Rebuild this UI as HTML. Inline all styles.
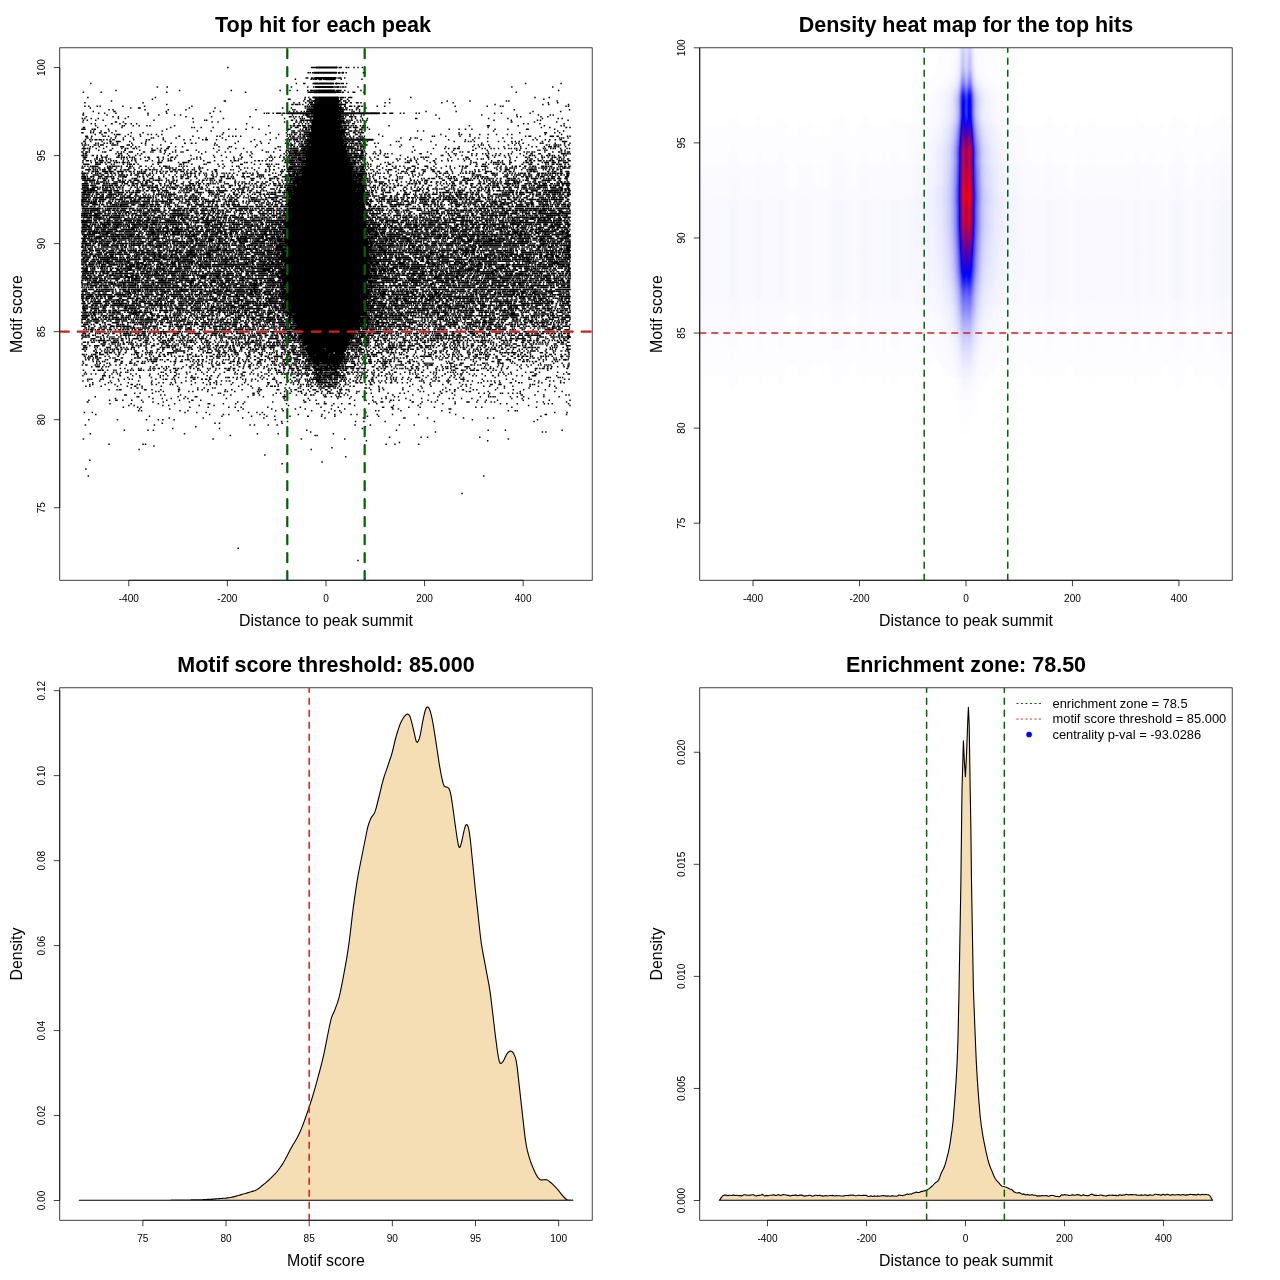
<!DOCTYPE html>
<html lang="en"><head><meta charset="utf-8"><title>Motif enrichment plots</title>
<style>html,body{margin:0;padding:0;background:#fff}body{width:1280px;height:1280px;overflow:hidden}svg{display:block;font-family:"Liberation Sans", Arial, Helvetica, sans-serif}.tk text{font-size:10.1px;text-anchor:middle}.tt{font-size:21.5px;font-weight:bold;text-anchor:middle}.lb{font-size:15.9px;text-anchor:middle}.lg{font-size:12.9px}</style></head><body>
<svg width="1280" height="1280" viewBox="0 0 1280 1280">
<defs><clipPath id="c00"><rect x="59.76" y="47.81" width="532.43" height="532.43"/></clipPath><clipPath id="c10"><rect x="699.76" y="47.81" width="532.43" height="532.43"/></clipPath><clipPath id="c01"><rect x="59.76" y="687.81" width="532.43" height="532.43"/></clipPath><clipPath id="c11"><rect x="699.76" y="687.81" width="532.43" height="532.43"/></clipPath></defs>
<rect width="1280" height="1280" fill="#fff"/>
<g id="p1">
<g clip-path="url(#c00)"><g transform="translate(325.98 0) scale(0.49299 1)" fill="none" stroke="#000" stroke-linecap="round"><path d="M-199 67.53h0m170 0h0m3 0h0m3 0h0m2 0h1m47 0h1m3 0h0m10 0h1m4 0h0m11 0h0m8 0h0m9 0h0M-36 72.81h0m4 0h0m5 0h0m53 0h0m2 0h0m13 0h0m35 0h0m3 0h0M-40 78.09h0m2 0h1m8 0h1m4 0h0m44 0h0m5 0h0m3 0h0m2 0h0m8 0h0M-62 79.33h0m32 0h0m4 0h0m4 0h0m3 0h0m17 0h0m19 0h1m13 0h0m42 0h0M-477 83.38h0m417 0h0m15 0h0m2 0h0m17 0h0m46 0h0m2 0h0m2 0h0m3 0h1m4 0h1m2 0h0m7 0h0m363 0h0m72 0h0M-342 86.9h0m20 0h0m252 0h0m33 0h0m12 0h0m42 0h2m3 0h0m3 0h1m4 0h0m4 0h0m2 0h0m4 0h0m25 0h0m312 0h0m83 0h0M-426 90.42h0m129 0h0m105 0h0m99 0h0m20 0h0m15 0h0m21 0h0m6 0h0m3 0h0m2 0h0m3 0h0m6 0h0m34 0h0m4 0h0m2 0h0m2 0h1m3 0h1m8 0h0m33 0h0m401 0h0M-492 92.18h0m36 0h0m133 0h0m160 0h0m127 0h0m2 0h0m3 0h0m3 0h2m47 0h0m2 0h0m2 0h0m3 0h2m4 0h1m10 0h0m10 0h0m3 0h0m19 0h0m309 0h0M-483 97.46h0m137 0h0m304 0h0m7 0h0m59 0h0m2 0h0m4 0h0m3 0h0m2 0h0m4 0h0m7 0h0m2 0h0m3 0h1m120 0h0m252 0h0m29 0h0M-352 99.22h0m276 0h0m3 0h0m30 0h0m10 0h2m56 0h0m5 0h0m2 0h0m12 0h0m85 0h0m313 0h0M-435 100.98h0m229 0h0m2 0h0m159 0h0m8 0h1m2 0h0m4 0h0m2 0h0m13 0h0m45 0h0m6 0h0m2 0h0m2 0h0m6 0h1m199 0h0m46 0h0m74 0h0m5 0h0m98 0h0M-489 102.74h0m118 0h0m306 0h0m11 0h0m13 0h0m11 0h0m2 0h0m5 0h0m49 0h0m5 0h0m9 0h0m3 0h0m7 0h1m11 0h0m3 0h0m6 0h0m49 0h0m9 0h0m106 0h0m23 0h0m193 0h0m19 0h0M-323 104.5h0m254 0h0m2 0h0m5 0h0m2 0h0m3 0h0m4 0h0m6 0h0m11 0h0m5 0h1m2 0h0m2 0h1m53 0h0m4 0h0m3 0h0m2 0h0m2 0h0m304 0h0m97 0h0m12 0h0m40 0h0M-489 106.26h0m8 0h0m17 0h0m6 0h0m46 0h0m44 0h0m96 0h0m230 0h0m4 0h0m4 0h1m4 0h0m2 0h0m53 0h0m4 0h0m8 0h1m9 0h0m2 0h0m2 0h0m6 0h0m7 0h0m2 0h1m5 0h0m31 0h0m15 0h0m143 0h0m65 0h0m27 0h0m5 0h0m128 0h0m5 0h0M-478 108.03h0m82 0h0m16 0h0m3 0h0m100 0h0m52 0h0m137 0h0m18 0h0m28 0h0m4 0h1m3 0h0m2 0h0m2 0h1m2 0h1m58 0h0m3 0h0m5 0h0m3 0h0m19 0h0m3 0h0m16 0h0M-440 109.79h0m8 0h0m65 0h0m47 0h0m36 0h0m142 0h0m75 0h0m4 0h0m25 0h0m3 0h0m2 0h1m59 0h1m4 0h1m3 0h0m2 0h0m4 0h0m6 0h0m5 0h0m9 0h0m6 0h0m314 0h0m112 0h0M-472 111.55h0m42 0h0m2 0h0m104 0h0m96 0h0m14 0h0m140 0h0m9 0h0m6 0h0m9 0h0m6 0h0m5 0h0m2 0h0m2 0h1m3 0h0m5 0h1m56 0h0m2 0h0m2 0h0m18 0h0m4 0h0m11 0h0m135 0h0m61 0h0m156 0h0m56 0h0M-492 113.31h0m31 0h0m12 0h0m23 0h0m65 0h0m38 0h0m88 0h0m110 0h0m5 0h0m4 0h0m9 0h0m7 0h0m3 0h1m3 0h1m5 0h0m3 0h0m200 0h1m3 0h1m9 0h1m3 0h1m16 0h0m7 0h0m25 0h0m6 0h0m153 0h0m14 0h0m58 0h0M-493 115.07h1m48 0h0m83 0h0m22 0h0m32 0h0m12 0h0m206 0h0m21 0h0m22 0h0m4 0h0m5 0h0m3 0h0m4 0h0m2 0h2m57 0h0m2 0h1m3 0h0m2 0h0m2 0h1m2 0h1m6 0h0m5 0h0m16 0h0m5 0h0m146 0h0m93 0h0m71 0h0m44 0h0m24 0h0m6 0h0M-486 116.83h0m54 0h0m11 0h0m20 0h0m117 0h0m52 0h0m78 0h0m80 0h0m3 0h0m5 0h0m5 0h0m7 0h0m6 0h0m10 0h0m5 0h0m8 0h0m52 0h0m7 0h1m5 0h0m8 0h1m3 0h2m5 0h1m11 0h0m317 0h0m7 0h0m41 0h0m14 0h0M-494 118.59h0m5 0h0m13 0h0m14 0h0m41 0h0m14 0h0m137 0h0m62 0h0m124 0h0m20 0h0m12 0h0m4 0h0m4 0h0m70 0h0m5 0h2m2 0h0m3 0h0m14 0h0m8 0h0m14 0h0m10 0h0m98 0h0m2 0h0m46 0h0m100 0h0m39 0h0m70 0h0m32 0h0m8 0h0M-492 120.35h0m8 0h0m17 0h0m15 0h0m103 0h0m103 0h0m4 0h0m172 0h0m2 0h0m8 0h0m9 0h1m2 0h0m3 0h0m4 0h1m3 0h0m3 0h1m2 0h0m5 0h1m57 0h1m2 0h1m6 0h1m4 0h0m4 0h0m2 0h0m10 0h0m7 0h0m5 0h0m8 0h0m258 0h0m35 0h0m53 0h0m6 0h0m56 0h0M-493 122.11h0m66 0h0m2 0h0m14 0h0m142 0h0m38 0h0m12 0h0m135 0h0m23 0h0m2 0h0m6 0h3m5 0h0m7 0h0m6 0h2m2 0h0m65 0h1m2 0h0m3 0h0m3 0h1m2 0h0m9 0h0m7 0h0m6 0h0m10 0h0m295 0h1m46 0h0m45 0h0M-476 123.87h0m8 0h0m33 0h1m16 0h0m11 0h1m11 0h0m11 0h0m223 0h0m96 0h1m9 0h0m7 0h0m7 0h0m5 0h1m67 0h0m4 0h0m3 0h1m5 0h1m8 0h0m3 0h0m344 0h0m9 0h0m24 0h0m49 0h0M-467 125.63h0m20 0h0m34 0h0m4 0h0m18 0h0m12 0h0m16 0h0m6 0h0m50 0h0m191 0h0m44 0h1m13 0h1m3 0h0m2 0h0m5 0h0m2 0h0m3 0h0m6 0h0m2 0h0m66 0h0m4 0h0m3 0h0m2 0h0m3 0h2m5 0h0m4 0h0m5 0h1m9 0h0m5 0h0m3 0h1m49 0h0m163 0h0m37 0h0m3 0h0m59 0h0m53 0h0m34 0h0m6 0h0M-492 127.39h0m2 0h0m27 0h0m49 0h0m99 0h0m43 0h0m5 0h0m14 0h0m24 0h0m80 0h0m78 0h1m8 0h2m3 0h0m12 0h0m2 0h0m3 0h0m4 0h0m4 0h1m62 0h0m3 0h0m4 0h3m6 0h1m2 0h0m6 0h0m2 0h0m2 0h0m3 0h1m9 0h1m3 0h1m6 0h0m245 0h0m108 0h0m17 0h0m33 0h1m7 0h0M-495 129.15h0m3 0h0m3 0h0m15 0h0m4 0h0m2 0h0m27 0h0m118 0h0m126 0h0m14 0h0m21 0h0m26 0h0m59 0h0m3 0h1m21 0h0m5 0h0m6 0h0m2 0h0m4 0h1m4 0h0m72 0h0m18 0h0m9 0h1m3 0h0m6 0h0m9 0h0m162 0h0m20 0h0m13 0h0m13 0h0m47 0h0m26 0h0m38 0h0m3 0h0m54 0h0M-477 130.91h0m6 0h0m15 0h0m16 0h0m14 0h0m94 0h0m71 0h0m28 0h0m155 0h0m9 0h0m2 0h0m3 0h0m8 0h0m3 0h0m4 0h1m3 0h1m3 0h0m3 0h1m2 0h1m81 0h0m2 0h0m3 0h0m5 0h0m2 0h0m3 0h1m4 0h0m5 0h1m6 0h0m107 0h0m12 0h0m142 0h0m130 0h0m12 0h0M-495 132.67h0m2 0h0m16 0h0m5 0h0m13 0h0m2 0h0m8 0h0m3 0h0m12 0h0m39 0h0m24 0h0m163 0h0m95 0h0m33 0h0m11 0h0m4 0h0m2 0h0m4 0h0m7 0h0m8 0h2m3 0h0m2 0h0m2 0h1m67 0h0m5 0h0m3 0h0m4 0h1m10 0h0m2 0h1m7 0h1m4 0h1m2 0h0m2 0h0m194 0h0m123 0h0m51 0h0m3 0h0m17 0h0m10 0h0M-468 134.44h0m14 0h0m25 0h0m5 0h1m2 0h0m3 0h0m17 0h0m24 0h0m16 0h0m7 0h0m10 0h0m11 0h0m123 0h0m88 0h0m26 0h0m18 0h0m4 0h0m11 0h0m2 0h0m8 0h1m4 0h1m4 0h0m3 0h0m2 0h0m2 0h1m77 0h0m5 0h0m13 0h0m3 0h0m7 0h0m37 0h0m126 0h0m37 0h0m5 0h0m17 0h0m20 0h0m17 0h0m17 0h0m22 0h0m9 0h0m68 0h0m33 0h0M-487 136.2h0m3 0h0m9 0h0m23 0h0m4 0h0m7 0h0m15 0h0m19 0h0m11 0h0m20 0h0m36 0h0m42 0h1m27 0h0m49 0h0m6 0h0m18 0h0m8 0h0m6 0h0m10 0h0m94 0h0m6 0h1m5 0h0m2 0h0m9 0h0m4 0h0m6 0h0m2 0h0m4 0h0m2 0h1m72 0h0m3 0h0m2 0h0m8 0h1m7 0h0m11 0h0m2 0h0m4 0h0m5 0h0m37 0h0m101 0h0m4 0h0m23 0h0m29 0h0m20 0h0m113 0h0m7 0h0m3 0h0m19 0h0m21 0h0m2 0h0m3 0h1m8 0h0m2 0h0m19 0h0m5 0h0M-486 137.96h0m3 0h0m7 0h0m40 0h0m9 0h0m16 0h0m20 0h0m37 0h0m4 0h0m20 0h0m26 0h0m46 0h0m15 0h0m33 0h0m109 0h0m25 0h0m5 0h0m2 0h0m2 0h0m3 0h1m4 0h0m2 0h0m4 0h0m3 0h2m3 0h0m3 0h0m5 0h4m68 0h1m3 0h0m4 0h0m2 0h1m4 0h0m2 0h0m4 0h0m6 0h0m3 0h0m4 0h0m3 0h2m3 0h0m75 0h0m20 0h0m9 0h0m4 0h0m117 0h0m8 0h0m18 0h0m31 0h0m18 0h0m48 0h0m49 0h0m4 0h0m4 0h0m9 0h0M-488 139.72h0m9 0h0m5 0h0m6 0h0m2 0h1m5 0h0m3 0h1m5 0h0m7 0h0m6 0h0m6 0h0m2 0h0m19 0h0m21 0h0m26 0h0m5 0h1m28 0h0m42 0h0m13 0h0m25 0h0m6 0h0m3 0h0m19 0h0m19 0h0m58 0h0m32 0h0m32 0h0m6 0h0m3 0h1m5 0h0m3 0h0m2 0h0m3 0h0m6 0h0m6 0h1m4 0h1m210 0h0m23 0h0m56 0h0m34 0h0m15 0h0m99 0h0m23 0h0m8 0h0m17 0h0m9 0h0m11 0h0m10 0h0m2 0h0M-491 141.48h2m12 0h0m23 0h0m16 0h0m2 0h0m11 0h0m2 0h0m3 0h0m2 0h0m20 0h0m33 0h0m39 0h0m148 0h0m26 0h0m19 0h0m59 0h0m10 0h0m5 0h1m3 0h0m5 0h0m2 0h0m5 0h0m80 0h4m4 0h1m2 0h0m5 0h0m2 0h1m10 0h0m3 0h0m6 0h0m9 0h0m59 0h0m5 0h0m65 0h0m47 0h0m22 0h0m7 0h0m5 0h0m7 0h0m27 0h0m22 0h0m12 0h0m15 0h0m7 0h0m8 0h0m47 0h0m13 0h0m28 0h0m2 0h0m3 0h0m3 0h0M-495 143.24h0m7 0h0m21 0h0m5 0h0m12 0h0m6 0h0m7 0h0m5 0h0m9 0h0m29 0h0m20 0h0m8 0h0m52 0h0m41 0h1m8 0h0m39 0h0m41 0h0m53 0h0m15 0h0m34 0h0m6 0h0m5 0h0m8 0h0m9 0h1m4 0h0m5 0h0m2 0h0m3 0h0m3 0h0m72 0h0m8 0h0m5 0h0m3 0h1m3 0h0m4 0h4m4 0h0m3 0h0m5 0h0m4 0h0m19 0h0m7 0h0m210 0h0m62 0h0m8 0h0m5 0h0m9 0h0m35 0h1m4 0h0m25 0h0m19 0h0m11 0h0M-494 145h0m4 0h0m3 0h0m5 0h0m12 0h0m3 0h0m5 0h0m5 0h0m3 0h0m2 0h0m18 0h1m2 0h0m2 0h2m4 0h0m20 0h0m3 0h1m7 0h0m26 0h0m14 0h0m17 0h0m109 0h0m5 0h0m81 0h0m62 0h1m2 0h0m4 0h0m3 0h0m4 0h0m9 0h0m4 0h1m3 0h1m4 0h0m2 0h0m6 0h0m75 0h0m6 0h0m5 0h0m5 0h1m3 0h0m2 0h0m2 0h0m4 0h0m2 0h4m5 0h0m2 0h1m48 0h0m22 0h0m70 0h0m78 0h0m8 0h0m6 0h0m4 0h0m11 0h0m40 0h0m13 0h0m10 0h0m18 0h0m36 0h1m5 0h0m10 0h0m3 0h0m2 0h0m4 0h0m4 0h0m8 0h0m8 0h1M-491 146.76h0m13 0h0m5 0h0m13 0h0m15 0h0m29 0h0m3 0h0m2 0h0m16 0h0m9 0h0m7 0h0m59 0h0m2 0h0m13 0h0m14 0h0m74 0h0m21 0h0m4 0h0m49 0h0m46 0h0m4 0h0m14 0h0m2 0h0m6 0h0m6 0h1m6 0h0m5 0h0m3 0h0m2 0h1m3 0h0m96 0h1m11 0h1m5 0h0m3 0h0m2 0h0m3 0h0m23 0h0m49 0h0m27 0h0m66 0h0m27 0h0m28 0h0m13 0h0m21 0h0m29 0h0m34 0h0m23 0h0m9 0h0m16 0h0m9 0h2m3 0h0m6 0h0m3 0h0m5 0h1m14 0h0M-494 148.52h0m2 0h1m3 0h0m4 0h0m4 0h1m13 0h0m15 0h0m18 0h0m19 0h0m7 0h1m4 0h0m11 0h0m2 0h0m5 0h0m31 0h0m11 0h0m8 0h0m11 0h0m3 0h0m92 0h0m29 0h0m16 0h0m16 0h0m64 0h1m27 0h1m2 0h0m2 0h0m2 0h0m2 0h1m8 0h0m8 0h0m6 0h0m3 0h0m80 0h0m4 0h1m2 0h1m2 0h2m3 0h0m2 0h0m7 0h1m5 0h1m5 0h1m141 0h0m23 0h0m8 0h0m11 0h0m2 0h0m5 0h0m3 0h0m34 0h0m13 0h0m6 0h0m12 0h0m6 0h0m9 0h0m13 0h0m8 0h0m5 0h0m7 0h0m4 0h0m8 0h0m11 0h0m35 0h0m4 0h0m11 0h0m5 0h0m4 0h0m11 0h0m13 0h0m5 0h0M-491 150.28h0m11 0h0m19 0h0m23 0h0m2 0h0m28 0h1m29 0h0m25 0h0m3 0h0m3 0h0m11 0h0m9 0h0m2 0h0m20 0h0m23 0h0m2 0h0m17 0h0m46 0h0m88 0h0m36 0h0m13 0h0m8 0h1m4 0h2m3 0h0m3 0h2m5 0h1m3 0h0m2 0h0m99 0h0m6 0h2m2 0h0m3 0h2m3 0h1m2 0h0m4 0h0m32 0h0m70 0h0m79 0h0m39 0h1m28 0h0m60 0h0m6 0h0m37 0h0m4 0h0m10 0h0m4 0h0m29 0h1m7 0h0M-495 152.04h0m2 0h0m6 0h0m2 0h1m4 0h0m27 0h0m4 0h0m2 0h0m24 0h1m7 0h0m5 0h0m11 0h0m3 0h0m3 0h0m23 0h0m2 0h0m13 0h0m4 0h0m15 0h1m9 0h0m15 0h0m6 0h0m11 0h0m4 0h0m32 0h0m14 0h0m23 0h0m17 0h0m10 0h0m34 0h0m8 0h0m31 0h0m4 0h0m11 0h0m25 0h1m8 0h1m2 0h0m2 0h0m9 0h0m2 0h0m2 0h0m3 0h0m3 0h0m5 0h0m3 0h0m6 0h0m78 0h2m6 0h1m10 0h0m16 0h0m19 0h1m12 0h0m64 0h0m31 0h0m38 0h0m12 0h0m16 0h0m5 0h0m11 0h0m2 0h0m39 0h0m49 0h0m24 0h0m6 0h0m4 0h0m6 0h1m4 0h0m21 0h0m16 0h0m12 0h0m2 0h0m4 0h0m7 0h0m5 0h1m2 0h1M-492 153.8h0m4 0h0m2 0h0m60 0h0m6 0h0m4 0h1m12 0h0m21 0h0m8 0h0m46 0h0m11 0h0m65 0h0m80 0h0m22 0h0m65 0h0m6 0h0m5 0h0m2 0h1m2 0h0m6 0h0m3 0h0m3 0h0m4 0h0m2 0h0m2 0h0m2 0h0m98 0h1m2 0h1m3 0h2m2 0h1m3 0h0m5 0h0m2 0h0m2 0h0m6 0h1m14 0h0m5 0h0m9 0h0m10 0h0m5 0h0m9 0h0m57 0h0m2 0h0m20 0h0m35 0h0m12 0h0m4 0h0m32 0h0m10 0h0m12 0h0m6 0h0m6 0h0m15 0h0m9 0h0m16 0h0m6 0h0m18 0h0m13 0h0m9 0h0m2 0h0m14 0h0m3 0h0m17 0h0m2 0h0m24 0h0m3 0h0m2 0h0m2 0h0m4 0h0m2 0h0m4 0h0M-495 155.56h0m2 0h0m2 0h0m4 0h2m11 0h0m2 0h0m8 0h0m8 0h0m12 0h0m23 0h0m2 0h0m5 0h0m14 0h0m14 0h0m9 0h0m57 0h0m18 0h0m28 0h0m46 0h0m16 0h0m38 0h0m20 0h0m42 0h0m20 0h0m11 0h1m5 0h0m3 0h3m4 0h0m3 0h2m2 0h0m2 0h0m9 0h2m3 0h0m4 0h0m81 0h0m3 0h0m2 0h1m2 0h1m7 0h0m3 0h0m5 0h0m3 0h0m3 0h0m3 0h0m4 0h0m26 0h0m12 0h0m33 0h0m83 0h0m3 0h0m13 0h0m13 0h0m13 0h0m20 0h0m9 0h0m21 0h0m2 0h0m10 0h0m6 0h0m7 0h1m10 0h0m9 0h0m30 0h0m12 0h0m2 0h0m4 0h0m4 0h0m15 0h0m10 0h1m4 0h1m5 0h0m4 0h0m9 0h0m10 0h0m5 0h0M-492 157.32h0m2 0h0m3 0h1m21 0h1m9 0h2m5 0h0m3 0h0m21 0h0m3 0h1m5 0h1m4 0h1m5 0h0m6 0h0m5 0h0m4 0h0m22 0h0m6 0h0m2 0h0m17 0h0m2 0h0m10 0h0m16 0h0m3 0h0m6 0h0m43 0h0m7 0h0m29 0h0m24 0h0m15 0h0m16 0h1m19 0h0m36 0h1m4 0h0m6 0h0m10 0h0m8 0h1m7 0h0m2 0h1m11 0h0m2 0h0m2 0h0m4 0h0m2 0h1m2 0h0m100 0h1m3 0h0m4 0h0m5 0h0m2 0h0m2 0h1m2 0h0m2 0h0m2 0h2m14 0h0m10 0h0m22 0h0m2 0h0m3 0h0m40 0h0m13 0h0m14 0h0m4 0h0m5 0h0m2 0h0m4 0h0m45 0h0m31 0h0m2 0h0m2 0h0m40 0h0m2 0h0m12 0h0m22 0h0m9 0h0m14 0h0m18 0h2m5 0h0m13 0h0m13 0h1m4 0h0m8 0h0m8 0h1m4 0h0m2 0h0m7 0h0m3 0h0m7 0h0M-491 159.09h0m3 0h0m19 0h0m4 0h1m5 0h0m5 0h0m8 0h0m5 0h0m4 0h0m22 0h0m5 0h0m7 0h0m10 0h0m5 0h0m2 0h0m10 0h0m17 0h1m19 0h0m9 0h0m10 0h0m5 0h0m8 0h0m34 0h0m5 0h0m6 0h0m8 0h0m68 0h0m9 0h0m5 0h0m53 0h0m11 0h0m23 0h0m2 0h0m8 0h0m3 0h1m2 0h0m2 0h0m2 0h1m3 0h0m2 0h1m8 0h1m3 0h0m2 0h0m93 0h0m3 0h1m3 0h0m5 0h0m2 0h0m5 0h1m2 0h0m4 0h0m5 0h0m11 0h0m13 0h0m2 0h0m37 0h1m6 0h0m11 0h0m11 0h0m8 0h0m6 0h0m13 0h0m24 0h0m24 0h0m21 0h0m11 0h0m6 0h0m5 0h1m16 0h0m8 0h0m4 0h0m11 0h0m44 0h0m35 0h0m5 0h0m2 0h0m2 0h0m12 0h0m9 0h0m17 0h0m3 0h0m10 0h0m4 0h0m5 0h0m4 0h0m8 0h0m2 0h0M-493 160.85h0m7 0h1m3 0h0m5 0h0m9 0h0m8 0h0m3 0h0m2 0h0m2 0h1m7 0h0m9 0h0m5 0h0m5 0h1m14 0h0m10 0h0m7 0h0m7 0h1m20 0h0m4 0h0m10 0h0m13 0h0m7 0h0m12 0h0m4 0h0m3 0h0m34 0h1m2 0h0m28 0h0m22 0h0m16 0h0m17 0h0m7 0h0m3 0h0m5 0h0m34 0h0m7 0h0m2 0h0m6 0h0m7 0h0m8 0h0m4 0h0m22 0h0m6 0h0m7 0h0m3 0h0m6 0h0m2 0h0m4 0h1m4 0h1m3 0h0m2 0h0m9 0h0m88 0h1m4 0h0m3 0h0m9 0h2m2 0h0m6 0h0m19 0h0m52 0h0m20 0h0m5 0h0m2 0h0m10 0h0m22 0h0m13 0h0m2 0h0m15 0h0m13 0h0m7 0h0m26 0h0m13 0h0m42 0h0m13 0h2m7 0h0m15 0h0m11 0h0m21 0h0m2 0h0m6 0h0m3 0h0m6 0h1m8 0h0m2 0h3m6 0h0m6 0h0m5 0h0m3 0h0m4 0h2m10 0h0m2 0h0m3 0h0m4 0h0m4 0h0m7 0h3M-493 162.61h0m17 0h0m9 0h1m3 0h0m5 0h0m2 0h2m6 0h0m6 0h0m2 0h0m2 0h0m9 0h0m4 0h0m2 0h0m4 0h0m6 0h0m3 0h0m2 0h0m5 0h0m4 0h0m14 0h0m44 0h0m3 0h0m3 0h1m35 0h0m9 0h0m3 0h0m3 0h1m4 0h0m39 0h0m3 0h0m2 0h0m45 0h0m25 0h0m4 0h1m9 0h0m68 0h1m2 0h0m4 0h1m6 0h0m3 0h0m2 0h3m2 0h0m9 0h0m2 0h1m97 0h0m21 0h1m12 0h0m36 0h0m6 0h0m10 0h0m25 0h1m4 0h0m3 0h0m15 0h0m27 0h0m10 0h0m73 0h0m6 0h0m4 0h1m20 0h0m10 0h0m5 0h0m2 0h0m3 0h0m4 0h0m5 0h0m4 0h0m15 0h0m3 0h0m25 0h0m5 0h0m3 0h1m6 0h0m2 0h0m21 0h0m5 0h0m2 0h0m3 0h0m2 0h0m8 0h1m2 0h0m2 0h1m7 0h0m10 0h0m3 0h0m2 0h0m2 0h1M-491 164.37h0m3 0h1m3 0h0m3 0h0m14 0h4m2 0h0m2 0h1m12 0h0m11 0h0m5 0h0m19 0h0m9 0h0m4 0h0m3 0h0m5 0h1m8 0h0m30 0h0m11 0h0m44 0h0m2 0h0m5 0h0m17 0h0m25 0h0m4 0h0m24 0h0m10 0h0m36 0h0m3 0h0m25 0h0m12 0h0m12 0h0m2 0h0m4 0h0m5 0h0m9 0h1m4 0h0m24 0h0m2 0h1m2 0h0m10 0h3m4 0h0m5 0h2m97 0h0m2 0h1m3 0h0m6 0h0m6 0h1m3 0h0m3 0h0m2 0h0m5 0h0m5 0h0m20 0h0m16 0h0m2 0h0m2 0h0m56 0h0m36 0h0m70 0h0m13 0h0m12 0h1m4 0h0m7 0h0m10 0h0m5 0h0m4 0h0m2 0h0m8 0h0m3 0h0m11 0h0m25 0h1m13 0h0m2 0h0m3 0h0m13 0h1m15 0h0m5 0h0m8 0h0m3 0h0m6 0h0m2 0h0m4 0h0m2 0h1m8 0h0m7 0h0M-494 166.13h0m5 0h0m6 0h0m10 0h1m2 0h0m3 0h0m2 0h0m2 0h0m20 0h0m4 0h0m2 0h0m4 0h0m2 0h1m2 0h0m4 0h0m4 0h0m5 0h0m11 0h1m5 0h1m4 0h0m16 0h0m2 0h0m10 0h0m11 0h0m17 0h0m8 0h0m3 0h0m3 0h0m5 0h0m20 0h0m5 0h0m5 0h0m6 0h0m25 0h0m40 0h0m11 0h0m16 0h0m9 0h0m4 0h0m59 0h1m4 0h0m8 0h0m20 0h0m6 0h0m5 0h0m2 0h1m3 0h0m127 0h2m4 0h0m7 0h0m5 0h0m2 0h1m5 0h0m6 0h0m13 0h0m4 0h0m15 0h0m12 0h0m7 0h0m8 0h0m8 0h0m17 0h0m2 0h0m2 0h1m21 0h0m2 0h0m3 0h0m13 0h0m25 0h0m8 0h0m19 0h0m6 0h1m6 0h0m3 0h0m17 0h0m2 0h0m10 0h0m3 0h0m3 0h1m3 0h0m22 0h0m7 0h0m10 0h0m13 0h0m6 0h0m2 0h0m7 0h1m9 0h0m2 0h0m9 0h0m5 0h0m2 0h0m4 0h0m13 0h3m4 0h0m2 0h0m4 0h0m4 0h0m3 0h0m14 0h0m4 0h0m3 0h0m5 0h2m7 0h0m2 0h0M-495 167.89h0m3 0h0m12 0h0m6 0h0m2 0h0m4 0h1m5 0h0m3 0h0m10 0h0m6 0h0m4 0h2m3 0h0m9 0h0m10 0h0m15 0h0m3 0h1m6 0h0m11 0h0m19 0h0m11 0h0m16 0h0m8 0h0m3 0h0m3 0h0m3 0h0m4 0h1m7 0h0m14 0h0m23 0h0m9 0h0m3 0h0m4 0h1m41 0h0m33 0h0m11 0h0m6 0h0m9 0h0m14 0h0m21 0h0m19 0h0m17 0h0m3 0h1m9 0h0m2 0h1m3 0h0m4 0h1m2 0h2m2 0h0m106 0h0m4 0h0m2 0h0m2 0h1m3 0h1m3 0h0m3 0h0m4 0h0m7 0h0m16 0h0m12 0h0m23 0h1m3 0h0m18 0h0m6 0h0m3 0h0m2 0h0m10 0h0m5 0h1m19 0h0m7 0h0m10 0h0m11 0h0m18 0h0m9 0h0m16 0h0m5 0h0m2 0h0m39 0h0m5 0h0m14 0h0m4 0h0m7 0h0m2 0h0m9 0h0m2 0h1m6 0h2m3 0h0m4 0h0m4 0h0m14 0h0m4 0h0m8 0h0m4 0h1m2 0h0m4 0h0m3 0h0m6 0h0m5 0h0m2 0h0m2 0h0m2 0h0m3 0h0m2 0h0m6 0h0m4 0h0m4 0h1m6 0h1m5 0h0m5 0h1m2 0h0m2 0h0m4 0h0m3 0h0m2 0h0M-487 169.65h0m2 0h0m3 0h0m3 0h1m6 0h0m4 0h0m4 0h0m6 0h0m5 0h0m2 0h0m3 0h0m8 0h1m2 0h0m8 0h0m2 0h0m11 0h0m7 0h0m2 0h0m4 0h0m3 0h0m12 0h0m14 0h0m8 0h0m2 0h0m6 0h0m2 0h0m5 0h0m4 0h0m4 0h0m9 0h0m17 0h0m7 0h0m2 0h0m3 0h0m6 0h0m2 0h0m3 0h0m6 0h0m8 0h0m9 0h0m4 0h0m11 0h0m16 0h0m14 0h1m3 0h0m29 0h0m5 0h0m15 0h0m28 0h0m31 0h0m8 0h1m16 0h0m5 0h0m6 0h0m3 0h1m2 0h1m2 0h0m2 0h1m3 0h0m2 0h0m6 0h1m95 0h0m12 0h0m2 0h0m2 0h0m4 0h0m4 0h0m13 0h0m5 0h0m8 0h0m4 0h0m13 0h1m13 0h0m5 0h0m3 0h0m3 0h0m14 0h0m17 0h0m2 0h0m13 0h0m16 0h0m2 0h0m4 0h0m13 0h0m3 0h0m2 0h0m35 0h0m22 0h0m26 0h0m8 0h0m8 0h0m5 0h0m24 0h0m8 0h0m9 0h0m3 0h0m3 0h1m11 0h0m15 0h0m11 0h0m4 0h2m3 0h0m3 0h0m2 0h0m4 0h0m15 0h0m5 0h0m7 0h1m6 0h1m8 0h0m2 0h0m5 0h0m2 0h0M-494 171.41h0m13 0h0m7 0h1m2 0h0m4 0h0m3 0h0m2 0h0m9 0h0m2 0h0m2 0h1m2 0h0m2 0h1m4 0h0m2 0h0m3 0h0m2 0h0m9 0h1m2 0h0m2 0h0m3 0h0m2 0h0m2 0h0m6 0h0m6 0h0m2 0h1m6 0h0m8 0h0m4 0h0m4 0h0m5 0h0m3 0h0m14 0h0m9 0h0m6 0h1m6 0h0m6 0h2m7 0h0m3 0h0m6 0h0m4 0h0m8 0h1m2 0h0m2 0h0m7 0h0m8 0h0m9 0h0m2 0h0m9 0h1m22 0h0m7 0h0m2 0h0m45 0h0m15 0h0m22 0h0m17 0h1m7 0h0m23 0h0m3 0h0m2 0h0m8 0h0m2 0h0m11 0h1m3 0h0m4 0h1m115 0h0m2 0h0m3 0h0m4 0h1m4 0h3m3 0h1m18 0h0m7 0h0m21 0h1m16 0h0m12 0h0m2 0h0m2 0h0m5 0h0m10 0h1m2 0h0m2 0h0m2 0h0m18 0h0m3 0h0m16 0h0m3 0h0m7 0h0m3 0h0m14 0h0m2 0h0m10 0h0m19 0h0m9 0h0m8 0h0m5 0h0m6 0h0m7 0h0m2 0h0m12 0h0m2 0h0m3 0h0m4 0h0m2 0h0m18 0h0m9 0h0m3 0h0m7 0h0m3 0h0m6 0h0m28 0h0m5 0h0m3 0h0m4 0h0m3 0h0m4 0h0m22 0h0m2 0h0m7 0h0m4 0h1m2 0h0m10 0h0m2 0h0m9 0h0m2 0h1m2 0h0M-495 173.17h0m2 0h0m3 0h0m3 0h0m4 0h0m8 0h0m8 0h0m4 0h0m4 0h0m2 0h0m9 0h1m2 0h2m6 0h0m2 0h0m5 0h0m2 0h0m7 0h0m7 0h1m18 0h0m6 0h0m7 0h0m3 0h0m4 0h0m2 0h0m2 0h0m2 0h2m10 0h0m5 0h0m8 0h0m9 0h2m8 0h0m22 0h0m16 0h0m5 0h0m2 0h0m5 0h0m3 0h0m5 0h1m9 0h1m8 0h0m5 0h0m13 0h0m9 0h0m10 0h0m4 0h0m5 0h0m6 0h1m8 0h0m18 0h0m3 0h1m6 0h0m5 0h0m6 0h0m9 0h1m30 0h0m6 0h0m12 0h0m15 0h1m6 0h0m9 0h0m6 0h0m3 0h0m104 0h0m11 0h4m3 0h1m2 0h1m2 0h1m3 0h0m5 0h0m5 0h0m9 0h0m5 0h0m4 0h0m8 0h0m8 0h0m21 0h0m5 0h0m9 0h0m4 0h0m10 0h0m14 0h0m8 0h0m26 0h0m8 0h2m7 0h0m3 0h0m4 0h0m10 0h0m16 0h0m5 0h0m6 0h1m6 0h0m6 0h1m3 0h0m22 0h2m11 0h2m2 0h0m2 0h0m5 0h0m12 0h0m9 0h0m5 0h0m5 0h0m6 0h0m7 0h0m4 0h0m3 0h0m4 0h2m7 0h0m2 0h0m17 0h1m2 0h0m5 0h0m2 0h0m2 0h0m4 0h0m5 0h0m4 0h0m4 0h0m3 0h0m3 0h0m4 0h1m2 0h0m4 0h0m3 0h0m14 0h0M-494 174.93h1m3 0h0m5 0h0m13 0h0m2 0h0m3 0h0m2 0h0m2 0h0m2 0h0m5 0h0m3 0h0m2 0h0m9 0h0m8 0h0m7 0h0m7 0h0m3 0h0m3 0h1m3 0h1m5 0h1m7 0h1m8 0h0m2 0h0m2 0h0m2 0h0m10 0h0m7 0h0m4 0h0m3 0h0m7 0h0m21 0h0m11 0h0m12 0h0m12 0h0m5 0h0m4 0h0m4 0h0m7 0h0m9 0h0m8 0h0m11 0h0m4 0h0m10 0h0m3 0h0m8 0h0m15 0h0m7 0h0m9 0h0m10 0h0m12 0h0m17 0h0m2 0h1m10 0h0m3 0h1m3 0h0m3 0h1m11 0h0m2 0h0m18 0h0m4 0h0m10 0h2m2 0h1m2 0h0m5 0h0m6 0h0m4 0h0m4 0h0m2 0h1m2 0h0m2 0h0m113 0h0m12 0h0m3 0h0m3 0h0m6 0h0m8 0h0m4 0h0m30 0h0m2 0h0m11 0h0m25 0h0m8 0h0m5 0h0m9 0h0m5 0h0m30 0h0m13 0h0m12 0h0m19 0h0m28 0h1m2 0h0m5 0h0m2 0h0m2 0h0m3 0h0m2 0h0m24 0h0m3 0h1m2 0h0m3 0h0m16 0h0m2 0h0m2 0h0m2 0h0m8 0h0m6 0h0m4 0h0m3 0h1m3 0h0m7 0h0m2 0h0m2 0h0m6 0h1m2 0h0m3 0h0m11 0h0m2 0h0m2 0h0m6 0h1m4 0h0m2 0h0m2 0h0m2 0h1m4 0h1m4 0h0m7 0h0m4 0h0m6 0h0m2 0h0m5 0h0m6 0h0M-495 176.69h1m2 0h1m3 0h0m4 0h0m7 0h0m6 0h0m10 0h0m2 0h0m2 0h0m2 0h0m7 0h1m2 0h3m4 0h0m3 0h0m4 0h0m11 0h0m4 0h0m4 0h2m4 0h1m23 0h0m11 0h1m8 0h0m10 0h0m13 0h0m10 0h0m18 0h1m7 0h0m9 0h0m3 0h1m10 0h1m4 0h0m9 0h0m2 0h0m21 0h0m14 0h1m5 0h0m9 0h1m3 0h1m3 0h0m7 0h0m7 0h0m4 0h0m18 0h0m3 0h1m6 0h1m3 0h0m16 0h1m4 0h0m4 0h0m4 0h0m22 0h1m2 0h0m2 0h0m12 0h1m3 0h0m3 0h0m6 0h2m3 0h0m2 0h0m7 0h0m8 0h0m108 0h0m12 0h0m3 0h0m11 0h0m8 0h0m6 0h0m14 0h0m8 0h0m12 0h0m16 0h0m5 0h0m5 0h0m22 0h0m10 0h0m37 0h0m5 0h0m2 0h0m13 0h0m4 0h0m6 0h0m5 0h0m3 0h0m13 0h0m5 0h0m17 0h0m6 0h0m4 0h0m2 0h0m5 0h0m4 0h0m2 0h0m5 0h1m2 0h0m15 0h0m18 0h0m4 0h0m2 0h1m13 0h0m5 0h0m11 0h0m2 0h1m6 0h0m2 0h0m4 0h1m4 0h0m9 0h0m5 0h0m5 0h0m3 0h1m2 0h0m9 0h0m9 0h0m3 0h1m8 0h1m13 0h0m2 0h0m3 0h0M-495 178.45h0m2 0h0m2 0h0m3 0h0m4 0h0m3 0h0m2 0h0m7 0h0m10 0h0m4 0h0m8 0h1m4 0h1m10 0h1m3 0h0m8 0h0m10 0h0m19 0h1m4 0h2m2 0h0m14 0h1m12 0h0m3 0h0m3 0h0m12 0h0m2 0h0m13 0h0m14 0h0m16 0h0m2 0h0m8 0h0m3 0h0m2 0h0m17 0h0m17 0h0m5 0h0m5 0h1m3 0h0m2 0h1m16 0h0m10 0h1m3 0h1m2 0h1m5 0h0m2 0h0m22 0h0m13 0h1m3 0h0m2 0h0m13 0h0m9 0h0m10 0h0m3 0h0m2 0h0m4 0h0m6 0h0m3 0h0m14 0h0m4 0h2m8 0h1m3 0h0m2 0h0m119 0h0m3 0h0m5 0h0m7 0h0m10 0h0m3 0h0m4 0h0m8 0h0m12 0h0m10 0h0m3 0h0m23 0h0m5 0h0m4 0h0m17 0h0m23 0h0m5 0h0m9 0h0m2 0h0m5 0h0m2 0h1m2 0h0m11 0h0m4 0h0m13 0h1m2 0h0m2 0h0m2 0h0m5 0h0m5 0h0m15 0h0m3 0h0m3 0h0m3 0h0m5 0h0m6 0h0m2 0h0m6 0h0m8 0h1m5 0h1m4 0h1m2 0h1m4 0h0m4 0h0m8 0h0m7 0h1m13 0h0m2 0h0m3 0h0m4 0h0m4 0h0m3 0h0m6 0h1m16 0h0m2 0h1m7 0h1m2 0h1m3 0h2m2 0h1m6 0h0m7 0h0m5 0h0m4 0h0m3 0h0m4 0h0m2 0h0m3 0h0m7 0h0m3 0h0m3 0h0m9 0h1m3 0h0M-493 180.21h1m3 0h0m2 0h0m2 0h0m2 0h1m3 0h0m3 0h0m3 0h0m4 0h0m6 0h0m12 0h0m2 0h0m2 0h0m6 0h0m8 0h1m11 0h0m3 0h1m5 0h0m5 0h0m8 0h0m3 0h0m7 0h0m2 0h0m3 0h0m3 0h1m10 0h2m5 0h1m2 0h0m2 0h0m8 0h0m4 0h0m3 0h1m3 0h0m2 0h0m4 0h0m10 0h0m4 0h0m9 0h0m2 0h0m5 0h1m28 0h0m17 0h0m7 0h0m2 0h0m6 0h0m7 0h0m4 0h0m5 0h0m10 0h1m3 0h0m28 0h0m33 0h0m3 0h0m34 0h0m2 0h0m14 0h0m9 0h0m6 0h3m2 0h0m3 0h0m8 0h0m138 0h1m3 0h0m3 0h0m2 0h0m4 0h1m4 0h0m10 0h1m2 0h0m25 0h1m7 0h0m7 0h0m3 0h0m27 0h1m6 0h0m7 0h0m9 0h0m6 0h0m3 0h0m2 0h0m31 0h1m2 0h0m12 0h0m9 0h0m3 0h2m11 0h0m3 0h0m2 0h0m5 0h1m3 0h0m2 0h0m4 0h0m14 0h0m9 0h0m6 0h0m5 0h0m2 0h0m6 0h0m6 0h0m9 0h0m11 0h0m4 0h0m3 0h0m4 0h0m3 0h0m3 0h0m4 0h1m6 0h0m7 0h0m5 0h0m2 0h0m2 0h1m12 0h0m2 0h1m14 0h0m2 0h0m2 0h1m3 0h1m2 0h1m2 0h1m2 0h0m7 0h2m8 0h0m2 0h0m14 0h0M-489 181.97h2m2 0h0m6 0h0m3 0h0m2 0h0m4 0h0m5 0h0m3 0h1m4 0h1m3 0h0m2 0h2m4 0h0m4 0h0m11 0h0m2 0h1m3 0h1m4 0h0m2 0h0m2 0h0m2 0h1m3 0h0m7 0h1m5 0h0m2 0h0m3 0h1m9 0h0m3 0h1m5 0h0m7 0h0m2 0h0m5 0h1m2 0h0m2 0h0m14 0h0m15 0h0m6 0h1m4 0h0m2 0h1m7 0h0m14 0h0m11 0h0m2 0h0m13 0h0m2 0h0m2 0h0m8 0h0m17 0h0m5 0h0m7 0h0m6 0h0m3 0h0m7 0h0m21 0h0m2 0h0m7 0h0m6 0h0m4 0h1m10 0h0m15 0h0m3 0h0m8 0h0m7 0h0m3 0h0m12 0h0m11 0h0m8 0h0m9 0h1m7 0h0m17 0h0m3 0h0m116 0h0m3 0h0m3 0h2m2 0h1m3 0h0m5 0h1m2 0h0m2 0h0m4 0h0m7 0h0m3 0h0m5 0h0m2 0h0m2 0h0m2 0h1m2 0h0m11 0h0m16 0h0m9 0h0m10 0h0m7 0h0m9 0h0m4 0h0m5 0h0m3 0h0m9 0h0m4 0h1m8 0h0m11 0h0m3 0h0m6 0h0m11 0h0m11 0h1m3 0h0m13 0h0m3 0h0m8 0h1m2 0h0m25 0h0m3 0h0m7 0h0m5 0h0m9 0h1m3 0h0m3 0h1m5 0h0m5 0h0m2 0h1m9 0h0m2 0h0m3 0h0m11 0h0m2 0h0m3 0h1m4 0h1m4 0h0m14 0h0m4 0h0m6 0h0m3 0h0m2 0h0m9 0h0m2 0h0m4 0h0m5 0h0m5 0h0m2 0h1m16 0h0m2 0h0m4 0h0m9 0h0m2 0h0m4 0h0m2 0h0M-494 183.73h2m2 0h0m2 0h0m3 0h0m2 0h0m8 0h0m5 0h0m4 0h0m2 0h0m3 0h1m9 0h1m4 0h2m4 0h1m5 0h0m3 0h1m2 0h0m2 0h0m2 0h0m11 0h0m5 0h0m2 0h0m2 0h1m10 0h0m2 0h1m4 0h4m7 0h0m2 0h1m6 0h0m3 0h0m11 0h0m2 0h0m13 0h0m2 0h0m8 0h0m10 0h1m2 0h0m5 0h0m2 0h1m13 0h0m3 0h0m14 0h2m2 0h0m3 0h0m6 0h0m5 0h0m3 0h0m7 0h0m7 0h0m3 0h0m4 0h0m5 0h0m4 0h0m6 0h0m14 0h0m4 0h0m3 0h0m14 0h0m6 0h0m8 0h0m6 0h0m2 0h1m5 0h0m6 0h0m6 0h0m2 0h0m11 0h0m4 0h0m3 0h0m11 0h0m7 0h1m3 0h0m7 0h0m2 0h0m7 0h0m5 0h0m4 0h1m2 0h4m2 0h0m2 0h0m143 0h1m3 0h0m9 0h0m19 0h0m2 0h1m2 0h0m5 0h1m2 0h0m8 0h0m7 0h0m10 0h0m20 0h2m4 0h1m2 0h0m5 0h0m3 0h0m6 0h1m10 0h0m3 0h0m20 0h0m8 0h0m7 0h0m6 0h0m6 0h0m6 0h1m2 0h0m12 0h0m2 0h0m10 0h0m3 0h0m7 0h1m3 0h0m11 0h0m2 0h0m2 0h0m6 0h0m3 0h0m8 0h0m2 0h1m6 0h0m8 0h0m3 0h0m5 0h0m7 0h0m3 0h0m3 0h0m3 0h1m2 0h0m4 0h0m4 0h0m2 0h0m4 0h0m2 0h1m13 0h0m2 0h0m2 0h0m4 0h0m2 0h0m2 0h0m7 0h1m3 0h1m5 0h0m7 0h0m2 0h0m2 0h0m3 0h0m9 0h0m3 0h0m5 0h0m5 0h0m4 0h0m6 0h0m3 0h1m3 0h0m2 0h0M-494 185.5h0m3 0h3m3 0h0m3 0h0m5 0h1m3 0h0m2 0h0m18 0h0m2 0h0m2 0h1m4 0h0m4 0h0m2 0h2m2 0h1m5 0h1m3 0h1m7 0h1m5 0h0m9 0h0m2 0h0m6 0h1m3 0h0m6 0h0m9 0h0m3 0h0m3 0h1m2 0h0m4 0h0m4 0h1m4 0h0m7 0h0m3 0h0m7 0h0m8 0h0m5 0h0m2 0h0m5 0h0m10 0h0m2 0h0m2 0h0m2 0h0m10 0h0m5 0h0m4 0h0m2 0h0m3 0h0m5 0h0m2 0h2m7 0h0m2 0h0m14 0h0m5 0h0m26 0h0m4 0h0m12 0h0m2 0h0m2 0h0m2 0h0m6 0h0m7 0h0m3 0h0m9 0h0m12 0h0m6 0h0m7 0h0m7 0h0m3 0h0m9 0h0m5 0h0m11 0h0m3 0h0m5 0h0m3 0h1m4 0h0m6 0h0m3 0h0m6 0h0m2 0h0m3 0h1m5 0h0m4 0h1m135 0h0m3 0h0m2 0h1m4 0h1m9 0h0m3 0h0m8 0h0m8 0h0m3 0h0m6 0h0m14 0h0m6 0h0m2 0h0m5 0h0m2 0h0m11 0h0m16 0h0m16 0h0m12 0h1m4 0h0m12 0h0m9 0h0m13 0h0m7 0h0m2 0h0m4 0h0m2 0h0m15 0h0m16 0h0m2 0h0m10 0h0m8 0h0m13 0h0m2 0h0m5 0h0m5 0h0m2 0h0m4 0h0m3 0h1m9 0h0m10 0h0m3 0h0m7 0h2m5 0h0m5 0h0m8 0h0m2 0h1m2 0h0m2 0h0m7 0h0m5 0h0m4 0h1m8 0h0m2 0h0m3 0h1m2 0h0m3 0h0m3 0h0m2 0h0m2 0h0m6 0h0m2 0h0m10 0h2m2 0h0m3 0h0m7 0h1m7 0h0m2 0h1m2 0h0M-488 187.26h0m3 0h0m2 0h0m9 0h2m3 0h0m3 0h0m3 0h0m5 0h0m5 0h1m5 0h1m7 0h0m2 0h0m5 0h1m6 0h0m4 0h1m2 0h0m5 0h1m17 0h0m8 0h0m4 0h0m6 0h0m5 0h0m10 0h1m3 0h0m4 0h0m3 0h0m2 0h0m3 0h1m3 0h0m11 0h0m2 0h0m6 0h0m5 0h1m4 0h0m3 0h0m3 0h0m5 0h0m6 0h0m4 0h0m8 0h0m2 0h1m5 0h0m2 0h1m6 0h0m9 0h1m4 0h0m2 0h0m10 0h0m13 0h0m7 0h0m3 0h0m6 0h1m4 0h0m11 0h2m19 0h0m7 0h0m2 0h1m4 0h0m4 0h0m11 0h0m6 0h0m5 0h0m3 0h0m6 0h0m2 0h0m25 0h0m7 0h0m2 0h1m5 0h0m2 0h0m4 0h1m3 0h0m4 0h0m7 0h0m142 0h0m2 0h0m9 0h0m4 0h0m2 0h0m4 0h0m5 0h0m9 0h0m9 0h0m6 0h0m2 0h0m7 0h0m3 0h0m18 0h0m3 0h0m11 0h0m7 0h0m7 0h0m8 0h0m12 0h0m16 0h0m17 0h1m4 0h0m10 0h0m4 0h0m13 0h0m11 0h1m16 0h3m8 0h1m4 0h0m7 0h0m3 0h0m5 0h0m7 0h0m3 0h2m5 0h0m2 0h0m2 0h0m8 0h1m2 0h0m3 0h0m2 0h0m4 0h0m2 0h1m8 0h0m3 0h0m3 0h1m8 0h0m3 0h0m3 0h2m7 0h1m4 0h0m4 0h0m5 0h2m2 0h3m3 0h1m4 0h0m3 0h0m3 0h0m8 0h0m3 0h0m3 0h2m2 0h0m7 0h0m2 0h0m3 0h1m11 0h0m2 0h0M-495 189.02h1m3 0h0m3 0h0m3 0h0m22 0h1m2 0h1m6 0h1m2 0h0m3 0h0m2 0h0m2 0h0m6 0h0m2 0h0m4 0h1m7 0h0m5 0h0m5 0h1m15 0h0m14 0h0m3 0h0m9 0h0m2 0h1m9 0h1m5 0h2m8 0h1m2 0h0m5 0h2m9 0h0m8 0h0m5 0h0m3 0h0m14 0h0m5 0h0m2 0h0m2 0h0m3 0h0m3 0h0m4 0h0m3 0h0m4 0h2m5 0h0m6 0h0m3 0h0m2 0h0m6 0h0m7 0h0m18 0h2m13 0h0m15 0h1m2 0h0m5 0h0m2 0h0m2 0h0m3 0h0m2 0h0m3 0h0m3 0h0m8 0h1m7 0h2m18 0h0m2 0h0m16 0h1m3 0h0m2 0h1m5 0h0m6 0h0m13 0h0m10 0h1m2 0h0m135 0h0m10 0h1m2 0h0m2 0h0m10 0h0m7 0h0m6 0h0m8 0h0m4 0h0m2 0h0m11 0h0m5 0h0m22 0h0m7 0h0m9 0h1m11 0h0m5 0h0m2 0h0m6 0h0m9 0h0m10 0h0m2 0h0m4 0h0m3 0h0m5 0h0m4 0h0m2 0h0m4 0h0m9 0h0m4 0h0m4 0h1m2 0h0m7 0h0m8 0h0m5 0h0m11 0h0m15 0h0m3 0h0m6 0h3m5 0h0m14 0h0m14 0h0m9 0h1m9 0h0m2 0h1m2 0h0m13 0h0m8 0h0m4 0h1m2 0h1m3 0h0m4 0h0m3 0h0m3 0h0m3 0h1m3 0h0m4 0h0m3 0h0m2 0h0m7 0h0m4 0h0m4 0h0m8 0h0m3 0h0m3 0h0m2 0h1m3 0h1m2 0h2m3 0h0m3 0h0m7 0h1m3 0h0m3 0h0M-492 190.78h1m5 0h0m3 0h0m2 0h4m5 0h1m2 0h0m2 0h0m2 0h0m13 0h0m3 0h1m3 0h0m3 0h0m2 0h1m2 0h0m2 0h0m5 0h0m2 0h0m3 0h0m2 0h0m2 0h0m9 0h0m6 0h0m5 0h0m2 0h0m8 0h0m6 0h1m3 0h3m2 0h0m5 0h0m7 0h0m3 0h0m7 0h0m2 0h0m2 0h0m3 0h1m5 0h0m2 0h1m7 0h1m3 0h0m3 0h0m3 0h0m24 0h0m5 0h0m4 0h0m6 0h0m5 0h1m3 0h0m7 0h0m4 0h1m18 0h0m4 0h0m3 0h1m2 0h0m4 0h0m7 0h0m4 0h0m3 0h1m3 0h0m2 0h1m3 0h1m3 0h0m9 0h0m8 0h0m6 0h0m8 0h0m2 0h0m9 0h0m5 0h1m2 0h0m11 0h0m8 0h0m5 0h1m5 0h0m18 0h0m8 0h0m3 0h0m8 0h0m4 0h1m3 0h0m5 0h0m12 0h0m120 0h0m14 0h0m3 0h0m6 0h0m4 0h0m5 0h1m2 0h0m5 0h0m12 0h0m2 0h0m4 0h0m10 0h0m8 0h0m15 0h0m6 0h0m2 0h0m17 0h0m2 0h0m3 0h0m3 0h0m11 0h0m12 0h1m16 0h0m19 0h0m2 0h0m3 0h0m11 0h0m8 0h1m8 0h0m3 0h0m13 0h1m8 0h0m6 0h1m2 0h0m4 0h0m7 0h0m7 0h0m11 0h0m7 0h1m2 0h0m3 0h0m2 0h0m4 0h1m5 0h0m4 0h0m4 0h0m3 0h3m2 0h0m6 0h0m8 0h0m11 0h0m2 0h0m9 0h0m2 0h1m2 0h1m3 0h0m2 0h0m11 0h0m4 0h0m3 0h0m3 0h0m2 0h2m3 0h0m2 0h0m2 0h1m3 0h0m2 0h1m2 0h0m2 0h0m4 0h1m3 0h0m6 0h0m2 0h0m5 0h0m2 0h1M-495 192.54h0m2 0h2m3 0h1m4 0h2m2 0h0m2 0h0m2 0h0m4 0h0m5 0h0m3 0h0m5 0h0m6 0h0m4 0h2m6 0h1m3 0h1m7 0h0m4 0h0m3 0h0m3 0h0m3 0h0m3 0h1m7 0h1m5 0h0m4 0h0m3 0h0m4 0h1m2 0h1m3 0h0m2 0h0m10 0h0m18 0h1m10 0h0m5 0h1m6 0h0m4 0h0m2 0h1m4 0h0m8 0h0m9 0h0m4 0h0m7 0h0m4 0h0m3 0h1m2 0h0m13 0h0m2 0h1m2 0h0m3 0h1m3 0h0m4 0h0m11 0h0m2 0h0m3 0h0m2 0h0m4 0h0m7 0h0m5 0h0m2 0h0m2 0h0m3 0h0m20 0h0m2 0h0m10 0h0m5 0h1m3 0h0m2 0h0m10 0h1m8 0h0m5 0h0m3 0h0m2 0h0m2 0h1m15 0h0m4 0h0m4 0h1m4 0h0m3 0h0m5 0h0m3 0h1m5 0h0m2 0h0m2 0h0m3 0h0m7 0h0m6 0h0m3 0h0m130 0h1m15 0h2m2 0h0m2 0h0m5 0h0m2 0h0m22 0h0m5 0h0m2 0h0m3 0h0m3 0h2m14 0h0m15 0h0m3 0h0m8 0h0m11 0h0m15 0h0m6 0h0m2 0h1m12 0h0m7 0h0m6 0h0m2 0h0m4 0h0m2 0h0m2 0h1m3 0h0m3 0h0m4 0h0m4 0h0m5 0h0m4 0h0m4 0h0m2 0h0m2 0h1m2 0h0m9 0h0m3 0h0m5 0h0m4 0h2m7 0h0m4 0h0m15 0h1m2 0h0m4 0h0m26 0h1m4 0h0m2 0h1m4 0h0m3 0h0m3 0h0m2 0h0m2 0h0m6 0h0m2 0h0m5 0h2m2 0h0m3 0h1m5 0h0m2 0h0m3 0h1m3 0h0m2 0h0m2 0h0m9 0h0m4 0h0m3 0h0m7 0h0m5 0h0m8 0h0m2 0h0m3 0h0m2 0h1m3 0h1m3 0h0m3 0h0m3 0h0m5 0h0m3 0h1m4 0h2m3 0h0M-494 194.3h1m3 0h1m2 0h0m3 0h0m3 0h0m2 0h0m6 0h0m7 0h0m2 0h4m6 0h0m2 0h0m10 0h0m3 0h0m2 0h0m2 0h0m2 0h0m3 0h0m3 0h1m5 0h0m3 0h0m21 0h1m2 0h0m8 0h0m2 0h0m13 0h0m6 0h0m6 0h0m10 0h0m6 0h2m2 0h0m3 0h2m4 0h0m6 0h0m5 0h2m3 0h0m2 0h0m2 0h0m3 0h0m2 0h0m20 0h0m14 0h1m2 0h0m10 0h0m4 0h0m18 0h0m5 0h0m2 0h1m5 0h0m3 0h1m2 0h0m12 0h0m9 0h0m9 0h1m4 0h0m3 0h0m8 0h0m12 0h0m10 0h0m15 0h0m2 0h0m5 0h0m2 0h0m5 0h0m2 0h1m4 0h0m3 0h0m2 0h1m3 0h2m17 0h1m5 0h0m158 0h0m3 0h0m2 0h0m2 0h0m2 0h0m6 0h1m17 0h1m3 0h0m28 0h0m2 0h0m2 0h0m10 0h0m3 0h1m3 0h0m2 0h0m2 0h0m9 0h0m4 0h0m8 0h0m4 0h0m6 0h0m3 0h0m5 0h0m2 0h0m6 0h1m3 0h0m2 0h0m3 0h0m7 0h0m6 0h1m12 0h2m10 0h0m3 0h0m4 0h0m3 0h0m3 0h0m4 0h2m2 0h0m2 0h0m9 0h3m5 0h0m3 0h0m3 0h0m7 0h0m13 0h0m3 0h0m8 0h0m3 0h0m3 0h2m4 0h0m2 0h0m4 0h1m2 0h1m2 0h1m3 0h0m2 0h2m7 0h1m6 0h1m6 0h0m6 0h0m3 0h0m12 0h0m5 0h0m2 0h0m6 0h1m7 0h0m6 0h0m3 0h0m4 0h0m2 0h1m2 0h0m6 0h1m3 0h3m4 0h0m4 0h1m4 0h0m3 0h0m8 0h2M-495 196.06h2m3 0h0m4 0h0m3 0h3m4 0h0m2 0h0m5 0h0m4 0h0m7 0h1m2 0h0m10 0h0m2 0h0m3 0h0m3 0h0m6 0h0m10 0h0m5 0h0m4 0h3m6 0h1m5 0h0m9 0h3m2 0h2m4 0h0m7 0h0m2 0h0m2 0h0m5 0h1m4 0h0m5 0h1m5 0h0m5 0h0m7 0h0m2 0h2m3 0h1m2 0h0m4 0h0m2 0h1m2 0h1m5 0h0m6 0h0m6 0h1m3 0h0m6 0h1m3 0h0m7 0h0m2 0h1m2 0h0m3 0h1m2 0h0m2 0h0m7 0h0m17 0h0m6 0h0m6 0h0m3 0h0m4 0h0m5 0h1m3 0h0m4 0h0m13 0h1m8 0h0m3 0h0m6 0h1m8 0h0m9 0h0m4 0h0m14 0h1m5 0h0m18 0h0m12 0h0m2 0h0m3 0h1m3 0h0m3 0h0m2 0h0m4 0h0m4 0h1m4 0h0m152 0h0m2 0h0m3 0h1m2 0h0m3 0h0m3 0h0m5 0h1m3 0h1m2 0h1m4 0h0m9 0h0m3 0h0m3 0h1m8 0h0m2 0h0m7 0h0m3 0h1m13 0h0m2 0h0m5 0h0m16 0h1m3 0h0m8 0h0m2 0h0m6 0h1m5 0h0m3 0h0m2 0h0m19 0h0m3 0h1m4 0h0m3 0h0m4 0h0m3 0h0m3 0h0m4 0h0m3 0h0m7 0h0m2 0h0m2 0h0m2 0h0m3 0h0m8 0h0m3 0h1m7 0h0m4 0h0m8 0h0m5 0h1m5 0h0m2 0h0m11 0h0m4 0h0m2 0h0m3 0h0m7 0h0m4 0h0m2 0h0m2 0h0m2 0h0m2 0h0m3 0h1m2 0h1m3 0h2m2 0h0m4 0h0m6 0h0m7 0h0m2 0h1m5 0h0m11 0h0m2 0h0m3 0h0m8 0h0m6 0h0m6 0h0m4 0h0m4 0h0m7 0h0m2 0h0m2 0h0m3 0h1m5 0h0m2 0h0m2 0h1m6 0h0m3 0h1m2 0h1m6 0h1m4 0h0M-494 197.82h0m2 0h0m2 0h1m2 0h0m3 0h0m6 0h0m7 0h0m2 0h0m2 0h0m3 0h1m2 0h1m2 0h0m3 0h0m3 0h0m5 0h0m3 0h0m3 0h0m2 0h1m2 0h0m4 0h0m3 0h2m10 0h1m3 0h0m4 0h3m6 0h0m2 0h1m2 0h0m3 0h1m5 0h0m7 0h0m5 0h3m3 0h1m3 0h2m3 0h0m2 0h0m2 0h1m4 0h0m5 0h0m12 0h1m6 0h0m4 0h0m4 0h0m2 0h0m9 0h0m3 0h0m4 0h0m4 0h0m4 0h0m5 0h0m12 0h0m2 0h0m4 0h1m4 0h0m2 0h0m4 0h0m6 0h1m2 0h1m23 0h0m2 0h0m5 0h0m11 0h0m7 0h0m5 0h0m4 0h1m3 0h0m7 0h0m3 0h0m10 0h0m5 0h0m4 0h0m6 0h0m3 0h0m3 0h0m2 0h0m4 0h0m9 0h0m9 0h1m4 0h0m3 0h1m2 0h0m2 0h0m3 0h0m2 0h2m2 0h0m2 0h0m10 0h0m11 0h0m3 0h1m144 0h0m9 0h0m2 0h3m13 0h0m10 0h0m2 0h1m3 0h1m2 0h0m2 0h0m11 0h0m3 0h0m6 0h0m5 0h1m7 0h0m2 0h0m4 0h0m11 0h0m5 0h0m3 0h0m4 0h0m5 0h0m5 0h0m3 0h0m2 0h1m3 0h1m2 0h0m6 0h0m3 0h0m6 0h0m7 0h0m3 0h0m4 0h0m7 0h0m4 0h0m2 0h0m4 0h0m3 0h1m4 0h1m3 0h0m7 0h0m4 0h0m2 0h0m3 0h0m2 0h0m4 0h0m2 0h0m6 0h1m4 0h1m3 0h1m8 0h3m7 0h0m2 0h0m2 0h0m5 0h0m3 0h0m6 0h0m8 0h1m4 0h0m6 0h0m12 0h0m3 0h1m8 0h0m3 0h0m4 0h2m5 0h0m8 0h0m2 0h1m3 0h0m25 0h1m2 0h0m2 0h0m3 0h0m4 0h0m6 0h0m2 0h0m5 0h0m10 0h0m6 0h0m2 0h0m3 0h0m2 0h0m5 0h2M-495 199.58h0m4 0h0m3 0h0m2 0h0m5 0h2m7 0h0m4 0h0m2 0h1m6 0h0m8 0h0m2 0h0m2 0h0m9 0h0m4 0h1m2 0h0m5 0h1m2 0h0m2 0h0m7 0h1m5 0h0m11 0h0m2 0h0m6 0h0m2 0h1m5 0h0m3 0h0m2 0h0m8 0h0m6 0h1m3 0h0m7 0h0m7 0h0m4 0h1m8 0h0m10 0h2m3 0h1m2 0h0m3 0h0m6 0h1m3 0h0m2 0h0m7 0h0m6 0h0m2 0h0m4 0h2m2 0h1m4 0h0m4 0h0m2 0h0m2 0h0m3 0h0m7 0h0m5 0h0m2 0h2m4 0h0m10 0h0m2 0h0m9 0h0m2 0h0m7 0h0m4 0h1m8 0h2m3 0h0m6 0h0m2 0h0m2 0h0m25 0h0m5 0h0m2 0h0m3 0h0m4 0h0m2 0h0m4 0h0m4 0h0m4 0h1m4 0h0m3 0h0m10 0h2m2 0h0m5 0h0m8 0h1m2 0h0m10 0h0m2 0h1m160 0h0m2 0h2m4 0h1m16 0h0m5 0h3m2 0h1m5 0h0m3 0h1m2 0h0m4 0h0m5 0h0m6 0h0m2 0h0m7 0h0m3 0h0m8 0h0m11 0h0m7 0h0m7 0h2m3 0h1m3 0h0m2 0h0m4 0h0m3 0h0m8 0h0m3 0h0m3 0h0m2 0h0m6 0h0m2 0h0m8 0h0m3 0h0m3 0h0m3 0h0m3 0h0m3 0h0m2 0h0m4 0h0m3 0h1m6 0h0m3 0h1m5 0h0m5 0h0m2 0h0m3 0h1m5 0h0m3 0h1m5 0h0m3 0h0m2 0h2m12 0h0m5 0h1m3 0h0m4 0h0m6 0h1m8 0h0m5 0h3m3 0h1m5 0h0m2 0h1m3 0h0m7 0h1m9 0h0m5 0h3m8 0h0m4 0h0m5 0h0m2 0h1m3 0h2m4 0h3m5 0h1m2 0h0m2 0h0m2 0h0m2 0h0m2 0h1m4 0h0m4 0h2m2 0h0m2 0h1m2 0h0m3 0h2m2 0h1m3 0h0m2 0h2M-495 201.34h0m2 0h0m3 0h0m2 0h1m2 0h0m3 0h2m4 0h1m4 0h2m3 0h0m5 0h0m3 0h0m4 0h0m3 0h0m10 0h0m3 0h0m5 0h0m6 0h0m7 0h1m5 0h0m3 0h0m6 0h0m3 0h1m5 0h2m8 0h0m2 0h1m3 0h0m2 0h0m5 0h1m2 0h0m2 0h2m2 0h1m2 0h0m2 0h1m5 0h1m2 0h1m4 0h0m2 0h0m2 0h0m4 0h0m2 0h0m3 0h1m2 0h0m2 0h0m2 0h0m3 0h0m5 0h0m4 0h0m16 0h1m4 0h0m8 0h3m3 0h0m8 0h0m2 0h0m2 0h0m3 0h0m6 0h0m7 0h1m5 0h0m2 0h1m3 0h0m2 0h0m2 0h0m2 0h1m5 0h0m4 0h0m3 0h0m4 0h0m11 0h0m2 0h0m4 0h0m3 0h0m2 0h0m2 0h0m4 0h1m4 0h1m2 0h0m18 0h0m5 0h3m4 0h0m4 0h0m2 0h0m3 0h0m2 0h1m3 0h0m9 0h0m7 0h1m11 0h0m2 0h0m2 0h0m2 0h0m2 0h1m2 0h0m7 0h1m4 0h2m148 0h0m9 0h1m5 0h1m6 0h0m3 0h0m3 0h0m9 0h0m4 0h0m3 0h0m2 0h0m5 0h0m7 0h2m2 0h0m4 0h0m2 0h1m2 0h0m3 0h0m3 0h0m10 0h0m5 0h1m2 0h0m3 0h2m7 0h0m2 0h1m5 0h0m10 0h0m4 0h0m4 0h0m3 0h1m4 0h0m6 0h1m2 0h0m3 0h0m16 0h0m2 0h0m10 0h0m2 0h0m5 0h0m4 0h0m3 0h0m3 0h1m11 0h0m6 0h0m2 0h0m7 0h2m8 0h0m3 0h0m2 0h0m3 0h0m2 0h0m2 0h1m2 0h1m9 0h0m4 0h1m5 0h0m2 0h0m3 0h0m3 0h1m5 0h1m3 0h0m8 0h1m12 0h0m2 0h0m3 0h1m8 0h0m3 0h0m3 0h0m4 0h0m4 0h0m12 0h0m2 0h0m10 0h2m3 0h1m3 0h0m4 0h2m2 0h0m3 0h1m4 0h0m2 0h0m9 0h1m2 0h1m5 0h0m2 0h0m2 0h1m8 0h0m3 0h0m2 0h0M-495 203.1h0m3 0h0m3 0h0m4 0h2m3 0h0m2 0h1m2 0h0m3 0h0m4 0h0m2 0h1m12 0h0m8 0h0m2 0h0m3 0h1m2 0h0m2 0h0m7 0h0m2 0h1m2 0h1m2 0h0m4 0h0m2 0h0m2 0h1m3 0h0m2 0h1m2 0h2m3 0h0m2 0h0m2 0h1m3 0h0m3 0h1m2 0h0m3 0h0m4 0h0m7 0h1m3 0h1m2 0h1m3 0h1m6 0h0m7 0h1m2 0h1m8 0h0m3 0h0m4 0h1m2 0h1m2 0h0m3 0h1m3 0h0m4 0h1m9 0h0m6 0h1m4 0h0m3 0h1m5 0h0m2 0h1m9 0h0m4 0h0m3 0h0m9 0h0m2 0h0m4 0h0m6 0h1m3 0h0m5 0h0m2 0h0m7 0h0m14 0h1m4 0h0m5 0h0m7 0h0m3 0h1m9 0h0m9 0h0m6 0h0m5 0h1m11 0h0m9 0h0m5 0h0m2 0h0m2 0h1m6 0h0m4 0h0m3 0h0m5 0h0m6 0h0m6 0h0m3 0h1m2 0h0m10 0h3m157 0h0m2 0h0m9 0h0m16 0h0m6 0h0m11 0h0m3 0h1m2 0h2m12 0h0m2 0h2m9 0h0m10 0h3m4 0h0m2 0h1m4 0h0m9 0h1m2 0h0m2 0h0m2 0h0m2 0h0m2 0h0m3 0h1m10 0h0m2 0h0m2 0h0m3 0h0m5 0h0m6 0h2m17 0h0m2 0h0m6 0h1m2 0h1m3 0h0m4 0h0m5 0h0m3 0h0m2 0h2m3 0h0m4 0h0m2 0h0m3 0h0m3 0h0m3 0h2m3 0h0m9 0h0m7 0h0m3 0h0m7 0h1m3 0h0m2 0h2m4 0h0m3 0h0m7 0h0m8 0h0m2 0h0m2 0h0m2 0h1m2 0h0m3 0h0m3 0h0m6 0h0m3 0h0m8 0h0m2 0h1m7 0h1m3 0h0m2 0h1m3 0h1m5 0h0m12 0h0m2 0h0m3 0h0m9 0h0m3 0h0m6 0h1m6 0h1m4 0h0m3 0h0m3 0h0m3 0h0m6 0h1m2 0h0m8 0h2M-493 204.86h0m6 0h0m4 0h1m9 0h0m2 0h1m2 0h0m2 0h0m2 0h0m4 0h0m5 0h1m3 0h0m7 0h0m7 0h0m4 0h0m3 0h2m7 0h0m8 0h3m2 0h0m3 0h1m2 0h0m8 0h0m2 0h1m3 0h0m9 0h0m3 0h3m6 0h0m4 0h1m5 0h1m3 0h1m2 0h0m5 0h1m2 0h0m2 0h0m2 0h0m12 0h0m4 0h1m3 0h0m12 0h1m4 0h0m20 0h0m4 0h0m4 0h0m9 0h0m2 0h0m3 0h2m2 0h0m3 0h1m2 0h0m11 0h0m7 0h0m7 0h0m3 0h0m9 0h0m4 0h1m5 0h0m2 0h1m3 0h0m6 0h0m2 0h1m2 0h1m4 0h0m2 0h0m2 0h0m34 0h0m2 0h0m6 0h0m4 0h0m10 0h1m2 0h1m5 0h0m2 0h0m6 0h0m2 0h0m2 0h0m9 0h0m2 0h0m6 0h2m2 0h0m156 0h0m4 0h0m2 0h0m3 0h0m3 0h0m10 0h0m2 0h0m10 0h0m2 0h0m16 0h2m3 0h0m4 0h0m2 0h0m3 0h3m3 0h0m2 0h1m2 0h1m2 0h0m5 0h0m3 0h1m2 0h0m3 0h0m15 0h0m11 0h1m3 0h2m2 0h0m2 0h0m5 0h1m6 0h0m2 0h0m4 0h1m6 0h2m5 0h0m9 0h0m5 0h0m15 0h0m3 0h0m3 0h0m6 0h0m7 0h1m4 0h0m6 0h2m2 0h0m6 0h0m7 0h0m2 0h0m2 0h0m8 0h0m10 0h0m5 0h3m2 0h0m5 0h0m6 0h1m3 0h0m4 0h0m3 0h0m8 0h0m9 0h0m2 0h1m2 0h1m3 0h1m2 0h0m8 0h0m2 0h0m2 0h1m8 0h1m12 0h0m3 0h0m4 0h1m5 0h1m2 0h0m2 0h0m5 0h0m4 0h0m5 0h0m4 0h0m3 0h1m5 0h0m3 0h0m2 0h1m2 0h0m5 0h0m4 0h0M-494 206.62h0m8 0h0m2 0h0m6 0h0m8 0h1m9 0h1m9 0h0m2 0h0m4 0h0m3 0h2m3 0h0m2 0h0m3 0h1m5 0h0m3 0h0m4 0h0m3 0h1m2 0h3m3 0h0m2 0h2m2 0h0m4 0h0m15 0h0m4 0h0m2 0h0m2 0h1m3 0h1m7 0h0m5 0h1m3 0h0m4 0h0m2 0h0m5 0h0m2 0h0m4 0h0m7 0h0m2 0h0m5 0h0m4 0h1m2 0h0m9 0h0m4 0h1m3 0h0m4 0h0m2 0h1m10 0h0m8 0h0m3 0h0m2 0h0m3 0h0m8 0h0m3 0h0m4 0h2m4 0h0m2 0h0m2 0h0m2 0h0m2 0h1m2 0h0m2 0h0m5 0h0m4 0h0m9 0h1m2 0h2m8 0h0m3 0h0m9 0h0m2 0h0m3 0h2m2 0h0m2 0h0m2 0h0m3 0h0m2 0h0m3 0h0m3 0h0m3 0h0m5 0h1m2 0h1m3 0h0m7 0h0m3 0h0m3 0h0m3 0h0m3 0h0m4 0h0m2 0h0m7 0h1m3 0h0m6 0h0m2 0h1m3 0h0m2 0h0m6 0h0m3 0h0m2 0h0m3 0h1m174 0h0m5 0h0m3 0h1m6 0h0m2 0h0m5 0h0m2 0h0m2 0h0m3 0h0m3 0h0m8 0h0m2 0h1m3 0h0m2 0h0m3 0h0m6 0h1m17 0h0m11 0h0m4 0h0m8 0h1m8 0h0m2 0h0m8 0h0m4 0h1m8 0h0m6 0h0m2 0h1m5 0h0m2 0h0m18 0h0m2 0h0m7 0h1m2 0h0m3 0h0m9 0h0m2 0h0m3 0h0m6 0h0m12 0h1m2 0h0m2 0h0m4 0h0m6 0h1m3 0h0m5 0h0m2 0h0m2 0h0m3 0h0m2 0h0m4 0h1m2 0h0m7 0h0m4 0h0m2 0h0m15 0h0m3 0h0m4 0h1m2 0h0m5 0h1m3 0h2m3 0h0m2 0h0m3 0h0m3 0h1m2 0h0m4 0h2m6 0h0m10 0h1m2 0h2m2 0h0m4 0h0m3 0h0m2 0h0m4 0h1m4 0h0m4 0h0m3 0h0m7 0h0m2 0h0m3 0h0m8 0h0m4 0h0m3 0h0m4 0h0m3 0h1M-494 208.38h0m3 0h0m3 0h0m2 0h1m3 0h0m3 0h0m2 0h1m3 0h1m4 0h0m3 0h1m5 0h1m4 0h1m6 0h0m4 0h0m2 0h0m3 0h1m2 0h0m4 0h4m4 0h1m2 0h0m5 0h0m2 0h1m3 0h0m2 0h0m3 0h0m5 0h0m3 0h0m2 0h0m2 0h0m2 0h0m7 0h1m5 0h0m4 0h0m4 0h0m3 0h1m2 0h0m6 0h0m2 0h0m2 0h0m6 0h0m3 0h1m3 0h0m2 0h0m10 0h0m9 0h0m3 0h0m16 0h0m3 0h0m2 0h2m6 0h0m2 0h0m2 0h1m3 0h0m5 0h0m2 0h1m2 0h0m2 0h0m3 0h0m4 0h0m9 0h0m2 0h0m4 0h1m2 0h0m10 0h1m3 0h0m2 0h1m4 0h1m15 0h0m2 0h0m8 0h0m3 0h0m2 0h0m2 0h0m2 0h0m3 0h0m7 0h1m2 0h1m3 0h0m3 0h0m2 0h0m2 0h1m3 0h0m5 0h0m4 0h0m5 0h0m2 0h0m4 0h2m6 0h1m2 0h1m6 0h0m2 0h0m2 0h0m2 0h0m2 0h0m3 0h2m8 0h0m4 0h0m2 0h1m7 0h1m2 0h0m2 0h1m159 0h0m7 0h0m2 0h0m4 0h0m2 0h0m7 0h0m2 0h1m3 0h0m2 0h1m4 0h0m10 0h0m9 0h3m6 0h0m10 0h0m12 0h1m5 0h1m2 0h3m2 0h2m4 0h0m4 0h1m2 0h0m8 0h0m5 0h1m7 0h0m3 0h0m10 0h0m5 0h0m4 0h0m2 0h1m3 0h0m9 0h0m4 0h0m8 0h0m3 0h0m16 0h0m4 0h0m8 0h1m3 0h0m5 0h0m2 0h0m6 0h0m2 0h2m2 0h1m2 0h0m2 0h1m3 0h0m2 0h1m7 0h0m5 0h0m3 0h0m3 0h1m2 0h0m4 0h1m2 0h1m5 0h0m4 0h1m5 0h0m2 0h1m9 0h1m2 0h1m2 0h1m3 0h0m2 0h0m3 0h1m5 0h1m3 0h0m3 0h0m3 0h2m2 0h0m3 0h0m3 0h0m2 0h0m2 0h2m4 0h0m4 0h1m3 0h0m3 0h0m3 0h1m2 0h0m4 0h1m5 0h0m5 0h2m2 0h1m6 0h0m2 0h0m3 0h0m10 0h0M-493 210.14h0m4 0h0m5 0h2m4 0h0m3 0h0m2 0h2m3 0h1m7 0h0m8 0h0m4 0h0m2 0h0m3 0h0m5 0h0m5 0h1m2 0h1m4 0h3m5 0h1m2 0h1m3 0h0m3 0h0m9 0h0m6 0h2m2 0h1m4 0h0m3 0h0m5 0h0m5 0h0m9 0h0m3 0h0m5 0h0m3 0h0m3 0h0m3 0h1m3 0h0m3 0h0m9 0h1m2 0h0m8 0h0m4 0h0m3 0h0m8 0h0m2 0h0m2 0h0m3 0h0m4 0h0m3 0h0m6 0h0m5 0h0m2 0h0m3 0h0m2 0h0m2 0h0m5 0h1m8 0h0m2 0h0m2 0h2m2 0h0m2 0h0m3 0h0m4 0h0m4 0h1m8 0h0m5 0h2m2 0h0m4 0h3m7 0h0m2 0h0m7 0h0m9 0h0m2 0h1m2 0h0m3 0h1m2 0h0m8 0h0m2 0h1m6 0h0m2 0h0m3 0h0m3 0h0m5 0h0m8 0h4m6 0h0m4 0h0m3 0h1m2 0h0m2 0h1m4 0h1m2 0h0m5 0h0m2 0h0m2 0h0m4 0h0m2 0h0m4 0h0m165 0h0m2 0h1m3 0h0m3 0h0m4 0h1m6 0h3m4 0h1m4 0h0m3 0h2m6 0h0m6 0h1m2 0h0m6 0h0m2 0h0m2 0h0m3 0h0m3 0h0m9 0h0m4 0h0m3 0h1m3 0h0m17 0h0m2 0h0m2 0h0m2 0h1m2 0h0m6 0h0m8 0h0m6 0h0m3 0h1m3 0h1m2 0h1m3 0h0m14 0h0m3 0h1m3 0h0m4 0h0m2 0h1m3 0h1m5 0h0m4 0h0m4 0h0m3 0h1m2 0h0m2 0h0m2 0h2m4 0h1m2 0h1m2 0h0m5 0h0m5 0h0m2 0h0m4 0h0m3 0h1m6 0h0m2 0h0m5 0h0m3 0h0m5 0h0m2 0h0m6 0h0m5 0h0m9 0h0m2 0h2m5 0h1m3 0h0m3 0h1m4 0h0m2 0h0m4 0h0m2 0h0m2 0h0m4 0h1m3 0h0m2 0h0m3 0h0m3 0h0m2 0h0m2 0h0m4 0h0m2 0h0m2 0h0m4 0h0m2 0h0m5 0h0m4 0h1m3 0h0m2 0h1m5 0h0m2 0h1m5 0h0m2 0h1m3 0h1m3 0h0m2 0h0m7 0h2m2 0h0m3 0h0m11 0h0m5 0h1M-494 211.91h1m2 0h0m3 0h2m3 0h1m6 0h0m3 0h1m2 0h1m6 0h0m2 0h0m2 0h1m4 0h2m2 0h0m2 0h0m7 0h0m4 0h0m8 0h0m2 0h0m4 0h0m2 0h3m3 0h0m4 0h0m3 0h1m2 0h0m4 0h0m4 0h0m2 0h0m7 0h0m5 0h0m4 0h2m3 0h0m4 0h0m2 0h0m3 0h1m3 0h0m3 0h1m4 0h0m2 0h0m3 0h2m4 0h1m2 0h0m3 0h0m2 0h0m4 0h1m2 0h0m8 0h0m9 0h0m2 0h0m3 0h0m4 0h0m2 0h0m4 0h0m5 0h2m5 0h0m2 0h1m5 0h0m2 0h0m6 0h1m2 0h1m3 0h0m8 0h0m3 0h0m2 0h0m8 0h0m10 0h0m9 0h0m2 0h0m4 0h0m4 0h0m2 0h0m5 0h0m3 0h1m2 0h0m3 0h0m8 0h0m4 0h0m8 0h1m6 0h0m7 0h0m5 0h0m3 0h1m16 0h1m6 0h0m2 0h0m7 0h0m2 0h0m7 0h0m4 0h0m6 0h0m6 0h0m3 0h0m4 0h3m5 0h0m157 0h2m3 0h0m2 0h0m4 0h1m5 0h1m8 0h0m5 0h1m4 0h0m14 0h1m5 0h0m7 0h1m2 0h4m5 0h0m5 0h1m5 0h0m5 0h0m2 0h0m3 0h0m21 0h0m4 0h0m4 0h0m4 0h0m3 0h0m3 0h2m4 0h0m5 0h0m3 0h0m8 0h1m2 0h0m2 0h0m6 0h1m2 0h1m5 0h0m5 0h0m2 0h1m5 0h0m4 0h1m3 0h1m2 0h0m5 0h0m2 0h0m4 0h0m2 0h2m2 0h0m7 0h2m2 0h0m2 0h0m7 0h1m2 0h0m3 0h0m2 0h1m2 0h1m3 0h0m6 0h0m2 0h3m2 0h0m2 0h0m3 0h0m3 0h0m2 0h1m3 0h1m4 0h0m3 0h1m2 0h0m9 0h0m3 0h1m2 0h0m10 0h0m6 0h0m2 0h0m2 0h0m3 0h0m4 0h0m2 0h0m6 0h0m7 0h2m4 0h0m4 0h4m2 0h1m2 0h0m4 0h0m6 0h2m2 0h0m2 0h0m2 0h1m3 0h0m6 0h0m4 0h1m4 0h1m3 0h4m2 0h0m2 0h1M-495 213.67h1m2 0h0m5 0h0m2 0h0m2 0h1m2 0h0m3 0h1m7 0h0m6 0h1m2 0h0m2 0h0m2 0h1m13 0h0m2 0h0m2 0h0m5 0h1m4 0h0m2 0h1m5 0h0m2 0h1m5 0h0m5 0h2m5 0h2m5 0h0m2 0h1m2 0h0m2 0h2m8 0h0m5 0h0m2 0h0m2 0h2m3 0h1m6 0h0m7 0h0m3 0h0m11 0h0m2 0h1m6 0h0m2 0h0m7 0h0m2 0h0m3 0h1m3 0h1m2 0h2m3 0h1m2 0h1m5 0h0m4 0h0m4 0h0m3 0h1m13 0h0m3 0h0m2 0h1m5 0h0m2 0h0m3 0h0m3 0h0m3 0h1m4 0h0m2 0h0m7 0h0m6 0h0m3 0h0m3 0h1m6 0h0m2 0h0m4 0h0m19 0h0m10 0h1m2 0h0m2 0h0m2 0h0m3 0h1m6 0h0m5 0h1m2 0h0m15 0h0m3 0h0m3 0h0m2 0h0m2 0h1m3 0h1m5 0h1m2 0h1m5 0h0m6 0h0m2 0h1m3 0h0m2 0h0m6 0h0m169 0h0m6 0h0m2 0h0m2 0h0m2 0h0m5 0h2m2 0h1m3 0h0m2 0h0m7 0h0m3 0h1m5 0h0m5 0h0m13 0h0m2 0h0m4 0h0m10 0h0m8 0h0m2 0h1m8 0h0m11 0h1m4 0h0m2 0h0m2 0h0m3 0h0m3 0h0m3 0h2m4 0h0m4 0h0m2 0h0m4 0h1m2 0h1m2 0h0m5 0h1m4 0h0m7 0h0m2 0h0m2 0h0m3 0h0m3 0h0m4 0h1m2 0h1m2 0h0m16 0h0m5 0h0m8 0h0m2 0h1m7 0h0m7 0h0m5 0h0m5 0h2m2 0h0m5 0h0m4 0h0m3 0h1m5 0h0m7 0h2m3 0h0m2 0h0m5 0h0m3 0h0m3 0h0m5 0h1m2 0h2m7 0h0m4 0h0m8 0h0m9 0h2m2 0h1m7 0h0m3 0h0m2 0h1m5 0h1m3 0h0m2 0h0m3 0h1m2 0h0m3 0h0m3 0h1m3 0h0m2 0h1m2 0h0m3 0h0m2 0h0m3 0h0m3 0h1m3 0h0m2 0h0m4 0h0m3 0h0m2 0h1m4 0h0m2 0h4M-493 215.43h0m6 0h3m4 0h0m3 0h1m2 0h1m2 0h0m9 0h0m2 0h1m6 0h0m2 0h0m3 0h0m2 0h0m3 0h3m5 0h0m4 0h0m3 0h0m3 0h0m3 0h0m3 0h1m4 0h0m3 0h1m5 0h0m11 0h0m2 0h0m6 0h0m2 0h2m3 0h1m3 0h0m4 0h0m2 0h1m3 0h1m5 0h1m4 0h2m3 0h0m9 0h0m3 0h0m5 0h1m2 0h1m2 0h0m6 0h0m4 0h0m4 0h1m2 0h1m2 0h0m3 0h1m3 0h0m7 0h0m3 0h0m3 0h0m4 0h0m2 0h2m5 0h1m2 0h0m8 0h0m5 0h0m9 0h1m2 0h0m6 0h0m4 0h0m2 0h0m2 0h0m7 0h0m5 0h0m8 0h0m5 0h3m3 0h1m6 0h0m2 0h0m2 0h1m3 0h0m9 0h0m6 0h0m12 0h0m8 0h0m8 0h0m2 0h0m8 0h0m4 0h1m2 0h0m7 0h1m13 0h1m3 0h0m7 0h0m4 0h0m2 0h1m2 0h0m3 0h2m156 0h0m3 0h0m2 0h1m2 0h0m8 0h0m3 0h1m5 0h1m11 0h2m4 0h0m7 0h0m2 0h0m9 0h0m3 0h0m2 0h1m2 0h0m2 0h3m6 0h1m5 0h0m4 0h1m2 0h0m4 0h0m9 0h1m6 0h3m8 0h0m8 0h1m4 0h1m2 0h0m5 0h0m9 0h0m3 0h0m15 0h0m5 0h1m3 0h0m2 0h0m7 0h0m2 0h0m2 0h0m2 0h0m5 0h0m2 0h0m4 0h0m2 0h0m2 0h1m7 0h1m2 0h0m4 0h1m16 0h1m2 0h0m4 0h0m2 0h2m2 0h0m5 0h0m2 0h0m4 0h1m2 0h1m4 0h0m2 0h0m2 0h0m3 0h1m3 0h1m6 0h0m4 0h0m2 0h0m12 0h1m5 0h1m4 0h1m2 0h0m5 0h0m5 0h1m2 0h0m4 0h0m5 0h1m3 0h1m6 0h0m4 0h1m7 0h0m3 0h0m4 0h0m2 0h0m2 0h2m3 0h0m2 0h0m2 0h1m6 0h0m4 0h1m4 0h0m6 0h0M-495 217.19h0m4 0h0m7 0h0m3 0h0m2 0h0m9 0h2m6 0h0m3 0h1m2 0h1m4 0h0m6 0h0m6 0h1m5 0h0m3 0h0m3 0h0m2 0h1m2 0h0m4 0h0m4 0h0m4 0h0m9 0h1m7 0h0m5 0h2m6 0h1m5 0h0m6 0h1m4 0h0m7 0h0m6 0h0m2 0h2m3 0h4m3 0h0m4 0h0m5 0h0m11 0h0m2 0h1m3 0h0m3 0h1m6 0h0m7 0h2m5 0h3m2 0h1m7 0h0m2 0h0m4 0h0m2 0h0m3 0h0m2 0h0m7 0h0m3 0h0m3 0h0m8 0h0m9 0h0m3 0h0m6 0h0m3 0h0m3 0h0m3 0h0m4 0h1m2 0h0m2 0h1m7 0h1m5 0h0m3 0h1m2 0h0m2 0h0m2 0h1m4 0h0m3 0h0m3 0h0m10 0h1m4 0h0m9 0h0m2 0h2m3 0h1m4 0h0m4 0h0m4 0h1m3 0h0m5 0h0m3 0h0m5 0h0m2 0h0m5 0h0m4 0h0m5 0h0m4 0h0m4 0h0m167 0h0m5 0h0m5 0h0m3 0h1m2 0h0m9 0h2m8 0h0m3 0h0m2 0h0m8 0h0m6 0h0m6 0h0m7 0h0m5 0h1m3 0h0m4 0h0m5 0h0m3 0h0m2 0h0m11 0h0m5 0h0m3 0h0m2 0h4m5 0h0m6 0h0m6 0h0m9 0h1m2 0h0m2 0h0m2 0h0m7 0h1m10 0h0m6 0h1m7 0h2m6 0h0m2 0h0m2 0h0m10 0h1m5 0h1m6 0h2m4 0h0m2 0h1m3 0h1m4 0h1m3 0h0m7 0h0m6 0h1m3 0h0m7 0h0m3 0h0m6 0h0m7 0h0m3 0h0m6 0h0m3 0h1m4 0h1m4 0h2m2 0h1m2 0h0m3 0h0m3 0h6m2 0h2m3 0h0m2 0h0m4 0h0m6 0h0m3 0h0m2 0h1m2 0h3m4 0h1m2 0h0m3 0h0m3 0h2m3 0h0m6 0h0m2 0h0m3 0h0m4 0h0m8 0h0m3 0h0m6 0h0m2 0h0m8 0h4M-492 218.95h0m8 0h0m2 0h0m2 0h0m4 0h0m5 0h1m2 0h0m2 0h0m2 0h1m2 0h0m3 0h1m3 0h0m3 0h0m2 0h2m4 0h0m12 0h2m3 0h0m2 0h0m2 0h1m2 0h3m11 0h0m3 0h1m3 0h2m2 0h0m3 0h0m2 0h1m4 0h1m3 0h0m2 0h1m5 0h1m8 0h0m2 0h0m3 0h0m2 0h0m4 0h1m5 0h0m3 0h1m4 0h0m2 0h1m2 0h0m3 0h0m2 0h0m2 0h0m2 0h0m3 0h0m3 0h1m4 0h0m2 0h0m11 0h0m5 0h0m2 0h1m8 0h1m2 0h0m3 0h0m3 0h0m2 0h0m5 0h0m8 0h1m2 0h0m2 0h2m2 0h0m2 0h0m10 0h0m6 0h0m4 0h0m3 0h4m4 0h0m5 0h0m6 0h0m3 0h2m5 0h0m2 0h0m2 0h0m8 0h1m2 0h0m3 0h0m2 0h1m3 0h1m3 0h0m3 0h0m2 0h0m2 0h0m9 0h0m4 0h0m2 0h1m2 0h0m4 0h0m4 0h0m2 0h0m9 0h1m4 0h1m2 0h0m2 0h0m4 0h0m12 0h0m2 0h2m3 0h1m2 0h1m4 0h0m2 0h0m2 0h1m2 0h0m156 0h2m6 0h0m7 0h0m7 0h0m3 0h0m4 0h0m3 0h0m2 0h0m3 0h2m2 0h0m3 0h0m2 0h0m4 0h0m5 0h1m2 0h0m8 0h3m2 0h0m7 0h0m4 0h0m2 0h0m2 0h2m11 0h3m3 0h0m2 0h0m5 0h0m6 0h1m3 0h1m2 0h0m3 0h0m3 0h0m2 0h0m2 0h0m6 0h0m5 0h1m2 0h1m3 0h1m6 0h0m3 0h0m4 0h1m4 0h1m2 0h0m7 0h0m3 0h0m11 0h0m3 0h0m3 0h0m5 0h0m5 0h0m6 0h0m5 0h0m3 0h0m6 0h0m5 0h1m3 0h0m3 0h0m3 0h0m3 0h1m3 0h0m3 0h1m3 0h0m5 0h0m13 0h0m2 0h0m5 0h0m4 0h1m4 0h0m4 0h0m2 0h1m2 0h0m4 0h0m2 0h1m2 0h0m8 0h0m2 0h0m3 0h1m3 0h0m2 0h0m11 0h1m2 0h0m5 0h0m5 0h0m2 0h1m7 0h0m4 0h0m3 0h0m3 0h0m7 0h1m4 0h0m3 0h1m2 0h0m11 0h0m2 0h0m5 0h2M-493 220.71h0m9 0h1m3 0h0m3 0h1m6 0h0m2 0h0m2 0h0m6 0h0m10 0h1m5 0h0m10 0h0m6 0h1m2 0h0m3 0h0m5 0h0m2 0h0m4 0h2m2 0h1m2 0h2m2 0h0m2 0h0m2 0h1m5 0h0m8 0h0m9 0h0m5 0h0m4 0h1m2 0h0m2 0h0m5 0h0m2 0h0m3 0h0m3 0h0m2 0h0m3 0h0m5 0h0m10 0h0m2 0h0m2 0h2m5 0h3m2 0h0m3 0h1m3 0h0m5 0h0m7 0h3m2 0h0m9 0h0m2 0h0m4 0h1m2 0h0m2 0h3m2 0h0m3 0h0m9 0h0m2 0h0m2 0h2m3 0h1m2 0h0m6 0h0m2 0h0m2 0h0m2 0h1m4 0h0m3 0h0m2 0h0m6 0h1m5 0h0m6 0h0m2 0h0m4 0h0m4 0h1m8 0h0m4 0h0m3 0h0m2 0h0m4 0h0m3 0h0m2 0h1m3 0h0m4 0h0m5 0h0m3 0h0m2 0h0m3 0h0m3 0h0m2 0h0m2 0h1m6 0h0m5 0h0m3 0h0m2 0h0m2 0h0m3 0h1m7 0h0m3 0h0m3 0h0m2 0h1m2 0h1m4 0h0m2 0h0m2 0h0m167 0h0m3 0h0m3 0h1m2 0h0m2 0h0m5 0h0m8 0h0m2 0h0m3 0h2m6 0h0m4 0h0m2 0h1m3 0h0m3 0h0m4 0h2m3 0h1m8 0h0m3 0h0m3 0h0m2 0h2m4 0h0m2 0h0m5 0h0m3 0h1m4 0h0m2 0h0m6 0h0m4 0h0m3 0h0m5 0h1m3 0h1m4 0h0m3 0h0m3 0h0m3 0h0m2 0h0m2 0h0m3 0h0m7 0h0m7 0h0m2 0h0m7 0h0m2 0h0m6 0h0m3 0h0m3 0h1m2 0h1m3 0h2m2 0h0m6 0h0m2 0h0m5 0h1m7 0h0m2 0h0m7 0h0m2 0h0m4 0h0m2 0h0m3 0h0m12 0h0m4 0h0m3 0h0m4 0h1m5 0h0m6 0h0m3 0h0m2 0h1m7 0h1m6 0h0m5 0h0m3 0h1m2 0h0m3 0h0m4 0h0m4 0h0m5 0h2m5 0h0m4 0h0m14 0h1m6 0h0m2 0h1m2 0h0m3 0h0m3 0h5m3 0h0m3 0h0m4 0h1m5 0h0m3 0h1m2 0h0m6 0h0m3 0h0m4 0h1m2 0h0m4 0h0m2 0h0m5 0h0M-495 222.47h0m6 0h0m3 0h0m3 0h1m2 0h0m2 0h0m2 0h1m4 0h0m4 0h0m2 0h1m6 0h0m8 0h1m2 0h0m3 0h0m3 0h0m3 0h0m4 0h0m3 0h1m2 0h0m2 0h0m2 0h0m3 0h0m3 0h0m3 0h0m3 0h0m7 0h0m4 0h0m5 0h0m3 0h1m2 0h1m5 0h0m2 0h1m3 0h1m5 0h0m7 0h1m2 0h0m3 0h0m2 0h0m4 0h0m3 0h1m2 0h2m3 0h0m7 0h0m2 0h1m3 0h3m9 0h1m2 0h0m3 0h0m7 0h2m3 0h1m2 0h0m3 0h0m4 0h0m2 0h1m2 0h0m4 0h0m7 0h0m5 0h0m4 0h0m3 0h0m3 0h0m5 0h0m7 0h1m2 0h0m4 0h0m2 0h1m2 0h2m7 0h0m5 0h1m2 0h0m2 0h0m2 0h0m3 0h0m3 0h0m3 0h0m4 0h1m2 0h1m2 0h0m2 0h1m3 0h0m3 0h0m4 0h0m4 0h0m7 0h1m4 0h2m3 0h0m2 0h2m2 0h1m7 0h0m4 0h0m6 0h0m4 0h0m2 0h1m7 0h3m2 0h2m2 0h3m2 0h1m4 0h3m2 0h0m2 0h0m4 0h0m3 0h0m4 0h0m168 0h1m2 0h0m4 0h0m2 0h1m3 0h1m3 0h2m4 0h1m6 0h2m5 0h0m2 0h1m2 0h0m5 0h0m4 0h1m8 0h4m5 0h0m3 0h0m2 0h0m6 0h0m4 0h1m4 0h0m5 0h1m4 0h0m3 0h0m6 0h0m8 0h0m3 0h0m6 0h0m2 0h0m2 0h1m2 0h0m2 0h0m4 0h0m3 0h1m2 0h0m4 0h0m5 0h3m5 0h1m3 0h0m2 0h1m3 0h0m2 0h0m3 0h0m2 0h1m12 0h0m2 0h3m5 0h0m2 0h0m5 0h0m2 0h0m3 0h1m5 0h0m2 0h0m2 0h0m3 0h0m8 0h0m2 0h2m6 0h0m4 0h0m2 0h0m5 0h1m4 0h0m9 0h0m4 0h0m2 0h1m3 0h1m3 0h2m4 0h0m3 0h0m7 0h0m6 0h0m2 0h1m2 0h0m2 0h2m2 0h1m2 0h0m2 0h1m3 0h1m2 0h0m2 0h0m2 0h0m2 0h0m2 0h0m2 0h0m2 0h0m5 0h2m2 0h0m2 0h0m2 0h0m3 0h1m2 0h0m4 0h1m3 0h0m3 0h1m2 0h1m3 0h0m3 0h0m4 0h0m2 0h0m5 0h0m3 0h0m7 0h1m2 0h0m5 0h0M-494 224.23h1m2 0h1m2 0h1m2 0h0m7 0h0m4 0h1m2 0h4m5 0h0m5 0h0m8 0h0m6 0h0m3 0h0m3 0h0m6 0h2m3 0h0m5 0h0m3 0h1m2 0h0m4 0h1m4 0h0m3 0h0m4 0h0m5 0h0m2 0h0m3 0h0m3 0h0m3 0h0m2 0h0m4 0h0m3 0h1m4 0h0m3 0h0m2 0h0m2 0h0m6 0h0m3 0h0m3 0h0m4 0h1m2 0h0m4 0h0m2 0h0m5 0h0m4 0h0m4 0h0m4 0h1m8 0h0m3 0h1m3 0h1m4 0h0m3 0h1m2 0h1m6 0h0m3 0h1m3 0h0m5 0h0m9 0h0m20 0h0m3 0h1m5 0h0m6 0h0m4 0h1m3 0h1m3 0h2m2 0h0m3 0h0m6 0h0m10 0h0m5 0h0m7 0h0m4 0h0m3 0h2m2 0h0m2 0h0m5 0h0m3 0h0m2 0h0m3 0h1m4 0h1m2 0h0m5 0h0m12 0h1m4 0h0m6 0h0m6 0h0m5 0h0m2 0h0m2 0h0m2 0h0m2 0h0m3 0h0m4 0h0m3 0h1m179 0h1m2 0h1m3 0h0m4 0h0m3 0h0m3 0h0m12 0h0m4 0h0m4 0h0m2 0h0m2 0h0m6 0h0m14 0h0m4 0h0m9 0h0m2 0h0m4 0h0m2 0h1m3 0h0m4 0h0m3 0h1m2 0h0m5 0h0m4 0h0m3 0h0m2 0h1m3 0h1m4 0h0m2 0h0m3 0h1m3 0h0m2 0h0m3 0h0m10 0h1m2 0h0m2 0h1m3 0h0m3 0h1m4 0h0m13 0h0m4 0h0m3 0h0m4 0h1m6 0h0m4 0h1m2 0h1m6 0h0m2 0h1m3 0h0m2 0h2m7 0h0m2 0h3m2 0h0m2 0h1m3 0h2m3 0h0m5 0h0m2 0h0m2 0h0m2 0h0m3 0h0m2 0h0m6 0h0m2 0h1m4 0h0m4 0h0m6 0h0m8 0h0m5 0h0m2 0h0m3 0h1m2 0h0m3 0h0m10 0h0m4 0h0m2 0h1m2 0h0m7 0h0m4 0h0m4 0h0m2 0h0m2 0h1m2 0h0m2 0h1m7 0h0m3 0h0m3 0h1m8 0h0m2 0h0m10 0h0m2 0h0m3 0h0m2 0h0m2 0h1m7 0h1m2 0h0m5 0h1M-494 225.99h0m2 0h0m2 0h0m2 0h2m10 0h2m5 0h2m4 0h0m2 0h0m3 0h0m5 0h0m2 0h0m5 0h1m4 0h1m2 0h0m5 0h1m3 0h1m6 0h0m3 0h1m3 0h0m3 0h1m2 0h1m2 0h0m14 0h0m2 0h0m4 0h0m2 0h0m3 0h0m2 0h2m3 0h1m3 0h1m4 0h0m7 0h0m4 0h0m2 0h0m6 0h2m4 0h1m4 0h1m9 0h0m4 0h0m5 0h0m5 0h0m2 0h0m5 0h5m7 0h0m10 0h1m3 0h1m4 0h0m4 0h2m2 0h0m4 0h0m2 0h1m2 0h0m2 0h0m2 0h0m5 0h0m3 0h0m2 0h0m8 0h1m2 0h0m3 0h0m2 0h0m3 0h0m3 0h0m6 0h0m6 0h0m3 0h1m2 0h0m2 0h0m4 0h0m2 0h0m2 0h0m5 0h1m4 0h0m3 0h0m3 0h0m8 0h0m3 0h0m3 0h0m2 0h0m2 0h0m3 0h0m2 0h0m6 0h1m3 0h1m7 0h2m4 0h0m7 0h0m6 0h0m3 0h1m2 0h0m2 0h0m5 0h0m2 0h0m5 0h0m2 0h0m5 0h1m2 0h1m2 0h0m169 0h0m9 0h0m2 0h0m3 0h0m4 0h0m17 0h0m4 0h0m5 0h0m4 0h0m5 0h2m2 0h0m6 0h1m2 0h0m7 0h0m3 0h0m2 0h0m2 0h1m2 0h0m3 0h0m6 0h1m2 0h0m4 0h1m3 0h0m5 0h0m3 0h0m5 0h1m4 0h1m3 0h0m2 0h0m2 0h0m2 0h0m2 0h0m2 0h0m5 0h0m3 0h1m2 0h1m9 0h1m2 0h0m2 0h1m2 0h0m3 0h0m8 0h0m2 0h0m4 0h1m7 0h0m3 0h1m3 0h5m2 0h1m10 0h0m6 0h0m3 0h0m2 0h1m8 0h1m2 0h0m4 0h0m2 0h0m3 0h0m2 0h1m8 0h1m7 0h1m5 0h0m5 0h1m3 0h1m3 0h0m4 0h0m5 0h1m8 0h0m3 0h0m6 0h1m2 0h1m2 0h4m5 0h0m5 0h0m2 0h0m4 0h0m2 0h2m7 0h2m6 0h0m3 0h1m2 0h0m5 0h0m2 0h0m6 0h0m2 0h0m3 0h2m2 0h0m4 0h1m7 0h1m2 0h0m6 0h0m3 0h0M-495 227.75h3m2 0h0m2 0h0m3 0h0m4 0h2m2 0h1m8 0h0m2 0h0m2 0h0m3 0h0m2 0h0m2 0h1m4 0h1m3 0h0m6 0h1m5 0h0m4 0h0m2 0h1m3 0h0m3 0h0m2 0h0m4 0h0m7 0h0m5 0h0m5 0h1m4 0h0m6 0h0m3 0h0m2 0h0m3 0h0m5 0h0m5 0h1m2 0h0m3 0h0m3 0h0m4 0h0m2 0h0m2 0h0m2 0h1m2 0h0m2 0h0m4 0h0m8 0h0m5 0h0m7 0h0m3 0h0m9 0h1m2 0h2m2 0h0m3 0h1m5 0h1m2 0h0m4 0h0m6 0h0m3 0h1m2 0h0m2 0h1m3 0h0m5 0h0m2 0h1m3 0h0m7 0h1m6 0h0m2 0h0m2 0h0m4 0h0m7 0h1m2 0h0m3 0h0m2 0h1m2 0h0m2 0h0m3 0h0m4 0h0m3 0h0m11 0h1m2 0h0m3 0h0m3 0h2m4 0h0m2 0h0m5 0h1m2 0h0m2 0h0m2 0h1m7 0h0m2 0h0m2 0h0m2 0h1m8 0h0m6 0h0m3 0h1m6 0h0m4 0h0m3 0h0m3 0h0m2 0h1m9 0h0m3 0h0m6 0h0m4 0h0m3 0h0m2 0h0m2 0h1m3 0h1m174 0h0m11 0h1m4 0h2m4 0h0m3 0h1m3 0h0m5 0h2m4 0h1m3 0h0m2 0h1m2 0h0m2 0h0m2 0h0m4 0h2m2 0h1m4 0h0m2 0h1m4 0h0m2 0h0m3 0h0m2 0h0m2 0h0m3 0h0m2 0h0m2 0h3m6 0h1m3 0h0m6 0h1m2 0h1m3 0h2m3 0h0m2 0h0m6 0h0m2 0h0m2 0h0m2 0h1m2 0h0m7 0h0m5 0h3m4 0h0m4 0h0m6 0h0m3 0h0m2 0h1m6 0h1m4 0h1m11 0h0m5 0h0m2 0h1m2 0h2m4 0h0m4 0h1m3 0h0m6 0h0m8 0h0m2 0h0m4 0h1m4 0h0m6 0h0m4 0h1m2 0h0m3 0h1m2 0h1m7 0h1m3 0h0m4 0h0m4 0h0m4 0h0m6 0h0m3 0h0m5 0h0m2 0h0m2 0h0m2 0h2m3 0h0m6 0h0m5 0h2m9 0h0m4 0h0m4 0h0m3 0h0m3 0h0m10 0h0m3 0h1m2 0h0m2 0h0m10 0h0m3 0h0m2 0h0m2 0h1m2 0h0m3 0h1m2 0h0m2 0h0m4 0h1M-494 229.51h0m3 0h1m3 0h0m3 0h0m2 0h2m2 0h0m2 0h0m7 0h0m4 0h1m3 0h0m5 0h2m3 0h1m2 0h0m6 0h0m3 0h1m2 0h0m2 0h1m2 0h0m3 0h3m10 0h1m2 0h0m2 0h0m3 0h1m2 0h1m2 0h1m3 0h0m3 0h1m3 0h1m5 0h0m5 0h0m7 0h1m2 0h3m2 0h0m6 0h1m2 0h0m3 0h2m5 0h0m2 0h1m6 0h0m5 0h1m8 0h0m7 0h0m9 0h0m3 0h1m6 0h1m2 0h0m2 0h0m5 0h0m2 0h1m2 0h0m2 0h0m8 0h0m3 0h1m4 0h0m2 0h0m7 0h1m3 0h0m8 0h0m2 0h0m2 0h1m3 0h1m2 0h0m2 0h0m5 0h0m4 0h1m2 0h0m2 0h0m7 0h1m3 0h0m2 0h1m4 0h2m10 0h0m2 0h0m2 0h1m3 0h0m2 0h0m2 0h2m7 0h0m2 0h1m4 0h0m4 0h0m3 0h0m11 0h0m3 0h1m2 0h1m8 0h0m3 0h1m3 0h0m3 0h0m4 0h1m2 0h0m2 0h0m2 0h2m2 0h0m5 0h0m2 0h1m2 0h0m170 0h0m6 0h1m8 0h0m3 0h0m4 0h0m7 0h0m3 0h0m6 0h0m2 0h0m9 0h1m3 0h0m5 0h0m2 0h1m3 0h0m3 0h0m2 0h0m3 0h1m2 0h0m14 0h0m3 0h0m3 0h0m6 0h0m3 0h1m2 0h0m3 0h2m11 0h0m2 0h1m5 0h0m6 0h1m3 0h1m5 0h0m2 0h0m4 0h0m2 0h0m2 0h0m3 0h0m6 0h0m6 0h0m7 0h0m3 0h0m2 0h1m3 0h1m7 0h2m2 0h0m2 0h0m4 0h0m3 0h0m2 0h1m3 0h0m7 0h0m4 0h0m3 0h0m10 0h0m4 0h0m2 0h1m5 0h0m5 0h1m2 0h0m11 0h0m3 0h0m2 0h0m5 0h1m4 0h0m2 0h0m9 0h2m3 0h1m5 0h0m2 0h1m7 0h0m2 0h0m4 0h0m4 0h1m16 0h1m2 0h0m3 0h1m2 0h1m4 0h0m5 0h2m3 0h0m3 0h1m6 0h0m4 0h0m2 0h0m2 0h1m3 0h0m8 0h0m5 0h0m3 0h1m2 0h0m5 0h0M-487 231.27h0m5 0h1m3 0h0m2 0h1m2 0h0m3 0h0m3 0h0m3 0h0m4 0h0m4 0h1m2 0h1m3 0h0m3 0h1m3 0h0m2 0h0m3 0h1m3 0h0m5 0h1m2 0h0m8 0h0m3 0h1m2 0h0m4 0h0m3 0h0m2 0h0m2 0h0m2 0h1m2 0h0m4 0h1m2 0h1m2 0h3m4 0h1m2 0h0m7 0h1m4 0h1m2 0h0m2 0h0m3 0h0m5 0h0m3 0h0m4 0h0m6 0h0m3 0h0m2 0h0m2 0h3m2 0h0m2 0h0m2 0h1m2 0h0m4 0h0m3 0h0m3 0h0m2 0h1m3 0h0m2 0h2m2 0h1m2 0h0m3 0h0m3 0h1m2 0h0m5 0h4m2 0h2m2 0h0m5 0h1m3 0h0m2 0h0m3 0h0m3 0h0m3 0h0m5 0h0m5 0h0m3 0h0m4 0h0m3 0h0m2 0h0m2 0h0m5 0h0m3 0h1m5 0h0m4 0h0m2 0h2m9 0h0m5 0h2m2 0h1m2 0h0m4 0h0m7 0h0m2 0h1m6 0h0m2 0h0m2 0h1m3 0h0m3 0h0m6 0h0m3 0h0m2 0h0m6 0h0m3 0h0m3 0h3m2 0h1m3 0h0m4 0h0m3 0h0m2 0h0m4 0h0m2 0h2m2 0h1m2 0h0m2 0h0m3 0h0m13 0h0m170 0h0m2 0h0m16 0h0m5 0h0m3 0h1m2 0h0m9 0h0m2 0h1m6 0h2m8 0h2m2 0h0m2 0h1m3 0h0m2 0h0m6 0h0m9 0h0m4 0h0m2 0h0m2 0h0m2 0h1m7 0h0m3 0h0m18 0h0m3 0h0m2 0h1m5 0h0m2 0h2m5 0h0m7 0h2m2 0h0m2 0h0m11 0h0m7 0h0m3 0h0m11 0h1m3 0h2m6 0h2m5 0h0m5 0h0m2 0h0m2 0h0m2 0h0m2 0h0m4 0h0m2 0h1m2 0h0m4 0h0m5 0h1m2 0h0m3 0h0m4 0h1m13 0h0m3 0h1m2 0h0m4 0h1m5 0h0m2 0h0m3 0h0m5 0h0m3 0h0m2 0h1m2 0h0m2 0h0m2 0h0m7 0h0m3 0h0m2 0h0m4 0h0m9 0h2m6 0h1m2 0h0m5 0h1m3 0h0m3 0h0m3 0h0m3 0h0m2 0h0m9 0h1m2 0h1m3 0h0m3 0h0m8 0h0m3 0h0m2 0h0m3 0h0m2 0h0m5 0h0M-495 233.03h0m3 0h1m7 0h0m2 0h1m3 0h0m4 0h0m5 0h0m7 0h0m3 0h1m3 0h0m2 0h2m3 0h0m9 0h0m3 0h3m3 0h0m2 0h1m8 0h1m4 0h0m5 0h1m2 0h1m3 0h1m3 0h1m3 0h1m3 0h2m8 0h1m3 0h0m3 0h0m2 0h0m7 0h0m4 0h0m2 0h0m2 0h0m3 0h0m5 0h0m3 0h0m2 0h4m3 0h0m3 0h0m3 0h1m8 0h0m4 0h0m6 0h0m5 0h1m2 0h2m8 0h0m4 0h0m5 0h0m2 0h0m5 0h0m2 0h1m5 0h0m2 0h0m4 0h1m2 0h0m3 0h0m2 0h0m7 0h0m2 0h0m3 0h0m2 0h0m5 0h0m4 0h0m2 0h0m2 0h1m2 0h0m10 0h0m13 0h1m4 0h0m3 0h0m6 0h0m5 0h0m11 0h1m2 0h0m2 0h1m2 0h0m12 0h0m3 0h0m2 0h0m4 0h1m4 0h0m6 0h0m3 0h0m3 0h1m4 0h0m7 0h1m2 0h1m5 0h0m7 0h0m3 0h2m2 0h0m3 0h0m7 0h0m163 0h0m2 0h0m6 0h2m3 0h1m3 0h0m2 0h0m3 0h0m2 0h1m9 0h1m2 0h0m5 0h0m4 0h1m2 0h0m2 0h0m2 0h0m2 0h1m8 0h0m3 0h0m4 0h0m2 0h0m3 0h1m2 0h0m2 0h1m2 0h0m3 0h0m2 0h1m7 0h0m2 0h2m2 0h0m3 0h1m2 0h2m2 0h1m2 0h0m2 0h0m2 0h1m2 0h0m3 0h0m4 0h0m5 0h1m2 0h0m2 0h0m5 0h0m4 0h0m6 0h0m2 0h0m2 0h0m2 0h0m4 0h0m5 0h0m3 0h3m4 0h0m6 0h0m3 0h1m5 0h0m2 0h0m3 0h0m3 0h0m2 0h0m2 0h0m9 0h0m2 0h1m2 0h1m4 0h2m3 0h0m4 0h1m8 0h0m2 0h0m4 0h0m4 0h0m2 0h0m8 0h0m2 0h0m5 0h0m2 0h0m3 0h0m4 0h1m2 0h0m3 0h0m10 0h1m2 0h0m12 0h1m8 0h0m5 0h2m2 0h0m6 0h1m2 0h0m5 0h0m6 0h0m3 0h1m5 0h0m2 0h0m2 0h0m5 0h0m2 0h0m2 0h0m2 0h2m2 0h1m6 0h0m2 0h1m3 0h2m2 0h0m2 0h0m4 0h0m3 0h0M-494 234.79h1m2 0h0m3 0h1m2 0h0m5 0h1m3 0h1m2 0h0m15 0h1m4 0h1m2 0h0m7 0h0m7 0h6m8 0h0m3 0h1m2 0h1m2 0h0m3 0h0m4 0h0m3 0h1m7 0h0m2 0h1m2 0h1m5 0h0m2 0h0m3 0h0m6 0h0m8 0h0m2 0h0m2 0h0m2 0h0m3 0h0m5 0h0m3 0h3m4 0h0m2 0h0m5 0h0m4 0h1m2 0h1m5 0h0m6 0h1m3 0h0m2 0h0m2 0h3m6 0h1m4 0h0m3 0h0m4 0h0m3 0h0m2 0h1m2 0h1m4 0h1m7 0h1m3 0h0m2 0h1m7 0h0m2 0h1m2 0h1m3 0h0m8 0h0m3 0h1m2 0h0m3 0h5m7 0h0m4 0h0m2 0h1m3 0h0m2 0h1m5 0h0m2 0h0m2 0h0m7 0h1m4 0h0m4 0h0m10 0h0m6 0h0m3 0h1m3 0h0m3 0h0m6 0h1m6 0h0m3 0h0m2 0h1m3 0h0m2 0h2m6 0h0m2 0h0m3 0h1m3 0h0m2 0h0m2 0h1m2 0h0m3 0h0m2 0h0m4 0h2m2 0h0m5 0h0m167 0h0m4 0h1m2 0h0m3 0h2m7 0h2m2 0h0m5 0h0m2 0h0m4 0h1m5 0h0m2 0h1m2 0h1m3 0h0m2 0h0m2 0h1m2 0h1m2 0h0m2 0h1m2 0h0m2 0h1m2 0h0m2 0h0m8 0h1m3 0h0m2 0h0m4 0h1m2 0h1m2 0h0m2 0h1m8 0h0m2 0h0m6 0h0m3 0h0m8 0h0m5 0h2m3 0h0m3 0h0m4 0h1m3 0h0m4 0h0m6 0h2m3 0h0m2 0h0m8 0h2m3 0h1m3 0h0m4 0h0m6 0h0m3 0h0m2 0h0m2 0h1m3 0h0m11 0h0m6 0h0m3 0h0m2 0h0m7 0h2m3 0h0m3 0h0m3 0h1m2 0h0m5 0h0m3 0h0m3 0h0m2 0h0m3 0h0m2 0h1m2 0h0m4 0h1m3 0h1m2 0h0m3 0h1m2 0h0m3 0h1m2 0h0m5 0h0m3 0h0m4 0h1m4 0h1m12 0h1m3 0h1m2 0h0m3 0h0m2 0h2m6 0h2m7 0h1m7 0h0m4 0h0m3 0h0m2 0h0m2 0h0m2 0h1m6 0h0m2 0h1m2 0h0m2 0h0m3 0h0m2 0h0m2 0h1m2 0h0m2 0h1m2 0h0m4 0h0m4 0h0m4 0h0M-488 236.56h0m2 0h0m10 0h0m2 0h0m4 0h1m4 0h0m2 0h2m5 0h0m2 0h1m2 0h1m4 0h0m2 0h1m2 0h0m2 0h2m3 0h0m2 0h1m3 0h1m3 0h0m3 0h0m2 0h0m4 0h1m2 0h2m2 0h1m16 0h0m4 0h0m7 0h0m3 0h0m3 0h1m4 0h0m8 0h0m3 0h2m5 0h1m4 0h1m3 0h0m2 0h0m11 0h2m2 0h1m4 0h1m2 0h0m7 0h0m2 0h0m14 0h0m2 0h1m6 0h2m2 0h0m3 0h0m3 0h1m2 0h1m8 0h0m11 0h0m2 0h0m4 0h1m2 0h1m2 0h0m4 0h2m3 0h0m3 0h0m4 0h0m3 0h0m4 0h2m2 0h0m19 0h0m9 0h0m5 0h0m2 0h0m5 0h0m3 0h1m2 0h1m2 0h0m3 0h0m5 0h1m2 0h0m2 0h1m4 0h1m6 0h0m3 0h0m2 0h2m5 0h0m5 0h0m2 0h0m9 0h0m2 0h1m3 0h0m5 0h0m2 0h1m3 0h2m4 0h0m4 0h1m3 0h0m159 0h0m4 0h2m2 0h0m2 0h0m9 0h0m5 0h0m3 0h0m9 0h1m3 0h2m4 0h0m3 0h0m2 0h0m3 0h0m2 0h0m2 0h1m2 0h1m3 0h0m3 0h1m2 0h0m5 0h0m7 0h0m10 0h2m4 0h0m3 0h0m2 0h0m2 0h0m2 0h2m4 0h0m7 0h0m2 0h3m6 0h2m3 0h1m4 0h0m13 0h1m4 0h0m2 0h0m3 0h0m4 0h1m6 0h0m3 0h1m6 0h1m8 0h2m2 0h0m2 0h0m5 0h0m2 0h0m5 0h1m2 0h0m3 0h1m2 0h0m11 0h0m5 0h1m3 0h0m8 0h0m2 0h0m4 0h1m2 0h0m4 0h1m3 0h1m4 0h0m4 0h0m2 0h0m7 0h0m2 0h0m2 0h1m8 0h2m5 0h0m3 0h0m5 0h0m3 0h0m2 0h0m7 0h0m4 0h0m2 0h0m2 0h1m4 0h2m8 0h1m3 0h0m2 0h0m2 0h0m7 0h0m2 0h0m2 0h0m8 0h1m2 0h0m10 0h0m2 0h0m2 0h1m7 0h0m4 0h1m2 0h1m8 0h0M-495 238.32h0m2 0h0m2 0h0m6 0h1m2 0h0m2 0h0m4 0h1m5 0h1m5 0h0m8 0h0m7 0h0m2 0h0m2 0h0m10 0h0m3 0h1m2 0h0m3 0h0m4 0h0m2 0h2m4 0h0m3 0h1m2 0h3m2 0h0m2 0h1m2 0h0m4 0h0m5 0h0m3 0h1m2 0h0m2 0h0m2 0h0m2 0h0m4 0h1m3 0h0m2 0h0m4 0h0m8 0h0m4 0h0m2 0h1m2 0h1m3 0h0m3 0h1m4 0h1m3 0h0m2 0h0m4 0h0m6 0h0m8 0h0m6 0h0m4 0h0m2 0h0m6 0h0m5 0h0m7 0h1m3 0h3m6 0h0m3 0h0m3 0h0m4 0h1m6 0h0m11 0h0m2 0h0m2 0h0m2 0h0m2 0h0m4 0h0m6 0h2m2 0h0m2 0h1m2 0h0m3 0h0m5 0h0m2 0h1m4 0h0m5 0h0m11 0h1m3 0h0m3 0h0m9 0h1m4 0h0m2 0h1m3 0h0m4 0h0m2 0h0m4 0h1m6 0h2m3 0h0m5 0h0m6 0h0m3 0h0m8 0h0m2 0h0m2 0h1m2 0h0m4 0h0m8 0h3m174 0h0m4 0h1m6 0h0m3 0h0m2 0h0m5 0h0m3 0h2m4 0h0m2 0h2m4 0h0m4 0h0m6 0h1m2 0h0m2 0h0m5 0h2m3 0h1m3 0h0m3 0h0m3 0h0m10 0h0m2 0h1m6 0h0m2 0h0m6 0h0m3 0h0m5 0h1m3 0h0m2 0h0m2 0h0m2 0h0m3 0h0m4 0h0m2 0h0m11 0h1m3 0h0m3 0h1m5 0h0m3 0h0m2 0h0m7 0h0m3 0h1m2 0h0m6 0h0m2 0h0m3 0h2m5 0h0m2 0h1m11 0h0m6 0h1m2 0h1m3 0h0m7 0h0m2 0h1m5 0h0m2 0h0m3 0h0m2 0h0m4 0h0m4 0h0m3 0h0m3 0h0m6 0h1m5 0h0m6 0h0m3 0h0m3 0h2m4 0h1m2 0h0m6 0h0m4 0h0m9 0h2m3 0h1m3 0h0m2 0h4m2 0h0m2 0h2m5 0h0m6 0h0m2 0h2m2 0h0m2 0h0m6 0h1m2 0h0m2 0h1m3 0h1m5 0h0m2 0h1m3 0h0m2 0h0m3 0h2m8 0h0m2 0h0m2 0h0m2 0h1m3 0h0m2 0h0m5 0h0m2 0h0m3 0h0M-493 240.08h0m5 0h0m5 0h3m2 0h0m3 0h1m2 0h1m2 0h0m2 0h1m6 0h0m4 0h0m4 0h0m3 0h1m4 0h0m2 0h0m4 0h0m4 0h1m13 0h1m3 0h1m2 0h0m3 0h2m2 0h0m5 0h0m2 0h0m2 0h0m2 0h1m4 0h0m3 0h1m2 0h0m4 0h1m3 0h1m10 0h1m4 0h0m5 0h2m2 0h1m5 0h1m3 0h0m2 0h0m8 0h0m6 0h1m2 0h0m2 0h0m3 0h2m2 0h1m3 0h2m2 0h1m3 0h0m9 0h1m9 0h0m4 0h0m3 0h1m9 0h0m3 0h0m3 0h2m2 0h1m3 0h1m2 0h4m6 0h0m15 0h0m5 0h0m5 0h0m2 0h2m3 0h0m9 0h0m4 0h0m13 0h0m2 0h0m5 0h0m3 0h1m2 0h0m6 0h1m7 0h0m5 0h1m2 0h0m2 0h2m7 0h0m6 0h0m3 0h1m5 0h0m4 0h0m5 0h0m2 0h1m2 0h1m2 0h1m12 0h0m2 0h0m172 0h0m8 0h2m2 0h1m6 0h0m3 0h0m2 0h1m2 0h1m2 0h0m2 0h0m3 0h1m8 0h0m8 0h3m4 0h0m2 0h0m6 0h0m2 0h1m3 0h0m3 0h0m3 0h1m4 0h0m3 0h2m2 0h0m5 0h0m2 0h5m5 0h1m4 0h1m2 0h1m2 0h0m4 0h0m5 0h0m10 0h0m4 0h1m7 0h0m3 0h0m4 0h0m4 0h0m12 0h0m2 0h0m7 0h0m2 0h1m4 0h0m4 0h0m2 0h1m12 0h0m4 0h3m4 0h0m2 0h1m3 0h1m2 0h0m2 0h1m3 0h0m2 0h0m3 0h1m3 0h0m2 0h0m16 0h1m3 0h1m4 0h1m6 0h2m2 0h4m3 0h1m2 0h0m7 0h0m2 0h0m2 0h0m4 0h0m3 0h0m2 0h0m9 0h0m2 0h0m2 0h2m4 0h0m5 0h1m3 0h0m3 0h0m4 0h0m2 0h0m2 0h0m6 0h0m2 0h0m3 0h0m2 0h1m2 0h0m5 0h0m3 0h0m2 0h0m3 0h1m2 0h0m3 0h0m5 0h1m5 0h0m5 0h2m2 0h1m2 0h2M-494 241.84h0m2 0h0m3 0h0m2 0h1m7 0h0m2 0h0m3 0h0m2 0h0m4 0h0m5 0h0m4 0h0m2 0h1m4 0h0m2 0h0m4 0h0m3 0h4m2 0h1m5 0h0m2 0h1m5 0h1m3 0h0m4 0h0m9 0h0m7 0h1m4 0h0m2 0h0m2 0h2m5 0h0m2 0h1m4 0h0m3 0h0m6 0h1m6 0h1m3 0h0m4 0h1m8 0h0m3 0h2m3 0h0m5 0h2m3 0h0m2 0h2m4 0h0m6 0h0m2 0h0m3 0h1m3 0h0m3 0h0m3 0h0m2 0h1m3 0h0m2 0h1m11 0h0m2 0h0m3 0h2m6 0h0m2 0h0m6 0h0m2 0h0m3 0h0m2 0h0m2 0h0m4 0h1m3 0h0m2 0h2m2 0h1m8 0h0m5 0h0m3 0h0m2 0h0m2 0h1m6 0h0m3 0h1m6 0h0m6 0h0m2 0h2m3 0h0m5 0h0m6 0h0m2 0h0m3 0h0m11 0h0m5 0h0m6 0h0m2 0h0m3 0h0m2 0h0m3 0h1m7 0h0m9 0h0m4 0h0m4 0h0m4 0h0m2 0h0m4 0h0m2 0h0m2 0h1m2 0h0m3 0h3m2 0h0m173 0h0m4 0h1m3 0h0m2 0h1m2 0h1m5 0h3m2 0h0m3 0h0m11 0h1m4 0h0m3 0h0m2 0h0m3 0h0m7 0h2m3 0h1m3 0h0m4 0h0m2 0h0m3 0h1m2 0h0m2 0h0m2 0h0m5 0h0m4 0h0m3 0h2m3 0h0m8 0h0m8 0h1m3 0h0m5 0h2m3 0h0m5 0h0m4 0h0m6 0h0m4 0h0m2 0h0m2 0h0m10 0h0m3 0h0m3 0h1m2 0h1m5 0h0m4 0h1m4 0h1m2 0h0m5 0h0m3 0h1m3 0h0m3 0h0m5 0h0m2 0h2m3 0h0m2 0h0m3 0h0m3 0h0m4 0h4m5 0h0m2 0h0m3 0h0m2 0h0m2 0h1m7 0h0m2 0h1m3 0h0m2 0h0m2 0h1m3 0h0m8 0h0m4 0h0m3 0h0m3 0h0m4 0h1m7 0h0m3 0h0m3 0h0m4 0h0m3 0h0m9 0h0m4 0h1m12 0h0m5 0h1m2 0h0m4 0h0m2 0h0m3 0h0m10 0h1m4 0h0m3 0h1m6 0h0m3 0h0m3 0h2m7 0h0m2 0h1m2 0h0m5 0h0M-495 243.6h0m11 0h0m3 0h0m3 0h0m6 0h0m2 0h0m2 0h0m7 0h0m2 0h0m2 0h1m3 0h0m4 0h0m2 0h2m3 0h0m3 0h0m7 0h0m2 0h0m5 0h0m2 0h2m3 0h3m2 0h1m2 0h0m2 0h1m3 0h0m2 0h0m4 0h0m7 0h0m2 0h0m3 0h1m7 0h1m2 0h0m3 0h1m8 0h0m3 0h0m2 0h0m2 0h0m4 0h0m6 0h1m4 0h0m3 0h0m2 0h0m2 0h1m6 0h1m4 0h0m2 0h0m4 0h0m5 0h0m4 0h0m5 0h0m2 0h1m6 0h0m4 0h0m2 0h0m3 0h0m5 0h0m4 0h0m3 0h2m6 0h0m9 0h0m3 0h2m4 0h0m5 0h0m5 0h0m5 0h0m4 0h1m4 0h0m2 0h1m2 0h5m3 0h1m3 0h1m2 0h0m3 0h0m2 0h1m6 0h1m6 0h0m17 0h0m14 0h2m5 0h1m4 0h0m2 0h0m4 0h2m2 0h0m3 0h0m2 0h1m7 0h1m4 0h0m3 0h2m2 0h0m10 0h1m7 0h5m167 0h0m5 0h0m6 0h1m7 0h0m2 0h0m2 0h0m2 0h0m5 0h1m2 0h0m3 0h0m5 0h0m3 0h2m3 0h0m9 0h0m2 0h0m5 0h0m3 0h0m2 0h0m4 0h0m4 0h0m2 0h0m5 0h1m7 0h0m4 0h0m2 0h0m9 0h0m5 0h0m2 0h1m2 0h0m2 0h0m10 0h0m6 0h0m2 0h0m5 0h2m2 0h0m2 0h1m2 0h0m4 0h0m5 0h0m3 0h1m2 0h0m2 0h0m2 0h0m2 0h0m2 0h1m2 0h0m6 0h0m11 0h0m2 0h0m2 0h1m3 0h1m15 0h0m2 0h1m2 0h0m2 0h0m4 0h2m2 0h0m3 0h0m3 0h1m3 0h1m3 0h0m2 0h0m3 0h1m3 0h0m2 0h0m3 0h0m2 0h2m2 0h0m2 0h0m5 0h1m5 0h0m3 0h0m2 0h1m3 0h1m6 0h0m2 0h0m3 0h0m3 0h0m2 0h0m3 0h1m2 0h0m3 0h2m3 0h0m3 0h0m5 0h0m4 0h0m4 0h0m2 0h0m11 0h3m2 0h0m6 0h1m3 0h0m4 0h0m4 0h0m3 0h2m5 0h0m6 0h0m4 0h0m4 0h1m4 0h1m5 0h2M-494 245.36h1m5 0h0m2 0h0m3 0h0m2 0h0m3 0h0m4 0h0m3 0h0m9 0h0m2 0h0m5 0h0m7 0h1m3 0h0m2 0h0m7 0h0m3 0h0m2 0h0m4 0h0m3 0h1m5 0h0m3 0h0m3 0h0m5 0h1m6 0h0m4 0h0m2 0h1m2 0h0m5 0h1m2 0h1m3 0h0m2 0h0m5 0h1m4 0h2m4 0h0m4 0h0m7 0h0m5 0h0m2 0h0m3 0h0m3 0h0m2 0h1m4 0h0m3 0h0m2 0h0m2 0h0m7 0h0m7 0h0m2 0h0m2 0h1m2 0h0m5 0h1m2 0h0m2 0h1m2 0h0m4 0h0m3 0h0m4 0h1m8 0h0m2 0h1m2 0h1m4 0h1m3 0h0m2 0h0m3 0h0m2 0h1m3 0h1m6 0h1m5 0h0m4 0h0m2 0h0m5 0h0m10 0h0m2 0h0m4 0h1m4 0h0m2 0h0m5 0h0m3 0h0m3 0h0m3 0h0m4 0h1m2 0h1m2 0h0m4 0h0m2 0h0m6 0h0m3 0h0m3 0h0m3 0h0m3 0h0m4 0h0m2 0h0m2 0h2m4 0h1m3 0h0m4 0h1m6 0h1m2 0h4m2 0h1m5 0h0m4 0h0m10 0h0m2 0h0m7 0h0m179 0h0m6 0h1m3 0h1m2 0h0m4 0h0m2 0h1m2 0h0m3 0h2m2 0h0m3 0h0m5 0h0m2 0h0m3 0h0m11 0h0m2 0h0m2 0h0m4 0h0m3 0h1m5 0h1m2 0h0m3 0h1m3 0h0m3 0h0m7 0h1m3 0h0m3 0h1m5 0h0m5 0h0m3 0h0m5 0h1m3 0h1m2 0h1m2 0h0m6 0h1m3 0h0m4 0h0m4 0h3m2 0h1m4 0h1m10 0h2m4 0h0m5 0h0m3 0h0m2 0h1m2 0h0m12 0h0m4 0h0m2 0h0m3 0h0m7 0h0m2 0h1m2 0h0m3 0h1m2 0h0m2 0h1m3 0h0m2 0h3m5 0h0m3 0h0m2 0h0m2 0h0m2 0h2m2 0h2m2 0h1m6 0h0m2 0h0m2 0h1m2 0h0m3 0h0m3 0h1m4 0h0m2 0h0m2 0h0m3 0h0m9 0h1m3 0h0m2 0h1m8 0h0m3 0h0m2 0h1m3 0h0m3 0h1m5 0h0m2 0h0m4 0h1m11 0h2m4 0h0m6 0h0m3 0h0m5 0h0m3 0h0m6 0h0m3 0h0m3 0h0m2 0h1m3 0h0m3 0h0m2 0h0m3 0h0M-491 247.12h0m7 0h1m5 0h1m2 0h1m5 0h0m2 0h0m6 0h0m6 0h0m2 0h0m2 0h0m3 0h1m2 0h3m3 0h0m3 0h2m2 0h0m4 0h0m3 0h0m3 0h0m6 0h0m3 0h0m4 0h0m4 0h0m6 0h1m3 0h0m4 0h1m12 0h0m6 0h2m4 0h0m2 0h0m8 0h0m5 0h0m3 0h0m2 0h0m3 0h1m2 0h1m2 0h0m3 0h0m4 0h0m6 0h0m2 0h0m3 0h0m4 0h1m5 0h0m2 0h0m4 0h0m5 0h0m3 0h1m2 0h0m13 0h0m2 0h0m2 0h0m2 0h1m4 0h0m3 0h0m6 0h0m2 0h0m2 0h3m2 0h0m3 0h1m4 0h0m4 0h1m6 0h0m2 0h1m2 0h0m4 0h0m9 0h0m5 0h0m2 0h0m4 0h0m4 0h0m3 0h0m14 0h1m2 0h0m3 0h0m3 0h0m3 0h0m5 0h0m5 0h0m4 0h0m5 0h0m4 0h1m2 0h0m6 0h0m2 0h0m3 0h1m2 0h1m3 0h0m2 0h0m2 0h0m2 0h0m3 0h0m3 0h1m3 0h3m19 0h4m175 0h0m3 0h1m3 0h0m2 0h0m4 0h0m8 0h0m3 0h1m2 0h0m3 0h0m5 0h0m5 0h1m2 0h0m3 0h0m2 0h0m4 0h0m2 0h0m4 0h1m3 0h0m5 0h1m8 0h0m7 0h0m8 0h0m2 0h2m2 0h1m2 0h0m5 0h0m6 0h2m3 0h0m3 0h1m2 0h1m2 0h0m2 0h0m2 0h0m4 0h0m7 0h0m4 0h0m9 0h1m3 0h0m5 0h0m2 0h1m8 0h3m4 0h1m4 0h0m5 0h0m2 0h4m2 0h4m8 0h0m3 0h0m6 0h0m5 0h0m4 0h0m2 0h1m2 0h0m3 0h0m4 0h0m2 0h0m2 0h1m3 0h0m3 0h2m3 0h1m3 0h0m2 0h0m4 0h0m2 0h0m2 0h0m3 0h1m2 0h1m4 0h1m3 0h0m3 0h2m2 0h0m2 0h0m2 0h0m2 0h1m7 0h0m4 0h0m4 0h0m2 0h0m3 0h1m5 0h0m6 0h0m2 0h0m5 0h0m5 0h0m5 0h2m2 0h0m2 0h0m11 0h1m2 0h0m2 0h1m4 0h1m3 0h1m5 0h0m6 0h0m4 0h0m8 0h0M-492 248.88h0m2 0h0m8 0h0m3 0h0m2 0h1m2 0h0m7 0h0m3 0h0m3 0h1m2 0h0m3 0h1m3 0h0m5 0h0m2 0h1m8 0h0m2 0h1m3 0h0m4 0h0m3 0h0m2 0h0m8 0h0m5 0h0m5 0h0m5 0h0m2 0h0m8 0h0m2 0h0m7 0h2m6 0h1m2 0h0m3 0h0m2 0h2m6 0h0m3 0h0m4 0h0m6 0h0m2 0h1m8 0h0m2 0h0m2 0h2m3 0h0m4 0h0m7 0h0m2 0h0m9 0h0m7 0h0m4 0h1m5 0h0m9 0h1m2 0h0m3 0h1m3 0h0m2 0h1m3 0h0m2 0h1m2 0h0m6 0h1m3 0h0m4 0h1m3 0h2m3 0h0m4 0h1m14 0h1m3 0h0m10 0h3m4 0h0m2 0h0m3 0h1m5 0h1m3 0h0m2 0h0m4 0h0m3 0h0m3 0h0m10 0h0m9 0h0m3 0h1m2 0h1m6 0h0m3 0h0m2 0h0m3 0h0m4 0h0m2 0h1m4 0h0m5 0h1m2 0h0m7 0h0m2 0h0m178 0h0m9 0h1m2 0h6m2 0h1m7 0h0m5 0h3m2 0h1m3 0h1m10 0h0m6 0h0m3 0h0m2 0h0m3 0h0m3 0h0m5 0h0m4 0h1m2 0h1m3 0h0m2 0h0m2 0h0m4 0h1m4 0h0m2 0h1m2 0h0m4 0h0m4 0h0m7 0h0m3 0h1m2 0h0m2 0h3m4 0h0m5 0h1m2 0h0m4 0h0m5 0h1m2 0h1m2 0h0m4 0h0m2 0h0m2 0h0m3 0h1m6 0h0m6 0h0m12 0h0m2 0h0m4 0h0m4 0h3m6 0h0m2 0h0m5 0h0m6 0h0m2 0h0m7 0h0m5 0h4m3 0h0m7 0h0m2 0h1m3 0h1m2 0h0m2 0h0m10 0h0m6 0h0m5 0h0m4 0h0m3 0h1m3 0h0m5 0h1m6 0h0m5 0h0m2 0h0m3 0h0m6 0h0m5 0h0m2 0h0m3 0h0m9 0h0m2 0h0m3 0h1m6 0h0m4 0h0m2 0h1m2 0h0m7 0h0m5 0h1m2 0h0m2 0h0m2 0h0m7 0h0m2 0h0m3 0h1m4 0h0m2 0h0m2 0h0m6 0h0M-492 250.64h1m2 0h0m2 0h0m2 0h0m6 0h0m5 0h0m2 0h0m5 0h0m2 0h0m2 0h1m2 0h1m6 0h1m2 0h0m3 0h0m7 0h0m2 0h1m2 0h0m3 0h1m5 0h0m7 0h2m3 0h1m5 0h1m6 0h0m3 0h1m3 0h1m2 0h1m4 0h1m5 0h0m2 0h0m2 0h0m3 0h3m7 0h1m3 0h1m3 0h0m4 0h1m9 0h0m2 0h0m2 0h0m3 0h0m4 0h0m2 0h0m6 0h0m4 0h0m3 0h0m3 0h0m4 0h0m3 0h1m2 0h1m4 0h0m3 0h0m4 0h0m8 0h0m3 0h0m2 0h1m2 0h0m3 0h0m2 0h0m2 0h0m5 0h1m2 0h1m4 0h0m3 0h0m2 0h0m6 0h0m4 0h0m2 0h0m2 0h0m2 0h0m11 0h1m3 0h1m4 0h0m7 0h1m2 0h0m2 0h1m3 0h0m3 0h0m6 0h0m10 0h0m3 0h1m2 0h1m4 0h1m4 0h0m9 0h0m3 0h0m8 0h0m2 0h1m4 0h0m2 0h0m2 0h0m6 0h1m3 0h0m8 0h1m2 0h1m3 0h0m4 0h1m3 0h1m2 0h0m2 0h1m11 0h0m168 0h0m2 0h0m2 0h0m7 0h1m3 0h0m4 0h0m2 0h0m2 0h1m3 0h0m3 0h0m10 0h1m2 0h0m2 0h0m5 0h0m2 0h1m2 0h1m12 0h1m3 0h0m3 0h1m5 0h0m2 0h0m5 0h0m4 0h0m3 0h1m10 0h1m4 0h2m2 0h0m2 0h0m2 0h0m6 0h2m3 0h0m4 0h1m11 0h1m4 0h0m2 0h0m2 0h0m3 0h1m3 0h0m3 0h2m4 0h0m2 0h0m2 0h0m3 0h1m2 0h0m6 0h0m3 0h1m2 0h1m2 0h0m2 0h1m16 0h0m5 0h1m5 0h0m3 0h1m2 0h0m3 0h0m7 0h0m2 0h1m8 0h0m6 0h0m3 0h1m2 0h1m3 0h0m4 0h1m3 0h2m2 0h1m4 0h1m2 0h0m4 0h0m5 0h0m3 0h0m8 0h2m2 0h0m2 0h2m10 0h1m4 0h1m4 0h1m3 0h0m2 0h0m9 0h0m5 0h0m4 0h0m3 0h1m2 0h1m2 0h0m3 0h0m6 0h0m2 0h0m4 0h1m4 0h0m5 0h2m11 0h0M-495 252.4h1m4 0h0m4 0h0m3 0h0m3 0h0m5 0h0m11 0h1m2 0h0m2 0h0m3 0h0m5 0h0m9 0h0m2 0h0m2 0h1m3 0h0m2 0h0m2 0h0m2 0h0m5 0h0m2 0h1m2 0h0m3 0h0m6 0h0m3 0h0m2 0h0m6 0h1m2 0h0m4 0h0m4 0h0m2 0h0m3 0h0m2 0h1m5 0h0m10 0h0m2 0h0m3 0h0m2 0h0m8 0h1m2 0h1m5 0h0m3 0h1m2 0h2m8 0h1m10 0h1m7 0h1m3 0h0m2 0h0m3 0h1m3 0h1m6 0h1m2 0h2m3 0h0m6 0h0m2 0h0m3 0h0m4 0h0m4 0h0m4 0h0m7 0h0m4 0h0m9 0h0m5 0h2m3 0h1m4 0h0m11 0h0m2 0h0m4 0h1m5 0h0m3 0h1m4 0h0m2 0h0m5 0h0m5 0h0m2 0h2m2 0h0m9 0h1m2 0h0m2 0h0m6 0h1m2 0h0m2 0h0m3 0h0m3 0h1m2 0h0m2 0h0m2 0h0m3 0h0m3 0h1m6 0h0m3 0h2m2 0h1m2 0h0m4 0h0m2 0h0m4 0h0m4 0h0m185 0h0m3 0h1m3 0h0m3 0h1m2 0h0m2 0h0m2 0h1m2 0h0m4 0h0m2 0h0m5 0h0m2 0h0m2 0h1m2 0h0m2 0h0m3 0h0m3 0h1m2 0h0m3 0h0m2 0h1m3 0h1m3 0h1m3 0h0m5 0h2m2 0h0m2 0h1m3 0h1m4 0h1m2 0h0m3 0h1m2 0h0m2 0h0m4 0h0m2 0h0m2 0h0m5 0h1m7 0h0m3 0h0m4 0h1m3 0h0m3 0h0m3 0h2m2 0h0m6 0h0m3 0h1m2 0h0m5 0h0m2 0h1m9 0h0m5 0h1m3 0h0m5 0h0m6 0h0m3 0h0m2 0h0m3 0h0m7 0h2m3 0h0m3 0h0m5 0h1m2 0h0m5 0h0m2 0h0m16 0h0m3 0h0m4 0h1m2 0h0m4 0h0m2 0h0m2 0h0m2 0h0m5 0h0m2 0h0m5 0h0m2 0h1m2 0h0m4 0h0m3 0h0m4 0h0m8 0h0m9 0h0m5 0h1m8 0h0m5 0h0m2 0h1m2 0h0m4 0h0m5 0h1m2 0h0m3 0h0m2 0h0m4 0h0m2 0h0m4 0h1m2 0h0m5 0h0m3 0h1m8 0h0m4 0h2m2 0h0m4 0h0m3 0h0m3 0h1m2 0h0m4 0h0M-495 254.16h1m3 0h1m2 0h0m3 0h0m6 0h1m5 0h0m5 0h1m2 0h1m3 0h2m3 0h1m6 0h0m10 0h0m2 0h1m3 0h2m4 0h2m2 0h1m3 0h1m3 0h0m2 0h0m4 0h2m3 0h0m3 0h0m2 0h0m11 0h0m4 0h0m2 0h1m3 0h1m3 0h0m2 0h0m2 0h1m6 0h2m6 0h0m2 0h0m3 0h0m3 0h0m4 0h0m3 0h1m4 0h0m6 0h0m3 0h1m2 0h0m5 0h1m4 0h0m3 0h1m3 0h0m3 0h0m6 0h0m3 0h0m6 0h0m5 0h0m2 0h4m3 0h0m6 0h1m3 0h0m8 0h0m3 0h0m2 0h1m3 0h0m3 0h0m11 0h3m8 0h0m2 0h0m3 0h1m2 0h2m5 0h1m6 0h0m10 0h0m8 0h1m4 0h0m2 0h0m2 0h1m2 0h0m4 0h2m3 0h5m2 0h0m9 0h0m2 0h0m3 0h0m3 0h0m2 0h0m3 0h0m3 0h0m4 0h1m5 0h0m2 0h1m2 0h0m2 0h0m2 0h1m2 0h0m3 0h1m2 0h0m7 0h0m4 0h1m175 0h1m4 0h0m3 0h0m2 0h0m2 0h0m4 0h0m2 0h0m2 0h0m6 0h1m4 0h0m4 0h0m4 0h1m3 0h4m3 0h1m5 0h0m10 0h0m2 0h1m2 0h0m20 0h0m2 0h1m2 0h1m4 0h0m4 0h0m2 0h1m5 0h0m5 0h0m2 0h1m7 0h0m3 0h0m7 0h2m5 0h0m2 0h0m4 0h1m8 0h0m2 0h0m4 0h0m4 0h1m6 0h1m4 0h0m6 0h0m4 0h1m4 0h1m2 0h1m4 0h0m5 0h0m3 0h2m10 0h0m4 0h0m6 0h0m3 0h0m3 0h0m3 0h0m12 0h0m7 0h0m4 0h1m2 0h0m8 0h0m4 0h0m4 0h0m2 0h1m3 0h3m2 0h0m2 0h0m9 0h0m2 0h0m3 0h0m2 0h0m4 0h2m3 0h0m3 0h1m2 0h1m4 0h1m3 0h0m2 0h0m7 0h1m2 0h1m9 0h0m2 0h0m2 0h0m3 0h2m7 0h0m4 0h0m6 0h2m5 0h0m5 0h2m3 0h0m2 0h0m2 0h1M-495 255.92h2m4 0h0m4 0h0m2 0h0m2 0h1m2 0h0m6 0h0m8 0h0m6 0h0m4 0h0m4 0h0m3 0h0m3 0h3m9 0h0m5 0h0m9 0h1m4 0h1m9 0h1m2 0h1m2 0h0m5 0h0m3 0h2m5 0h0m3 0h1m4 0h0m5 0h0m3 0h0m2 0h0m5 0h0m3 0h0m2 0h0m2 0h1m6 0h0m4 0h0m2 0h0m3 0h0m2 0h0m3 0h0m3 0h0m2 0h1m3 0h2m8 0h0m4 0h0m2 0h1m3 0h1m6 0h0m2 0h0m2 0h0m3 0h0m3 0h1m2 0h1m5 0h0m2 0h0m3 0h1m5 0h0m3 0h0m3 0h0m4 0h1m2 0h0m4 0h0m6 0h0m2 0h0m3 0h0m7 0h1m6 0h0m2 0h0m3 0h0m2 0h0m2 0h0m2 0h1m2 0h0m2 0h0m3 0h1m6 0h0m4 0h1m2 0h0m4 0h0m2 0h0m6 0h0m2 0h0m7 0h1m5 0h1m11 0h0m7 0h1m6 0h1m4 0h0m2 0h0m3 0h0m2 0h0m2 0h0m3 0h1m3 0h2m2 0h1m6 0h0m4 0h0m2 0h0m2 0h0m8 0h0m178 0h0m2 0h1m4 0h0m4 0h0m3 0h0m3 0h0m3 0h0m2 0h0m3 0h0m6 0h0m2 0h0m7 0h1m2 0h3m5 0h0m3 0h0m5 0h1m5 0h4m2 0h1m3 0h0m3 0h0m9 0h0m2 0h0m4 0h0m9 0h0m2 0h0m3 0h1m3 0h0m4 0h1m2 0h1m4 0h1m4 0h0m7 0h0m2 0h0m2 0h0m4 0h0m6 0h2m2 0h3m3 0h0m5 0h0m2 0h1m2 0h3m5 0h2m2 0h0m6 0h0m5 0h0m3 0h0m6 0h1m5 0h0m5 0h1m4 0h1m3 0h1m5 0h0m6 0h0m5 0h1m2 0h0m2 0h1m2 0h2m9 0h0m4 0h0m2 0h0m7 0h0m4 0h1m5 0h0m3 0h1m10 0h1m3 0h0m3 0h0m4 0h3m3 0h0m6 0h2m4 0h4m5 0h0m2 0h0m11 0h0m8 0h0m2 0h0m6 0h0m5 0h1m2 0h0m3 0h0m5 0h0m6 0h0m6 0h0m2 0h1m4 0h0m2 0h1m7 0h0M-492 257.68h0m3 0h0m4 0h0m2 0h1m3 0h0m8 0h0m5 0h0m5 0h0m3 0h1m2 0h0m2 0h1m3 0h2m3 0h0m2 0h0m3 0h1m5 0h0m2 0h2m2 0h0m2 0h0m2 0h0m5 0h0m3 0h0m4 0h1m6 0h0m10 0h0m6 0h1m2 0h0m4 0h0m3 0h0m7 0h3m2 0h0m2 0h1m3 0h1m8 0h1m7 0h0m4 0h1m3 0h0m7 0h0m2 0h1m2 0h0m5 0h0m2 0h2m3 0h0m3 0h0m2 0h2m9 0h1m3 0h0m2 0h0m3 0h0m2 0h0m3 0h1m5 0h2m2 0h1m4 0h1m5 0h1m2 0h0m2 0h0m2 0h0m5 0h1m3 0h0m2 0h0m3 0h0m2 0h0m2 0h0m2 0h0m2 0h0m4 0h0m2 0h0m3 0h0m4 0h0m5 0h0m3 0h0m6 0h0m9 0h0m5 0h0m4 0h0m6 0h1m11 0h0m7 0h0m2 0h1m2 0h0m4 0h0m3 0h1m3 0h0m4 0h0m6 0h1m2 0h0m3 0h0m5 0h1m2 0h1m2 0h0m2 0h0m3 0h1m8 0h0m3 0h1m200 0h0m2 0h0m8 0h0m7 0h1m3 0h2m5 0h0m2 0h0m2 0h0m2 0h1m6 0h1m2 0h0m3 0h0m5 0h0m3 0h1m2 0h1m3 0h2m2 0h3m2 0h0m8 0h2m8 0h0m3 0h0m5 0h0m6 0h0m7 0h0m4 0h1m5 0h1m4 0h0m3 0h0m7 0h2m2 0h1m2 0h1m3 0h0m3 0h0m2 0h1m3 0h0m5 0h0m3 0h0m4 0h0m2 0h1m3 0h2m11 0h0m2 0h0m6 0h0m2 0h0m3 0h0m2 0h1m3 0h1m2 0h0m2 0h0m7 0h1m3 0h0m3 0h0m2 0h0m4 0h0m2 0h0m2 0h0m5 0h1m5 0h0m4 0h0m8 0h1m4 0h0m4 0h0m2 0h1m2 0h0m8 0h2m2 0h0m3 0h0m6 0h3m4 0h0m2 0h0m2 0h0m3 0h0m4 0h0m3 0h0m4 0h1m2 0h0m2 0h0m6 0h0m15 0h0m4 0h1m2 0h0m2 0h1m2 0h2m2 0h0m2 0h0m6 0h0m3 0h0m2 0h1m3 0h1m5 0h1m2 0h0m5 0h0M-495 259.44h0m3 0h1m4 0h0m2 0h0m3 0h0m8 0h1m3 0h0m6 0h0m2 0h0m5 0h2m2 0h0m3 0h0m4 0h0m2 0h2m3 0h0m5 0h1m2 0h0m3 0h0m2 0h1m2 0h0m4 0h1m2 0h0m2 0h0m6 0h1m5 0h0m4 0h0m9 0h0m2 0h0m3 0h1m2 0h1m2 0h0m2 0h0m10 0h0m3 0h0m3 0h1m2 0h1m3 0h0m8 0h0m2 0h0m3 0h0m3 0h0m7 0h0m2 0h0m2 0h0m3 0h0m2 0h1m2 0h2m4 0h1m5 0h0m2 0h0m14 0h0m2 0h1m2 0h0m3 0h1m2 0h1m3 0h0m12 0h0m5 0h0m5 0h0m5 0h1m5 0h0m5 0h0m2 0h1m3 0h0m2 0h0m5 0h0m5 0h0m3 0h0m7 0h0m6 0h1m2 0h0m2 0h0m3 0h0m2 0h0m2 0h0m3 0h1m7 0h2m4 0h1m2 0h1m3 0h0m3 0h0m2 0h0m2 0h1m3 0h1m4 0h0m3 0h0m5 0h0m2 0h0m2 0h0m3 0h1m2 0h0m4 0h0m4 0h2m7 0h0m3 0h0m4 0h0m6 0h0m2 0h0m3 0h1m5 0h0m184 0h0m2 0h1m3 0h0m5 0h0m3 0h0m2 0h1m2 0h0m2 0h0m3 0h0m3 0h0m2 0h0m2 0h0m2 0h0m2 0h1m15 0h0m2 0h0m3 0h0m2 0h0m2 0h0m5 0h0m3 0h2m2 0h0m9 0h1m7 0h0m7 0h0m2 0h0m4 0h0m2 0h0m2 0h0m7 0h2m3 0h0m3 0h2m2 0h0m4 0h2m7 0h0m6 0h0m3 0h1m2 0h0m2 0h2m2 0h0m13 0h1m2 0h1m2 0h1m2 0h0m3 0h0m2 0h1m2 0h0m2 0h0m3 0h2m2 0h0m8 0h1m5 0h0m2 0h0m4 0h0m3 0h2m3 0h3m2 0h0m2 0h0m2 0h1m7 0h0m2 0h4m2 0h0m5 0h0m4 0h0m4 0h0m5 0h1m3 0h0m8 0h1m2 0h1m5 0h0m6 0h0m3 0h1m3 0h0m3 0h0m3 0h0m2 0h0m2 0h0m4 0h0m2 0h2m7 0h0m4 0h0m5 0h0m4 0h0m4 0h0m5 0h1m2 0h0m6 0h1m2 0h0m3 0h0m2 0h0m3 0h0m2 0h0m2 0h0m5 0h0m4 0h1m4 0h1m3 0h0m8 0h0m2 0h0m3 0h0M-495 261.2h0m10 0h0m2 0h0m6 0h1m2 0h0m2 0h0m2 0h0m2 0h0m5 0h0m2 0h1m3 0h0m2 0h0m4 0h2m2 0h0m3 0h0m3 0h0m3 0h0m2 0h0m3 0h0m6 0h0m3 0h0m2 0h1m2 0h0m3 0h1m2 0h1m4 0h0m3 0h0m3 0h0m3 0h1m11 0h0m2 0h0m4 0h0m11 0h0m4 0h0m5 0h0m2 0h0m2 0h0m3 0h0m2 0h0m2 0h0m6 0h0m2 0h1m3 0h1m4 0h0m11 0h0m4 0h0m5 0h0m2 0h0m4 0h0m3 0h1m7 0h2m2 0h0m7 0h0m6 0h0m12 0h0m6 0h1m3 0h0m2 0h1m4 0h0m4 0h0m5 0h1m4 0h0m2 0h0m4 0h0m2 0h0m3 0h1m2 0h0m2 0h0m4 0h0m4 0h1m5 0h1m6 0h2m6 0h0m2 0h1m3 0h0m4 0h1m2 0h0m12 0h0m4 0h0m5 0h0m3 0h0m6 0h0m4 0h0m9 0h1m5 0h0m2 0h1m2 0h0m3 0h0m6 0h1m2 0h2m2 0h0m6 0h0m5 0h1m7 0h0m173 0h0m2 0h1m8 0h1m2 0h0m7 0h2m2 0h0m2 0h0m2 0h0m3 0h2m3 0h0m3 0h0m3 0h0m2 0h0m2 0h3m2 0h1m4 0h3m5 0h0m8 0h0m3 0h1m7 0h2m4 0h1m4 0h0m2 0h0m2 0h1m8 0h0m3 0h0m3 0h0m6 0h1m9 0h2m10 0h0m4 0h0m2 0h1m2 0h0m2 0h1m3 0h0m8 0h3m2 0h0m2 0h0m2 0h0m5 0h5m2 0h1m4 0h0m4 0h1m9 0h0m2 0h0m4 0h2m7 0h0m2 0h0m4 0h0m2 0h0m5 0h0m2 0h0m3 0h2m2 0h0m2 0h0m8 0h0m2 0h0m3 0h0m2 0h0m2 0h0m4 0h1m3 0h2m3 0h0m3 0h0m3 0h1m3 0h0m3 0h1m3 0h0m2 0h2m6 0h0m2 0h0m2 0h0m4 0h0m5 0h0m3 0h0m2 0h0m3 0h0m5 0h1m3 0h0m4 0h0m3 0h0m8 0h0m9 0h3m2 0h1m2 0h0m5 0h0m12 0h1m3 0h0m2 0h0m4 0h0m2 0h0m2 0h0m2 0h0m3 0h0m6 0h0m6 0h0M-495 262.97h1m2 0h0m3 0h2m11 0h0m2 0h0m2 0h0m3 0h0m4 0h0m3 0h1m3 0h0m3 0h0m8 0h1m2 0h1m4 0h1m3 0h3m3 0h0m4 0h1m4 0h0m2 0h0m2 0h1m2 0h1m4 0h1m2 0h0m2 0h0m3 0h1m3 0h0m2 0h1m5 0h0m3 0h0m5 0h0m2 0h0m7 0h0m7 0h0m4 0h1m2 0h0m5 0h0m2 0h0m9 0h1m2 0h1m3 0h2m4 0h0m2 0h0m2 0h1m2 0h0m10 0h1m4 0h0m10 0h0m3 0h1m3 0h1m3 0h0m4 0h0m3 0h0m2 0h0m3 0h0m2 0h0m4 0h0m7 0h0m6 0h0m3 0h2m3 0h0m3 0h1m2 0h0m2 0h0m3 0h1m8 0h0m7 0h0m3 0h1m3 0h1m3 0h1m2 0h0m6 0h0m4 0h1m2 0h0m4 0h0m3 0h0m5 0h1m2 0h1m3 0h1m2 0h0m3 0h2m9 0h1m2 0h0m13 0h2m3 0h1m3 0h1m2 0h1m5 0h0m4 0h0m2 0h1m4 0h0m5 0h0m3 0h1m3 0h0m2 0h0m2 0h0m2 0h1m3 0h1m2 0h1m2 0h0m169 0h0m2 0h1m8 0h1m2 0h0m7 0h0m6 0h0m4 0h0m3 0h0m7 0h0m9 0h0m2 0h0m2 0h0m6 0h0m6 0h0m6 0h1m4 0h0m2 0h0m3 0h0m7 0h1m2 0h4m20 0h0m2 0h1m5 0h0m3 0h1m2 0h1m3 0h0m3 0h0m3 0h1m2 0h1m5 0h0m4 0h0m2 0h0m3 0h1m6 0h0m13 0h0m3 0h0m2 0h0m8 0h0m4 0h0m2 0h1m3 0h0m4 0h0m4 0h0m2 0h1m2 0h0m4 0h0m5 0h1m6 0h0m6 0h0m2 0h0m3 0h0m3 0h0m3 0h0m3 0h0m4 0h0m3 0h3m20 0h1m4 0h0m10 0h1m7 0h0m2 0h1m7 0h0m5 0h0m3 0h1m2 0h0m2 0h0m2 0h0m2 0h2m3 0h1m3 0h0m7 0h1m5 0h0m4 0h0m7 0h0m2 0h0m2 0h0m3 0h2m2 0h0m12 0h0m3 0h1m3 0h2m2 0h0m2 0h2m2 0h0m2 0h0m3 0h0M-495 264.73h0m2 0h1m4 0h0m2 0h0m4 0h1m3 0h0m7 0h0m5 0h1m5 0h0m5 0h0m2 0h1m2 0h3m7 0h1m3 0h0m2 0h0m3 0h0m4 0h0m3 0h1m4 0h0m4 0h0m2 0h0m2 0h1m6 0h0m6 0h0m2 0h0m2 0h0m2 0h0m2 0h0m2 0h0m4 0h0m2 0h0m2 0h0m2 0h0m7 0h0m3 0h0m7 0h0m3 0h1m2 0h0m7 0h0m5 0h1m2 0h0m18 0h0m3 0h0m3 0h0m4 0h0m2 0h0m2 0h0m3 0h0m6 0h1m2 0h1m6 0h0m4 0h1m2 0h0m4 0h1m4 0h0m2 0h0m15 0h0m2 0h0m2 0h0m2 0h0m4 0h0m3 0h0m3 0h1m3 0h0m6 0h0m2 0h2m3 0h2m3 0h0m3 0h1m5 0h5m2 0h3m2 0h1m3 0h1m3 0h1m4 0h2m2 0h0m3 0h0m5 0h0m2 0h0m3 0h3m3 0h0m2 0h1m4 0h0m5 0h0m3 0h0m6 0h1m2 0h0m2 0h2m3 0h1m5 0h0m2 0h0m3 0h0m2 0h2m2 0h0m3 0h0m2 0h0m3 0h0m3 0h1m4 0h0m2 0h1m2 0h1m2 0h1m4 0h0m172 0h1m8 0h0m11 0h1m8 0h0m3 0h0m5 0h0m2 0h0m7 0h0m3 0h0m2 0h1m3 0h1m2 0h0m16 0h0m4 0h2m5 0h0m2 0h0m2 0h0m2 0h2m3 0h1m2 0h0m2 0h0m3 0h0m3 0h0m4 0h2m7 0h1m4 0h0m8 0h1m4 0h1m3 0h0m2 0h0m3 0h0m4 0h0m7 0h0m4 0h0m3 0h1m2 0h2m3 0h0m2 0h1m3 0h0m2 0h0m5 0h6m3 0h0m3 0h1m6 0h1m2 0h1m13 0h0m3 0h0m10 0h1m2 0h0m4 0h0m7 0h0m2 0h0m3 0h1m2 0h0m4 0h0m2 0h0m4 0h0m16 0h0m2 0h0m5 0h1m3 0h0m2 0h4m2 0h0m2 0h0m3 0h1m3 0h0m2 0h1m9 0h0m7 0h0m6 0h1m4 0h0m3 0h0m3 0h1m4 0h1m2 0h0m3 0h1m5 0h0m3 0h0m5 0h0m4 0h0m5 0h0m2 0h0m2 0h0m3 0h0m2 0h0m2 0h0m2 0h0m2 0h0m4 0h1m5 0h0M-491 266.49h0m5 0h1m2 0h0m4 0h0m3 0h0m2 0h0m4 0h1m5 0h0m4 0h0m4 0h0m2 0h0m7 0h0m4 0h0m3 0h0m2 0h1m2 0h0m13 0h0m3 0h0m4 0h0m2 0h0m7 0h1m2 0h0m9 0h0m6 0h0m4 0h0m4 0h0m4 0h0m3 0h0m5 0h0m3 0h0m4 0h0m5 0h1m4 0h0m8 0h2m2 0h0m3 0h0m6 0h1m2 0h0m2 0h0m4 0h1m5 0h0m2 0h0m2 0h1m3 0h1m2 0h0m5 0h0m2 0h3m4 0h0m3 0h0m3 0h0m2 0h0m2 0h0m3 0h0m2 0h0m7 0h0m2 0h0m4 0h0m8 0h1m5 0h0m7 0h1m4 0h2m4 0h0m3 0h1m2 0h1m3 0h0m2 0h1m3 0h3m5 0h0m7 0h2m3 0h3m3 0h0m5 0h0m3 0h0m2 0h0m2 0h0m5 0h0m2 0h1m3 0h0m7 0h4m9 0h0m2 0h0m4 0h0m5 0h1m2 0h0m4 0h0m4 0h2m2 0h0m2 0h1m3 0h0m7 0h0m2 0h1m3 0h1m2 0h0m3 0h0m2 0h0m2 0h1m5 0h0m182 0h0m2 0h0m4 0h0m2 0h0m6 0h0m2 0h0m4 0h0m2 0h0m3 0h2m2 0h0m18 0h0m4 0h1m2 0h0m3 0h1m3 0h0m3 0h3m2 0h0m2 0h0m5 0h1m2 0h0m2 0h1m3 0h0m3 0h0m2 0h1m2 0h0m3 0h1m3 0h0m2 0h0m2 0h0m4 0h0m2 0h0m2 0h0m3 0h1m3 0h1m4 0h0m2 0h2m8 0h0m2 0h0m4 0h0m9 0h0m3 0h0m6 0h0m4 0h0m4 0h0m4 0h2m4 0h0m3 0h0m3 0h0m8 0h0m4 0h2m4 0h0m2 0h0m3 0h0m2 0h0m6 0h0m2 0h1m6 0h2m8 0h0m2 0h1m9 0h3m4 0h0m2 0h1m3 0h0m3 0h1m4 0h0m4 0h0m9 0h1m2 0h1m2 0h0m2 0h2m3 0h0m2 0h0m3 0h0m2 0h0m4 0h1m2 0h0m3 0h0m3 0h1m2 0h0m4 0h3m4 0h0m4 0h1m3 0h4m2 0h0m2 0h0m3 0h0m5 0h0m3 0h0m3 0h0m3 0h0m2 0h0m7 0h0m5 0h1m2 0h0m3 0h0m2 0h1m2 0h0m2 0h0m3 0h0m5 0h0M-495 268.25h0m6 0h0m4 0h1m7 0h0m8 0h0m7 0h0m5 0h0m2 0h0m2 0h0m4 0h0m4 0h1m7 0h0m4 0h1m5 0h1m2 0h0m2 0h0m5 0h0m2 0h0m4 0h0m2 0h0m3 0h0m5 0h0m3 0h1m2 0h0m9 0h0m2 0h0m3 0h1m4 0h1m4 0h0m4 0h0m5 0h1m3 0h0m10 0h0m10 0h0m2 0h1m3 0h0m3 0h1m4 0h1m6 0h1m2 0h0m2 0h0m7 0h2m3 0h0m7 0h0m6 0h0m2 0h0m3 0h0m2 0h0m3 0h1m2 0h0m5 0h0m7 0h0m4 0h0m2 0h1m5 0h1m2 0h0m3 0h1m6 0h1m3 0h0m6 0h0m6 0h0m2 0h0m7 0h0m2 0h0m2 0h1m2 0h2m6 0h1m5 0h1m6 0h0m2 0h0m2 0h1m5 0h0m2 0h0m4 0h1m3 0h0m8 0h1m8 0h0m2 0h1m2 0h0m3 0h2m2 0h4m2 0h1m2 0h0m2 0h1m3 0h1m2 0h0m3 0h0m3 0h0m2 0h0m5 0h0m5 0h1m2 0h1m2 0h0m6 0h1m175 0h1m2 0h0m3 0h4m2 0h1m4 0h2m4 0h0m3 0h0m9 0h1m4 0h2m3 0h0m5 0h1m2 0h0m2 0h0m5 0h0m2 0h1m2 0h0m9 0h0m2 0h0m2 0h0m7 0h5m3 0h0m2 0h0m2 0h0m3 0h0m5 0h6m6 0h0m4 0h1m4 0h1m6 0h0m4 0h0m3 0h0m5 0h0m5 0h0m7 0h0m4 0h0m4 0h1m4 0h0m4 0h1m7 0h0m8 0h0m5 0h0m4 0h1m2 0h0m9 0h0m7 0h0m3 0h1m2 0h0m2 0h1m6 0h0m2 0h1m6 0h0m4 0h0m3 0h0m8 0h1m2 0h0m7 0h0m3 0h0m5 0h0m5 0h3m9 0h0m3 0h0m8 0h0m2 0h0m2 0h0m7 0h0m3 0h0m2 0h0m3 0h1m5 0h0m4 0h0m2 0h0m6 0h0m4 0h1m9 0h0m2 0h0m3 0h0m2 0h0m5 0h1m6 0h1m2 0h0m6 0h0m2 0h0m4 0h0m2 0h0m6 0h0M-493 270.01h1m8 0h0m7 0h2m3 0h0m2 0h1m13 0h0m2 0h0m2 0h0m2 0h0m2 0h0m4 0h0m20 0h0m5 0h0m4 0h2m3 0h1m2 0h0m3 0h2m8 0h0m2 0h1m3 0h0m5 0h0m2 0h1m2 0h2m5 0h0m3 0h2m2 0h2m5 0h1m2 0h0m4 0h2m3 0h1m2 0h1m2 0h0m3 0h0m2 0h0m3 0h0m2 0h0m2 0h1m4 0h2m4 0h0m2 0h1m7 0h0m2 0h1m2 0h0m2 0h1m3 0h0m3 0h0m4 0h2m3 0h0m2 0h0m4 0h0m4 0h1m7 0h1m8 0h1m2 0h0m8 0h0m3 0h0m6 0h0m8 0h0m2 0h0m2 0h0m4 0h1m3 0h0m2 0h0m7 0h1m2 0h0m3 0h0m6 0h1m7 0h0m2 0h1m4 0h0m6 0h0m2 0h0m2 0h0m2 0h0m4 0h1m2 0h3m4 0h0m4 0h1m3 0h0m7 0h0m2 0h1m2 0h0m2 0h0m2 0h0m9 0h0m4 0h0m3 0h0m9 0h2m7 0h1m3 0h0m179 0h0m2 0h1m10 0h0m3 0h1m4 0h0m2 0h0m2 0h0m4 0h0m9 0h0m2 0h0m2 0h0m2 0h0m12 0h0m13 0h1m2 0h0m3 0h1m2 0h1m4 0h0m6 0h0m2 0h0m3 0h0m2 0h0m2 0h0m2 0h0m3 0h0m2 0h0m3 0h0m2 0h1m4 0h1m13 0h0m2 0h0m2 0h0m2 0h1m3 0h0m2 0h0m2 0h0m3 0h0m2 0h0m2 0h0m2 0h0m2 0h0m3 0h1m6 0h0m3 0h1m4 0h0m4 0h4m3 0h1m2 0h1m2 0h0m2 0h0m2 0h0m3 0h0m2 0h0m2 0h0m11 0h0m3 0h0m2 0h1m3 0h0m3 0h1m9 0h1m6 0h0m2 0h1m4 0h0m4 0h1m2 0h0m3 0h0m3 0h2m4 0h0m4 0h0m6 0h1m8 0h0m2 0h0m4 0h1m3 0h0m3 0h0m3 0h0m8 0h0m8 0h2m5 0h4m3 0h0m4 0h0m2 0h0m3 0h2m2 0h1m6 0h0m6 0h0m4 0h0m5 0h2m4 0h0m2 0h0m3 0h0m3 0h0m17 0h2m4 0h0m3 0h1M-495 271.77h3m3 0h1m4 0h1m2 0h0m3 0h1m6 0h0m4 0h1m4 0h0m4 0h1m2 0h0m2 0h0m3 0h1m7 0h1m3 0h0m4 0h0m2 0h0m2 0h0m2 0h1m3 0h0m5 0h1m3 0h0m2 0h0m6 0h0m2 0h0m2 0h0m12 0h0m2 0h0m7 0h0m7 0h0m2 0h0m2 0h0m2 0h0m5 0h0m3 0h0m3 0h0m3 0h0m4 0h0m4 0h2m3 0h0m5 0h2m6 0h1m2 0h0m2 0h0m4 0h0m4 0h0m3 0h1m2 0h1m2 0h0m5 0h0m3 0h1m3 0h0m4 0h1m3 0h1m7 0h0m5 0h0m3 0h0m2 0h0m3 0h0m3 0h0m4 0h0m3 0h2m4 0h1m9 0h0m2 0h0m8 0h0m5 0h0m2 0h1m2 0h2m2 0h0m2 0h0m2 0h0m3 0h2m6 0h1m2 0h1m4 0h2m7 0h0m4 0h1m2 0h0m6 0h0m3 0h0m6 0h3m2 0h0m3 0h1m5 0h1m3 0h0m3 0h1m2 0h3m3 0h3m2 0h0m2 0h0m2 0h1m5 0h0m3 0h1m7 0h0m5 0h0m4 0h0m3 0h1m7 0h0m179 0h2m3 0h1m3 0h0m10 0h0m5 0h0m3 0h0m2 0h0m4 0h0m5 0h1m2 0h0m6 0h0m14 0h1m4 0h0m2 0h0m9 0h0m7 0h0m3 0h1m2 0h0m2 0h0m7 0h0m5 0h0m2 0h0m2 0h0m2 0h1m8 0h0m8 0h2m3 0h1m7 0h0m3 0h2m5 0h1m2 0h0m9 0h0m2 0h0m2 0h1m2 0h0m3 0h0m3 0h0m2 0h1m3 0h0m2 0h0m6 0h1m4 0h1m2 0h0m4 0h0m5 0h0m4 0h0m3 0h0m2 0h0m3 0h0m3 0h1m3 0h0m2 0h2m2 0h1m3 0h0m3 0h1m8 0h0m4 0h0m2 0h0m3 0h0m6 0h1m4 0h4m3 0h1m3 0h1m3 0h4m2 0h0m11 0h0m3 0h0m2 0h0m2 0h0m2 0h0m2 0h0m2 0h0m3 0h1m6 0h0m4 0h2m3 0h0m4 0h2m3 0h0m2 0h0m2 0h0m2 0h0m3 0h1m4 0h1m2 0h0m5 0h0m2 0h1m4 0h0m7 0h3m6 0h1m3 0h0m9 0h0m2 0h2M-493 273.53h0m6 0h0m3 0h1m2 0h0m4 0h1m2 0h2m6 0h0m7 0h1m6 0h1m3 0h0m3 0h1m3 0h0m14 0h3m2 0h1m2 0h0m2 0h1m3 0h0m3 0h0m3 0h0m2 0h1m3 0h0m3 0h0m5 0h0m3 0h0m5 0h1m2 0h1m5 0h0m2 0h0m2 0h1m3 0h0m2 0h0m3 0h0m2 0h0m4 0h0m5 0h0m4 0h2m2 0h1m4 0h0m6 0h0m2 0h0m11 0h0m2 0h0m3 0h0m2 0h1m2 0h0m3 0h1m4 0h0m5 0h0m4 0h0m2 0h0m3 0h0m7 0h0m6 0h0m4 0h0m4 0h1m3 0h0m5 0h0m8 0h1m4 0h0m2 0h2m3 0h0m10 0h0m2 0h0m3 0h0m2 0h0m2 0h0m5 0h0m6 0h0m2 0h0m5 0h0m2 0h0m3 0h2m2 0h0m2 0h0m2 0h0m7 0h0m4 0h0m2 0h1m2 0h0m10 0h1m3 0h0m6 0h0m2 0h0m3 0h0m3 0h0m8 0h1m2 0h0m2 0h0m2 0h1m2 0h0m2 0h1m3 0h1m7 0h0m4 0h2m4 0h0m5 0h0m2 0h1m3 0h1m176 0h0m6 0h0m7 0h0m3 0h0m5 0h0m2 0h1m2 0h0m2 0h0m2 0h1m2 0h1m5 0h0m5 0h0m2 0h0m4 0h3m4 0h0m2 0h2m2 0h1m5 0h1m2 0h1m6 0h0m3 0h0m3 0h1m2 0h1m3 0h1m3 0h1m3 0h0m3 0h1m3 0h0m6 0h0m6 0h0m6 0h2m2 0h1m6 0h0m2 0h0m7 0h0m4 0h0m10 0h1m2 0h0m3 0h1m3 0h0m2 0h0m4 0h0m4 0h1m5 0h0m2 0h0m4 0h1m4 0h3m2 0h0m5 0h1m2 0h2m5 0h1m4 0h1m5 0h0m8 0h1m2 0h0m2 0h1m2 0h1m2 0h1m5 0h4m5 0h0m4 0h0m7 0h0m10 0h0m4 0h0m6 0h0m7 0h0m6 0h1m3 0h0m2 0h0m3 0h0m11 0h0m2 0h0m6 0h1m3 0h1m10 0h0m2 0h0m2 0h0m11 0h0m3 0h1m9 0h0m2 0h2m6 0h1m3 0h0m4 0h1m5 0h0m3 0h1m4 0h1M-494 275.29h2m2 0h0m2 0h0m5 0h0m2 0h1m3 0h0m5 0h1m2 0h0m8 0h2m3 0h0m3 0h1m8 0h1m4 0h0m6 0h0m3 0h0m2 0h2m4 0h0m4 0h0m3 0h1m10 0h1m8 0h4m2 0h0m2 0h1m3 0h0m3 0h0m6 0h1m5 0h0m2 0h1m4 0h0m4 0h0m2 0h1m2 0h1m2 0h0m6 0h1m2 0h1m3 0h4m2 0h1m6 0h0m2 0h0m2 0h0m6 0h0m5 0h1m2 0h0m4 0h0m3 0h0m4 0h0m3 0h1m3 0h1m3 0h0m3 0h0m2 0h1m2 0h0m5 0h0m2 0h0m5 0h1m3 0h0m3 0h1m2 0h2m3 0h0m5 0h2m4 0h1m2 0h0m2 0h0m4 0h1m3 0h1m3 0h0m4 0h1m5 0h1m3 0h1m2 0h0m3 0h0m3 0h0m3 0h1m3 0h0m2 0h0m5 0h0m2 0h0m2 0h0m4 0h0m3 0h0m10 0h0m4 0h0m2 0h1m4 0h0m2 0h0m5 0h1m2 0h0m3 0h2m2 0h1m2 0h0m3 0h1m2 0h0m3 0h1m3 0h0m4 0h0m2 0h1m2 0h0m3 0h0m2 0h0m8 0h0m5 0h0m178 0h0m3 0h0m3 0h1m2 0h1m2 0h0m3 0h0m2 0h2m2 0h1m3 0h1m2 0h0m6 0h0m6 0h1m6 0h1m5 0h0m3 0h0m2 0h0m3 0h2m4 0h0m3 0h0m2 0h1m3 0h2m2 0h0m6 0h1m3 0h0m3 0h0m2 0h0m5 0h0m2 0h0m3 0h3m3 0h1m2 0h0m2 0h0m2 0h0m4 0h2m3 0h1m3 0h0m4 0h0m2 0h1m4 0h0m4 0h0m3 0h2m4 0h0m2 0h1m2 0h0m2 0h0m3 0h0m3 0h1m2 0h0m2 0h1m4 0h0m2 0h0m9 0h0m3 0h0m2 0h0m7 0h1m3 0h0m2 0h0m6 0h1m4 0h3m3 0h1m2 0h0m5 0h0m5 0h0m2 0h4m3 0h1m4 0h0m2 0h0m2 0h1m3 0h0m4 0h0m2 0h0m2 0h0m7 0h0m7 0h0m9 0h0m2 0h0m4 0h0m2 0h0m3 0h0m2 0h1m3 0h0m5 0h0m3 0h3m9 0h2m2 0h1m5 0h1m4 0h0m3 0h1m4 0h0m4 0h0m2 0h0m2 0h0m3 0h1m2 0h3m2 0h0m5 0h2m6 0h0m5 0h0m2 0h0m2 0h3m4 0h1m2 0h0m5 0h0m2 0h0M-495 277.05h0m2 0h0m3 0h0m5 0h0m5 0h0m5 0h0m5 0h0m2 0h0m2 0h0m3 0h0m2 0h1m3 0h1m7 0h1m3 0h1m4 0h1m2 0h0m7 0h3m3 0h2m2 0h1m3 0h0m2 0h1m2 0h0m4 0h0m3 0h0m5 0h0m3 0h0m3 0h0m2 0h0m5 0h0m3 0h1m2 0h1m2 0h0m7 0h1m3 0h0m2 0h1m7 0h0m3 0h0m6 0h1m3 0h4m4 0h0m4 0h1m2 0h1m4 0h0m11 0h1m2 0h0m3 0h0m2 0h0m6 0h0m3 0h1m3 0h0m3 0h0m4 0h0m4 0h0m12 0h1m7 0h0m4 0h1m2 0h0m3 0h0m14 0h0m2 0h1m4 0h0m4 0h0m3 0h0m3 0h0m2 0h2m2 0h0m4 0h0m2 0h0m4 0h0m2 0h0m3 0h1m7 0h3m2 0h0m2 0h0m3 0h0m2 0h0m4 0h0m3 0h1m4 0h0m2 0h0m5 0h1m2 0h0m3 0h0m4 0h0m7 0h0m10 0h2m3 0h0m8 0h0m4 0h0m4 0h1m3 0h3m2 0h0m8 0h0m7 0h0m172 0h1m11 0h0m3 0h0m3 0h0m2 0h0m3 0h0m2 0h0m2 0h0m2 0h1m3 0h0m4 0h1m2 0h1m2 0h1m6 0h1m2 0h0m2 0h0m2 0h1m4 0h2m15 0h0m2 0h1m2 0h0m2 0h2m2 0h2m8 0h1m7 0h2m4 0h2m6 0h0m8 0h0m5 0h0m6 0h0m5 0h0m3 0h0m7 0h1m2 0h1m2 0h1m6 0h0m2 0h1m2 0h2m2 0h0m5 0h0m6 0h0m2 0h1m2 0h0m7 0h1m2 0h2m7 0h0m5 0h2m2 0h0m2 0h0m8 0h1m5 0h0m3 0h2m6 0h0m2 0h0m2 0h1m2 0h0m2 0h0m4 0h1m2 0h0m2 0h0m8 0h0m2 0h2m2 0h1m2 0h1m3 0h0m2 0h1m4 0h0m2 0h0m3 0h4m2 0h0m2 0h0m5 0h1m4 0h0m4 0h0m3 0h1m4 0h1m7 0h2m3 0h0m2 0h0m2 0h0m2 0h0m2 0h1m4 0h0m2 0h1m6 0h5m12 0h1m3 0h0m2 0h0m2 0h1m5 0h0m4 0h1m9 0h0M-494 278.81h2m2 0h1m2 0h1m3 0h0m2 0h1m3 0h0m4 0h0m2 0h1m2 0h4m5 0h1m3 0h1m6 0h0m6 0h0m2 0h0m4 0h0m3 0h1m2 0h0m2 0h1m6 0h0m2 0h0m18 0h0m2 0h0m5 0h0m9 0h0m2 0h1m3 0h1m5 0h0m3 0h0m7 0h0m3 0h0m15 0h1m2 0h0m3 0h0m2 0h0m6 0h0m5 0h2m4 0h0m2 0h1m3 0h0m2 0h0m3 0h2m4 0h0m3 0h0m2 0h0m4 0h0m3 0h1m2 0h1m2 0h0m2 0h0m2 0h0m3 0h0m5 0h1m2 0h0m4 0h0m5 0h0m2 0h0m5 0h0m2 0h2m3 0h1m2 0h0m5 0h2m2 0h0m5 0h2m3 0h0m4 0h0m3 0h0m2 0h0m3 0h0m8 0h0m3 0h1m3 0h0m3 0h0m13 0h0m7 0h2m2 0h0m3 0h0m4 0h0m2 0h1m3 0h1m2 0h0m3 0h0m4 0h0m4 0h1m2 0h0m2 0h1m2 0h4m3 0h2m2 0h0m3 0h2m2 0h0m3 0h1m3 0h0m3 0h0m2 0h0m193 0h0m2 0h2m4 0h6m2 0h1m3 0h1m6 0h0m2 0h1m2 0h0m2 0h0m5 0h1m3 0h0m2 0h1m3 0h0m2 0h1m2 0h1m2 0h0m6 0h0m2 0h0m2 0h0m5 0h0m6 0h0m2 0h0m3 0h0m2 0h0m7 0h2m2 0h0m4 0h2m3 0h0m6 0h0m3 0h0m6 0h1m3 0h0m4 0h0m6 0h0m7 0h0m3 0h0m3 0h1m5 0h0m2 0h0m3 0h0m8 0h1m2 0h0m2 0h1m6 0h1m2 0h1m14 0h0m2 0h2m8 0h3m2 0h0m4 0h0m2 0h0m5 0h0m5 0h0m2 0h0m4 0h0m3 0h1m3 0h1m4 0h1m5 0h0m3 0h1m2 0h0m8 0h2m2 0h0m2 0h1m3 0h1m3 0h1m3 0h2m4 0h0m3 0h0m5 0h0m2 0h2m2 0h0m2 0h0m4 0h0m6 0h0m2 0h0m2 0h0m6 0h0m2 0h0m3 0h1m2 0h2m4 0h0m2 0h0m6 0h1m2 0h0m4 0h0m5 0h0m3 0h0m3 0h0m2 0h0m5 0h0m3 0h1m6 0h1m5 0h0m3 0h0m7 0h1m4 0h1m2 0h0M-495 280.57h0m2 0h0m5 0h1m4 0h0m4 0h0m2 0h0m5 0h0m3 0h0m3 0h0m6 0h0m2 0h1m3 0h0m3 0h2m4 0h1m7 0h0m11 0h0m3 0h0m10 0h0m5 0h1m4 0h0m2 0h2m5 0h2m2 0h0m7 0h1m8 0h0m7 0h0m3 0h0m3 0h0m4 0h2m6 0h0m10 0h0m2 0h1m3 0h1m3 0h0m4 0h0m5 0h0m3 0h2m7 0h0m4 0h0m7 0h0m3 0h0m3 0h1m4 0h0m3 0h0m2 0h0m2 0h1m2 0h0m5 0h0m3 0h0m2 0h1m20 0h0m4 0h1m6 0h0m2 0h1m4 0h1m2 0h0m4 0h0m4 0h0m2 0h1m3 0h0m7 0h0m2 0h1m3 0h0m3 0h0m4 0h0m3 0h0m2 0h0m5 0h0m4 0h1m3 0h0m3 0h0m3 0h1m5 0h0m2 0h0m10 0h1m2 0h0m3 0h0m2 0h0m6 0h0m3 0h0m13 0h0m2 0h0m3 0h1m6 0h1m8 0h0m2 0h0m3 0h0m190 0h0m3 0h1m12 0h0m2 0h0m3 0h2m3 0h1m3 0h1m3 0h0m4 0h0m5 0h0m4 0h0m2 0h1m3 0h1m4 0h0m5 0h0m2 0h0m4 0h0m10 0h1m5 0h1m5 0h1m2 0h0m6 0h0m2 0h0m2 0h0m2 0h0m3 0h0m3 0h0m2 0h0m3 0h0m10 0h0m2 0h0m2 0h1m2 0h0m2 0h0m2 0h0m2 0h0m5 0h1m4 0h1m5 0h0m5 0h0m3 0h0m4 0h0m2 0h0m7 0h2m2 0h0m4 0h0m4 0h0m2 0h0m8 0h0m4 0h0m2 0h0m2 0h0m3 0h1m2 0h0m2 0h0m2 0h0m5 0h0m2 0h1m4 0h0m2 0h1m7 0h0m3 0h0m2 0h0m2 0h2m2 0h0m2 0h0m2 0h1m11 0h0m3 0h0m4 0h0m5 0h0m2 0h0m2 0h0m4 0h1m4 0h0m4 0h0m2 0h0m4 0h0m13 0h0m2 0h0m2 0h0m4 0h0m5 0h0m3 0h0m3 0h0m4 0h1m2 0h0m2 0h0m5 0h1m2 0h0m2 0h1m2 0h1m10 0h0m2 0h2m4 0h1m2 0h4m3 0h0m8 0h1m2 0h1M-483 282.33h0m2 0h1m5 0h0m9 0h1m2 0h0m3 0h0m3 0h0m2 0h0m5 0h4m4 0h1m2 0h2m2 0h0m2 0h0m4 0h0m6 0h0m4 0h0m2 0h0m2 0h0m3 0h1m2 0h0m2 0h2m2 0h0m2 0h0m2 0h1m2 0h0m2 0h0m3 0h0m4 0h0m4 0h0m2 0h0m3 0h0m4 0h0m2 0h0m2 0h0m8 0h0m2 0h0m7 0h0m2 0h1m4 0h4m2 0h0m3 0h0m2 0h0m3 0h1m2 0h1m3 0h0m2 0h0m2 0h0m2 0h0m3 0h0m5 0h0m12 0h0m2 0h0m4 0h1m7 0h0m4 0h0m2 0h0m9 0h1m10 0h1m2 0h0m2 0h0m2 0h1m4 0h2m8 0h0m7 0h1m2 0h0m3 0h0m4 0h0m2 0h0m9 0h0m8 0h1m3 0h1m5 0h1m2 0h1m9 0h0m3 0h0m5 0h2m5 0h0m3 0h0m4 0h0m2 0h0m3 0h0m5 0h1m4 0h0m14 0h0m2 0h0m2 0h0m3 0h1m5 0h2m6 0h0m3 0h0m2 0h0m4 0h0m3 0h0m3 0h1m3 0h0m173 0h0m14 0h1m2 0h1m2 0h0m3 0h0m2 0h0m6 0h1m6 0h0m3 0h1m2 0h0m4 0h0m2 0h1m3 0h0m2 0h0m2 0h0m12 0h0m2 0h0m3 0h2m2 0h0m3 0h0m7 0h0m3 0h0m2 0h1m2 0h0m2 0h1m2 0h0m2 0h0m3 0h0m4 0h0m4 0h0m4 0h1m10 0h2m4 0h1m2 0h0m3 0h2m2 0h0m2 0h0m6 0h0m3 0h0m3 0h0m3 0h0m6 0h1m4 0h0m8 0h0m3 0h0m2 0h0m3 0h1m3 0h0m2 0h0m3 0h0m3 0h1m4 0h1m6 0h0m6 0h0m3 0h0m2 0h0m4 0h0m5 0h0m2 0h0m2 0h1m2 0h2m8 0h0m3 0h1m2 0h1m2 0h0m3 0h2m2 0h0m2 0h3m5 0h0m4 0h1m4 0h0m2 0h1m5 0h0m2 0h1m2 0h0m2 0h0m2 0h0m3 0h0m3 0h1m3 0h0m2 0h1m3 0h0m4 0h0m4 0h1m2 0h1m4 0h0m2 0h0m2 0h0m2 0h0m5 0h2m2 0h0m6 0h0m6 0h0m2 0h0m5 0h0m2 0h0m2 0h0m4 0h1m3 0h0m2 0h0m2 0h0m5 0h0m13 0h0m5 0h0M-495 284.09h1m2 0h0m3 0h0m2 0h0m2 0h0m2 0h0m2 0h0m2 0h1m3 0h0m5 0h1m3 0h1m2 0h0m2 0h0m5 0h2m2 0h0m4 0h0m2 0h0m5 0h0m2 0h0m3 0h1m3 0h0m2 0h1m3 0h0m4 0h1m2 0h0m2 0h0m3 0h0m5 0h0m3 0h0m5 0h5m2 0h5m6 0h1m9 0h1m3 0h0m2 0h0m2 0h0m4 0h2m4 0h0m2 0h1m5 0h0m6 0h0m3 0h0m2 0h0m2 0h0m2 0h0m2 0h0m5 0h0m2 0h1m2 0h0m3 0h1m2 0h0m3 0h0m3 0h0m4 0h0m2 0h0m10 0h0m2 0h0m3 0h0m2 0h0m9 0h0m3 0h0m4 0h0m5 0h0m3 0h0m11 0h0m3 0h0m3 0h0m2 0h1m6 0h0m3 0h0m10 0h1m2 0h0m2 0h1m2 0h0m2 0h0m3 0h0m3 0h2m7 0h0m3 0h0m2 0h0m3 0h0m3 0h0m2 0h0m6 0h2m2 0h1m3 0h0m2 0h1m4 0h1m6 0h0m4 0h0m3 0h0m5 0h0m3 0h0m2 0h0m2 0h0m3 0h0m3 0h0m3 0h0m7 0h0m3 0h0m2 0h0m2 0h1m3 0h0m5 0h2m2 0h0m2 0h2m4 0h0m3 0h0m2 0h0m172 0h0m2 0h0m2 0h1m7 0h0m2 0h2m2 0h0m2 0h2m3 0h0m21 0h0m7 0h0m3 0h0m7 0h0m2 0h0m2 0h0m5 0h0m3 0h0m2 0h0m4 0h0m5 0h0m2 0h0m6 0h0m2 0h1m3 0h1m5 0h0m7 0h0m5 0h1m4 0h0m5 0h0m7 0h0m3 0h0m6 0h0m8 0h0m5 0h0m2 0h0m2 0h0m2 0h3m2 0h1m5 0h0m4 0h1m6 0h0m2 0h1m4 0h0m4 0h1m2 0h0m3 0h0m3 0h0m5 0h2m2 0h0m2 0h0m2 0h0m3 0h0m2 0h0m2 0h1m4 0h0m2 0h0m2 0h1m2 0h4m6 0h0m6 0h0m2 0h0m2 0h1m2 0h1m5 0h0m3 0h1m4 0h1m8 0h0m8 0h1m3 0h1m4 0h0m10 0h0m2 0h1m3 0h0m2 0h0m5 0h1m2 0h0m8 0h0m4 0h0m2 0h2m4 0h1m3 0h0m7 0h0m7 0h0m4 0h1m2 0h1m2 0h1m3 0h0m9 0h2m2 0h0m3 0h1m3 0h0m2 0h3m2 0h3m2 0h0M-489 285.85h0m5 0h1m5 0h0m2 0h0m2 0h0m2 0h1m3 0h3m6 0h0m4 0h0m4 0h0m3 0h0m2 0h0m3 0h0m4 0h1m7 0h1m4 0h0m6 0h0m2 0h1m2 0h0m8 0h0m4 0h1m6 0h0m2 0h0m2 0h0m2 0h0m2 0h0m2 0h0m4 0h1m5 0h0m5 0h1m2 0h1m2 0h0m3 0h0m2 0h1m2 0h0m2 0h1m4 0h1m4 0h0m5 0h0m16 0h0m4 0h1m3 0h0m6 0h1m2 0h0m2 0h0m2 0h0m3 0h1m8 0h3m2 0h0m7 0h0m4 0h0m4 0h0m4 0h0m6 0h1m5 0h0m3 0h0m4 0h0m2 0h0m2 0h2m4 0h0m5 0h0m3 0h0m4 0h0m3 0h0m6 0h1m6 0h0m5 0h0m5 0h2m3 0h2m5 0h0m3 0h0m3 0h0m9 0h0m2 0h2m2 0h1m6 0h1m4 0h0m2 0h0m2 0h1m3 0h1m2 0h0m2 0h0m2 0h0m2 0h0m2 0h0m4 0h1m9 0h0m4 0h2m3 0h0m3 0h0m5 0h0m2 0h0m6 0h0m4 0h1m5 0h2m176 0h0m4 0h1m3 0h1m4 0h1m3 0h0m3 0h2m3 0h0m4 0h0m3 0h0m6 0h0m3 0h0m3 0h1m2 0h0m2 0h1m3 0h1m2 0h0m3 0h2m3 0h1m2 0h0m6 0h0m2 0h0m7 0h1m7 0h0m2 0h0m3 0h0m2 0h2m2 0h0m7 0h0m3 0h0m3 0h0m9 0h0m6 0h1m11 0h0m3 0h0m2 0h0m3 0h0m4 0h0m2 0h3m2 0h1m4 0h1m7 0h0m5 0h2m5 0h1m2 0h0m2 0h1m4 0h2m2 0h0m2 0h0m2 0h0m4 0h0m2 0h0m2 0h0m10 0h0m3 0h0m5 0h0m2 0h0m2 0h0m8 0h1m2 0h0m3 0h0m5 0h0m3 0h0m2 0h0m3 0h4m6 0h0m2 0h1m2 0h3m7 0h1m3 0h0m2 0h2m4 0h0m4 0h0m3 0h0m2 0h1m2 0h1m5 0h2m3 0h0m9 0h1m2 0h0m3 0h0m3 0h1m2 0h1m3 0h1m2 0h0m2 0h0m2 0h0m2 0h0m6 0h0m4 0h0m2 0h0m4 0h1m6 0h0m3 0h0m7 0h0m12 0h0m2 0h0m2 0h0M-495 287.61h0m4 0h0m5 0h0m4 0h1m4 0h0m3 0h1m6 0h0m2 0h0m4 0h1m4 0h1m5 0h0m5 0h0m3 0h1m5 0h0m5 0h1m9 0h1m5 0h1m5 0h0m3 0h1m4 0h1m2 0h0m2 0h0m2 0h0m2 0h0m2 0h0m2 0h1m4 0h0m2 0h0m5 0h1m3 0h0m3 0h0m2 0h1m2 0h0m4 0h0m3 0h0m3 0h0m2 0h0m4 0h0m2 0h1m3 0h0m2 0h0m2 0h2m2 0h0m3 0h0m3 0h0m5 0h0m2 0h1m2 0h1m2 0h0m2 0h0m4 0h0m3 0h0m5 0h1m3 0h0m5 0h0m5 0h2m8 0h0m2 0h1m2 0h0m4 0h0m2 0h0m2 0h0m4 0h0m2 0h0m2 0h0m3 0h0m7 0h0m4 0h1m4 0h0m2 0h1m5 0h1m7 0h1m2 0h0m5 0h1m6 0h0m3 0h0m3 0h1m4 0h0m2 0h0m5 0h0m2 0h1m2 0h3m3 0h0m5 0h0m3 0h1m3 0h3m11 0h0m2 0h1m4 0h0m3 0h0m3 0h0m11 0h3m5 0h0m2 0h5m4 0h0m3 0h0m4 0h0m2 0h0m2 0h1m2 0h0m9 0h1m2 0h0m168 0h0m2 0h0m7 0h1m5 0h3m6 0h1m3 0h0m2 0h1m5 0h1m4 0h0m6 0h0m9 0h0m3 0h0m7 0h0m8 0h1m2 0h1m5 0h0m2 0h1m2 0h0m2 0h0m2 0h0m2 0h1m12 0h0m2 0h0m2 0h4m6 0h0m3 0h0m4 0h0m4 0h1m2 0h0m3 0h0m5 0h0m3 0h2m4 0h0m2 0h2m7 0h0m3 0h0m2 0h0m4 0h3m3 0h1m2 0h0m3 0h0m2 0h0m8 0h0m2 0h1m3 0h1m2 0h0m2 0h1m3 0h3m2 0h0m2 0h0m6 0h0m2 0h0m12 0h0m2 0h0m2 0h2m7 0h1m2 0h0m3 0h0m2 0h0m5 0h0m2 0h1m3 0h0m8 0h0m3 0h0m2 0h0m3 0h2m7 0h2m5 0h0m3 0h0m4 0h0m3 0h2m2 0h1m2 0h0m4 0h0m5 0h0m2 0h0m3 0h0m3 0h0m9 0h0m2 0h1m4 0h5m2 0h0m2 0h2m3 0h0m6 0h1m2 0h0m3 0h1m9 0h2m3 0h0m4 0h0m3 0h1m3 0h1m3 0h0m2 0h0M-493 289.38h0m7 0h0m5 0h1m3 0h3m2 0h0m7 0h1m4 0h0m4 0h0m2 0h0m3 0h0m3 0h1m2 0h1m2 0h0m3 0h0m3 0h0m3 0h1m5 0h0m9 0h2m4 0h0m2 0h0m2 0h0m2 0h0m5 0h0m6 0h0m3 0h2m6 0h0m2 0h0m6 0h0m4 0h0m15 0h0m2 0h0m3 0h2m2 0h0m3 0h0m4 0h0m7 0h0m3 0h1m2 0h0m6 0h0m10 0h0m2 0h1m5 0h0m2 0h0m5 0h1m9 0h0m3 0h0m3 0h0m2 0h0m4 0h0m2 0h2m2 0h0m4 0h0m4 0h0m2 0h0m2 0h0m2 0h0m3 0h0m2 0h0m5 0h0m9 0h0m6 0h0m4 0h0m2 0h0m3 0h0m3 0h0m4 0h1m4 0h1m6 0h0m3 0h0m4 0h0m4 0h0m7 0h1m2 0h0m2 0h0m2 0h1m2 0h0m2 0h0m2 0h0m3 0h0m5 0h4m3 0h1m3 0h1m12 0h0m2 0h1m6 0h0m8 0h0m3 0h0m2 0h0m2 0h0m4 0h0m8 0h1m8 0h1m180 0h1m2 0h0m2 0h0m5 0h0m2 0h1m3 0h1m2 0h1m3 0h0m4 0h1m3 0h1m3 0h2m7 0h0m7 0h0m6 0h1m5 0h0m4 0h0m3 0h0m5 0h0m2 0h0m5 0h0m5 0h0m3 0h1m2 0h0m3 0h0m3 0h0m5 0h0m2 0h1m2 0h0m7 0h0m4 0h1m9 0h0m7 0h0m2 0h1m2 0h0m3 0h1m3 0h1m2 0h0m2 0h0m2 0h0m2 0h2m8 0h1m5 0h0m3 0h0m2 0h1m4 0h0m3 0h1m3 0h1m9 0h1m3 0h0m7 0h0m2 0h0m2 0h0m2 0h0m3 0h0m4 0h0m2 0h0m3 0h0m3 0h0m2 0h1m2 0h0m4 0h2m3 0h0m2 0h0m2 0h0m2 0h0m2 0h0m2 0h0m2 0h0m4 0h0m3 0h0m2 0h1m2 0h1m3 0h0m2 0h0m2 0h0m2 0h0m4 0h0m3 0h0m2 0h0m3 0h0m2 0h0m3 0h1m2 0h1m2 0h0m2 0h0m6 0h5m8 0h1m12 0h0m4 0h0m4 0h1m11 0h2m7 0h0m2 0h0m9 0h1m9 0h0m2 0h0m2 0h0m3 0h0m3 0h2m3 0h1m2 0h1M-495 291.14h0m2 0h1m3 0h0m2 0h0m2 0h0m15 0h1m12 0h0m3 0h2m4 0h0m2 0h1m2 0h1m3 0h0m5 0h0m2 0h0m6 0h0m8 0h0m7 0h0m3 0h0m2 0h1m2 0h1m3 0h0m5 0h0m4 0h0m2 0h1m4 0h0m4 0h0m2 0h0m4 0h0m2 0h0m5 0h0m8 0h0m5 0h0m2 0h0m4 0h1m4 0h0m6 0h0m3 0h0m2 0h0m2 0h0m3 0h1m2 0h1m3 0h0m3 0h0m7 0h0m3 0h0m3 0h0m3 0h1m2 0h0m7 0h1m2 0h0m5 0h0m2 0h0m7 0h0m2 0h0m3 0h0m2 0h2m2 0h1m6 0h1m2 0h0m9 0h2m7 0h0m2 0h0m3 0h0m8 0h0m3 0h1m4 0h0m2 0h1m5 0h0m3 0h0m2 0h1m3 0h1m3 0h0m4 0h2m2 0h1m7 0h1m3 0h0m3 0h0m8 0h0m2 0h0m6 0h0m3 0h0m2 0h0m6 0h1m2 0h0m4 0h0m3 0h1m6 0h0m2 0h0m2 0h1m3 0h0m8 0h0m7 0h0m7 0h0m4 0h0m2 0h0m3 0h0m180 0h1m4 0h0m2 0h0m7 0h0m4 0h0m2 0h0m3 0h0m3 0h0m3 0h0m7 0h1m2 0h0m10 0h0m3 0h0m2 0h0m7 0h0m4 0h0m3 0h4m2 0h0m4 0h1m5 0h0m4 0h1m3 0h0m10 0h0m2 0h1m2 0h0m2 0h3m4 0h0m2 0h0m6 0h0m2 0h0m3 0h1m5 0h1m12 0h0m2 0h0m2 0h2m2 0h0m4 0h0m5 0h0m2 0h1m5 0h0m2 0h1m3 0h3m3 0h0m3 0h1m5 0h2m8 0h1m7 0h0m5 0h1m9 0h0m7 0h0m2 0h0m3 0h1m3 0h0m7 0h0m5 0h0m4 0h0m5 0h0m3 0h0m3 0h0m4 0h0m3 0h1m3 0h0m3 0h1m3 0h1m3 0h0m3 0h0m6 0h0m2 0h0m3 0h1m2 0h0m2 0h0m5 0h0m6 0h1m4 0h4m2 0h1m2 0h0m4 0h0m4 0h0m8 0h0m2 0h0m7 0h0m3 0h0m2 0h0m4 0h0m4 0h0m2 0h0m2 0h1m3 0h0m5 0h1m5 0h1m3 0h1M-494 292.9h1m6 0h0m3 0h2m2 0h0m6 0h0m2 0h0m2 0h1m7 0h0m2 0h1m7 0h0m2 0h0m3 0h1m14 0h0m6 0h0m2 0h0m2 0h1m3 0h1m4 0h0m6 0h0m2 0h0m3 0h0m2 0h0m7 0h0m2 0h1m3 0h0m6 0h0m7 0h0m6 0h1m4 0h0m2 0h2m4 0h0m2 0h0m8 0h0m2 0h0m3 0h0m6 0h0m3 0h1m3 0h0m2 0h0m4 0h1m6 0h0m5 0h0m2 0h0m4 0h0m3 0h0m3 0h2m7 0h1m9 0h1m4 0h0m2 0h1m5 0h0m12 0h0m3 0h0m8 0h0m3 0h1m2 0h1m3 0h0m4 0h1m4 0h0m3 0h3m3 0h1m3 0h0m2 0h1m2 0h1m2 0h0m8 0h1m2 0h0m3 0h0m2 0h0m5 0h1m3 0h2m2 0h1m3 0h0m3 0h0m2 0h1m2 0h0m3 0h0m3 0h1m5 0h0m4 0h1m2 0h0m3 0h1m3 0h0m2 0h0m5 0h0m8 0h0m2 0h1m10 0h0m3 0h1m2 0h0m3 0h0m6 0h0m2 0h0m171 0h0m8 0h1m4 0h2m2 0h5m2 0h1m3 0h0m2 0h1m3 0h0m11 0h0m8 0h1m3 0h0m3 0h1m4 0h0m2 0h0m5 0h2m3 0h0m9 0h0m2 0h1m3 0h0m3 0h0m2 0h0m6 0h0m2 0h0m4 0h2m4 0h1m5 0h1m6 0h0m2 0h0m2 0h0m2 0h0m5 0h1m7 0h0m4 0h1m4 0h0m4 0h0m5 0h1m5 0h0m3 0h0m2 0h0m2 0h0m2 0h2m3 0h0m6 0h2m4 0h0m2 0h0m5 0h0m4 0h0m3 0h0m3 0h0m4 0h0m4 0h1m2 0h0m8 0h0m5 0h1m2 0h0m4 0h0m2 0h0m2 0h3m9 0h0m2 0h1m13 0h0m3 0h1m3 0h0m2 0h0m2 0h0m4 0h2m4 0h1m8 0h1m2 0h0m2 0h0m4 0h0m5 0h0m2 0h1m2 0h0m2 0h0m5 0h1m4 0h0m6 0h0m3 0h0m3 0h0m2 0h0m3 0h0m3 0h0m2 0h0m3 0h1m2 0h0m4 0h1m3 0h0m2 0h0m2 0h0m14 0h0m3 0h0m3 0h1m3 0h1m3 0h0m4 0h0m2 0h0M-491 294.66h0m2 0h2m4 0h1m3 0h0m4 0h2m5 0h0m3 0h0m8 0h0m3 0h1m2 0h1m2 0h0m3 0h0m2 0h0m3 0h0m2 0h0m2 0h1m7 0h0m3 0h0m3 0h1m4 0h0m2 0h1m5 0h1m2 0h0m4 0h0m2 0h0m4 0h1m7 0h0m4 0h0m3 0h0m4 0h1m3 0h0m12 0h0m2 0h0m3 0h0m2 0h0m2 0h1m10 0h3m3 0h0m3 0h0m2 0h0m7 0h0m5 0h1m3 0h3m3 0h0m3 0h0m3 0h1m2 0h1m2 0h0m5 0h0m5 0h2m4 0h0m7 0h0m2 0h0m5 0h0m2 0h1m6 0h0m4 0h1m4 0h0m3 0h0m3 0h0m2 0h0m2 0h0m4 0h0m2 0h0m17 0h0m2 0h0m6 0h0m2 0h0m9 0h0m2 0h0m10 0h1m7 0h0m3 0h0m2 0h1m3 0h0m7 0h1m3 0h0m3 0h1m2 0h0m3 0h0m5 0h0m3 0h1m2 0h1m4 0h0m7 0h1m3 0h0m3 0h0m2 0h0m2 0h0m11 0h2m7 0h0m3 0h0m182 0h0m5 0h0m3 0h0m4 0h1m2 0h0m10 0h1m2 0h0m2 0h0m2 0h0m3 0h1m6 0h0m2 0h0m3 0h0m2 0h0m2 0h0m3 0h0m2 0h0m9 0h0m2 0h0m3 0h0m13 0h0m2 0h0m3 0h0m2 0h0m7 0h3m4 0h0m3 0h0m6 0h0m3 0h1m6 0h0m5 0h0m5 0h0m4 0h0m4 0h0m5 0h1m3 0h2m2 0h0m6 0h0m3 0h0m7 0h0m9 0h0m6 0h0m8 0h0m2 0h0m6 0h2m2 0h0m7 0h2m6 0h0m2 0h1m3 0h1m3 0h0m2 0h0m2 0h2m5 0h0m2 0h0m3 0h0m2 0h0m2 0h0m2 0h0m5 0h0m4 0h0m2 0h0m6 0h2m3 0h0m3 0h2m3 0h2m6 0h0m5 0h0m2 0h1m2 0h0m5 0h2m7 0h1m4 0h1m2 0h2m2 0h0m5 0h0m3 0h0m2 0h2m8 0h0m3 0h2m2 0h0m2 0h0m8 0h1m4 0h0m3 0h0m3 0h0m7 0h1m3 0h0m5 0h0m6 0h0m5 0h0M-495 296.42h1m2 0h0m6 0h1m2 0h0m3 0h0m3 0h0m3 0h0m2 0h0m6 0h0m2 0h0m3 0h0m4 0h0m2 0h0m5 0h0m2 0h0m6 0h0m2 0h0m2 0h0m2 0h0m2 0h0m2 0h0m3 0h0m6 0h1m2 0h0m4 0h1m4 0h0m2 0h0m2 0h1m2 0h0m4 0h0m3 0h0m8 0h3m4 0h0m9 0h0m3 0h1m2 0h0m3 0h2m9 0h0m4 0h0m3 0h0m3 0h0m9 0h0m2 0h0m4 0h0m5 0h1m2 0h1m6 0h3m2 0h0m2 0h1m2 0h2m4 0h0m3 0h4m6 0h1m3 0h2m3 0h0m5 0h0m6 0h0m2 0h1m5 0h0m5 0h1m4 0h1m4 0h0m5 0h0m2 0h2m3 0h0m9 0h0m5 0h0m5 0h0m2 0h1m3 0h0m7 0h0m2 0h0m3 0h0m3 0h0m2 0h0m2 0h0m13 0h0m3 0h0m3 0h1m4 0h0m6 0h0m2 0h1m3 0h0m2 0h2m2 0h1m4 0h3m3 0h0m5 0h0m9 0h0m7 0h0m2 0h0m4 0h2m2 0h0m4 0h0m2 0h0m2 0h1m7 0h0m3 0h0m167 0h0m2 0h0m7 0h0m6 0h0m3 0h0m10 0h0m3 0h0m3 0h0m8 0h0m3 0h0m3 0h1m4 0h0m5 0h0m8 0h0m6 0h0m2 0h0m2 0h0m3 0h0m3 0h0m3 0h2m3 0h0m5 0h0m3 0h3m2 0h1m4 0h0m3 0h1m4 0h0m6 0h0m3 0h1m3 0h0m2 0h0m5 0h0m4 0h0m2 0h1m3 0h0m6 0h0m4 0h0m4 0h1m3 0h1m2 0h0m2 0h0m3 0h0m3 0h1m3 0h0m9 0h0m4 0h0m2 0h1m2 0h0m3 0h0m2 0h1m2 0h0m3 0h0m2 0h0m2 0h0m3 0h0m5 0h1m7 0h0m2 0h1m3 0h0m3 0h1m2 0h0m8 0h0m4 0h0m10 0h0m7 0h0m2 0h0m2 0h0m2 0h1m7 0h3m6 0h1m5 0h0m3 0h0m6 0h1m3 0h0m5 0h0m3 0h0m2 0h1m2 0h1m4 0h0m2 0h1m4 0h1m2 0h1m5 0h0m2 0h0m8 0h0m2 0h0m2 0h0m4 0h1m2 0h0m3 0h0m3 0h0m2 0h1m4 0h0m10 0h1m2 0h1m3 0h0m3 0h0m2 0h1m2 0h0m3 0h0m3 0h0M-495 298.18h0m3 0h1m4 0h0m2 0h1m2 0h0m2 0h0m5 0h1m4 0h1m4 0h0m2 0h0m6 0h0m2 0h1m6 0h0m7 0h0m22 0h1m2 0h1m13 0h1m2 0h2m2 0h1m3 0h1m6 0h0m2 0h0m3 0h0m2 0h0m6 0h0m2 0h1m5 0h0m3 0h0m5 0h0m8 0h1m5 0h0m7 0h1m4 0h0m4 0h0m2 0h0m4 0h0m10 0h0m3 0h0m6 0h0m4 0h0m3 0h0m2 0h0m4 0h0m2 0h1m6 0h0m2 0h0m2 0h0m3 0h0m3 0h0m12 0h0m2 0h1m11 0h0m7 0h0m5 0h3m2 0h0m8 0h1m7 0h0m5 0h0m5 0h0m4 0h0m8 0h0m5 0h0m2 0h1m3 0h0m10 0h1m13 0h0m2 0h0m9 0h1m2 0h1m2 0h1m2 0h0m5 0h0m5 0h0m2 0h1m11 0h0m3 0h0m8 0h0m4 0h1m169 0h0m20 0h2m2 0h0m2 0h0m7 0h0m4 0h0m3 0h1m2 0h1m7 0h0m2 0h0m3 0h0m5 0h2m3 0h1m2 0h0m2 0h0m3 0h0m4 0h0m3 0h0m2 0h0m2 0h0m2 0h0m4 0h2m4 0h0m3 0h1m3 0h1m2 0h0m12 0h0m6 0h0m2 0h1m6 0h0m8 0h0m5 0h0m7 0h0m3 0h0m4 0h0m2 0h0m2 0h1m6 0h0m2 0h0m2 0h1m6 0h0m2 0h0m3 0h0m5 0h1m3 0h0m2 0h0m3 0h1m2 0h4m2 0h1m4 0h1m3 0h0m2 0h1m4 0h1m3 0h1m5 0h0m2 0h0m2 0h0m2 0h0m4 0h0m3 0h0m2 0h0m3 0h1m2 0h0m2 0h1m6 0h0m2 0h1m12 0h0m8 0h1m9 0h0m9 0h1m11 0h1m3 0h1m7 0h2m3 0h0m6 0h1m3 0h1m5 0h0m3 0h0m3 0h2m2 0h0m3 0h0m2 0h0m6 0h0m9 0h0m4 0h4m4 0h0m4 0h0m2 0h1m5 0h0m3 0h0m2 0h0m2 0h0m2 0h0M-487 299.94h0m3 0h1m7 0h0m4 0h0m3 0h1m6 0h0m2 0h2m11 0h0m2 0h2m2 0h0m3 0h2m4 0h2m3 0h0m2 0h1m7 0h0m4 0h0m3 0h0m3 0h2m3 0h0m9 0h1m5 0h0m2 0h0m3 0h0m5 0h0m2 0h0m2 0h0m3 0h2m4 0h0m5 0h0m4 0h1m3 0h0m2 0h0m4 0h0m4 0h0m4 0h1m3 0h1m3 0h1m4 0h0m2 0h0m7 0h0m3 0h0m2 0h1m8 0h1m5 0h0m4 0h0m3 0h0m2 0h0m3 0h0m4 0h0m2 0h0m3 0h0m3 0h1m2 0h0m3 0h0m4 0h0m3 0h2m2 0h1m2 0h1m2 0h0m2 0h2m2 0h0m2 0h1m3 0h0m8 0h1m2 0h0m3 0h0m2 0h0m6 0h0m3 0h0m3 0h0m3 0h1m6 0h1m4 0h0m5 0h0m2 0h0m3 0h0m4 0h0m5 0h0m4 0h1m2 0h0m4 0h1m2 0h0m2 0h0m4 0h0m6 0h1m7 0h0m3 0h0m6 0h0m8 0h0m2 0h1m10 0h0m3 0h2m2 0h2m3 0h0m8 0h0m3 0h0m2 0h3m164 0h0m4 0h1m2 0h0m9 0h0m3 0h0m2 0h0m9 0h1m4 0h0m6 0h3m2 0h0m2 0h0m4 0h2m4 0h0m10 0h2m5 0h0m9 0h1m5 0h0m8 0h0m2 0h0m12 0h1m6 0h1m2 0h0m9 0h0m3 0h0m2 0h1m3 0h0m10 0h0m3 0h1m8 0h0m8 0h0m3 0h0m3 0h1m5 0h1m13 0h0m2 0h1m5 0h2m2 0h0m2 0h0m3 0h1m3 0h0m4 0h0m4 0h0m2 0h0m5 0h0m2 0h2m6 0h0m3 0h2m6 0h0m6 0h1m3 0h0m2 0h1m2 0h1m4 0h0m5 0h0m3 0h0m3 0h1m7 0h0m2 0h0m3 0h0m4 0h0m3 0h1m9 0h0m2 0h0m2 0h0m3 0h1m7 0h0m2 0h0m2 0h0m2 0h0m2 0h0m3 0h0m5 0h0m5 0h1m5 0h2m6 0h1m2 0h0m4 0h0m4 0h1m13 0h1m2 0h1m9 0h0m2 0h1M-493 301.7h0m2 0h1m7 0h0m6 0h1m2 0h0m4 0h3m2 0h0m3 0h0m2 0h0m2 0h0m7 0h0m3 0h1m3 0h1m2 0h0m6 0h0m2 0h0m3 0h0m5 0h0m4 0h0m6 0h0m3 0h0m9 0h3m8 0h0m3 0h1m4 0h0m5 0h0m3 0h0m6 0h1m3 0h0m5 0h1m2 0h2m7 0h0m2 0h1m2 0h0m2 0h0m2 0h0m5 0h1m8 0h0m5 0h0m2 0h0m2 0h0m3 0h0m6 0h0m10 0h0m3 0h0m2 0h1m4 0h0m4 0h0m3 0h1m8 0h0m3 0h0m5 0h4m2 0h0m5 0h0m2 0h1m6 0h1m16 0h2m2 0h0m4 0h0m2 0h0m2 0h1m2 0h2m3 0h0m5 0h0m6 0h0m3 0h1m4 0h1m3 0h0m3 0h0m2 0h2m6 0h0m2 0h0m6 0h0m3 0h0m2 0h1m2 0h0m2 0h1m6 0h0m2 0h1m4 0h0m12 0h0m6 0h1m3 0h1m3 0h1m6 0h0m2 0h0m10 0h1m2 0h2m5 0h0m2 0h1m158 0h1m2 0h0m3 0h0m3 0h0m3 0h0m3 0h0m4 0h0m4 0h0m9 0h0m2 0h0m3 0h0m8 0h0m8 0h3m3 0h0m3 0h0m4 0h2m8 0h2m5 0h1m3 0h0m5 0h0m2 0h1m2 0h1m4 0h0m2 0h0m2 0h0m4 0h1m3 0h1m2 0h0m6 0h0m3 0h1m6 0h1m4 0h0m2 0h0m6 0h0m4 0h0m3 0h0m6 0h0m2 0h0m6 0h5m9 0h0m5 0h0m5 0h1m2 0h0m4 0h0m2 0h0m2 0h0m2 0h1m4 0h0m3 0h0m2 0h1m9 0h0m6 0h1m3 0h0m2 0h0m4 0h2m4 0h0m4 0h0m6 0h0m3 0h0m2 0h1m3 0h0m2 0h0m3 0h0m2 0h0m3 0h0m7 0h0m3 0h0m3 0h0m2 0h0m2 0h0m2 0h0m2 0h1m2 0h0m6 0h0m2 0h0m2 0h0m6 0h1m5 0h0m4 0h0m2 0h0m5 0h0m9 0h0m5 0h0m2 0h2m3 0h1m4 0h0m5 0h0m9 0h0m3 0h0m3 0h0m2 0h0m3 0h1m9 0h0m5 0h0m4 0h0m2 0h0m2 0h0m5 0h1m4 0h2M-495 303.46h1m2 0h0m10 0h0m3 0h0m7 0h2m2 0h0m2 0h1m2 0h0m2 0h1m2 0h0m3 0h0m8 0h0m2 0h0m4 0h2m7 0h1m2 0h1m2 0h1m2 0h1m3 0h0m2 0h1m2 0h0m2 0h0m2 0h0m2 0h0m3 0h0m4 0h0m8 0h1m2 0h0m2 0h0m2 0h0m2 0h2m4 0h1m9 0h0m3 0h2m3 0h1m2 0h2m3 0h0m6 0h0m8 0h1m3 0h1m6 0h0m3 0h0m4 0h0m5 0h0m3 0h0m3 0h0m10 0h0m2 0h3m2 0h1m3 0h0m4 0h0m5 0h0m8 0h0m5 0h0m2 0h0m2 0h1m2 0h0m2 0h2m5 0h0m2 0h0m2 0h0m6 0h0m3 0h1m7 0h1m7 0h0m2 0h0m4 0h0m7 0h0m2 0h0m3 0h0m2 0h0m2 0h0m3 0h2m2 0h0m7 0h0m2 0h0m3 0h0m3 0h0m5 0h0m5 0h0m3 0h2m2 0h0m3 0h1m7 0h0m2 0h0m4 0h0m4 0h0m4 0h1m2 0h0m4 0h0m2 0h1m2 0h0m2 0h0m2 0h0m4 0h0m3 0h0m2 0h0m2 0h0m2 0h0m3 0h0m3 0h0m2 0h1m2 0h1m2 0h0m2 0h2m175 0h0m3 0h0m5 0h0m2 0h0m3 0h3m4 0h0m2 0h1m2 0h0m2 0h0m2 0h0m2 0h0m3 0h0m2 0h0m6 0h1m3 0h0m4 0h0m3 0h1m2 0h2m8 0h1m3 0h0m4 0h1m3 0h1m3 0h0m2 0h2m5 0h0m2 0h1m4 0h0m2 0h0m2 0h0m6 0h0m5 0h0m3 0h0m3 0h0m2 0h0m2 0h1m5 0h1m6 0h0m4 0h0m9 0h0m3 0h0m3 0h0m10 0h0m4 0h1m7 0h0m2 0h0m3 0h1m4 0h1m6 0h2m2 0h0m2 0h0m3 0h1m5 0h0m2 0h0m2 0h0m2 0h0m7 0h0m5 0h0m4 0h0m2 0h1m13 0h1m11 0h0m6 0h1m3 0h0m8 0h0m3 0h0m4 0h0m3 0h0m2 0h0m5 0h2m14 0h0m3 0h1m3 0h1m2 0h0m4 0h1m4 0h1m3 0h2m2 0h0m2 0h1m2 0h0m2 0h0m6 0h0m3 0h0m4 0h0m3 0h0m2 0h0m9 0h0m2 0h0m7 0h1m7 0h0m5 0h1m3 0h0m2 0h1m5 0h0M-492 305.22h1m4 0h1m2 0h0m9 0h0m2 0h0m2 0h0m4 0h0m2 0h1m7 0h0m4 0h0m4 0h0m4 0h0m3 0h0m6 0h1m3 0h0m2 0h0m6 0h4m2 0h0m3 0h0m3 0h1m7 0h1m2 0h0m2 0h0m3 0h1m2 0h0m3 0h1m5 0h1m3 0h1m2 0h1m9 0h0m8 0h0m3 0h0m4 0h1m3 0h1m3 0h0m4 0h1m2 0h0m3 0h0m4 0h1m7 0h2m4 0h1m2 0h0m5 0h0m2 0h1m7 0h2m3 0h0m2 0h0m2 0h1m4 0h0m2 0h0m4 0h0m2 0h1m7 0h3m4 0h1m5 0h0m4 0h0m5 0h0m6 0h0m2 0h0m6 0h0m4 0h0m7 0h0m2 0h1m5 0h1m4 0h0m6 0h2m2 0h0m3 0h2m2 0h1m3 0h0m10 0h0m2 0h0m5 0h0m3 0h0m3 0h0m3 0h1m3 0h0m10 0h0m3 0h0m3 0h2m3 0h0m2 0h1m2 0h0m4 0h1m3 0h2m2 0h0m14 0h1m2 0h0m11 0h1m7 0h0m168 0h0m3 0h0m3 0h0m3 0h1m2 0h0m2 0h0m4 0h2m5 0h0m2 0h0m2 0h0m3 0h0m4 0h0m7 0h0m5 0h0m8 0h0m7 0h0m3 0h1m2 0h3m3 0h0m5 0h0m4 0h0m4 0h0m4 0h0m5 0h0m2 0h0m2 0h0m5 0h0m5 0h0m2 0h1m3 0h0m3 0h0m4 0h0m2 0h0m3 0h0m3 0h0m2 0h0m8 0h1m3 0h1m3 0h1m4 0h1m2 0h0m3 0h0m12 0h1m4 0h0m2 0h1m2 0h0m3 0h1m2 0h0m2 0h2m2 0h0m5 0h1m5 0h0m8 0h0m4 0h0m3 0h0m8 0h0m3 0h0m6 0h0m3 0h0m4 0h0m2 0h0m3 0h3m3 0h0m5 0h0m4 0h0m2 0h4m3 0h2m2 0h0m5 0h2m4 0h0m3 0h0m3 0h2m3 0h1m2 0h0m2 0h0m3 0h1m2 0h0m3 0h0m2 0h1m3 0h0m4 0h0m3 0h0m5 0h1m13 0h1m2 0h1m4 0h0m7 0h0m2 0h0m3 0h0m4 0h0m12 0h0m7 0h0m3 0h1m2 0h0m2 0h0m4 0h0m4 0h0m3 0h2M-490 306.98h0m3 0h0m3 0h0m4 0h3m2 0h0m2 0h0m4 0h1m3 0h0m4 0h0m4 0h1m4 0h0m2 0h0m2 0h2m9 0h0m4 0h0m3 0h0m7 0h0m2 0h1m2 0h0m4 0h2m4 0h0m3 0h0m3 0h0m4 0h0m2 0h1m2 0h0m2 0h0m3 0h0m3 0h0m5 0h1m3 0h0m3 0h1m3 0h0m4 0h0m2 0h0m2 0h0m2 0h0m5 0h1m4 0h0m2 0h0m6 0h0m7 0h0m2 0h0m5 0h1m3 0h0m5 0h1m2 0h0m2 0h1m6 0h0m3 0h0m2 0h1m4 0h1m2 0h0m2 0h0m8 0h0m2 0h0m11 0h0m2 0h0m4 0h1m2 0h0m3 0h1m3 0h0m10 0h0m4 0h2m5 0h1m7 0h2m4 0h0m2 0h0m2 0h0m2 0h0m5 0h1m2 0h0m2 0h0m2 0h1m2 0h1m4 0h0m13 0h0m2 0h2m4 0h0m2 0h0m6 0h0m5 0h0m2 0h2m3 0h1m2 0h0m8 0h2m3 0h0m2 0h0m7 0h0m3 0h0m3 0h0m6 0h0m5 0h0m2 0h1m2 0h0m4 0h1m2 0h1m5 0h0m3 0h0m9 0h0m10 0h0m151 0h0m6 0h2m3 0h1m11 0h0m2 0h0m3 0h2m2 0h1m2 0h0m2 0h0m3 0h0m2 0h0m4 0h0m2 0h2m2 0h1m9 0h1m2 0h0m2 0h0m4 0h0m3 0h2m3 0h0m3 0h0m3 0h1m7 0h0m6 0h0m2 0h1m3 0h0m9 0h0m3 0h0m2 0h2m5 0h1m5 0h1m2 0h0m2 0h1m6 0h0m2 0h0m4 0h0m3 0h1m4 0h0m3 0h1m3 0h0m2 0h0m8 0h0m4 0h1m2 0h1m2 0h0m3 0h1m2 0h0m2 0h0m3 0h0m8 0h0m2 0h0m5 0h1m4 0h0m4 0h1m2 0h0m10 0h0m3 0h0m3 0h0m2 0h0m2 0h1m5 0h0m3 0h0m8 0h0m4 0h0m3 0h0m3 0h1m3 0h0m2 0h0m12 0h0m2 0h1m5 0h0m4 0h1m3 0h0m2 0h1m10 0h2m2 0h0m6 0h2m6 0h0m2 0h0m2 0h0m2 0h0m3 0h0m3 0h0m12 0h1m3 0h0m5 0h1m2 0h0m6 0h2m5 0h1m11 0h0m2 0h1m2 0h1m10 0h0M-493 308.74h0m3 0h1m3 0h2m8 0h2m3 0h0m3 0h0m2 0h0m2 0h0m2 0h0m10 0h1m3 0h0m16 0h0m2 0h0m9 0h0m12 0h0m3 0h0m2 0h0m4 0h1m3 0h2m3 0h0m3 0h0m2 0h0m4 0h1m2 0h0m13 0h0m9 0h0m4 0h3m5 0h0m9 0h1m2 0h0m9 0h0m8 0h0m4 0h2m5 0h0m5 0h0m2 0h0m2 0h1m3 0h0m3 0h0m2 0h0m4 0h0m9 0h2m5 0h2m2 0h2m3 0h0m3 0h0m5 0h0m4 0h1m2 0h1m2 0h0m5 0h0m3 0h0m2 0h0m7 0h0m2 0h1m2 0h1m7 0h0m2 0h0m3 0h1m5 0h0m2 0h0m4 0h0m2 0h0m5 0h0m4 0h0m6 0h1m2 0h0m3 0h0m3 0h0m4 0h0m2 0h0m3 0h1m3 0h0m2 0h0m2 0h0m3 0h0m2 0h1m2 0h0m3 0h0m3 0h1m2 0h1m3 0h0m14 0h1m6 0h0m5 0h0m7 0h0m4 0h0m3 0h0m3 0h0m3 0h0m4 0h0m161 0h0m2 0h0m2 0h0m2 0h0m2 0h0m2 0h0m3 0h1m3 0h1m2 0h2m3 0h0m3 0h0m4 0h0m2 0h1m4 0h0m3 0h0m3 0h0m3 0h0m4 0h0m5 0h0m3 0h2m4 0h0m2 0h1m2 0h0m2 0h0m7 0h0m6 0h0m2 0h0m2 0h0m2 0h1m2 0h0m2 0h0m3 0h0m3 0h0m3 0h0m3 0h0m4 0h0m4 0h1m2 0h1m7 0h0m3 0h0m3 0h0m4 0h0m4 0h0m5 0h0m3 0h0m2 0h0m8 0h1m5 0h0m2 0h0m2 0h0m3 0h0m3 0h1m3 0h1m3 0h0m2 0h1m8 0h0m6 0h0m2 0h0m5 0h0m3 0h2m2 0h1m6 0h0m3 0h0m2 0h0m5 0h1m3 0h0m11 0h0m3 0h1m8 0h1m7 0h0m5 0h1m7 0h0m2 0h0m6 0h0m6 0h0m4 0h1m4 0h1m2 0h0m3 0h0m8 0h0m3 0h0m2 0h1m11 0h0m4 0h0m5 0h1m2 0h0m2 0h0m3 0h0m6 0h0m2 0h1m2 0h1m4 0h0m2 0h0m7 0h0m7 0h0m5 0h0m4 0h0m5 0h0m4 0h0m2 0h2m3 0h0m4 0h0M-492 310.5h0m3 0h1m11 0h1m7 0h0m3 0h0m5 0h0m2 0h0m4 0h0m3 0h1m2 0h0m3 0h0m6 0h0m3 0h0m5 0h1m3 0h0m3 0h0m5 0h0m4 0h0m2 0h0m2 0h0m2 0h0m2 0h0m3 0h1m3 0h0m6 0h1m2 0h0m4 0h0m3 0h1m9 0h0m7 0h0m2 0h0m4 0h0m6 0h0m6 0h0m5 0h2m6 0h1m2 0h0m2 0h0m3 0h1m2 0h0m4 0h1m4 0h3m2 0h1m10 0h0m4 0h2m4 0h0m2 0h1m4 0h0m3 0h1m2 0h0m6 0h1m5 0h1m3 0h0m2 0h0m2 0h1m3 0h1m4 0h1m8 0h0m5 0h0m4 0h1m3 0h0m3 0h0m2 0h0m5 0h0m8 0h0m3 0h0m4 0h0m3 0h2m2 0h0m4 0h0m4 0h0m3 0h0m5 0h0m10 0h0m4 0h1m3 0h2m2 0h1m10 0h0m6 0h0m2 0h1m3 0h0m4 0h0m4 0h0m2 0h0m7 0h0m5 0h1m4 0h1m4 0h1m4 0h0m3 0h0m3 0h0m2 0h0m3 0h1m165 0h0m2 0h0m3 0h1m3 0h0m12 0h0m2 0h0m3 0h0m2 0h0m4 0h1m2 0h0m3 0h0m8 0h0m3 0h0m4 0h0m2 0h0m8 0h0m3 0h0m2 0h0m11 0h0m7 0h0m5 0h0m8 0h0m2 0h0m7 0h0m3 0h0m2 0h0m3 0h0m3 0h0m2 0h0m4 0h0m2 0h1m9 0h1m2 0h0m2 0h1m8 0h0m4 0h0m8 0h0m5 0h0m6 0h0m6 0h1m7 0h0m7 0h0m4 0h3m2 0h1m2 0h0m2 0h0m4 0h0m3 0h1m2 0h1m6 0h0m3 0h0m3 0h0m2 0h0m2 0h1m3 0h0m4 0h1m4 0h0m5 0h0m4 0h1m5 0h0m2 0h0m6 0h0m5 0h0m2 0h2m3 0h1m2 0h0m2 0h0m5 0h2m2 0h0m2 0h0m5 0h0m7 0h0m2 0h0m2 0h2m5 0h0m5 0h1m3 0h0m6 0h0m2 0h0m2 0h0m6 0h1m4 0h0m2 0h0m2 0h0m8 0h1m4 0h0m3 0h0m4 0h0m4 0h2m5 0h0m2 0h0m6 0h0m3 0h1m2 0h0m4 0h1m2 0h0m6 0h0M-495 312.26h0m4 0h0m2 0h0m2 0h0m2 0h1m4 0h0m2 0h0m4 0h1m7 0h0m4 0h0m2 0h0m3 0h0m2 0h0m4 0h0m2 0h2m7 0h0m2 0h1m4 0h0m2 0h1m2 0h0m4 0h0m3 0h1m2 0h0m10 0h0m6 0h0m3 0h0m2 0h0m2 0h0m8 0h0m5 0h0m6 0h0m3 0h1m4 0h1m3 0h0m3 0h0m3 0h1m3 0h0m17 0h1m8 0h0m3 0h0m3 0h1m6 0h0m8 0h0m5 0h1m4 0h0m7 0h0m5 0h1m4 0h0m3 0h0m3 0h0m8 0h0m6 0h0m3 0h0m6 0h0m3 0h0m6 0h0m3 0h0m6 0h1m3 0h0m10 0h1m3 0h0m6 0h0m2 0h1m2 0h0m4 0h0m5 0h1m2 0h1m4 0h0m2 0h0m2 0h0m2 0h0m3 0h0m2 0h0m6 0h0m4 0h3m8 0h1m2 0h1m4 0h1m2 0h0m3 0h0m2 0h0m2 0h0m7 0h0m4 0h2m6 0h2m3 0h0m3 0h0m3 0h2m9 0h0m9 0h1m8 0h1m2 0h0m144 0h0m14 0h0m4 0h0m8 0h1m2 0h0m7 0h2m3 0h0m2 0h3m4 0h0m3 0h0m5 0h1m4 0h0m4 0h1m2 0h0m6 0h1m3 0h1m4 0h1m6 0h0m2 0h0m2 0h0m2 0h0m7 0h0m4 0h0m3 0h0m2 0h0m4 0h2m4 0h0m2 0h0m4 0h0m7 0h2m6 0h0m2 0h0m2 0h0m3 0h0m2 0h1m3 0h1m2 0h0m4 0h1m3 0h0m4 0h1m3 0h1m5 0h1m7 0h1m5 0h0m3 0h0m5 0h0m3 0h1m2 0h0m4 0h0m7 0h0m2 0h0m2 0h1m3 0h1m11 0h0m3 0h0m3 0h0m4 0h1m4 0h0m2 0h2m4 0h0m2 0h0m2 0h1m2 0h0m12 0h0m6 0h0m2 0h0m3 0h0m4 0h0m3 0h0m5 0h0m2 0h0m3 0h1m14 0h0m4 0h1m4 0h0m2 0h0m4 0h0m12 0h0m3 0h1m5 0h0m6 0h1m2 0h1m2 0h0m11 0h1m3 0h1m10 0h0m2 0h0m3 0h1m2 0h2m5 0h0m6 0h0m3 0h1M-493 314.02h0m3 0h1m3 0h0m4 0h0m4 0h0m2 0h0m4 0h0m2 0h0m3 0h0m5 0h1m5 0h2m10 0h1m5 0h0m4 0h0m2 0h0m3 0h1m4 0h0m2 0h2m2 0h1m4 0h0m14 0h1m2 0h0m3 0h0m3 0h0m3 0h0m2 0h1m2 0h0m2 0h1m8 0h1m3 0h2m9 0h0m5 0h0m4 0h0m6 0h1m15 0h0m9 0h0m6 0h0m3 0h0m3 0h1m3 0h0m2 0h2m2 0h1m10 0h0m2 0h0m7 0h0m3 0h0m3 0h1m5 0h0m6 0h0m4 0h0m2 0h0m5 0h0m8 0h0m2 0h1m2 0h0m3 0h0m6 0h0m3 0h0m4 0h0m17 0h0m4 0h1m3 0h0m3 0h0m5 0h0m5 0h0m4 0h0m2 0h0m2 0h0m14 0h1m4 0h0m7 0h0m3 0h0m5 0h0m3 0h1m2 0h0m2 0h1m5 0h0m4 0h0m5 0h0m2 0h2m5 0h1m4 0h1m9 0h1m2 0h0m4 0h0m2 0h1m11 0h1m3 0h0m6 0h0m141 0h1m3 0h1m5 0h0m4 0h0m3 0h0m2 0h2m4 0h0m2 0h1m5 0h1m3 0h1m2 0h3m2 0h1m2 0h1m3 0h1m4 0h1m2 0h0m4 0h1m3 0h0m3 0h0m3 0h0m4 0h0m2 0h0m2 0h0m3 0h0m4 0h1m5 0h0m5 0h0m4 0h1m6 0h0m3 0h0m2 0h0m3 0h1m2 0h0m2 0h0m4 0h1m4 0h0m2 0h0m3 0h1m4 0h0m3 0h0m12 0h1m3 0h0m3 0h1m6 0h0m2 0h0m2 0h1m2 0h0m5 0h0m4 0h2m8 0h2m3 0h0m4 0h0m2 0h0m2 0h2m15 0h0m5 0h1m7 0h1m7 0h1m4 0h1m3 0h0m7 0h0m2 0h1m6 0h0m4 0h0m4 0h2m2 0h0m3 0h0m2 0h1m8 0h0m3 0h0m2 0h0m2 0h0m7 0h0m2 0h0m15 0h0m8 0h1m2 0h1m2 0h0m4 0h2m4 0h0m2 0h0m2 0h1m2 0h0m3 0h1m2 0h0m4 0h0m4 0h0m8 0h1m12 0h0m2 0h1m4 0h0m4 0h0M-495 315.79h0m2 0h0m3 0h0m2 0h1m2 0h0m2 0h0m3 0h0m5 0h1m4 0h0m2 0h0m12 0h0m4 0h0m4 0h0m2 0h0m6 0h0m3 0h2m2 0h1m7 0h0m10 0h1m3 0h0m6 0h0m4 0h1m3 0h0m9 0h0m4 0h0m3 0h1m5 0h0m3 0h0m2 0h1m6 0h0m10 0h0m2 0h0m3 0h0m5 0h0m4 0h0m2 0h0m4 0h2m5 0h0m3 0h0m6 0h1m7 0h0m2 0h0m2 0h0m4 0h1m2 0h0m2 0h0m5 0h0m5 0h0m10 0h0m2 0h1m12 0h0m9 0h2m3 0h1m3 0h1m3 0h0m2 0h1m5 0h0m3 0h1m6 0h0m5 0h0m13 0h1m3 0h0m3 0h1m11 0h1m5 0h3m2 0h2m3 0h1m12 0h0m5 0h0m8 0h0m3 0h2m2 0h0m2 0h2m2 0h1m10 0h0m2 0h0m10 0h0m2 0h0m5 0h0m4 0h0m7 0h0m2 0h0m5 0h0m3 0h0m148 0h3m2 0h1m12 0h0m2 0h1m2 0h0m5 0h0m2 0h0m3 0h0m2 0h0m2 0h0m3 0h0m3 0h1m6 0h1m2 0h0m6 0h1m3 0h2m2 0h2m3 0h1m3 0h0m3 0h0m2 0h3m2 0h0m2 0h0m2 0h0m5 0h0m2 0h0m5 0h0m3 0h0m3 0h2m2 0h0m7 0h0m5 0h0m8 0h0m3 0h0m5 0h0m3 0h0m2 0h0m4 0h0m7 0h0m2 0h0m5 0h0m4 0h0m2 0h1m3 0h0m4 0h0m2 0h0m4 0h0m5 0h1m4 0h1m5 0h0m2 0h1m4 0h0m6 0h1m3 0h0m3 0h0m3 0h1m5 0h0m2 0h0m5 0h0m2 0h1m3 0h0m4 0h0m2 0h0m4 0h0m3 0h0m2 0h1m3 0h0m3 0h0m5 0h0m3 0h0m12 0h0m2 0h1m2 0h0m2 0h0m2 0h1m3 0h0m2 0h1m4 0h0m6 0h0m2 0h0m2 0h1m2 0h0m3 0h0m2 0h0m7 0h0m2 0h0m6 0h0m4 0h0m6 0h1m3 0h1m3 0h0m4 0h0m2 0h2m5 0h1m3 0h1m7 0h0m2 0h0m5 0h0m3 0h2m2 0h0m6 0h0m4 0h0m3 0h0m3 0h0m7 0h0m2 0h2M-494 317.55h0m3 0h1m2 0h0m3 0h0m9 0h0m2 0h1m6 0h0m6 0h0m3 0h0m6 0h0m5 0h2m2 0h0m4 0h0m6 0h0m2 0h0m3 0h1m2 0h0m2 0h0m2 0h0m6 0h1m3 0h0m4 0h0m2 0h1m3 0h0m4 0h0m8 0h1m4 0h0m4 0h0m4 0h1m4 0h0m9 0h0m3 0h1m4 0h2m10 0h1m3 0h0m9 0h0m3 0h1m4 0h0m5 0h0m3 0h0m2 0h0m4 0h0m4 0h1m2 0h0m6 0h0m8 0h0m2 0h1m5 0h1m6 0h0m7 0h0m8 0h0m2 0h0m4 0h0m2 0h2m6 0h0m9 0h0m9 0h2m10 0h0m6 0h1m11 0h1m2 0h1m5 0h0m2 0h0m2 0h1m2 0h0m3 0h0m7 0h0m6 0h1m2 0h0m4 0h0m2 0h0m2 0h0m6 0h0m10 0h0m2 0h1m2 0h2m3 0h0m2 0h1m2 0h0m2 0h0m2 0h1m7 0h1m6 0h0m2 0h1m4 0h0m2 0h1m3 0h1m9 0h0m5 0h0m3 0h0m146 0h0m3 0h0m3 0h0m9 0h1m4 0h0m2 0h0m3 0h0m3 0h1m3 0h0m2 0h0m2 0h2m2 0h3m3 0h0m3 0h1m2 0h0m7 0h0m4 0h0m2 0h0m4 0h1m2 0h0m2 0h0m6 0h0m2 0h1m3 0h1m11 0h0m5 0h0m4 0h3m4 0h0m2 0h2m2 0h0m2 0h0m4 0h1m2 0h0m4 0h0m2 0h0m2 0h0m7 0h0m5 0h0m2 0h0m2 0h0m2 0h0m3 0h0m3 0h0m5 0h0m6 0h0m6 0h0m5 0h1m2 0h0m3 0h0m2 0h0m3 0h0m17 0h1m3 0h1m8 0h1m13 0h0m2 0h0m3 0h0m3 0h0m2 0h0m5 0h0m4 0h1m5 0h0m8 0h0m2 0h0m8 0h0m2 0h0m4 0h1m2 0h2m6 0h2m2 0h0m2 0h0m3 0h0m2 0h0m9 0h0m4 0h0m2 0h0m3 0h1m2 0h2m7 0h0m2 0h0m4 0h0m4 0h0m5 0h0m6 0h0m14 0h0m2 0h0m6 0h1m2 0h0m2 0h0m3 0h1m3 0h0m7 0h0m3 0h0m2 0h1m2 0h1m3 0h0m3 0h1M-495 319.31h3m3 0h1m5 0h0m2 0h0m7 0h0m3 0h1m5 0h0m3 0h0m6 0h1m5 0h1m2 0h1m5 0h0m3 0h0m4 0h0m3 0h0m4 0h0m3 0h0m3 0h1m3 0h0m2 0h0m4 0h0m5 0h1m5 0h1m4 0h0m4 0h0m5 0h1m2 0h0m2 0h0m4 0h1m2 0h1m2 0h0m4 0h0m5 0h0m2 0h0m3 0h0m2 0h2m2 0h1m3 0h0m2 0h0m2 0h0m10 0h1m2 0h0m3 0h1m2 0h0m4 0h0m6 0h0m7 0h0m4 0h0m5 0h0m6 0h0m2 0h0m3 0h0m8 0h0m11 0h0m5 0h0m2 0h1m6 0h1m4 0h0m9 0h0m3 0h0m4 0h2m2 0h1m5 0h0m4 0h0m5 0h1m2 0h1m2 0h0m3 0h0m6 0h0m5 0h0m7 0h0m3 0h0m2 0h1m4 0h0m3 0h0m14 0h0m2 0h1m17 0h0m2 0h1m2 0h0m3 0h0m4 0h1m7 0h0m3 0h0m2 0h2m3 0h0m5 0h0m2 0h0m5 0h0m3 0h0m2 0h0m3 0h0m6 0h0m2 0h0m3 0h0m2 0h1m4 0h1m4 0h0m143 0h2m7 0h1m6 0h1m4 0h1m2 0h1m7 0h0m2 0h0m3 0h0m4 0h0m6 0h0m5 0h0m4 0h0m4 0h8m2 0h0m2 0h0m2 0h0m2 0h0m2 0h0m6 0h0m4 0h0m3 0h1m2 0h0m2 0h1m2 0h1m19 0h0m5 0h1m6 0h0m8 0h1m10 0h0m3 0h0m2 0h0m2 0h0m2 0h0m3 0h0m5 0h0m3 0h0m5 0h2m4 0h0m7 0h1m2 0h0m6 0h0m6 0h3m5 0h0m3 0h0m5 0h0m2 0h0m8 0h2m7 0h0m2 0h0m5 0h1m10 0h0m3 0h1m3 0h0m2 0h2m4 0h0m5 0h0m4 0h0m3 0h0m2 0h1m2 0h0m2 0h1m12 0h0m2 0h0m5 0h0m3 0h0m5 0h0m9 0h1m2 0h1m4 0h0m7 0h1m6 0h0m2 0h0m12 0h0m2 0h0m5 0h0m2 0h0m5 0h0m2 0h1m2 0h0m3 0h0m11 0h0m5 0h0m3 0h0m3 0h0m2 0h0m10 0h0M-495 321.07h0m9 0h0m2 0h0m3 0h0m2 0h1m2 0h1m4 0h2m2 0h1m3 0h0m2 0h0m2 0h0m5 0h0m2 0h0m8 0h0m2 0h0m4 0h0m2 0h0m10 0h0m2 0h1m2 0h2m5 0h1m3 0h0m3 0h0m2 0h1m9 0h2m3 0h2m6 0h0m5 0h2m3 0h0m3 0h1m3 0h0m3 0h0m3 0h0m3 0h2m2 0h0m4 0h0m2 0h2m6 0h0m3 0h0m2 0h1m4 0h0m7 0h0m4 0h0m2 0h1m4 0h1m2 0h0m3 0h2m2 0h0m3 0h1m3 0h0m3 0h0m3 0h0m2 0h0m5 0h0m4 0h0m5 0h0m7 0h0m16 0h0m2 0h1m7 0h1m4 0h0m2 0h0m6 0h0m5 0h1m3 0h1m2 0h0m2 0h1m2 0h0m7 0h1m8 0h0m5 0h2m3 0h0m3 0h0m6 0h0m3 0h0m2 0h0m5 0h1m5 0h2m7 0h0m4 0h0m2 0h0m5 0h0m2 0h0m3 0h1m4 0h1m3 0h0m2 0h1m3 0h0m2 0h0m3 0h0m2 0h0m3 0h0m3 0h1m7 0h0m3 0h0m5 0h0m2 0h0m5 0h1m9 0h1m3 0h1m132 0h0m11 0h1m3 0h0m4 0h0m3 0h1m2 0h1m3 0h1m2 0h0m4 0h0m5 0h0m6 0h0m2 0h0m8 0h1m5 0h1m5 0h0m5 0h0m4 0h0m2 0h1m3 0h1m2 0h0m3 0h0m6 0h2m3 0h1m2 0h1m4 0h0m3 0h0m3 0h0m2 0h0m4 0h1m5 0h0m2 0h0m5 0h0m2 0h0m5 0h0m5 0h0m3 0h0m4 0h0m3 0h0m2 0h1m6 0h1m6 0h0m2 0h0m2 0h1m3 0h1m3 0h1m6 0h0m3 0h0m4 0h2m3 0h1m4 0h0m8 0h1m13 0h1m2 0h0m4 0h0m3 0h0m3 0h1m2 0h0m7 0h0m6 0h0m4 0h0m3 0h0m2 0h1m3 0h1m3 0h0m8 0h1m5 0h1m5 0h0m2 0h0m14 0h0m3 0h0m2 0h1m2 0h0m2 0h0m4 0h0m2 0h0m7 0h1m3 0h0m5 0h1m2 0h0m2 0h0m3 0h0m3 0h0m6 0h0m4 0h0m6 0h3m3 0h0m3 0h0m3 0h0m2 0h1m7 0h0m5 0h1m4 0h2m2 0h0m5 0h0m2 0h0m2 0h0m5 0h0m3 0h0m2 0h0m2 0h0M-495 322.83h1m5 0h0m4 0h0m2 0h0m4 0h0m11 0h0m2 0h0m13 0h0m4 0h1m15 0h1m2 0h2m2 0h2m11 0h0m11 0h0m2 0h0m4 0h0m4 0h0m3 0h0m4 0h1m4 0h0m2 0h0m3 0h1m4 0h0m4 0h0m2 0h2m2 0h0m4 0h1m2 0h0m7 0h0m5 0h0m6 0h0m2 0h2m7 0h0m3 0h1m3 0h0m3 0h1m11 0h1m4 0h0m9 0h0m7 0h0m2 0h0m3 0h0m2 0h0m2 0h0m6 0h0m2 0h0m3 0h0m8 0h1m2 0h0m3 0h0m5 0h0m3 0h0m5 0h1m6 0h1m2 0h2m3 0h0m5 0h0m2 0h0m5 0h0m2 0h0m2 0h0m3 0h0m5 0h0m2 0h0m5 0h0m3 0h0m3 0h0m3 0h0m4 0h0m10 0h0m3 0h0m4 0h0m7 0h0m3 0h0m7 0h0m3 0h1m3 0h0m10 0h0m4 0h2m2 0h1m7 0h1m2 0h0m4 0h1m2 0h0m3 0h0m2 0h0m3 0h1m3 0h0m2 0h1m11 0h0m5 0h1m135 0h0m3 0h0m8 0h0m7 0h0m3 0h0m4 0h0m2 0h0m8 0h0m3 0h0m2 0h0m3 0h0m2 0h1m5 0h1m2 0h1m3 0h0m7 0h2m3 0h1m2 0h0m12 0h0m4 0h1m2 0h0m5 0h0m2 0h1m4 0h0m3 0h1m3 0h0m2 0h1m7 0h0m7 0h0m3 0h0m9 0h0m2 0h1m5 0h0m2 0h0m3 0h1m9 0h1m12 0h0m4 0h0m3 0h0m2 0h1m4 0h1m3 0h3m11 0h0m4 0h0m5 0h0m3 0h1m3 0h0m2 0h0m5 0h0m3 0h1m3 0h0m3 0h0m3 0h0m5 0h0m3 0h1m7 0h1m2 0h0m2 0h1m3 0h0m9 0h0m2 0h1m6 0h2m2 0h0m12 0h1m4 0h0m7 0h1m4 0h0m7 0h0m7 0h0m2 0h0m2 0h1m6 0h0m2 0h0m2 0h0m5 0h0m2 0h0m3 0h1m4 0h0m3 0h0m2 0h0m2 0h1m3 0h0m4 0h0m2 0h0m6 0h1m5 0h0m6 0h0m4 0h0m2 0h0m5 0h0m2 0h0m5 0h1m2 0h0M-489 324.59h0m3 0h0m3 0h0m7 0h0m5 0h0m12 0h1m10 0h0m6 0h0m2 0h0m2 0h0m14 0h0m3 0h0m4 0h0m4 0h1m2 0h0m8 0h0m14 0h0m2 0h0m4 0h0m5 0h2m2 0h0m3 0h0m4 0h1m2 0h0m8 0h0m12 0h2m6 0h1m2 0h0m16 0h0m4 0h0m5 0h0m2 0h0m3 0h0m2 0h0m6 0h1m4 0h0m3 0h1m2 0h0m3 0h0m3 0h1m4 0h1m5 0h0m2 0h0m3 0h2m8 0h1m2 0h0m4 0h0m2 0h0m3 0h0m4 0h0m3 0h1m6 0h0m10 0h1m4 0h1m4 0h0m2 0h0m2 0h0m5 0h0m3 0h0m4 0h0m3 0h0m2 0h3m8 0h2m8 0h1m13 0h1m3 0h1m3 0h0m2 0h0m5 0h1m5 0h0m5 0h0m4 0h0m6 0h0m4 0h0m2 0h0m2 0h0m10 0h1m2 0h0m3 0h0m2 0h0m3 0h0m4 0h2m2 0h0m6 0h0m2 0h0m2 0h0m3 0h1m141 0h1m4 0h0m2 0h1m2 0h1m2 0h0m4 0h1m2 0h0m2 0h1m3 0h0m2 0h0m7 0h0m8 0h0m5 0h0m2 0h0m3 0h1m2 0h1m2 0h0m6 0h1m2 0h0m3 0h2m4 0h0m2 0h0m2 0h1m9 0h0m4 0h1m10 0h0m4 0h0m2 0h1m3 0h1m6 0h0m2 0h0m5 0h0m6 0h0m4 0h1m2 0h2m4 0h0m3 0h0m2 0h0m9 0h0m3 0h1m2 0h0m4 0h3m3 0h0m3 0h0m2 0h1m3 0h0m13 0h1m6 0h2m3 0h0m2 0h0m3 0h0m3 0h0m4 0h0m7 0h0m7 0h0m3 0h0m4 0h0m6 0h1m3 0h0m3 0h0m2 0h0m4 0h2m4 0h0m2 0h1m5 0h0m7 0h0m3 0h0m2 0h1m4 0h0m3 0h0m4 0h0m2 0h0m5 0h0m5 0h0m2 0h0m2 0h0m4 0h0m3 0h0m13 0h0m3 0h1m7 0h0m2 0h0m8 0h0m3 0h0m6 0h0m4 0h0m2 0h0m2 0h0m6 0h0m2 0h0m7 0h0m6 0h1m9 0h1m7 0h0M-495 326.35h1m3 0h0m2 0h0m8 0h1m11 0h0m12 0h0m5 0h0m2 0h0m4 0h0m9 0h0m4 0h0m3 0h0m5 0h1m2 0h0m2 0h0m2 0h0m2 0h0m4 0h0m3 0h1m3 0h0m2 0h0m3 0h1m3 0h0m6 0h0m19 0h0m4 0h0m2 0h0m6 0h1m3 0h0m4 0h0m3 0h0m3 0h0m2 0h0m14 0h0m2 0h0m2 0h0m7 0h0m3 0h0m4 0h0m7 0h1m2 0h1m2 0h0m7 0h0m7 0h0m10 0h0m7 0h0m11 0h1m3 0h0m3 0h0m4 0h0m6 0h0m3 0h0m8 0h0m3 0h0m3 0h0m3 0h0m2 0h0m3 0h1m2 0h1m6 0h0m4 0h0m2 0h1m7 0h2m3 0h0m3 0h0m9 0h1m5 0h0m3 0h1m2 0h1m3 0h0m9 0h0m2 0h0m6 0h0m5 0h0m2 0h0m2 0h0m4 0h0m2 0h0m3 0h0m12 0h0m4 0h0m2 0h0m4 0h0m6 0h0m2 0h1m2 0h0m2 0h0m2 0h0m7 0h0m2 0h0m4 0h1m2 0h0m2 0h1m2 0h1m2 0h1m130 0h1m3 0h1m3 0h0m3 0h2m5 0h1m4 0h0m3 0h0m5 0h0m2 0h4m7 0h2m3 0h2m5 0h0m2 0h0m3 0h0m3 0h0m4 0h1m4 0h0m3 0h0m3 0h2m4 0h0m2 0h1m2 0h0m2 0h0m3 0h0m2 0h0m3 0h0m10 0h0m7 0h0m3 0h0m3 0h0m2 0h0m5 0h0m7 0h1m3 0h0m6 0h0m5 0h0m3 0h0m6 0h0m3 0h0m2 0h0m3 0h2m7 0h0m2 0h0m3 0h0m5 0h0m2 0h0m2 0h0m8 0h0m6 0h0m8 0h0m2 0h0m5 0h0m2 0h0m5 0h1m3 0h0m2 0h1m2 0h1m4 0h0m5 0h0m2 0h1m2 0h0m6 0h0m3 0h0m3 0h0m8 0h0m3 0h0m4 0h0m3 0h0m2 0h0m2 0h1m6 0h0m12 0h1m3 0h0m4 0h0m6 0h0m3 0h0m9 0h0m5 0h1m4 0h1m8 0h0m3 0h0m3 0h1m10 0h0m2 0h1m3 0h0m2 0h0m2 0h1m12 0h0m3 0h1m5 0h0m3 0h0m2 0h0m7 0h0m3 0h0m2 0h0m3 0h1m2 0h1M-489 328.11h0m3 0h0m5 0h0m5 0h1m3 0h1m11 0h0m3 0h0m2 0h0m5 0h0m3 0h1m7 0h0m2 0h0m7 0h0m6 0h0m8 0h0m5 0h0m2 0h0m4 0h0m3 0h1m4 0h0m3 0h0m3 0h0m2 0h1m5 0h0m2 0h0m4 0h1m4 0h0m2 0h1m2 0h3m3 0h0m3 0h0m8 0h1m3 0h0m4 0h0m5 0h0m2 0h0m17 0h0m2 0h0m8 0h0m8 0h0m2 0h0m2 0h0m3 0h1m8 0h0m4 0h0m7 0h0m13 0h0m9 0h0m4 0h0m2 0h0m9 0h1m2 0h0m5 0h2m2 0h0m2 0h0m7 0h0m5 0h0m3 0h0m2 0h0m2 0h0m7 0h0m2 0h0m2 0h1m7 0h1m2 0h0m4 0h0m3 0h0m3 0h0m2 0h1m5 0h0m5 0h0m2 0h0m3 0h0m5 0h1m2 0h1m6 0h1m8 0h0m3 0h0m11 0h0m2 0h0m3 0h1m2 0h0m2 0h3m5 0h1m2 0h1m7 0h0m9 0h0m2 0h1m7 0h1m2 0h1m6 0h0m114 0h2m5 0h0m8 0h0m3 0h1m5 0h0m6 0h0m3 0h0m3 0h1m3 0h1m2 0h0m2 0h0m5 0h0m2 0h0m2 0h0m7 0h0m2 0h0m2 0h0m2 0h0m4 0h0m3 0h0m5 0h0m5 0h1m7 0h0m11 0h0m2 0h0m5 0h0m2 0h0m2 0h1m3 0h0m2 0h0m3 0h0m5 0h0m11 0h0m8 0h0m4 0h0m12 0h0m3 0h0m4 0h1m2 0h0m3 0h2m4 0h0m2 0h0m11 0h1m9 0h1m6 0h0m2 0h0m6 0h0m2 0h1m2 0h0m2 0h0m2 0h0m2 0h1m4 0h0m3 0h0m9 0h0m5 0h0m4 0h1m2 0h0m3 0h0m5 0h1m3 0h0m4 0h0m2 0h0m10 0h0m2 0h0m2 0h0m2 0h1m2 0h0m5 0h0m2 0h0m2 0h0m2 0h0m13 0h0m4 0h0m12 0h0m2 0h0m2 0h0m4 0h0m2 0h0m11 0h0m8 0h0m7 0h0m4 0h0m6 0h0m4 0h0m5 0h0m2 0h0m3 0h0m5 0h0m3 0h0m2 0h0m3 0h0m5 0h1m3 0h0m2 0h1m15 0h0M-491 329.87h0m5 0h0m4 0h0m4 0h0m2 0h0m3 0h0m5 0h0m5 0h0m3 0h0m6 0h0m3 0h1m7 0h0m4 0h2m2 0h0m8 0h0m7 0h0m3 0h0m5 0h1m4 0h0m4 0h0m3 0h0m7 0h0m5 0h2m6 0h0m2 0h5m6 0h0m6 0h0m7 0h0m6 0h0m6 0h1m11 0h0m12 0h0m6 0h2m11 0h0m4 0h0m11 0h0m4 0h0m4 0h0m3 0h0m5 0h0m12 0h0m2 0h0m3 0h0m5 0h0m22 0h0m3 0h0m5 0h1m4 0h0m2 0h0m2 0h0m3 0h0m4 0h0m3 0h0m2 0h0m9 0h1m2 0h0m2 0h0m3 0h2m2 0h2m3 0h0m6 0h1m2 0h0m4 0h0m3 0h0m2 0h1m2 0h1m4 0h0m5 0h0m6 0h1m4 0h0m4 0h1m4 0h0m2 0h0m11 0h0m4 0h0m7 0h0m6 0h1m2 0h0m5 0h0m2 0h0m3 0h0m2 0h0m4 0h0m2 0h1m134 0h1m5 0h0m3 0h5m2 0h0m5 0h1m4 0h0m2 0h1m2 0h0m4 0h0m4 0h0m4 0h0m5 0h0m4 0h0m3 0h0m4 0h0m5 0h0m2 0h0m13 0h0m2 0h0m2 0h0m3 0h1m4 0h1m5 0h0m8 0h2m4 0h0m4 0h0m4 0h0m4 0h1m5 0h1m2 0h1m8 0h0m10 0h2m6 0h0m2 0h2m4 0h1m2 0h1m5 0h1m21 0h0m8 0h0m10 0h1m4 0h0m5 0h0m4 0h0m3 0h0m11 0h0m3 0h1m2 0h0m8 0h0m3 0h1m2 0h0m2 0h0m4 0h0m2 0h0m2 0h0m3 0h0m6 0h0m4 0h2m3 0h2m2 0h0m10 0h0m4 0h0m2 0h0m4 0h0m14 0h0m4 0h0m18 0h0m11 0h0m14 0h0m2 0h1m6 0h0m2 0h0m2 0h2m9 0h2m2 0h0m2 0h0m10 0h0m2 0h0m2 0h0m2 0h0m2 0h0M-495 331.63h1m2 0h0m2 0h0m7 0h0m6 0h0m3 0h0m7 0h0m6 0h0m4 0h0m5 0h0m10 0h0m5 0h0m5 0h0m4 0h0m10 0h0m2 0h0m7 0h0m4 0h0m3 0h0m5 0h2m2 0h0m4 0h1m8 0h0m2 0h2m4 0h0m2 0h1m2 0h0m5 0h0m7 0h0m6 0h0m3 0h1m3 0h0m2 0h0m4 0h0m3 0h0m2 0h0m3 0h0m2 0h0m3 0h0m2 0h0m12 0h0m7 0h0m2 0h0m9 0h0m5 0h0m17 0h1m11 0h0m10 0h1m6 0h1m2 0h0m4 0h0m4 0h1m3 0h0m4 0h0m3 0h0m4 0h0m2 0h0m4 0h0m3 0h1m10 0h2m5 0h0m5 0h0m3 0h0m5 0h1m3 0h0m2 0h0m8 0h1m9 0h0m10 0h1m5 0h0m3 0h1m6 0h0m2 0h1m4 0h0m5 0h0m3 0h2m2 0h0m7 0h0m2 0h0m8 0h0m2 0h0m7 0h0m2 0h0m2 0h0m6 0h1m2 0h0m2 0h0m2 0h1m3 0h5m2 0h1m110 0h0m6 0h0m2 0h0m3 0h1m2 0h0m3 0h0m3 0h0m4 0h0m5 0h0m2 0h0m3 0h1m4 0h2m3 0h0m2 0h1m3 0h1m2 0h1m5 0h0m3 0h0m11 0h0m2 0h0m2 0h0m5 0h0m3 0h0m11 0h0m8 0h1m5 0h0m4 0h0m11 0h0m5 0h0m8 0h0m10 0h1m3 0h0m4 0h0m4 0h1m2 0h0m7 0h0m9 0h0m6 0h0m7 0h0m4 0h0m3 0h0m7 0h0m13 0h3m7 0h0m3 0h0m3 0h0m2 0h0m2 0h0m2 0h0m5 0h0m6 0h1m2 0h0m3 0h0m4 0h0m10 0h0m8 0h0m5 0h0m7 0h0m3 0h0m4 0h0m8 0h0m6 0h0m8 0h1m4 0h0m2 0h0m3 0h0m11 0h0m2 0h0m2 0h0m5 0h0m2 0h1m2 0h0m4 0h1m5 0h0m2 0h0m6 0h0m6 0h0m2 0h1m6 0h0m3 0h0m11 0h0m6 0h1m7 0h1m12 0h0m2 0h1m2 0h0M-493 333.39h0m3 0h0m2 0h0m8 0h0m13 0h0m4 0h0m4 0h1m9 0h0m2 0h2m5 0h0m8 0h0m2 0h0m13 0h0m7 0h0m2 0h1m3 0h1m3 0h0m4 0h0m10 0h1m4 0h1m7 0h1m2 0h0m3 0h0m8 0h0m2 0h0m8 0h0m2 0h0m7 0h1m4 0h1m5 0h1m3 0h0m16 0h0m3 0h0m2 0h0m3 0h0m2 0h0m6 0h0m14 0h1m3 0h0m4 0h0m4 0h0m2 0h0m5 0h0m3 0h0m3 0h0m8 0h0m3 0h0m12 0h0m3 0h1m2 0h0m3 0h1m5 0h0m8 0h0m2 0h1m5 0h1m8 0h1m9 0h1m2 0h1m2 0h1m3 0h0m2 0h2m11 0h0m6 0h0m5 0h0m5 0h0m2 0h0m3 0h1m5 0h0m3 0h1m3 0h0m13 0h0m3 0h0m7 0h0m5 0h0m3 0h0m5 0h1m3 0h1m2 0h0m3 0h0m5 0h0m7 0h0m6 0h1m109 0h0m2 0h0m11 0h0m2 0h0m3 0h0m2 0h1m2 0h1m2 0h1m2 0h0m5 0h0m2 0h0m3 0h0m5 0h0m2 0h0m2 0h0m2 0h0m3 0h0m2 0h0m3 0h0m9 0h1m6 0h0m2 0h0m4 0h1m9 0h1m4 0h0m5 0h0m10 0h0m5 0h2m4 0h0m5 0h0m2 0h0m2 0h0m2 0h0m3 0h0m7 0h0m4 0h0m5 0h0m6 0h0m7 0h0m5 0h0m4 0h0m3 0h0m2 0h1m9 0h0m3 0h0m2 0h0m11 0h0m2 0h0m3 0h0m9 0h2m12 0h0m9 0h0m3 0h2m3 0h0m5 0h1m11 0h0m2 0h2m4 0h0m4 0h0m2 0h1m12 0h0m2 0h0m4 0h2m5 0h0m5 0h0m5 0h0m4 0h0m4 0h0m8 0h0m2 0h0m7 0h1m4 0h0m8 0h2m3 0h0m7 0h0m6 0h0m4 0h0m3 0h0m6 0h0m2 0h2m7 0h0m4 0h0m5 0h2m4 0h0m2 0h0m8 0h0m4 0h0m5 0h1m2 0h0m5 0h0m3 0h0M-495 335.15h0m2 0h0m5 0h1m4 0h0m2 0h0m8 0h1m4 0h0m15 0h1m10 0h0m18 0h0m8 0h0m5 0h0m2 0h0m2 0h0m2 0h0m4 0h1m2 0h0m2 0h0m4 0h0m4 0h0m6 0h0m3 0h3m2 0h0m4 0h0m3 0h1m6 0h0m10 0h0m4 0h1m10 0h0m10 0h1m6 0h0m7 0h1m2 0h0m2 0h1m4 0h0m8 0h2m9 0h2m16 0h0m2 0h0m4 0h0m10 0h0m9 0h0m9 0h0m4 0h0m3 0h0m6 0h1m9 0h0m21 0h0m12 0h0m6 0h0m3 0h1m5 0h0m6 0h0m4 0h1m2 0h0m2 0h0m6 0h2m2 0h0m2 0h0m9 0h0m2 0h3m7 0h0m2 0h0m4 0h0m3 0h0m2 0h0m2 0h0m9 0h0m5 0h1m6 0h0m2 0h0m15 0h0m5 0h0m2 0h0m2 0h1m109 0h0m9 0h0m4 0h0m3 0h0m3 0h1m5 0h0m2 0h0m2 0h1m2 0h0m2 0h0m3 0h0m12 0h0m6 0h1m3 0h1m4 0h0m2 0h0m7 0h0m4 0h2m6 0h0m3 0h0m14 0h0m4 0h0m4 0h1m9 0h0m4 0h1m8 0h0m9 0h1m2 0h0m2 0h1m7 0h0m4 0h0m4 0h0m3 0h0m3 0h1m2 0h0m2 0h1m6 0h1m2 0h1m2 0h0m4 0h1m4 0h0m3 0h1m9 0h0m2 0h0m2 0h0m2 0h0m14 0h2m7 0h0m2 0h1m3 0h0m7 0h0m4 0h0m7 0h0m5 0h0m3 0h0m2 0h3m10 0h1m13 0h1m2 0h0m9 0h0m2 0h0m4 0h2m2 0h0m2 0h0m9 0h0m3 0h1m3 0h0m6 0h1m3 0h0m3 0h0m2 0h0m4 0h0m2 0h1m2 0h0m3 0h0m2 0h0m2 0h0m3 0h1m2 0h0m20 0h1m6 0h0m10 0h1m5 0h1m11 0h0m2 0h1M-494 336.91h1m2 0h0m3 0h0m3 0h0m4 0h1m14 0h0m3 0h0m2 0h0m4 0h0m6 0h0m7 0h1m5 0h0m4 0h0m4 0h0m10 0h0m4 0h0m10 0h0m6 0h0m17 0h1m5 0h0m7 0h0m3 0h0m4 0h0m2 0h0m7 0h0m14 0h1m3 0h0m5 0h1m6 0h0m11 0h0m2 0h0m10 0h0m4 0h0m6 0h0m3 0h0m3 0h0m6 0h0m4 0h0m7 0h1m15 0h0m3 0h0m7 0h0m9 0h0m10 0h0m7 0h0m2 0h0m2 0h0m3 0h0m4 0h0m2 0h0m2 0h0m4 0h0m3 0h3m7 0h0m2 0h1m5 0h0m3 0h0m3 0h0m5 0h1m7 0h0m2 0h0m2 0h1m2 0h0m3 0h2m2 0h0m2 0h0m7 0h1m2 0h1m7 0h1m9 0h2m2 0h1m6 0h0m2 0h0m3 0h0m7 0h1m2 0h0m3 0h0m3 0h0m2 0h0m7 0h0m2 0h0m5 0h0m7 0h0m3 0h0m12 0h1m99 0h0m2 0h1m2 0h1m5 0h0m7 0h0m3 0h0m3 0h0m2 0h2m2 0h0m6 0h0m2 0h0m4 0h1m6 0h1m4 0h0m3 0h1m5 0h0m4 0h0m9 0h1m7 0h0m6 0h0m4 0h0m2 0h1m2 0h1m5 0h0m10 0h0m3 0h0m8 0h0m4 0h0m8 0h0m4 0h1m3 0h0m9 0h0m5 0h0m5 0h1m2 0h3m4 0h0m3 0h4m5 0h0m6 0h0m7 0h0m3 0h0m2 0h0m4 0h1m2 0h1m3 0h0m4 0h0m2 0h0m3 0h1m2 0h0m10 0h1m8 0h0m3 0h0m4 0h0m4 0h1m2 0h2m2 0h0m5 0h0m10 0h0m8 0h0m5 0h1m5 0h1m7 0h0m11 0h0m10 0h0m4 0h1m9 0h0m2 0h0m9 0h0m2 0h0m3 0h0m14 0h0m4 0h1m3 0h4m5 0h0m11 0h0m3 0h0m3 0h0m4 0h1m4 0h2m4 0h0m3 0h0m4 0h0m2 0h0m2 0h1m2 0h0M-495 338.67h0m19 0h0m2 0h0m2 0h0m3 0h0m12 0h1m6 0h0m11 0h0m5 0h2m2 0h0m4 0h0m4 0h0m7 0h0m3 0h0m7 0h0m6 0h0m8 0h0m3 0h0m2 0h0m2 0h1m2 0h0m6 0h0m4 0h0m6 0h0m4 0h1m9 0h0m9 0h0m7 0h1m14 0h0m5 0h0m3 0h0m3 0h0m14 0h0m5 0h0m2 0h0m8 0h0m9 0h0m7 0h0m8 0h0m2 0h1m2 0h0m3 0h0m4 0h0m9 0h0m13 0h0m9 0h0m2 0h0m13 0h0m3 0h0m5 0h1m3 0h1m4 0h0m4 0h1m4 0h1m5 0h0m2 0h0m7 0h0m2 0h0m14 0h0m6 0h0m4 0h0m15 0h0m3 0h0m3 0h0m3 0h0m2 0h0m2 0h0m2 0h1m2 0h0m10 0h0m6 0h0m3 0h1m2 0h4m5 0h2m5 0h0m4 0h0m112 0h1m3 0h0m6 0h0m2 0h0m2 0h0m9 0h1m3 0h0m2 0h1m4 0h1m6 0h0m8 0h1m10 0h0m3 0h0m2 0h0m2 0h0m6 0h0m4 0h1m4 0h1m5 0h0m13 0h0m16 0h0m8 0h0m11 0h0m4 0h1m10 0h0m5 0h0m2 0h0m4 0h0m3 0h0m4 0h0m3 0h0m4 0h0m3 0h0m4 0h0m4 0h0m2 0h0m4 0h0m3 0h0m2 0h0m3 0h0m8 0h1m5 0h0m8 0h0m9 0h1m9 0h0m19 0h0m5 0h0m10 0h0m8 0h1m6 0h0m8 0h0m10 0h0m9 0h1m3 0h1m2 0h0m5 0h0m3 0h0m3 0h0m3 0h1m2 0h0m2 0h0m3 0h1m11 0h0m13 0h0m3 0h0m15 0h0m4 0h0m11 0h1m12 0h0m8 0h0m2 0h0m6 0h0m2 0h0M-477 340.44h0m6 0h0m5 0h0m4 0h0m3 0h0m3 0h0m2 0h0m2 0h0m3 0h0m5 0h0m2 0h0m4 0h0m8 0h2m4 0h0m2 0h0m7 0h0m3 0h0m13 0h0m6 0h0m14 0h0m2 0h1m9 0h0m2 0h0m2 0h0m2 0h0m12 0h0m10 0h0m2 0h0m6 0h0m3 0h0m2 0h0m5 0h0m3 0h0m4 0h0m3 0h0m8 0h0m5 0h0m4 0h0m3 0h0m5 0h0m5 0h0m4 0h0m4 0h1m2 0h0m5 0h0m12 0h0m9 0h0m2 0h0m3 0h0m13 0h0m12 0h0m4 0h0m8 0h0m10 0h1m8 0h0m5 0h0m14 0h0m6 0h1m7 0h0m3 0h0m5 0h0m2 0h0m3 0h0m4 0h0m5 0h2m10 0h0m17 0h0m2 0h0m4 0h0m7 0h1m7 0h0m2 0h0m3 0h0m3 0h0m2 0h0m3 0h0m2 0h1m9 0h0m4 0h0m2 0h0m98 0h1m9 0h1m3 0h0m6 0h0m6 0h0m3 0h0m3 0h0m2 0h0m2 0h0m11 0h0m3 0h0m2 0h0m3 0h0m4 0h1m7 0h2m5 0h0m3 0h0m15 0h0m14 0h0m2 0h0m2 0h0m2 0h2m4 0h0m6 0h0m4 0h1m2 0h1m2 0h0m7 0h0m2 0h0m6 0h1m6 0h1m4 0h0m2 0h0m3 0h0m5 0h0m5 0h0m7 0h2m13 0h0m9 0h1m3 0h0m2 0h0m3 0h0m2 0h0m4 0h0m3 0h0m7 0h0m4 0h0m5 0h2m6 0h0m5 0h1m3 0h0m6 0h0m2 0h0m3 0h1m2 0h0m2 0h0m4 0h0m2 0h0m5 0h0m20 0h0m3 0h1m4 0h0m3 0h0m5 0h2m2 0h0m9 0h0m14 0h1m2 0h0m2 0h0m5 0h0m4 0h0m3 0h0m6 0h0m5 0h0m3 0h0m10 0h0m3 0h0m10 0h0m6 0h0m5 0h0m5 0h1m6 0h1m6 0h1m3 0h1M-492 342.2h1m3 0h0m5 0h1m7 0h1m4 0h0m10 0h0m9 0h1m3 0h0m12 0h0m3 0h0m2 0h0m3 0h0m2 0h0m4 0h0m10 0h0m7 0h0m2 0h0m4 0h0m4 0h0m8 0h0m16 0h0m4 0h1m2 0h0m7 0h0m20 0h0m2 0h0m3 0h1m4 0h2m6 0h0m2 0h0m8 0h0m11 0h1m6 0h0m8 0h0m2 0h0m5 0h2m4 0h1m6 0h0m10 0h0m6 0h0m4 0h0m2 0h0m4 0h0m2 0h0m10 0h0m7 0h0m5 0h0m5 0h0m5 0h1m2 0h0m8 0h0m3 0h0m6 0h0m5 0h1m4 0h2m7 0h1m2 0h0m3 0h0m4 0h0m2 0h0m2 0h0m2 0h0m3 0h0m4 0h0m6 0h2m12 0h1m2 0h1m3 0h2m5 0h0m2 0h0m4 0h1m3 0h0m2 0h0m5 0h1m2 0h0m5 0h1m2 0h0m2 0h1m2 0h0m2 0h0m12 0h1m2 0h1m4 0h1m96 0h3m7 0h1m4 0h0m6 0h0m4 0h1m4 0h1m5 0h0m3 0h0m5 0h0m11 0h2m9 0h0m8 0h1m8 0h0m4 0h0m6 0h0m9 0h0m3 0h0m4 0h0m4 0h0m2 0h0m7 0h0m3 0h0m14 0h0m11 0h0m3 0h0m2 0h1m5 0h0m8 0h0m10 0h1m2 0h0m11 0h0m7 0h0m8 0h1m4 0h1m7 0h0m2 0h2m8 0h0m8 0h0m15 0h0m7 0h0m4 0h3m2 0h0m5 0h0m6 0h0m5 0h0m5 0h1m12 0h0m9 0h1m6 0h0m7 0h0m22 0h0m3 0h1m9 0h0m2 0h0m9 0h1m7 0h0m5 0h0m5 0h0m6 0h0m6 0h0m19 0h1m2 0h0m5 0h0m2 0h1m9 0h1m2 0h0M-495 343.96h0m12 0h0m27 0h0m3 0h0m2 0h0m3 0h0m8 0h0m6 0h0m2 0h0m4 0h0m6 0h1m4 0h0m8 0h0m9 0h0m4 0h0m3 0h0m2 0h0m8 0h0m7 0h0m2 0h0m9 0h0m2 0h0m4 0h0m10 0h0m7 0h0m2 0h0m8 0h0m3 0h2m4 0h0m3 0h0m9 0h0m7 0h0m4 0h0m7 0h0m4 0h0m2 0h0m4 0h0m17 0h1m15 0h1m7 0h0m4 0h1m8 0h0m9 0h1m17 0h0m3 0h0m11 0h0m5 0h0m5 0h0m3 0h0m7 0h0m3 0h0m3 0h1m2 0h1m2 0h0m2 0h0m11 0h0m2 0h0m3 0h1m2 0h0m3 0h0m7 0h0m4 0h0m7 0h0m6 0h0m3 0h0m5 0h0m2 0h0m4 0h1m5 0h0m4 0h0m4 0h0m3 0h0m10 0h0m13 0h0m2 0h0m4 0h0m6 0h0m92 0h1m3 0h0m2 0h0m2 0h0m3 0h0m2 0h0m2 0h0m2 0h0m2 0h0m4 0h0m8 0h1m2 0h0m3 0h0m13 0h0m5 0h0m2 0h1m4 0h0m3 0h1m11 0h2m5 0h0m3 0h1m6 0h0m6 0h0m3 0h0m6 0h0m11 0h0m5 0h0m6 0h1m3 0h0m2 0h0m2 0h1m10 0h0m14 0h0m6 0h1m12 0h0m6 0h0m3 0h0m2 0h0m8 0h0m7 0h0m3 0h1m5 0h0m2 0h0m8 0h1m7 0h0m9 0h0m2 0h0m2 0h0m19 0h0m3 0h1m12 0h1m5 0h0m6 0h0m11 0h0m2 0h0m2 0h0m4 0h0m4 0h0m4 0h0m7 0h0m3 0h0m3 0h0m13 0h0m6 0h1m8 0h0m2 0h1m4 0h0m5 0h1m5 0h0m4 0h0m4 0h0m6 0h0m4 0h0m13 0h1m3 0h0m10 0h0m2 0h0m2 0h1m5 0h0M-492 345.72h1m2 0h0m2 0h0m8 0h0m10 0h1m2 0h0m2 0h0m3 0h0m8 0h0m3 0h0m13 0h0m10 0h0m5 0h0m4 0h0m25 0h1m7 0h0m4 0h1m4 0h1m6 0h0m4 0h0m12 0h0m2 0h0m2 0h1m15 0h0m9 0h0m2 0h0m3 0h0m2 0h0m4 0h0m5 0h0m3 0h0m5 0h0m12 0h1m4 0h0m6 0h0m6 0h0m15 0h0m10 0h0m5 0h2m4 0h0m11 0h0m3 0h0m2 0h0m6 0h0m3 0h0m2 0h0m5 0h0m2 0h0m7 0h0m5 0h0m2 0h0m7 0h0m4 0h0m5 0h1m7 0h0m6 0h0m12 0h2m4 0h0m4 0h0m3 0h0m5 0h2m6 0h0m7 0h0m2 0h0m2 0h1m2 0h0m3 0h0m4 0h0m2 0h0m5 0h0m3 0h0m2 0h1m2 0h0m2 0h1m2 0h0m6 0h0m2 0h4m2 0h0m4 0h0m8 0h0m5 0h2m3 0h0m4 0h0m81 0h2m4 0h0m8 0h1m3 0h0m3 0h0m2 0h0m7 0h0m9 0h0m3 0h0m5 0h0m10 0h0m2 0h0m2 0h0m3 0h0m6 0h0m14 0h0m2 0h0m2 0h0m4 0h0m3 0h0m6 0h0m5 0h1m2 0h2m3 0h0m2 0h1m7 0h1m3 0h0m2 0h0m3 0h0m3 0h0m11 0h1m3 0h0m8 0h1m3 0h0m3 0h1m2 0h0m4 0h0m3 0h0m9 0h0m2 0h0m7 0h0m4 0h0m10 0h0m5 0h0m6 0h0m5 0h0m4 0h0m8 0h0m8 0h2m6 0h1m3 0h0m10 0h1m5 0h0m2 0h0m6 0h0m2 0h0m14 0h0m7 0h0m6 0h0m3 0h0m10 0h0m3 0h0m4 0h0m5 0h0m11 0h0m2 0h1m2 0h0m6 0h0m5 0h1m12 0h1m30 0h0m10 0h0m6 0h0m5 0h0m19 0h0m2 0h2m3 0h0M-491 347.48h0m3 0h0m3 0h0m16 0h0m5 0h0m19 0h1m2 0h1m3 0h0m12 0h2m8 0h1m5 0h0m6 0h0m10 0h0m3 0h0m2 0h0m9 0h0m15 0h1m10 0h0m18 0h0m4 0h0m2 0h0m3 0h0m5 0h0m2 0h0m2 0h0m6 0h0m2 0h0m4 0h0m11 0h0m9 0h0m5 0h1m2 0h0m3 0h2m13 0h0m5 0h0m6 0h0m3 0h0m5 0h0m4 0h1m8 0h0m6 0h0m6 0h0m2 0h0m4 0h0m5 0h0m2 0h0m6 0h0m3 0h0m6 0h0m2 0h0m13 0h0m3 0h0m3 0h1m9 0h1m3 0h0m9 0h0m8 0h0m5 0h0m4 0h0m3 0h0m2 0h0m7 0h0m3 0h0m3 0h1m3 0h0m14 0h0m2 0h1m3 0h0m6 0h1m9 0h0m2 0h0m4 0h2m5 0h0m2 0h0m3 0h0m6 0h0m8 0h1m79 0h2m4 0h1m2 0h0m2 0h0m5 0h0m3 0h2m4 0h0m2 0h0m11 0h0m6 0h0m9 0h0m2 0h1m8 0h0m2 0h0m6 0h0m8 0h0m4 0h0m2 0h0m3 0h0m3 0h0m3 0h1m3 0h0m6 0h0m4 0h1m14 0h0m3 0h0m15 0h1m6 0h1m3 0h0m6 0h0m2 0h0m3 0h0m5 0h0m6 0h0m6 0h0m16 0h0m3 0h0m3 0h0m6 0h0m7 0h0m6 0h0m8 0h0m5 0h0m2 0h0m5 0h0m10 0h1m11 0h0m6 0h0m8 0h1m8 0h0m6 0h0m6 0h1m8 0h0m6 0h0m7 0h0m11 0h0m5 0h0m2 0h0m3 0h0m16 0h0m3 0h1m5 0h0m2 0h0m2 0h0m4 0h0m2 0h0m4 0h1m5 0h0m2 0h0m23 0h0m5 0h0m4 0h0m4 0h0m13 0h0m9 0h0M-494 349.24h0m2 0h1m5 0h0m19 0h0m9 0h0m10 0h0m5 0h0m6 0h0m4 0h0m4 0h0m5 0h0m3 0h0m6 0h1m7 0h0m4 0h0m2 0h0m6 0h0m6 0h0m24 0h1m22 0h0m3 0h0m8 0h0m2 0h0m18 0h0m7 0h0m3 0h0m5 0h0m18 0h0m5 0h0m2 0h0m16 0h0m2 0h0m3 0h0m11 0h0m3 0h0m2 0h0m9 0h0m2 0h0m5 0h0m10 0h0m12 0h0m9 0h0m2 0h0m12 0h0m2 0h0m11 0h0m7 0h0m4 0h0m2 0h0m5 0h0m2 0h0m3 0h0m7 0h0m2 0h0m3 0h0m13 0h0m6 0h0m17 0h0m3 0h0m2 0h0m2 0h0m9 0h0m4 0h0m2 0h0m2 0h0m3 0h0m11 0h0m4 0h0m2 0h0m3 0h0m7 0h0m11 0h0m20 0h0m2 0h0m37 0h0m11 0h1m4 0h1m3 0h0m2 0h0m4 0h1m4 0h3m2 0h0m2 0h0m2 0h1m6 0h0m9 0h0m10 0h0m10 0h0m2 0h0m5 0h0m3 0h1m2 0h0m5 0h3m3 0h0m8 0h1m9 0h0m2 0h0m2 0h0m3 0h1m4 0h0m2 0h0m5 0h0m3 0h0m2 0h0m8 0h0m3 0h0m12 0h0m9 0h0m4 0h0m25 0h3m13 0h0m2 0h0m5 0h1m4 0h0m13 0h0m3 0h0m9 0h0m9 0h0m5 0h0m3 0h0m6 0h1m10 0h1m2 0h0m6 0h0m4 0h0m3 0h0m3 0h0m12 0h0m3 0h0m9 0h0m2 0h1m9 0h0m12 0h0m6 0h0m9 0h0m11 0h0m9 0h1m19 0h0m8 0h0m4 0h0m7 0h0m22 0h1m3 0h1m2 0h0M-489 351h1m17 0h1m4 0h0m11 0h0m6 0h0m5 0h0m4 0h0m7 0h1m2 0h0m9 0h0m5 0h0m11 0h0m17 0h1m2 0h0m13 0h0m9 0h0m7 0h0m3 0h0m11 0h0m11 0h0m22 0h1m2 0h0m2 0h2m3 0h1m2 0h1m3 0h0m2 0h0m3 0h0m7 0h0m22 0h0m9 0h0m4 0h0m5 0h0m9 0h0m8 0h0m2 0h0m2 0h0m2 0h0m2 0h0m8 0h0m2 0h0m7 0h0m5 0h0m2 0h0m2 0h0m6 0h0m8 0h0m4 0h0m15 0h0m2 0h0m4 0h0m4 0h1m3 0h1m12 0h0m4 0h1m18 0h0m5 0h2m15 0h0m2 0h0m4 0h0m3 0h0m5 0h0m5 0h0m5 0h0m4 0h0m2 0h0m3 0h0m2 0h1m2 0h0m2 0h0m88 0h0m8 0h0m2 0h1m2 0h1m4 0h0m6 0h0m3 0h0m7 0h0m5 0h0m2 0h0m3 0h0m8 0h0m11 0h0m8 0h2m5 0h0m2 0h0m3 0h0m6 0h0m8 0h0m16 0h0m3 0h0m6 0h1m15 0h0m14 0h0m5 0h0m16 0h0m5 0h0m2 0h0m7 0h0m3 0h0m4 0h0m7 0h1m14 0h1m5 0h0m21 0h0m3 0h0m9 0h0m4 0h0m6 0h0m4 0h0m10 0h0m3 0h0m7 0h1m11 0h0m3 0h0m5 0h0m13 0h0m12 0h0m11 0h0m4 0h0m9 0h0m8 0h0m5 0h0m2 0h0m3 0h0m2 0h2m6 0h0m15 0h1m15 0h0m4 0h0m12 0h1m8 0h0m4 0h0m2 0h0M-467 352.76h0m3 0h0m5 0h1m10 0h0m2 0h0m2 0h0m5 0h1m3 0h0m6 0h0m9 0h0m2 0h0m11 0h1m19 0h0m2 0h1m3 0h1m14 0h0m4 0h0m4 0h0m2 0h0m4 0h0m8 0h0m8 0h1m14 0h0m2 0h0m2 0h0m3 0h2m3 0h0m5 0h0m16 0h1m15 0h0m23 0h0m7 0h0m2 0h0m2 0h0m3 0h0m2 0h0m15 0h0m2 0h0m7 0h0m2 0h2m2 0h1m16 0h1m3 0h0m3 0h0m15 0h0m7 0h0m2 0h0m9 0h0m9 0h0m2 0h0m5 0h0m10 0h0m6 0h0m5 0h0m4 0h0m5 0h0m10 0h0m2 0h0m5 0h0m8 0h0m3 0h0m5 0h1m3 0h1m4 0h1m6 0h0m2 0h0m2 0h0m2 0h0m2 0h0m2 0h0m4 0h0m19 0h0m2 0h0m52 0h0m6 0h2m3 0h1m11 0h0m3 0h0m7 0h0m7 0h1m7 0h0m8 0h0m2 0h0m9 0h2m2 0h0m3 0h0m3 0h0m11 0h0m2 0h1m5 0h0m2 0h0m3 0h0m5 0h0m7 0h0m5 0h0m10 0h0m18 0h0m19 0h0m7 0h0m6 0h0m7 0h0m2 0h0m9 0h1m11 0h0m14 0h0m6 0h0m6 0h0m17 0h1m4 0h0m6 0h0m14 0h0m4 0h1m5 0h0m6 0h0m25 0h1m4 0h0m4 0h1m2 0h0m4 0h0m2 0h0m5 0h0m3 0h0m2 0h0m2 0h0m2 0h0m11 0h2m11 0h0m5 0h0m21 0h0m3 0h1m8 0h1m14 0h0m30 0h1M-494 354.52h0m3 0h0m5 0h0m11 0h0m4 0h1m3 0h0m8 0h0m2 0h0m2 0h0m3 0h0m9 0h0m17 0h0m6 0h1m8 0h0m17 0h0m5 0h0m5 0h0m2 0h0m9 0h0m8 0h0m7 0h0m4 0h0m16 0h0m8 0h0m2 0h0m7 0h1m6 0h0m33 0h0m4 0h1m2 0h0m10 0h0m11 0h0m25 0h1m7 0h0m4 0h0m4 0h0m8 0h0m6 0h0m7 0h0m7 0h0m4 0h0m2 0h0m16 0h0m6 0h0m2 0h0m20 0h0m2 0h0m3 0h0m14 0h0m4 0h0m11 0h1m9 0h0m5 0h0m5 0h3m3 0h0m8 0h0m3 0h4m3 0h0m2 0h0m2 0h0m4 0h0m3 0h0m3 0h1m2 0h1m15 0h0m30 0h2m8 0h0m17 0h0m3 0h0m2 0h0m5 0h0m3 0h1m7 0h0m5 0h0m3 0h0m6 0h0m4 0h0m8 0h0m4 0h0m2 0h0m6 0h0m3 0h0m2 0h0m2 0h0m2 0h0m11 0h0m25 0h0m12 0h3m5 0h0m21 0h0m21 0h0m9 0h0m2 0h0m2 0h0m5 0h0m19 0h0m9 0h0m4 0h0m7 0h0m2 0h1m7 0h0m6 0h1m15 0h0m3 0h0m11 0h0m2 0h0m2 0h0m5 0h0m3 0h0m5 0h0m4 0h0m2 0h0m5 0h0m2 0h0m8 0h0m15 0h0m14 0h0m11 0h0m2 0h0m7 0h0m5 0h0m8 0h1m11 0h0m30 0h0m9 0h0m3 0h0m8 0h0m12 0h0m8 0h1m7 0h0M-490 356.28h1m8 0h0m4 0h0m3 0h0m7 0h0m3 0h0m16 0h0m8 0h0m18 0h1m39 0h1m7 0h0m17 0h0m7 0h0m11 0h0m3 0h0m8 0h0m2 0h0m13 0h0m6 0h0m9 0h0m2 0h0m5 0h1m10 0h0m10 0h0m5 0h0m3 0h0m4 0h0m7 0h0m9 0h0m7 0h0m3 0h1m9 0h0m3 0h0m4 0h0m6 0h0m4 0h0m8 0h1m7 0h0m8 0h0m21 0h0m4 0h1m10 0h0m2 0h0m12 0h0m8 0h0m2 0h0m4 0h0m12 0h0m2 0h0m3 0h0m2 0h2m3 0h0m3 0h1m10 0h0m2 0h0m4 0h1m14 0h1m2 0h1m2 0h0m6 0h0m3 0h0m3 0h1m4 0h0m8 0h0m5 0h1m50 0h0m2 0h0m11 0h1m2 0h0m5 0h1m2 0h0m5 0h0m3 0h1m3 0h0m2 0h0m8 0h0m9 0h2m3 0h1m6 0h0m3 0h0m4 0h0m13 0h1m11 0h0m11 0h0m24 0h0m3 0h0m11 0h0m7 0h0m8 0h1m2 0h0m2 0h0m4 0h0m3 0h0m2 0h0m2 0h0m3 0h2m10 0h0m2 0h0m7 0h0m8 0h0m9 0h0m8 0h0m5 0h0m7 0h0m6 0h0m2 0h0m13 0h0m9 0h1m4 0h1m2 0h0m17 0h0m3 0h0m3 0h0m15 0h0m2 0h0m12 0h0m4 0h0m13 0h0m2 0h0m11 0h0m9 0h0m3 0h0m5 0h0m3 0h0m6 0h0m4 0h0m17 0h1m4 0h0m5 0h1m4 0h0m8 0h0m21 0h0m9 0h0m4 0h0M-488 358.04h0m5 0h1m3 0h0m7 0h0m5 0h1m3 0h0m4 0h0m2 0h0m19 0h0m6 0h0m4 0h0m13 0h2m25 0h0m2 0h0m4 0h0m3 0h0m2 0h0m11 0h0m3 0h0m8 0h0m7 0h0m3 0h0m3 0h0m38 0h0m24 0h0m7 0h0m31 0h0m14 0h0m7 0h1m3 0h1m20 0h0m11 0h0m8 0h0m2 0h0m15 0h0m7 0h0m14 0h1m2 0h0m18 0h0m3 0h0m4 0h0m2 0h0m5 0h0m5 0h0m8 0h2m8 0h0m3 0h0m5 0h0m3 0h0m4 0h0m3 0h0m3 0h0m2 0h0m11 0h0m8 0h2m3 0h0m2 0h0m3 0h0m36 0h0m26 0h1m4 0h0m2 0h1m3 0h0m3 0h0m4 0h0m3 0h0m3 0h0m2 0h0m2 0h0m5 0h0m6 0h0m4 0h0m6 0h0m8 0h0m22 0h0m3 0h0m6 0h1m13 0h0m4 0h0m4 0h0m2 0h0m6 0h0m6 0h1m6 0h0m16 0h0m6 0h0m13 0h0m16 0h0m8 0h0m6 0h0m8 0h0m6 0h0m2 0h0m2 0h0m9 0h0m9 0h0m3 0h0m15 0h0m3 0h0m4 0h0m11 0h0m2 0h1m6 0h0m2 0h0m2 0h0m5 0h0m4 0h0m6 0h0m10 0h0m6 0h0m2 0h0m22 0h0m13 0h0m2 0h0m13 0h1m16 0h0m6 0h0m2 0h0m8 0h0m6 0h0m10 0h0m16 0h0m5 0h0m11 0h0m14 0h0M-487 359.8h0m6 0h0m8 0h0m9 0h0m2 0h0m15 0h0m4 0h0m16 0h1m3 0h0m4 0h0m25 0h0m32 0h0m5 0h0m3 0h0m5 0h0m4 0h0m2 0h0m7 0h0m4 0h0m10 0h2m15 0h0m13 0h0m7 0h0m4 0h1m2 0h0m9 0h1m8 0h0m2 0h0m7 0h0m2 0h0m13 0h0m5 0h0m23 0h0m5 0h0m5 0h1m10 0h0m10 0h0m8 0h0m8 0h0m4 0h0m12 0h0m2 0h0m9 0h0m3 0h0m2 0h0m6 0h0m9 0h0m11 0h0m4 0h0m12 0h1m2 0h0m3 0h0m4 0h0m2 0h0m2 0h0m2 0h0m7 0h0m3 0h0m2 0h1m3 0h0m3 0h0m11 0h0m13 0h0m2 0h0m46 0h0m10 0h0m7 0h0m3 0h2m3 0h0m5 0h0m4 0h0m12 0h0m8 0h0m5 0h0m8 0h1m3 0h0m14 0h1m10 0h0m4 0h0m6 0h0m4 0h0m2 0h0m7 0h0m8 0h0m23 0h0m5 0h0m19 0h0m23 0h0m14 0h0m4 0h0m21 0h0m12 0h1m6 0h0m6 0h0m13 0h0m5 0h0m14 0h0m11 0h0m3 0h0m22 0h0m3 0h0m3 0h0m11 0h0m3 0h1m3 0h1m17 0h0m3 0h0m7 0h0m6 0h0m3 0h0m22 0h1m8 0h0m6 0h0m16 0h0m4 0h1m6 0h0m8 0h1m2 0h0m2 0h0m4 0h0M-493 361.56h0m21 0h0m7 0h0m5 0h0m7 0h0m4 0h0m21 0h0m2 0h0m11 0h0m2 0h0m16 0h1m13 0h0m2 0h0m9 0h0m5 0h0m7 0h0m6 0h1m3 0h0m3 0h0m3 0h0m17 0h0m12 0h0m7 0h0m3 0h0m10 0h0m3 0h0m17 0h0m5 0h0m7 0h0m5 0h0m8 0h0m7 0h0m12 0h0m10 0h0m11 0h0m17 0h0m4 0h0m3 0h0m7 0h0m2 0h0m10 0h0m4 0h0m6 0h0m2 0h0m17 0h0m2 0h0m3 0h0m9 0h0m14 0h0m3 0h0m2 0h0m5 0h0m13 0h2m6 0h0m2 0h0m2 0h0m3 0h0m9 0h0m9 0h0m6 0h0m2 0h0m4 0h0m2 0h0m8 0h1m49 0h0m15 0h1m3 0h0m2 0h0m3 0h0m2 0h0m4 0h0m4 0h0m2 0h0m3 0h0m9 0h1m10 0h0m3 0h0m7 0h0m2 0h0m3 0h0m7 0h0m6 0h0m4 0h1m6 0h0m3 0h0m3 0h0m2 0h0m5 0h0m3 0h0m6 0h0m9 0h0m3 0h0m3 0h0m13 0h1m3 0h0m7 0h0m2 0h0m5 0h0m13 0h0m47 0h0m5 0h0m11 0h0m39 0h0m6 0h0m32 0h0m3 0h0m9 0h0m3 0h0m22 0h0m5 0h0m20 0h0m3 0h0m6 0h0m5 0h0m6 0h0m6 0h0m2 0h0m14 0h0m18 0h0m7 0h0m4 0h0M-492 363.32h0m27 0h0m7 0h0m14 0h0m5 0h0m23 0h0m2 0h0m16 0h0m2 0h0m2 0h0m6 0h0m14 0h0m2 0h0m4 0h0m17 0h0m45 0h0m39 0h0m7 0h0m8 0h0m15 0h0m5 0h0m9 0h0m7 0h0m7 0h0m3 0h0m10 0h0m3 0h0m14 0h0m4 0h1m10 0h0m13 0h0m12 0h1m2 0h0m4 0h0m24 0h0m4 0h0m11 0h0m4 0h0m5 0h0m6 0h0m10 0h1m2 0h0m4 0h0m5 0h0m2 0h0m5 0h0m5 0h0m2 0h0m6 0h0m2 0h0m2 0h0m3 0h1m15 0h1m2 0h1m19 0h0m3 0h0m18 0h2m4 0h1m2 0h1m11 0h0m3 0h0m3 0h0m6 0h0m6 0h0m5 0h0m6 0h0m2 0h0m5 0h1m3 0h0m11 0h0m9 0h0m3 0h0m4 0h1m3 0h0m6 0h0m24 0h0m9 0h0m7 0h0m2 0h0m16 0h1m11 0h2m4 0h0m4 0h0m4 0h0m4 0h0m29 0h0m5 0h0m3 0h0m3 0h0m16 0h1m2 0h0m2 0h0m24 0h0m16 0h0m3 0h1m5 0h0m22 0h1m4 0h0m3 0h2m18 0h0m6 0h0m38 0h0m14 0h0m27 0h0m17 0h0m14 0h0M-494 365.08h0m7 0h0m2 0h0m17 0h0m4 0h0m4 0h0m10 0h0m12 0h1m11 0h0m8 0h0m13 0h0m16 0h1m4 0h0m40 0h1m35 0h0m25 0h0m11 0h0m2 0h0m10 0h1m3 0h0m5 0h0m20 0h1m9 0h0m2 0h0m3 0h0m29 0h0m7 0h1m13 0h0m10 0h0m3 0h0m6 0h0m7 0h0m8 0h0m14 0h0m7 0h0m6 0h0m3 0h1m5 0h0m7 0h0m3 0h0m4 0h0m2 0h0m5 0h1m4 0h0m5 0h0m2 0h0m3 0h0m8 0h0m7 0h0m4 0h0m3 0h0m3 0h0m2 0h0m2 0h0m2 0h0m4 0h5m5 0h0m2 0h0m3 0h2m3 0h0m2 0h0m2 0h1m2 0h1m3 0h0m5 0h0m2 0h0m9 0h0m5 0h0m4 0h0m2 0h2m4 0h0m19 0h0m2 0h0m5 0h0m8 0h0m7 0h0m19 0h0m16 0h0m2 0h0m3 0h0m11 0h0m11 0h0m4 0h0m4 0h0m3 0h0m2 0h0m2 0h0m19 0h1m12 0h0m12 0h0m3 0h1m4 0h0m3 0h0m4 0h0m18 0h0m19 0h0m8 0h0m4 0h0m6 0h0m3 0h0m20 0h0m2 0h0m5 0h0m7 0h0m5 0h1m10 0h0m5 0h0m21 0h0m9 0h0m29 0h0m8 0h0m11 0h0m9 0h0m15 0h0m5 0h0m8 0h0m4 0h0m4 0h0m4 0h0m26 0h0m9 0h0m2 0h0M-475 366.85h0m9 0h0m2 0h1m3 0h0m7 0h0m7 0h0m5 0h0m85 0h0m7 0h0m16 0h0m9 0h0m5 0h0m29 0h0m13 0h0m3 0h0m11 0h0m13 0h0m20 0h0m2 0h0m35 0h0m17 0h1m8 0h0m10 0h0m3 0h0m18 0h0m11 0h0m5 0h0m26 0h1m7 0h1m11 0h0m3 0h0m11 0h0m2 0h1m5 0h1m4 0h0m5 0h0m3 0h2m2 0h0m2 0h0m5 0h0m3 0h0m5 0h0m4 0h0m2 0h1m9 0h0m4 0h0m7 0h0m7 0h0m2 0h1m8 0h0m2 0h1m2 0h0m6 0h0m4 0h0m2 0h0m2 0h0m3 0h0m3 0h0m2 0h0m2 0h0m2 0h1m12 0h0m10 0h0m15 0h0m3 0h0m11 0h1m7 0h0m5 0h0m2 0h0m2 0h0m8 0h0m8 0h0m20 0h0m12 0h1m9 0h0m3 0h0m11 0h0m9 0h0m20 0h0m10 0h0m7 0h0m4 0h0m7 0h0m4 0h0m3 0h0m21 0h0m2 0h0m2 0h0m2 0h0m2 0h0m32 0h0m12 0h0m14 0h0m10 0h0m12 0h0m23 0h0m17 0h0m33 0h0m7 0h0m8 0h0m12 0h0m13 0h0m8 0h1M-455 368.61h0m38 0h0m9 0h0m14 0h0m14 0h0m5 0h0m18 0h0m6 0h0m4 0h0m7 0h0m2 0h0m9 0h0m6 0h0m14 0h0m2 0h0m2 0h0m5 0h1m6 0h0m18 0h0m7 0h0m8 0h0m2 0h0m18 0h0m5 0h0m12 0h0m7 0h0m11 0h0m2 0h0m5 0h0m3 0h0m7 0h0m2 0h1m17 0h0m14 0h0m11 0h0m4 0h0m13 0h0m10 0h0m6 0h0m6 0h0m2 0h0m16 0h0m3 0h0m9 0h0m2 0h1m3 0h0m3 0h0m6 0h0m3 0h0m9 0h1m2 0h0m2 0h2m2 0h0m2 0h0m3 0h0m19 0h0m5 0h2m2 0h0m2 0h0m3 0h0m8 0h0m7 0h1m4 0h0m13 0h0m3 0h0m4 0h1m3 0h0m7 0h0m3 0h0m2 0h0m6 0h0m3 0h0m2 0h0m5 0h0m3 0h0m2 0h0m3 0h0m23 0h0m2 0h0m7 0h1m5 0h0m2 0h0m18 0h0m6 0h0m6 0h0m4 0h0m2 0h0m6 0h0m4 0h0m8 0h0m2 0h0m8 0h0m4 0h0m18 0h0m17 0h1m14 0h0m6 0h0m3 0h0m6 0h0m10 0h1m3 0h0m19 0h0m6 0h0m9 0h0m15 0h0m4 0h0m5 0h0m8 0h1m6 0h0m16 0h0m11 0h1m28 0h0m29 0h0m3 0h0m6 0h0m5 0h0m3 0h0m7 0h1m6 0h1m32 0h1M-492 370.37h0m21 0h1m8 0h0m3 0h0m2 0h0m4 0h1m9 0h0m13 0h0m4 0h0m24 0h0m6 0h0m5 0h0m11 0h0m2 0h0m3 0h0m5 0h0m10 0h0m4 0h0m7 0h0m23 0h1m9 0h0m11 0h0m3 0h0m42 0h0m5 0h0m17 0h0m14 0h0m24 0h2m2 0h0m9 0h0m9 0h0m30 0h0m31 0h0m4 0h0m11 0h1m5 0h2m9 0h0m9 0h0m7 0h0m3 0h0m9 0h0m3 0h0m3 0h0m10 0h0m2 0h0m4 0h2m2 0h0m2 0h0m6 0h0m8 0h0m8 0h0m2 0h0m3 0h0m6 0h1m2 0h0m22 0h0m2 0h1m4 0h0m2 0h0m3 0h0m14 0h0m10 0h0m12 0h0m8 0h0m12 0h0m9 0h1m11 0h0m15 0h1m35 0h0m3 0h0m9 0h0m6 0h0m11 0h0m26 0h0m6 0h0m7 0h0m18 0h0m4 0h2m14 0h0m3 0h0m4 0h0m12 0h0m3 0h1m2 0h0m6 0h0m3 0h0m19 0h1m10 0h0m6 0h0m11 0h0m32 0h0m37 0h0m25 0h0M-488 372.13h0m40 0h0m17 0h0m6 0h0m9 0h0m10 0h0m4 0h0m68 0h0m4 0h0m15 0h0m8 0h0m2 0h0m22 0h0m7 0h0m24 0h0m11 0h0m14 0h0m21 0h0m22 0h0m16 0h1m3 0h0m13 0h0m20 0h0m15 0h0m16 0h0m4 0h0m3 0h0m2 0h0m5 0h0m10 0h0m7 0h1m6 0h1m5 0h0m6 0h0m8 0h0m4 0h0m11 0h0m3 0h1m4 0h0m16 0h3m2 0h0m2 0h2m8 0h0m2 0h2m6 0h0m8 0h0m2 0h0m8 0h0m2 0h0m2 0h0m6 0h1m5 0h0m4 0h0m2 0h0m5 0h0m4 0h0m5 0h0m3 0h0m2 0h0m10 0h0m5 0h0m14 0h2m14 0h0m11 0h0m3 0h0m18 0h0m10 0h0m11 0h0m13 0h0m2 0h0m16 0h0m7 0h0m5 0h0m23 0h0m6 0h0m5 0h0m5 0h0m15 0h0m8 0h0m49 0h0m18 0h0m6 0h0m16 0h0m30 0h0m10 0h1m4 0h0m13 0h0m37 0h0m18 0h0M-490 373.89h0m4 0h0m10 0h0m9 0h0m17 0h0m16 0h0m11 0h0m5 0h0m22 0h0m11 0h0m28 0h0m17 0h0m15 0h1m21 0h0m5 0h0m16 0h0m18 0h0m16 0h0m33 0h0m30 0h0m5 0h0m8 0h0m2 0h0m16 0h0m7 0h0m9 0h0m14 0h0m4 0h0m10 0h0m11 0h0m9 0h0m2 0h0m4 0h0m3 0h0m4 0h0m6 0h1m3 0h0m4 0h0m5 0h0m3 0h0m3 0h0m4 0h2m2 0h0m2 0h0m3 0h0m3 0h0m2 0h0m5 0h1m3 0h2m9 0h0m8 0h0m3 0h0m5 0h0m2 0h0m3 0h1m10 0h0m3 0h1m3 0h0m2 0h0m2 0h0m7 0h0m2 0h0m6 0h1m3 0h0m7 0h0m10 0h0m8 0h1m2 0h0m18 0h0m3 0h0m10 0h0m15 0h0m2 0h0m5 0h1m5 0h0m16 0h0m19 0h0m6 0h0m6 0h0m5 0h0m31 0h0m6 0h0m17 0h1m18 0h0m7 0h0m6 0h0m3 0h0m15 0h0m10 0h0m16 0h0m33 0h0m11 0h0m9 0h0m6 0h0m48 0h0m3 0h0m55 0h0m9 0h1m2 0h0M-493 375.65h0m40 0h0m3 0h0m2 0h0m9 0h0m21 0h1m25 0h0m14 0h0m20 0h0m22 0h0m6 0h0m9 0h0m14 0h0m2 0h0m33 0h0m31 0h0m8 0h1m14 0h0m48 0h0m4 0h0m28 0h0m8 0h0m14 0h0m37 0h0m8 0h0m12 0h0m3 0h0m7 0h0m10 0h1m2 0h0m13 0h0m5 0h0m7 0h0m4 0h2m2 0h0m6 0h1m2 0h0m6 0h0m5 0h1m2 0h1m2 0h1m2 0h0m2 0h0m2 0h0m3 0h0m3 0h0m2 0h0m24 0h0m6 0h0m4 0h0m12 0h0m13 0h0m9 0h1m6 0h0m7 0h0m13 0h0m51 0h0m13 0h0m10 0h0m15 0h0m14 0h0m18 0h0m8 0h0m12 0h0m24 0h0m7 0h0m18 0h0m15 0h1m11 0h0m15 0h0m22 0h0m11 0h0m21 0h1m2 0h0m3 0h0m43 0h0M-453 377.41h0m14 0h0m7 0h0m30 0h0m25 0h0m23 0h0m18 0h0m27 0h0m10 0h0m15 0h0m10 0h0m2 0h0m2 0h0m4 0h0m6 0h0m24 0h0m16 0h0m17 0h0m4 0h0m3 0h0m8 0h0m8 0h0m7 0h0m40 0h0m7 0h0m21 0h0m21 0h0m6 0h0m12 0h1m2 0h0m13 0h0m19 0h0m6 0h0m7 0h1m2 0h1m8 0h0m8 0h1m6 0h0m2 0h1m5 0h0m7 0h0m4 0h1m4 0h0m3 0h0m4 0h0m19 0h0m5 0h1m6 0h0m6 0h0m2 0h0m3 0h0m12 0h1m7 0h0m21 0h0m8 0h0m6 0h0m6 0h0m13 0h0m12 0h0m14 0h0m2 0h0m3 0h0m3 0h0m13 0h0m16 0h0m5 0h0m5 0h0m22 0h0m9 0h0m11 0h0m8 0h0m64 0h0m69 0h0m36 0h0m3 0h0m4 0h0m16 0h0m4 0h0m5 0h0M-483 379.17h0m4 0h0m4 0h0m18 0h1m4 0h0m31 0h0m12 0h0m10 0h0m6 0h0m48 0h0m15 0h0m5 0h0m2 0h0m11 0h0m5 0h0m38 0h0m3 0h0m14 0h1m7 0h0m2 0h0m6 0h0m2 0h0m53 0h0m12 0h0m6 0h0m13 0h0m7 0h0m14 0h0m10 0h0m11 0h1m3 0h0m32 0h0m13 0h0m5 0h1m11 0h0m4 0h0m5 0h0m4 0h2m3 0h1m3 0h0m10 0h0m2 0h0m2 0h1m2 0h0m3 0h1m5 0h0m3 0h0m3 0h0m4 0h0m2 0h0m2 0h0m3 0h0m8 0h0m2 0h0m4 0h0m4 0h0m8 0h0m14 0h0m7 0h0m22 0h0m3 0h0m28 0h0m9 0h0m5 0h0m5 0h0m12 0h0m12 0h0m7 0h0m22 0h0m19 0h0m9 0h0m25 0h0m16 0h0m10 0h0m3 0h0m2 0h1m37 0h0m49 0h0m13 0h0m33 0h0m4 0h0m30 0h0m38 0h0m9 0h0M-493 380.93h0m10 0h0m24 0h0m22 0h0m17 0h0m40 0h0m27 0h0m47 0h0m22 0h0m11 0h0m35 0h0m15 0h1m10 0h0m10 0h0m6 0h1m32 0h0m12 0h0m13 0h0m37 0h1m23 0h1m7 0h0m6 0h0m2 0h0m4 0h0m3 0h0m13 0h0m4 0h0m2 0h0m3 0h0m5 0h0m8 0h0m4 0h0m2 0h0m6 0h0m4 0h0m2 0h1m2 0h0m5 0h1m4 0h1m5 0h0m4 0h0m6 0h0m3 0h0m5 0h0m3 0h0m7 0h0m9 0h1m4 0h1m7 0h0m19 0h1m5 0h0m3 0h0m11 0h0m6 0h0m7 0h0m13 0h0m7 0h0m2 0h0m29 0h0m19 0h0m4 0h0m4 0h0m19 0h0m4 0h0m7 0h0m2 0h0m15 0h0m3 0h0m3 0h0m28 0h0m8 0h1m9 0h0m23 0h0m8 0h0m7 0h0m7 0h0m10 0h0m33 0h0m38 0h0m9 0h0m22 0h0m8 0h0m14 0h0M-473 382.69h0m32 0h0m6 0h0m34 0h0m47 0h0m15 0h0m9 0h0m16 0h0m9 0h0m12 0h0m28 0h0m16 0h0m14 0h0m8 0h0m5 0h0m33 0h0m24 0h0m47 0h0m3 0h0m15 0h0m7 0h0m2 0h0m20 0h0m5 0h0m11 0h0m18 0h0m7 0h0m4 0h0m6 0h0m4 0h2m3 0h4m8 0h0m3 0h0m3 0h1m5 0h1m6 0h0m3 0h1m2 0h0m14 0h0m9 0h0m12 0h0m3 0h0m6 0h0m3 0h0m17 0h0m8 0h0m12 0h0m12 0h0m9 0h0m2 0h0m12 0h0m10 0h0m10 0h0m34 0h0m13 0h0m36 0h0m23 0h0m38 0h0m6 0h0m28 0h0m10 0h0m21 0h0m2 0h0m15 0h1m5 0h0m34 0h0m7 0h0m38 0h0m7 0h0M-479 384.45h0m6 0h0m25 0h0m20 0h0m12 0h0m21 0h0m2 0h0m10 0h0m5 0h0m25 0h0m9 0h0m28 0h0m5 0h0m38 0h0m31 0h0m7 0h0m13 0h0m9 0h0m21 0h0m22 0h0m12 0h0m41 0h0m20 0h0m16 0h0m15 0h0m9 0h0m6 0h0m5 0h0m7 0h0m4 0h0m4 0h0m9 0h0m6 0h2m4 0h0m2 0h0m6 0h1m6 0h0m2 0h0m3 0h0m2 0h0m5 0h1m3 0h1m7 0h0m10 0h1m5 0h0m36 0h0m9 0h0m3 0h0m83 0h0m35 0h0m26 0h0m16 0h0m24 0h0m7 0h0m10 0h0m40 0h0m3 0h0m14 0h0m2 0h0m2 0h0m59 0h0m5 0h0m4 0h0m31 0h0M-487 386.21h0m8 0h0m23 0h0m33 0h0m20 0h0m15 0h0m2 0h0m13 0h0m39 0h0m33 0h0m124 0h0m25 0h0m32 0h0m8 0h0m3 0h0m5 0h1m6 0h0m45 0h1m12 0h0m4 0h0m6 0h0m2 0h0m9 0h1m5 0h2m5 0h1m5 0h0m3 0h0m2 0h0m3 0h0m2 0h0m5 0h0m4 0h0m7 0h0m9 0h0m13 0h0m7 0h1m50 0h0m63 0h0m23 0h0m20 0h0m61 0h0m11 0h0m35 0h0m12 0h0m30 0h0m17 0h0m35 0h0m17 0h0m22 0h0m11 0h0M-395 387.97h0m12 0h1m9 0h0m75 0h0m38 0h0m13 0h0m17 0h0m5 0h0m76 0h0m13 0h1m52 0h0m9 0h0m18 0h0m4 0h0m21 0h0m17 0h0m4 0h0m2 0h0m2 0h0m2 0h0m9 0h0m2 0h1m8 0h0m3 0h0m5 0h0m7 0h0m48 0h0m3 0h0m6 0h0m20 0h0m7 0h0m41 0h0m39 0h0m48 0h0m25 0h0m25 0h0m55 0h0m14 0h0m50 0h0m55 0h0M-440 389.73h0m16 0h0m5 0h0m3 0h0m48 0h0m3 0h0m12 0h0m18 0h0m36 0h0m2 0h0m37 0h0m9 0h0m12 0h0m35 0h0m13 0h0m21 0h0m33 0h0m4 0h0m2 0h0m32 0h0m3 0h0m15 0h0m10 0h0m8 0h0m3 0h0m14 0h0m10 0h0m10 0h2m3 0h0m10 0h0m10 0h0m2 0h1m9 0h0m17 0h1m3 0h0m9 0h1m4 0h0m45 0h0m17 0h0m9 0h0m39 0h0m31 0h0m50 0h0m14 0h0m10 0h1m15 0h0m2 0h0m20 0h0m7 0h0m38 0h0m36 0h0m21 0h0m44 0h0M-345 391.49h0m6 0h0m9 0h0m31 0h0m21 0h0m8 0h0m30 0h0m35 0h0m5 0h0m15 0h0m46 0h0m4 0h0m51 0h0m14 0h0m14 0h0m4 0h0m2 0h0m17 0h0m14 0h1m2 0h0m8 0h0m12 0h1m3 0h0m15 0h0m6 0h0m18 0h0m16 0h0m4 0h0m41 0h0m59 0h0m24 0h0m7 0h0m34 0h0m12 0h1m16 0h0m24 0h0m6 0h0m2 0h0m36 0h0m65 0h0m36 0h0m34 0h0m15 0h0M-388 393.26h0m11 0h0m25 0h0m134 0h0m4 0h0m66 0h0m2 0h0m9 0h0m36 0h0m9 0h0m19 0h0m24 0h0m9 0h0m18 0h0m13 0h0m12 0h0m5 0h0m2 0h0m4 0h0m11 0h0m3 0h0m4 0h0m8 0h0m22 0h0m20 0h0m10 0h0m34 0h0m24 0h0m9 0h0m60 0h0m15 0h1m21 0h0m54 0h0m11 0h0m11 0h0m22 0h0m4 0h0m12 0h0m9 0h0m9 0h0m6 0h0M-408 395.02h0m3 0h0m70 0h0m8 0h0m32 0h0m64 0h0m24 0h0m14 0h0m45 0h0m2 0h0m11 0h0m28 0h0m23 0h0m24 0h0m17 0h0m2 0h0m10 0h0m2 0h0m4 0h0m20 0h0m4 0h0m21 0h0m7 0h0m10 0h0m7 0h0m91 0h1m40 0h0m32 0h0m22 0h0m31 0h0m69 0h0m66 0h0m2 0h0m26 0h0m18 0h0m45 0h0m6 0h0M-468 396.78h0m85 0h0m3 0h0m21 0h0m59 0h0m15 0h0m20 0h0m3 0h0m104 0h0m31 0h0m40 0h0m3 0h0m2 0h0m79 0h0m3 0h0m11 0h0m11 0h0m4 0h0m4 0h0m21 0h0m24 0h0m20 0h0m27 0h0m17 0h0m8 0h0m80 0h0m86 0h0m17 0h0m4 0h0m5 0h0m4 0h0m31 0h0m14 0h0m13 0h0m41 0h0m31 0h0M-427 398.54h0m76 0h0m19 0h0m18 0h0m26 0h0m8 0h0m78 0h0m117 0h0m49 0h0m60 0h0m24 0h0m65 0h0m9 0h0m40 0h0m32 0h0m56 0h0m8 0h0m17 0h0m21 0h0m81 0h0m21 0h0m13 0h0M-481 400.3h0m42 0h0m13 0h0m2 0h0m12 0h0m18 0h0m20 0h0m51 0h0m26 0h0m25 0h0m2 0h0m16 0h0m171 0h0m38 0h0m12 0h0m13 0h0m78 0h0m23 0h0m14 0h0m36 0h1m5 0h0m11 0h0m23 0h0m36 0h0m19 0h0m82 0h0m17 0h0m23 0h0m52 0h0m53 0h0m42 0h0M-484 402.06h1m112 0h0m20 0h0m21 0h0m53 0h0m98 0h0m14 0h0m57 0h0m64 0h0m3 0h0m38 0h0m100 0h0m4 0h0m11 0h0m3 0h0m14 0h0m46 0h0m2 0h0m18 0h0m19 0h0m8 0h0m40 0h0m24 0h1m3 0h0m16 0h0m17 0h0m12 0h0m7 0h0m86 0h0m13 0h0m47 0h0M-438 403.82h0m43 0h0m55 0h0m33 0h0m68 0h0m3 0h0m28 0h0m25 0h0m15 0h0m88 0h0m61 0h0m4 0h0m12 0h0m3 0h0m16 0h0m16 0h0m15 0h0m2 0h0m38 0h0m16 0h0m89 0h0m45 0h0m25 0h0m92 0h0m13 0h0m21 0h0m55 0h0m8 0h0m8 0h0m33 0h0M-400 405.58h0m11 0h0m58 0h0m12 0h0m62 0h0m30 0h0m151 0h0m88 0h0m46 0h0m79 0h0m50 0h0m224 0h0m84 0h0M-411 407.34h0m29 0h0m7 0h0m99 0h0m37 0h0m42 0h0m13 0h0m12 0h0m54 0h0m66 0h0m42 0h0m35 0h0m90 0h0m2 0h0m16 0h0m2 0h0m33 0h0m23 0h0m29 0h0m84 0h0m12 0h0m61 0h0m50 0h0M-378 409.1h0m61 0h0m149 0h0m58 0h0m21 0h0m27 0h0m20 0h0m53 0h0m27 0h0m97 0h1m11 0h0m103 0h0m3 0h0M-380 410.86h0m6 0h0m78 0h0m16 0h0m102 0h0m76 0h0m15 0h0m58 0h0m26 0h0m21 0h0m10 0h0m73 0h0m6 0h0m45 0h0m83 0h0m135 0h0m14 0h0m4 0h0M-490 412.62h0m16 0h0m188 0h0m24 0h0m19 0h0m86 0h0m17 0h0m11 0h0m135 0h0m25 0h0m50 0h0m170 0h0m213 0h0m25 0h0M-467 414.38h0m231 0h0m28 0h0m11 0h0m63 0h0m9 0h0m69 0h0m48 0h0m26 0h0m33 0h0m12 0h0m41 0h0m31 0h0m53 0h0m75 0h0m182 0h0m2 0h0m41 0h0M-358 416.14h0m147 0h0m60 0h0m31 0h0m16 0h0m31 0h0m36 0h1m27 0h0m27 0h0m66 0h0m23 0h0m329 0h0M-318 417.91h0m69 0h0m80 0h0m43 0h0m124 0h0m78 0h0m82 0h0m2 0h0m46 0h0m73 0h0m49 0h0m12 0h0M-481 419.67h0m58 0h0m59 0h0m24 0h0m9 0h0m23 0h0m205 0h0m400 0h0m132 0h0M-90 421.43h0m12 0h0m138 0h0m17 0h0m43 0h0m100 0h0m202 0h0M-332 423.19h0m107 0h0m9 0h0m127 0h0M-488 424.95h0m140 0h0m194 0h0m9 0h0m28 0h0m18 0h0m158 0h0m31 0h0m59 0h0m30 0h0M-264 426.71h0m344 0h0M-311 428.47h0m95 0h0m290 0h0M-409 430.23h0m48 0h0m11 0h0m311 0h0m182 0h0m186 0h0m35 0h0m115 0h0M-31 431.99h0m253 0h0m217 0h0m7 0h0M-478 433.75h0m191 0h0m148 0h0m42 0h0m112 0h0M-194 435.51h0m172 0h0m4 0h0M129 437.27h0m64 0h0m13 0h0m106 0h0M-492 439.03h0m263 0h0m179 0h0m88 0h0m332 0h0M82 440.79h0m246 0h0M149 442.55h0M-440 444.32h0m69 0h0m5 0h0m488 0h0m18 0h0m48 0h0M-349 446.08h0M12 447.84h0M-379 449.6h0m349 0h0M-124 454.88h0M40 456.64h0M-479 460.16h0M-8 461.92h0M-89 463.68h0M-487 468.96h0M-482 476.01h0m802 0h0M276 493.61h0M-178 548.2h0M65 560.52h0" stroke-width="1.5" stroke-linecap="square" vector-effect="non-scaling-stroke"/><path d="M-19 67.53h41M-24 72.81h1m2 0h1m2 0h35m2 0h2m6 0h0m6 0h2M-21 78.09h33m2 0h5M-14 79.33h2m3 0h0m5 0h0m4 0h4m2 0h0m2 0h6m2 0h0M-23 83.38h4m2 0h1m2 0h27m2 0h0m6 0h0M-21 86.9h35m10 0h0M-20 90.42h0m5 0h4m3 0h10m2 0h8m2 0h2M-24 92.18h3m2 0h2m2 0h35m4 0h0M-26 97.46h7m2 0h40M-21 99.22h6m2 0h29m3 0h5M-25 100.98h2m2 0h1m2 0h0m5 0h32m2 0h3m2 0h1M-33 102.74h0m4 0h0m9 0h40m2 0h2M-23 104.5h49m3 0h2M-25 106.26h4m2 0h39m2 0h2M-24 108.03h6m2 0h33m2 0h11M-31 109.79h4m2 0h4m2 0h44m5 0h1M-29 111.55h1m4 0h0m2 0h51m5 0h0M-79 113.31h17m2 0h26m2 0h74m2 0h42m3 0h14m3 0h2M-39 115.07h1m14 0h1m2 0h46m2 0h2M-36 116.83h0m2 0h0m4 0h2m4 0h3m2 0h45m3 0h2M-31 118.59h0m6 0h48m5 0h0M-30 120.35h0m2 0h1m4 0h3m2 0h42m2 0h1m2 0h1M-27 122.11h5m2 0h49m2 0h5M-28 123.87h58M-66 125.63h2m32 0h59m2 0h0m4 0h0M-29 127.39h56m2 0h1M-40 129.15h0m11 0h54m2 0h1m4 0h2m2 0h4m5 0h0M-29 130.91h0m2 0h65M-33 132.67h2m2 0h0m2 0h52m2 0h4m3 0h2M-70 134.44h0m36 0h0m2 0h69m6 0h0M-45 136.2h0m10 0h67m5 0h0M-31 137.96h64m7 0h0M-38 139.72h0m2 0h2m2 0h1m2 0h67m2 0h21m2 0h0m2 0h9m2 0h15m2 0h2M-41 141.48h2m3 0h71M-286 143.24h0m252 0h68m5 0h4M-70 145h1m21 0h0m11 0h2m5 0h65m2 0h3M-42 146.76h88m2 0h3m5 0h0M-62 148.52h2m13 0h1m2 0h0m6 0h9m2 0h61m2 0h3m20 0h1M-77 150.28h0m32 0h4m2 0h2m2 0h68m2 0h3m2 0h0m2 0h1m2 0h1m6 0h0M-75 152.04h1m10 0h0m3 0h1m14 0h1m6 0h4m3 0h73m16 0h1m14 0h3M-67 153.8h1m5 0h0m5 0h2m9 0h79m2 0h0m2 0h1m2 0h2m2 0h3m2 0h0M-74 155.56h1m19 0h3m10 0h1m4 0h78m16 0h0m5 0h1m7 0h1M-70 157.32h0m2 0h2m18 0h4m2 0h8m2 0h78m2 0h0m6 0h1m4 0h2m9 0h0M-56 159.09h5m11 0h84m2 0h1m25 0h1M-70 160.85h2m21 0h5m3 0h84m2 0h0m11 0h2M-74 162.61h2m2 0h0m13 0h4m2 0h0m5 0h1m2 0h3m3 0h80m2 0h3m4 0h1m2 0h4m4 0h0m3 0h0M-68 164.37h0m4 0h1m15 0h0m7 0h94m5 0h1M-477 166.13h0m411 0h0m2 0h0m2 0h0m2 0h13m2 0h90m3 0h0m2 0h1m2 0h3m13 0h1m4 0h1M-441 167.89h0m367 0h0m2 0h4m20 0h3m2 0h91m2 0h4m8 0h0m12 0h1m409 0h0M-122 169.65h0m63 0h2m5 0h1m3 0h87m4 0h2m2 0h5m11 0h0m7 0h5M-76 171.41h1m2 0h1m4 0h0m5 0h0m9 0h1m2 0h8m3 0h83m2 0h9m2 0h1m4 0h1m7 0h1m352 0h1M-65 173.17h3m2 0h0m3 0h1m2 0h0m6 0h0m2 0h95m3 0h0m5 0h1m2 0h0m2 0h1m426 0h2M-74 174.93h3m4 0h2m6 0h1m11 0h3m2 0h95m2 0h1m2 0h2m5 0h1m2 0h4m2 0h0m357 0h0m59 0h0m2 0h0M-490 176.69h1m14 0h0m67 0h1m29 0h0m313 0h3m4 0h0m2 0h1m4 0h8m2 0h88m2 0h3m4 0h3m2 0h4m7 0h2m333 0h0m51 0h0M-490 178.45h1m36 0h0m381 0h3m8 0h116m7 0h1m4 0h3m4 0h2m411 0h1M-472 180.21h0m2 0h0m22 0h0m376 0h1m5 0h9m2 0h104m2 0h4m2 0h1m2 0h3m3 0h1m2 0h1M-411 181.97h1m46 0h0m291 0h0m6 0h4m2 0h1m2 0h3m5 0h0m2 0h1m2 0h107m7 0h0m145 0h0m168 0h0m7 0h1m42 0h0m45 0h1M-79 183.73h1m13 0h0m2 0h8m2 0h108m2 0h1m2 0h1m2 0h5m2 0h3m6 0h0m263 0h0m24 0h0m7 0h0m53 0h0m17 0h0m28 0h0m9 0h1m8 0h5M-468 185.5h0m98 0h1m290 0h4m5 0h0m5 0h1m7 0h2m3 0h1m2 0h4m2 0h106m2 0h6m2 0h3m271 0h0m86 0h1m28 0h0M-493 187.26h0m3 0h0m47 0h0m370 0h2m3 0h3m3 0h6m2 0h1m3 0h2m2 0h102m2 0h2m3 0h6m2 0h0m2 0h1m2 0h0m220 0h0M-483 189.02h1m4 0h1m2 0h2m2 0h1m164 0h1m226 0h1m2 0h0m2 0h2m6 0h6m2 0h0m2 0h2m2 0h113m4 0h1m4 0h5m116 0h0m14 0h1m124 0h1m147 0h1m6 0h0m7 0h0M-490 190.78h3m11 0h2m399 0h3m3 0h1m2 0h5m3 0h2m2 0h111m2 0h0m4 0h0m2 0h8m3 0h1m111 0h1m82 0h2m57 0h2m75 0h0m20 0h0m30 0h0M-489 192.54h0m33 0h0m19 0h0m357 0h0m2 0h2m4 0h2m6 0h0m2 0h8m2 0h112m2 0h0m2 0h0m4 0h1m2 0h1m2 0h0m2 0h0m2 0h1m23 0h0m343 0h0m7 0h2m11 0h0m9 0h0M-414 194.3h0m7 0h0m263 0h0m66 0h5m2 0h9m2 0h0m2 0h0m2 0h112m2 0h0m2 0h1m2 0h5m2 0h8m317 0h1m36 0h2m60 0h1M-453 196.06h1m17 0h0m10 0h1m25 0h0m201 0h0m74 0h0m50 0h3m2 0h136m2 0h6m57 0h0m134 0h0m162 0h0m63 0h1M-482 197.82h0m78 0h1m25 0h2m99 0h0m192 0h6m9 0h1m2 0h9m2 0h112m2 0h2m2 0h5m2 0h1m3 0h2m91 0h1m252 0h0m42 0h3M-493 199.58h1m35 0h1m2 0h0m2 0h0m34 0h1m29 0h0m312 0h6m2 0h1m2 0h0m2 0h6m3 0h108m2 0h3m3 0h8m2 0h0m2 0h8m20 0h1m38 0h0m97 0h1m146 0h1m27 0h3m74 0h2M-494 201.34h0m26 0h1m58 0h0m16 0h4m73 0h0m87 0h1m60 0h0m24 0h0m65 0h8m2 0h3m2 0h130m4 0h0m2 0h3m4 0h1m10 0h1m70 0h0m66 0h1M-476 203.1h0m5 0h2m11 0h0m22 0h0m360 0h134m2 0h17m7 0h2m66 0h0m104 0h0m86 0h0m15 0h3m10 0h0m47 0h0m2 0h0m21 0h0M-495 204.86h1m69 0h0m8 0h2m25 0h0m19 0h3m88 0h1m90 0h0m30 0h0m83 0h6m2 0h0m2 0h4m2 0h132m2 0h3m11 0h1m51 0h0m123 0h3m5 0h0m51 0h0m13 0h0m20 0h0m39 0h0m14 0h0m9 0h1m24 0h2m6 0h0m40 0h0M-492 206.62h3m14 0h0m47 0h0m5 0h0m6 0h1m46 0h0m6 0h0m126 0h0m18 0h1m139 0h1m2 0h0m2 0h9m2 0h142m10 0h2m72 0h0m157 0h0m15 0h0m16 0h1m6 0h1m63 0h0m71 0h0M-471 208.38h0m2 0h0m6 0h2m153 0h0m143 0h0m6 0h0m84 0h4m3 0h131m2 0h14m18 0h1m8 0h0m119 0h0m7 0h2m124 0h2m13 0h0m68 0h0m10 0h0m23 0h2m5 0h1m4 0h1m4 0h1M-488 210.14h1m21 0h3m21 0h2m62 0h1m17 0h1m7 0h1m43 0h5m16 0h0m57 0h1m59 0h0m87 0h10m2 0h1m2 0h146m6 0h0m6 0h2m174 0h0m47 0h0m111 0h2m15 0h2M-478 211.91h0m75 0h1m128 0h0m40 0h0m7 0h1m89 0h0m60 0h5m2 0h147m148 0h0m139 0h1m22 0h0m11 0h0m35 0h2m40 0h0m4 0h1M-490 213.67h2m20 0h4m16 0h1m77 0h0m77 0h2m54 0h0m153 0h8m2 0h152m2 0h0m2 0h0m15 0h1m168 0h0m4 0h1m26 0h0m17 0h2m46 0h1m20 0h3m19 0h1m38 0h1m26 0h1m15 0h0M-495 215.43h1m4 0h0m20 0h6m63 0h0m103 0h0m3 0h2m148 0h0m36 0h2m19 0h0m11 0h2m2 0h149m5 0h0m163 0h0m54 0h0m18 0h1m18 0h2m4 0h2m84 0h0m24 0h0m4 0h0m16 0h0m16 0h1M-490 217.19h5m8 0h1m10 0h3m26 0h3m14 0h1m43 0h0m15 0h1m45 0h0m6 0h0m10 0h0m58 0h1m11 0h1m8 0h1m37 0h0m32 0h1m55 0h1m12 0h1m2 0h153m2 0h5m3 0h2m18 0h1m56 0h1m10 0h0m6 0h1m38 0h3m48 0h1m7 0h1m2 0h1m136 0h1m32 0h2m34 0h2M-459 218.95h0m19 0h1m31 0h2m46 0h1m52 0h0m13 0h0m4 0h2m38 0h0m7 0h0m2 0h0m111 0h2m52 0h152m2 0h0m12 0h1m165 0h3m91 0h0m29 0h0m35 0h3m2 0h1m12 0h2m8 0h1m10 0h1m21 0h2M-495 220.71h1m3 0h6m42 0h5m51 0h1m5 0h3m2 0h1m9 0h0m47 0h2m83 0h2m4 0h0m78 0h2m42 0h2m15 0h2m4 0h0m5 0h161m40 0h2m11 0h1m91 0h0m17 0h0m31 0h3m5 0h0m2 0h1m4 0h3m30 0h1m34 0h0m11 0h0m13 0h1m10 0h2m11 0h1m23 0h0m40 0h0M-493 222.47h2m4 0h0m31 0h1m23 0h0m12 0h1m19 0h2m27 0h2m18 0h0m13 0h0m15 0h3m11 0h3m6 0h0m37 0h1m11 0h2m7 0h2m153 0h0m4 0h0m2 0h9m2 0h150m11 0h0m33 0h0m13 0h1m2 0h1m52 0h0m48 0h1m84 0h0m27 0h0m25 0h2m6 0h0m57 0h2m17 0h0m9 0h1m16 0h2M-454 224.23h2m2 0h0m4 0h0m4 0h1m16 0h0m2 0h0m44 0h1m29 0h1m33 0h1m33 0h0m42 0h2m24 0h1m24 0h2m5 0h0m41 0h1m9 0h2m30 0h0m2 0h0m11 0h10m2 0h156m2 0h0m11 0h1m11 0h0m3 0h0m36 0h1m17 0h1m45 0h0m17 0h1m46 0h2m20 0h0m8 0h0m42 0h1m11 0h0m17 0h3m4 0h1m8 0h3m18 0h3m48 0h2m2 0h0m22 0h0m2 0h0M-491 225.99h0m7 0h1m2 0h1m31 0h1m23 0h0m2 0h0m21 0h3m11 0h0m24 0h2m39 0h0m84 0h1m6 0h0m19 0h1m61 0h2m10 0h1m19 0h1m26 0h0m10 0h4m2 0h157m6 0h0m2 0h0m17 0h2m11 0h1m11 0h2m49 0h2m15 0h0m66 0h1m31 0h1m24 0h0m17 0h1m2 0h0m17 0h0m2 0h0m28 0h1m67 0h3m12 0h1m19 0h1M-446 227.75h1m17 0h0m35 0h2m53 0h2m7 0h0m2 0h3m21 0h1m185 0h0m8 0h1m14 0h0m14 0h160m2 0h3m2 0h4m3 0h2m2 0h3m2 0h0m130 0h3m18 0h3m27 0h0m21 0h0m2 0h0m12 0h2m38 0h2m12 0h0m24 0h0m7 0h0m28 0h2m27 0h2M-392 229.51h0m52 0h1m18 0h2m5 0h2m7 0h1m4 0h3m17 0h0m88 0h1m3 0h1m41 0h2m15 0h2m5 0h0m35 0h1m3 0h0m2 0h4m2 0h148m2 0h3m6 0h0m2 0h0m4 0h5m12 0h1m7 0h2m23 0h0m12 0h0m49 0h1m18 0h0m37 0h2m25 0h2m58 0h5m67 0h1m2 0h2m48 0h0m20 0h0M-495 231.27h2m2 0h1m2 0h0m17 0h0m20 0h0m27 0h1m4 0h1m64 0h2m11 0h1m97 0h2m4 0h0m22 0h3m20 0h0m48 0h1m29 0h1m25 0h6m2 0h0m3 0h153m2 0h7m3 0h2m4 0h0m2 0h3m2 0h2m101 0h2m16 0h1m30 0h1m5 0h0m2 0h2m10 0h3m43 0h0m36 0h0m28 0h0m12 0h1m17 0h1m23 0h1m2 0h1m9 0h2m9 0h1m18 0h1m10 0h2M-479 233.03h0m7 0h1m4 0h2m4 0h1m15 0h4m89 0h3m24 0h1m2 0h0m12 0h2m9 0h2m21 0h0m54 0h3m6 0h2m6 0h1m11 0h1m11 0h1m19 0h1m36 0h1m19 0h0m4 0h0m14 0h3m3 0h161m6 0h1m14 0h1m8 0h3m4 0h0m25 0h1m31 0h0m40 0h0m105 0h1m49 0h1m11 0h0m2 0h5m6 0h0m2 0h0m7 0h0m23 0h1m2 0h0m15 0h1m34 0h0m7 0h4M-489 234.79h0m6 0h0m12 0h1m23 0h2m18 0h0m2 0h2m24 0h3m16 0h0m26 0h2m12 0h0m39 0h1m30 0h3m26 0h0m71 0h1m7 0h2m13 0h0m7 0h1m10 0h0m8 0h2m37 0h1m2 0h161m16 0h1m2 0h0m12 0h0m73 0h2m17 0h2m24 0h2m5 0h0m8 0h0m24 0h0m13 0h1m5 0h1m3 0h0m5 0h2m8 0h2m32 0h0m31 0h3m15 0h1m2 0h5m91 0h1m4 0h0M-491 236.56h1m9 0h2m19 0h3m54 0h1m2 0h2m2 0h4m9 0h1m106 0h0m8 0h2m61 0h0m3 0h2m9 0h1m60 0h1m8 0h0m25 0h0m18 0h4m2 0h150m14 0h3m5 0h2m6 0h1m22 0h1m25 0h3m19 0h0m30 0h0m15 0h3m2 0h3m25 0h0m13 0h3m9 0h1m24 0h1m2 0h0m14 0h1m2 0h0m66 0h1m9 0h0m34 0h4m8 0h2m5 0h0m32 0h2m2 0h2M-489 238.32h1m21 0h2m2 0h5m19 0h0m78 0h0m2 0h0m114 0h2m64 0h1m5 0h0m2 0h1m2 0h1m4 0h2m21 0h0m10 0h2m12 0h3m4 0h0m5 0h0m6 0h0m2 0h2m9 0h161m2 0h2m2 0h2m4 0h1m4 0h2m27 0h0m8 0h1m30 0h2m2 0h3m22 0h1m29 0h1m8 0h1m17 0h1m14 0h0m7 0h2m17 0h1m62 0h1m24 0h0m5 0h2m28 0h1m71 0h3M-492 240.08h0m2 0h0m14 0h0m22 0h0m23 0h0m2 0h1m3 0h0m76 0h2m75 0h2m6 0h1m27 0h2m2 0h4m12 0h1m10 0h0m13 0h3m2 0h0m10 0h0m2 0h0m10 0h2m24 0h0m2 0h0m14 0h3m7 0h1m14 0h1m3 0h4m6 0h168m5 0h1m33 0h2m6 0h2m12 0h0m21 0h0m2 0h0m94 0h1m12 0h2m11 0h3m4 0h0m14 0h0m23 0h1m2 0h5m2 0h1m10 0h0m6 0h1m39 0h1m36 0h3m39 0h1M-467 241.84h0m2 0h0m93 0h0m2 0h0m15 0h2m58 0h0m6 0h0m7 0h2m105 0h2m10 0h0m2 0h2m14 0h0m14 0h4m24 0h0m21 0h153m2 0h8m2 0h2m2 0h0m4 0h2m6 0h0m22 0h2m17 0h0m30 0h0m21 0h2m30 0h1m57 0h2m10 0h0m32 0h1m17 0h0m9 0h0m44 0h2m7 0h2m2 0h1m40 0h2m40 0h0m2 0h0M-493 243.6h1m2 0h5m30 0h0m60 0h0m5 0h0m8 0h3m48 0h2m20 0h1m12 0h0m14 0h1m18 0h1m2 0h3m47 0h0m4 0h0m21 0h0m11 0h6m19 0h2m5 0h0m22 0h0m16 0h4m7 0h4m9 0h162m2 0h0m3 0h1m4 0h0m2 0h0m8 0h1m8 0h3m21 0h1m37 0h2m42 0h3m25 0h0m21 0h1m3 0h2m28 0h0m5 0h0m15 0h1m10 0h0m31 0h0m2 0h0m9 0h0m6 0h1m61 0h1m2 0h0m21 0h1m4 0h2M-487 245.36h0m35 0h2m7 0h0m15 0h0m34 0h0m5 0h1m29 0h1m3 0h4m134 0h1m60 0h1m57 0h0m2 0h1m2 0h0m6 0h2m2 0h0m4 0h0m2 0h6m2 0h154m5 0h4m6 0h1m30 0h3m10 0h3m56 0h1m45 0h1m4 0h3m33 0h3m6 0h0m35 0h1m55 0h0m47 0h5m51 0h0M-495 247.12h2m5 0h0m65 0h0m15 0h1m28 0h0m35 0h0m8 0h1m46 0h3m15 0h1m36 0h1m13 0h2m52 0h1m21 0h0m11 0h0m32 0h5m2 0h1m2 0h2m8 0h7m2 0h160m2 0h1m16 0h1m2 0h2m16 0h1m40 0h0m7 0h3m12 0h0m105 0h0m2 0h0m5 0h0m9 0h3m106 0h0m10 0h3m17 0h3m2 0h0m33 0h1m2 0h2M-487 248.88h0m6 0h1m65 0h1m23 0h0m88 0h2m26 0h0m54 0h0m2 0h5m10 0h2m26 0h0m15 0h3m2 0h3m5 0h2m4 0h1m40 0h4m4 0h0m2 0h0m3 0h1m2 0h10m2 0h156m3 0h1m2 0h2m18 0h0m4 0h2m16 0h0m40 0h0m13 0h0m85 0h3m3 0h0m9 0h2m13 0h2m74 0h0m56 0h0m46 0h1m11 0h1m2 0h1M-494 250.64h0m17 0h0m28 0h0m37 0h2m22 0h1m70 0h0m6 0h2m13 0h1m20 0h0m43 0h0m2 0h3m2 0h2m14 0h1m17 0h1m8 0h1m29 0h1m33 0h3m25 0h5m5 0h5m2 0h158m7 0h4m22 0h4m27 0h1m7 0h0m27 0h8m37 0h2m5 0h0m25 0h0m27 0h2m4 0h2m2 0h2m25 0h0m10 0h2m25 0h0m72 0h1m12 0h0m14 0h0m6 0h0m20 0h2m3 0h2M-445 252.4h2m12 0h0m45 0h0m13 0h6m4 0h0m10 0h2m34 0h0m14 0h0m28 0h3m31 0h1m2 0h3m23 0h0m13 0h0m30 0h2m40 0h0m9 0h1m20 0h1m5 0h2m2 0h1m2 0h164m2 0h1m2 0h3m24 0h1m5 0h2m53 0h1m23 0h1m14 0h2m45 0h2m23 0h1m3 0h1m10 0h1m20 0h0m34 0h1m16 0h0m6 0h2m19 0h2m5 0h3m4 0h0m2 0h0m49 0h1m17 0h1m9 0h1M-477 254.16h2m28 0h1m87 0h1m10 0h0m10 0h2m63 0h2m8 0h1m19 0h7m39 0h0m13 0h0m57 0h1m21 0h0m6 0h3m9 0h2m2 0h0m2 0h159m2 0h5m22 0h2m10 0h0m28 0h1m23 0h1m13 0h0m27 0h1m5 0h1m35 0h1m21 0h1m51 0h0m5 0h2m3 0h2m18 0h1m2 0h0m26 0h1m40 0h1m28 0h3M-487 255.92h0m16 0h3m7 0h0m24 0h1m2 0h1m48 0h1m36 0h2m8 0h1m22 0h2m33 0h2m9 0h0m2 0h0m31 0h2m62 0h0m23 0h2m47 0h0m7 0h3m2 0h11m3 0h149m2 0h5m2 0h3m10 0h2m22 0h0m21 0h0m60 0h0m7 0h1m24 0h3m45 0h1m25 0h0m15 0h0m2 0h1m16 0h1m14 0h1m7 0h2m8 0h2m14 0h1m6 0h1m36 0h2m8 0h3m11 0h1m7 0h2m2 0h0m21 0h2M-491 257.68h1m47 0h0m7 0h1m32 0h4m20 0h0m30 0h2m13 0h0m2 0h0m2 0h1m27 0h2m97 0h0m2 0h1m6 0h3m6 0h4m8 0h2m6 0h2m53 0h0m2 0h1m10 0h2m2 0h3m3 0h2m3 0h4m2 0h154m2 0h10m2 0h6m51 0h1m32 0h4m9 0h1m8 0h4m22 0h2m26 0h0m55 0h1m2 0h0m6 0h1m19 0h1m8 0h2m49 0h0m5 0h2m25 0h1m2 0h1m49 0h2m2 0h4M-494 259.44h1m27 0h0m17 0h2m35 0h0m2 0h1m13 0h6m20 0h2m20 0h0m21 0h0m26 0h6m23 0h0m17 0h1m42 0h1m4 0h2m56 0h0m15 0h0m15 0h1m3 0h1m8 0h1m10 0h1m4 0h2m2 0h166m3 0h7m9 0h1m17 0h0m13 0h2m14 0h1m18 0h3m2 0h0m2 0h0m55 0h2m63 0h1m59 0h0m12 0h3m15 0h2m27 0h3m70 0h1M-491 261.2h0m2 0h1m2 0h0m43 0h0m26 0h0m17 0h0m32 0h0m21 0h0m47 0h0m9 0h5m4 0h1m5 0h2m3 0h2m25 0h1m35 0h0m5 0h1m51 0h1m4 0h1m13 0h1m30 0h3m8 0h0m4 0h5m2 0h154m2 0h6m5 0h2m2 0h2m7 0h2m7 0h0m40 0h0m46 0h1m10 0h1m34 0h0m2 0h2m46 0h1m6 0h0m31 0h3m74 0h0m2 0h1m15 0h1m28 0h2m2 0h2m27 0h0M-480 262.97h1m19 0h1m8 0h0m9 0h1m40 0h0m18 0h0m2 0h0m5 0h0m2 0h2m36 0h0m22 0h2m4 0h1m8 0h1m21 0h0m5 0h0m9 0h2m58 0h1m39 0h4m9 0h2m23 0h0m8 0h0m7 0h3m11 0h0m5 0h0m9 0h2m2 0h0m2 0h160m6 0h0m2 0h0m2 0h0m9 0h3m22 0h2m18 0h3m3 0h3m29 0h1m19 0h3m9 0h0m18 0h0m11 0h0m14 0h1m9 0h4m7 0h0m29 0h2m100 0h0m22 0h0m2 0h0m24 0h4m2 0h4M-487 264.73h0m12 0h1m44 0h1m23 0h0m9 0h0m6 0h0m18 0h1m5 0h0m2 0h1m28 0h3m2 0h2m5 0h1m12 0h0m46 0h1m5 0h0m4 0h0m20 0h0m24 0h0m24 0h1m11 0h1m46 0h3m4 0h1m20 0h1m16 0h4m2 0h151m2 0h11m5 0h3m4 0h6m9 0h0m4 0h0m14 0h1m17 0h3m2 0h5m56 0h0m2 0h0m2 0h0m61 0h1m17 0h2m5 0h3m6 0h2m15 0h3m22 0h2m2 0h0m5 0h3m3 0h0m34 0h1m50 0h2m22 0h0m10 0h1M-455 266.49h0m4 0h2m48 0h4m4 0h3m7 0h2m15 0h0m109 0h2m3 0h3m4 0h3m4 0h0m35 0h2m40 0h1m8 0h3m12 0h0m7 0h2m16 0h0m2 0h1m13 0h1m8 0h1m4 0h3m2 0h167m5 0h2m11 0h2m27 0h3m2 0h2m46 0h0m37 0h2m24 0h1m23 0h1m25 0h1m5 0h1m19 0h0m2 0h0m28 0h0m8 0h1m78 0h0m7 0h0m38 0h1M-494 268.25h2m5 0h1m13 0h3m16 0h0m51 0h0m7 0h0m17 0h2m8 0h1m12 0h2m11 0h2m4 0h0m38 0h1m2 0h0m119 0h1m26 0h2m46 0h1m9 0h1m8 0h0m2 0h164m2 0h1m2 0h0m28 0h1m4 0h0m14 0h0m2 0h0m21 0h2m6 0h0m5 0h2m14 0h1m56 0h0m12 0h2m14 0h2m2 0h0m17 0h2m2 0h1m25 0h0m27 0h0m2 0h0m2 0h0m6 0h2m63 0h0m14 0h2m37 0h0m10 0h0m5 0h2M-489 270.01h4m48 0h2m12 0h1m2 0h0m20 0h4m66 0h0m157 0h0m45 0h5m3 0h2m2 0h1m7 0h1m16 0h173m2 0h2m6 0h7m10 0h0m5 0h0m3 0h4m5 0h0m7 0h3m8 0h1m28 0h1m39 0h2m54 0h0m15 0h0m4 0h0m2 0h6m12 0h1m33 0h1m12 0h0m12 0h0m19 0h1m21 0h0m9 0h0m75 0h0M-486 271.77h0m12 0h1m21 0h1m6 0h2m26 0h0m58 0h0m15 0h1m26 0h0m12 0h1m23 0h1m44 0h0m53 0h0m33 0h0m34 0h1m4 0h3m13 0h0m4 0h3m4 0h0m2 0h3m2 0h6m2 0h152m2 0h4m11 0h1m7 0h0m2 0h1m26 0h1m9 0h0m48 0h1m13 0h0m4 0h0m2 0h0m30 0h0m7 0h1m16 0h0m10 0h0m28 0h0m28 0h3m7 0h0m89 0h0m54 0h2M-492 273.53h4m55 0h2m34 0h3m30 0h0m22 0h1m12 0h2m3 0h0m38 0h1m51 0h0m2 0h1m2 0h0m12 0h1m56 0h1m10 0h0m48 0h2m6 0h0m4 0h0m2 0h3m2 0h166m3 0h3m6 0h1m29 0h2m41 0h0m8 0h0m18 0h3m32 0h0m8 0h2m28 0h1m47 0h4m15 0h2m28 0h2m8 0h1m10 0h2m8 0h0m8 0h1m22 0h2m8 0h0m21 0h2M-437 275.29h3m26 0h1m47 0h1m11 0h2m8 0h0m26 0h2m49 0h0m15 0h2m26 0h1m18 0h0m38 0h0m51 0h0m9 0h3m8 0h3m2 0h0m3 0h1m2 0h165m6 0h0m8 0h1m77 0h1m18 0h0m33 0h2m11 0h0m27 0h0m2 0h0m2 0h0m65 0h0m26 0h0m5 0h2m2 0h2m16 0h1m4 0h0m9 0h5m83 0h0M-487 277.05h0m10 0h0m62 0h0m9 0h1m3 0h2m5 0h1m10 0h0m23 0h1m71 0h0m37 0h1m3 0h4m23 0h1m51 0h0m2 0h0m31 0h0m38 0h2m3 0h3m2 0h0m4 0h168m4 0h2m2 0h2m4 0h1m5 0h0m15 0h1m69 0h2m30 0h3m4 0h0m36 0h0m2 0h0m12 0h0m21 0h1m30 0h0m23 0h1m2 0h1m89 0h1m16 0h0m28 0h0M-485 278.81h1m35 0h0m23 0h0m2 0h2m13 0h1m15 0h2m2 0h3m15 0h0m14 0h0m23 0h2m30 0h1m32 0h2m74 0h3m21 0h0m19 0h1m36 0h0m18 0h3m2 0h2m3 0h1m2 0h166m21 0h0m7 0h0m10 0h2m19 0h0m26 0h0m6 0h2m18 0h0m2 0h0m21 0h2m4 0h2m22 0h4m21 0h1m17 0h0m41 0h1m4 0h2m101 0h2m8 0h0m18 0h0m10 0h1M-387 280.57h2m6 0h1m27 0h0m16 0h0m4 0h0m3 0h0m2 0h0m14 0h3m14 0h0m11 0h0m11 0h1m15 0h2m22 0h0m4 0h1m29 0h1m54 0h1m19 0h1m12 0h4m19 0h0m2 0h165m2 0h1m2 0h1m2 0h8m38 0h0m2 0h0m7 0h1m26 0h3m2 0h1m4 0h3m3 0h2m14 0h0m4 0h1m39 0h1m10 0h2m13 0h0m24 0h0m63 0h2m2 0h0m6 0h1m31 0h7m49 0h0m24 0h1M-495 282.33h0m21 0h7m5 0h0m96 0h0m2 0h1m58 0h4m25 0h2m2 0h1m38 0h0m7 0h1m12 0h2m7 0h1m63 0h0m7 0h2m14 0h1m7 0h0m7 0h0m4 0h0m12 0h2m2 0h163m6 0h2m3 0h7m14 0h2m7 0h1m18 0h0m33 0h0m61 0h0m2 0h2m19 0h1m27 0h1m31 0h0m42 0h1m91 0h2m6 0h1m20 0h3m6 0h0m2 0h0M-484 284.09h0m50 0h1m5 0h0m17 0h1m23 0h1m36 0h0m23 0h0m52 0h0m17 0h0m24 0h1m25 0h1m25 0h2m27 0h0m6 0h1m3 0h1m9 0h0m26 0h0m15 0h0m6 0h168m9 0h1m24 0h1m33 0h0m33 0h0m11 0h1m18 0h4m89 0h0m32 0h0m32 0h0m12 0h0m9 0h2m75 0h0M-494 285.85h0m37 0h1m33 0h2m10 0h1m11 0h0m56 0h0m9 0h3m5 0h0m42 0h3m8 0h0m7 0h2m32 0h0m18 0h2m8 0h0m41 0h0m20 0h0m35 0h1m9 0h0m8 0h1m6 0h2m2 0h163m2 0h0m2 0h0m4 0h0m5 0h0m63 0h1m16 0h1m31 0h2m48 0h2m67 0h1m27 0h3m57 0h2m30 0h0m32 0h1m3 0h0m7 0h0M-448 287.61h1m36 0h0m49 0h0m9 0h0m28 0h0m13 0h0m2 0h0m6 0h2m8 0h0m50 0h0m25 0h0m9 0h0m2 0h1m5 0h0m27 0h0m2 0h0m15 0h1m2 0h0m8 0h2m23 0h1m28 0h1m2 0h4m7 0h162m7 0h4m5 0h0m9 0h0m23 0h0m12 0h0m7 0h1m19 0h0m45 0h2m59 0h2m7 0h0m27 0h7m33 0h0m61 0h0m5 0h1M-490 289.38h3m87 0h1m12 0h1m6 0h1m2 0h0m10 0h2m2 0h2m17 0h2m5 0h0m2 0h0m16 0h2m23 0h2m2 0h1m60 0h0m2 0h0m26 0h1m4 0h0m43 0h0m6 0h7m9 0h0m22 0h2m17 0h3m2 0h1m2 0h167m2 0h0m5 0h0m17 0h0m47 0h1m58 0h0m5 0h1m2 0h0m18 0h0m64 0h0m74 0h1m27 0h3m8 0h1m4 0h2m17 0h0m28 0h1m2 0h0M-491 291.14h0m24 0h2m4 0h2m49 0h0m21 0h0m7 0h2m18 0h0m6 0h1m57 0h0m4 0h2m7 0h1m37 0h3m7 0h2m9 0h0m10 0h1m11 0h1m6 0h0m17 0h3m9 0h3m14 0h0m6 0h1m10 0h0m20 0h2m12 0h2m2 0h0m11 0h11m2 0h147m2 0h5m2 0h3m2 0h0m2 0h2m14 0h0m20 0h0m7 0h1m3 0h0m13 0h2m24 0h0m60 0h0m19 0h0m46 0h0m2 0h0m12 0h1m12 0h0m45 0h0m7 0h0m66 0h0m4 0h0m2 0h0m8 0h2M-433 292.9h0m34 0h2m11 0h0m60 0h0m70 0h0m2 0h0m28 0h2m71 0h2m8 0h0m17 0h3m8 0h2m19 0h1m5 0h1m2 0h7m2 0h155m4 0h1m3 0h0m23 0h0m6 0h4m16 0h0m27 0h2m9 0h1m47 0h3m2 0h0m7 0h1m70 0h0m5 0h0m33 0h0m6 0h2m2 0h1m27 0h0m2 0h0m15 0h3m19 0h3m35 0h0M-495 294.66h2m15 0h1m16 0h1m2 0h0m38 0h2m5 0h1m2 0h0m44 0h2m21 0h0m9 0h1m39 0h0m17 0h0m17 0h1m39 0h1m2 0h1m15 0h3m17 0h1m12 0h0m10 0h0m46 0h0m2 0h0m3 0h1m10 0h2m5 0h3m3 0h5m2 0h5m2 0h149m2 0h1m2 0h4m22 0h3m2 0h0m34 0h2m2 0h1m10 0h2m11 0h1m18 0h1m12 0h0m2 0h0m4 0h0m6 0h2m6 0h2m17 0h1m49 0h0m68 0h0m10 0h3m8 0h0m44 0h1m37 0h1m20 0h1M-479 296.42h1m29 0h0m16 0h0m62 0h0m11 0h0m176 0h8m86 0h1m2 0h1m5 0h8m2 0h145m2 0h1m2 0h5m6 0h3m2 0h2m2 0h0m9 0h1m5 0h0m18 0h0m12 0h2m49 0h0m4 0h1m17 0h2m10 0h1m10 0h0m28 0h3m21 0h0m47 0h3m8 0h1m12 0h1m9 0h2m22 0h2m35 0h0m45 0h1M-494 298.18h1m7 0h0m46 0h0m2 0h3m97 0h2m12 0h0m32 0h0m33 0h0m10 0h0m26 0h1m15 0h1m42 0h0m2 0h1m40 0h0m5 0h0m4 0h2m4 0h0m5 0h2m8 0h0m2 0h165m3 0h1m2 0h8m12 0h0m3 0h1m9 0h1m26 0h0m50 0h2m18 0h0m2 0h3m10 0h0m39 0h2m125 0h2m6 0h0m23 0h0M-494 299.94h1m70 0h0m2 0h1m8 0h1m27 0h1m43 0h0m2 0h0m104 0h0m2 0h1m7 0h1m46 0h1m4 0h1m33 0h0m22 0h3m32 0h7m2 0h2m2 0h149m11 0h5m45 0h4m13 0h4m26 0h0m17 0h2m2 0h1m19 0h0m15 0h0m2 0h0m6 0h1m18 0h0m22 0h0m75 0h0m54 0h0m12 0h2m11 0h0m30 0h1m14 0h0M-419 301.7h0m44 0h2m2 0h0m60 0h0m29 0h0m26 0h0m15 0h0m55 0h1m34 0h3m14 0h1m19 0h0m4 0h2m6 0h0m2 0h2m15 0h0m4 0h4m2 0h147m7 0h1m5 0h0m10 0h0m2 0h0m5 0h0m2 0h2m57 0h2m9 0h1m47 0h2m67 0h2m2 0h2m54 0h2m39 0h2m46 0h2m6 0h0m8 0h1m31 0h1M-490 303.46h1m145 0h2m7 0h0m58 0h3m2 0h0m113 0h1m4 0h1m12 0h1m7 0h0m11 0h0m35 0h10m2 0h157m2 0h2m27 0h0m83 0h2m24 0h0m21 0h2m66 0h2m41 0h0m5 0h0m10 0h1m39 0h1m23 0h3m16 0h1m6 0h0m30 0h2M-474 305.22h0m26 0h2m18 0h2m9 0h1m9 0h0m52 0h0m2 0h0m10 0h0m10 0h0m6 0h1m153 0h1m47 0h0m7 0h2m4 0h1m17 0h0m5 0h3m4 0h3m2 0h5m2 0h137m2 0h8m2 0h5m23 0h1m10 0h1m16 0h2m2 0h0m5 0h0m2 0h0m101 0h1m2 0h1m67 0h4m78 0h0m26 0h2M-493 306.98h2m40 0h0m44 0h1m70 0h0m63 0h1m41 0h0m2 0h2m36 0h5m3 0h0m14 0h2m41 0h1m22 0h1m14 0h6m3 0h6m4 0h138m2 0h9m4 0h1m6 0h0m4 0h1m21 0h0m24 0h0m87 0h2m21 0h2m25 0h3m40 0h0m53 0h1m11 0h0m108 0h0M-492 308.74h1m128 0h1m59 0h2m86 0h1m77 0h0m37 0h0m2 0h0m13 0h1m7 0h146m2 0h3m3 0h4m4 0h0m4 0h0m42 0h1m17 0h0m48 0h1m6 0h2m138 0h3m24 0h2m4 0h0m36 0h1m39 0h2M-427 310.5h1m49 0h0m53 0h1m24 0h0m29 0h2m30 0h1m4 0h1m9 0h0m7 0h0m2 0h2m34 0h1m2 0h0m59 0h2m33 0h2m2 0h10m2 0h134m2 0h6m13 0h3m2 0h3m88 0h0m39 0h1m13 0h1m2 0h0m11 0h0m16 0h5m80 0h2m7 0h0m88 0h0M-471 312.26h2m46 0h1m31 0h2m3 0h2m4 0h2m83 0h0m78 0h1m36 0h1m18 0h0m12 0h1m5 0h1m48 0h2m7 0h5m7 0h2m2 0h6m2 0h128m3 0h5m2 0h1m2 0h2m9 0h0m77 0h3m4 0h2m62 0h0m47 0h0m12 0h0m25 0h1m82 0h0M-471 314.02h0m79 0h1m5 0h0m31 0h2m148 0h0m15 0h1m25 0h2m46 0h2m37 0h7m8 0h1m2 0h0m3 0h120m3 0h14m32 0h1m20 0h0m18 0h1m53 0h0m21 0h1m15 0h0m103 0h0m30 0h1m2 0h3m79 0h0M-484 315.79h0m34 0h0m108 0h1m74 0h1m65 0h1m40 0h2m60 0h2m17 0h0m5 0h5m2 0h3m2 0h114m2 0h1m2 0h4m2 0h3m2 0h0m11 0h6m16 0h1m9 0h0m184 0h0m18 0h0m62 0h2m45 0h0m18 0h0m52 0h2M-487 317.55h1m126 0h0m36 0h2m60 0h2m83 0h0m29 0h2m29 0h0m5 0h3m35 0h1m7 0h6m2 0h129m3 0h2m9 0h3m35 0h0m11 0h1m27 0h0m72 0h0m44 0h2m2 0h3m58 0h0M-468 319.31h2m56 0h0m45 0h2m42 0h0m36 0h0m135 0h1m3 0h1m37 0h0m33 0h0m2 0h0m7 0h127m2 0h5m2 0h1m2 0h2m5 0h2m2 0h0m4 0h2m30 0h1m212 0h1M-295 321.07h0m38 0h0m143 0h1m23 0h0m11 0h3m2 0h1m9 0h45m2 0h77m3 0h2m4 0h1m2 0h2m2 0h0m6 0h2m19 0h3m153 0h0m61 0h3m93 0h1M-465 322.83h0m2 0h0m41 0h1m141 0h0m36 0h0m46 0h0m118 0h3m2 0h2m8 0h1m2 0h123m2 0h0m2 0h3m5 0h4m5 0h4m15 0h0m4 0h1m11 0h2m22 0h0m29 0h1m153 0h1M-491 324.59h0m119 0h1m211 0h0m88 0h0m13 0h7m2 0h108m2 0h2m2 0h9m3 0h0m9 0h0m8 0h0m2 0h0m20 0h1m128 0h0M-435 326.35h1m139 0h1m168 0h0m9 0h0m35 0h2m22 0h123m2 0h1m4 0h0m13 0h0m24 0h4m138 0h1m181 0h0m5 0h0M-390 328.11h0m111 0h3m193 0h2m9 0h2m9 0h2m3 0h4m2 0h1m2 0h16m2 0h84m5 0h2m3 0h3m9 0h2m4 0h1m68 0h0m118 0h0m64 0h0m126 0h1M-475 329.87h1m191 0h0m57 0h0m143 0h1m18 0h10m2 0h73m2 0h0m2 0h30m2 0h2m2 0h4m2 0h0m25 0h0m359 0h0M-297 331.63h1m83 0h0m81 0h0m59 0h1m23 0h95m2 0h1m2 0h0m2 0h6m69 0h1M-262 333.39h0m170 0h0m19 0h1m9 0h1m7 0h7m3 0h96m4 0h2m2 0h3m89 0h0m149 0h0M-233 335.15h0m21 0h0m6 0h0m116 0h0m17 0h2m3 0h0m5 0h2m13 0h3m2 0h0m2 0h35m2 0h27m2 0h22m3 0h2m2 0h0m2 0h0m8 0h0m10 0h0m50 0h0m142 0h0M-259 336.91h1m170 0h0m11 0h1m7 0h2m4 0h0m9 0h0m2 0h8m4 0h39m2 0h19m2 0h13m2 0h3m2 0h3m2 0h3m3 0h0m2 0h0m14 0h3m2 0h0m6 0h0m105 0h0m308 0h2M-156 338.67h0m94 0h1m7 0h1m3 0h3m2 0h8m2 0h14m2 0h3m2 0h59m2 0h7m8 0h3m16 0h0m78 0h1m27 0h1m164 0h0M-275 340.44h1m191 0h1m24 0h4m8 0h0m2 0h1m2 0h0m2 0h8m2 0h21m2 0h23m2 0h28m20 0h2m150 0h0m168 0h0M-150 342.2h0m86 0h1m16 0h0m2 0h4m2 0h8m2 0h64m2 0h2m2 0h4m5 0h4m8 0h4m20 0h0M-411 343.96h0m365 0h2m3 0h5m2 0h9m2 0h18m3 0h15m2 0h24m2 0h7m22 0h2m7 0h0M-307 345.72h1m189 0h1m66 0h1m12 0h4m2 0h11m2 0h7m2 0h5m2 0h2m2 0h26m2 0h4m2 0h0m2 0h1m2 0h0m12 0h2m23 0h1m2 0h0m243 0h0M-48 347.48h2m5 0h2m4 0h13m2 0h3m2 0h2m2 0h6m2 0h35m2 0h3m2 0h2m153 0h0m67 0h0M-193 349.24h0m52 0h0m100 0h5m3 0h7m3 0h12m2 0h1m2 0h0m7 0h5m2 0h7m2 0h11m2 0h0m2 0h0m2 0h0m2 0h0m2 0h0m2 0h2m30 0h0M-185 351h0m118 0h1m26 0h2m2 0h8m2 0h6m2 0h5m2 0h1m2 0h6m2 0h1m3 0h11m2 0h6m2 0h14m27 0h0m204 0h0M-77 352.76h0m42 0h16m4 0h3m2 0h2m2 0h0m2 0h5m2 0h0m2 0h4m2 0h3m5 0h0m2 0h14m38 0h0m149 0h0M-47 354.52h1m11 0h4m2 0h3m2 0h0m4 0h9m2 0h1m2 0h5m3 0h2m6 0h5m4 0h14m5 0h0m7 0h1m85 0h0M-158 356.28h1m124 0h2m2 0h0m4 0h1m4 0h7m2 0h3m2 0h10m2 0h14m2 0h5m5 0h6m126 0h1m226 0h0m86 0h1M-45 358.04h0m14 0h0m4 0h10m3 0h4m2 0h1m2 0h5m2 0h2m4 0h3m3 0h2m2 0h0m2 0h1m2 0h1m2 0h5m4 0h0m2 0h0M-39 359.8h2m2 0h6m4 0h12m2 0h1m2 0h1m2 0h0m3 0h0m2 0h0m2 0h10m2 0h4m4 0h1m2 0h2m2 0h0m3 0h2m452 0h0M-59 361.56h0m12 0h0m11 0h2m6 0h5m2 0h6m2 0h1m2 0h2m2 0h1m2 0h3m2 0h1m2 0h5m2 0h4m3 0h3m2 0h2m2 0h1m2 0h0m7 0h0m40 0h1M-82 363.32h3m54 0h8m2 0h0m8 0h3m2 0h2m2 0h0m2 0h4m4 0h0m3 0h11m2 0h1M-18 365.08h2m20 0h0m3 0h2m6 0h4m4 0h3m33 0h0m155 0h0M-26 366.85h0m3 0h1m12 0h0m2 0h1m4 0h2m3 0h1m6 0h2m7 0h2m2 0h2m9 0h1M-24 368.61h3m2 0h2m2 0h0m3 0h2m9 0h0m3 0h5m3 0h3m5 0h1m4 0h6M-21 370.37h5m4 0h3m8 0h2m2 0h0m8 0h1m2 0h2m3 0h2M-20 372.13h0m6 0h3m3 0h1m16 0h1m9 0h3m3 0h1M-21 373.89h6m5 0h1m8 0h0m11 0h5m2 0h0m6 0h0M-17 375.65h3m2 0h0m11 0h3m6 0h2M-22 377.41h2m7 0h3m6 0h2m6 0h3m12 0h3M-19 379.17h2m2 0h2m23 0h1m6 0h0M-18 380.93h0m2 0h0m5 0h1M-5 382.69h3m18 0h0m2 0h0M-1 386.21h1m13 0h1" stroke-width="2.0" vector-effect="non-scaling-stroke"/></g></g>
<rect x="59.76" y="47.81" width="532.43" height="532.43" fill="none" stroke="#000" stroke-width="0.75"/>
<path d="M128.78 580.24H523.17M128.78 580.24v5.98M227.38 580.24v5.98M325.98 580.24v5.98M424.57 580.24v5.98M523.17 580.24v5.98M59.76 507.7V67.53M59.76 507.7h-5.98M59.76 419.67h-5.98M59.76 331.63h-5.98M59.76 243.6h-5.98M59.76 155.56h-5.98M59.76 67.53h-5.98" fill="none" stroke="#000" stroke-width="0.75"/>
<g class="tk">
<text x="128.78" y="602">-400</text>
<text x="227.38" y="602">-200</text>
<text x="325.98" y="602">0</text>
<text x="424.57" y="602">200</text>
<text x="523.17" y="602">400</text>
<text transform="translate(45.1 507.7) rotate(-90)">75</text>
<text transform="translate(45.1 419.67) rotate(-90)">80</text>
<text transform="translate(45.1 331.63) rotate(-90)">85</text>
<text transform="translate(45.1 243.6) rotate(-90)">90</text>
<text transform="translate(45.1 155.56) rotate(-90)">95</text>
<text transform="translate(45.1 67.53) rotate(-90)">100</text>
</g>
<text class="tt" x="323.08" y="31.8" style="font-size:21.66px">Top hit for each peak</text>
<text class="lb" x="325.98" y="626.1">Distance to peak summit</text>
<text class="lb" transform="translate(22 314.02) rotate(-90)">Motif score</text>
<path d="M287.28 580.24V47.81" stroke="#006400" stroke-width="2.25" stroke-dasharray="9 9" stroke-linecap="round" fill="none" clip-path="url(#c00)"/>
<path d="M364.67 580.24V47.81" stroke="#006400" stroke-width="2.25" stroke-dasharray="9 9" stroke-linecap="round" fill="none" clip-path="url(#c00)"/>
<path d="M59.76 331.63H592.19" stroke="#CD2020" stroke-width="2.25" stroke-dasharray="9 9" stroke-linecap="round" fill="none" clip-path="url(#c00)"/>
</g>
<g id="p2">
<defs><linearGradient id="hgn" gradientUnits="userSpaceOnUse" x1="950.00" y1="0" x2="981.95" y2="0"><stop offset="0.0000" stop-color="#f00" stop-opacity="0.0000"/><stop offset="0.0167" stop-color="#f00" stop-opacity="0.0000"/><stop offset="0.0333" stop-color="#f00" stop-opacity="0.0000"/><stop offset="0.0500" stop-color="#f00" stop-opacity="0.0000"/><stop offset="0.0667" stop-color="#f00" stop-opacity="0.0000"/><stop offset="0.0833" stop-color="#f00" stop-opacity="0.0000"/><stop offset="0.1000" stop-color="#f00" stop-opacity="0.0000"/><stop offset="0.1167" stop-color="#f00" stop-opacity="0.0000"/><stop offset="0.1333" stop-color="#f00" stop-opacity="0.0001"/><stop offset="0.1500" stop-color="#f00" stop-opacity="0.0003"/><stop offset="0.1667" stop-color="#f00" stop-opacity="0.0007"/><stop offset="0.1833" stop-color="#f00" stop-opacity="0.0019"/><stop offset="0.2000" stop-color="#f00" stop-opacity="0.0045"/><stop offset="0.2167" stop-color="#f00" stop-opacity="0.0103"/><stop offset="0.2333" stop-color="#f00" stop-opacity="0.0220"/><stop offset="0.2500" stop-color="#f00" stop-opacity="0.0436"/><stop offset="0.2667" stop-color="#f00" stop-opacity="0.0808"/><stop offset="0.2833" stop-color="#f00" stop-opacity="0.1396"/><stop offset="0.3000" stop-color="#f00" stop-opacity="0.2252"/><stop offset="0.3167" stop-color="#f00" stop-opacity="0.3388"/><stop offset="0.3333" stop-color="#f00" stop-opacity="0.4758"/><stop offset="0.3500" stop-color="#f00" stop-opacity="0.6234"/><stop offset="0.3667" stop-color="#f00" stop-opacity="0.7622"/><stop offset="0.3833" stop-color="#f00" stop-opacity="0.8700"/><stop offset="0.4000" stop-color="#f00" stop-opacity="0.9275"/><stop offset="0.4167" stop-color="#f00" stop-opacity="0.9248"/><stop offset="0.4333" stop-color="#f00" stop-opacity="0.8651"/><stop offset="0.4500" stop-color="#f00" stop-opacity="0.7652"/><stop offset="0.4667" stop-color="#f00" stop-opacity="0.6506"/><stop offset="0.4833" stop-color="#f00" stop-opacity="0.5501"/><stop offset="0.5000" stop-color="#f00" stop-opacity="0.4885"/><stop offset="0.5167" stop-color="#f00" stop-opacity="0.4815"/><stop offset="0.5333" stop-color="#f00" stop-opacity="0.5322"/><stop offset="0.5500" stop-color="#f00" stop-opacity="0.6306"/><stop offset="0.5667" stop-color="#f00" stop-opacity="0.7552"/><stop offset="0.5833" stop-color="#f00" stop-opacity="0.8774"/><stop offset="0.6000" stop-color="#f00" stop-opacity="0.9678"/><stop offset="0.6167" stop-color="#f00" stop-opacity="1.0000"/><stop offset="0.6333" stop-color="#f00" stop-opacity="0.9739"/><stop offset="0.6500" stop-color="#f00" stop-opacity="0.8831"/><stop offset="0.6667" stop-color="#f00" stop-opacity="0.7476"/><stop offset="0.6833" stop-color="#f00" stop-opacity="0.5906"/><stop offset="0.7000" stop-color="#f00" stop-opacity="0.4355"/><stop offset="0.7167" stop-color="#f00" stop-opacity="0.2996"/><stop offset="0.7333" stop-color="#f00" stop-opacity="0.1923"/><stop offset="0.7500" stop-color="#f00" stop-opacity="0.1152"/><stop offset="0.7667" stop-color="#f00" stop-opacity="0.0644"/><stop offset="0.7833" stop-color="#f00" stop-opacity="0.0336"/><stop offset="0.8000" stop-color="#f00" stop-opacity="0.0163"/><stop offset="0.8167" stop-color="#f00" stop-opacity="0.0074"/><stop offset="0.8333" stop-color="#f00" stop-opacity="0.0031"/><stop offset="0.8500" stop-color="#f00" stop-opacity="0.0012"/><stop offset="0.8667" stop-color="#f00" stop-opacity="0.0005"/><stop offset="0.8833" stop-color="#f00" stop-opacity="0.0002"/><stop offset="0.9000" stop-color="#f00" stop-opacity="0.0001"/><stop offset="0.9167" stop-color="#f00" stop-opacity="0.0000"/><stop offset="0.9333" stop-color="#f00" stop-opacity="0.0000"/><stop offset="0.9500" stop-color="#f00" stop-opacity="0.0000"/><stop offset="0.9667" stop-color="#f00" stop-opacity="0.0000"/><stop offset="0.9833" stop-color="#f00" stop-opacity="0.0000"/><stop offset="1.0000" stop-color="#f00" stop-opacity="0.0000"/></linearGradient><linearGradient id="hgw" gradientUnits="userSpaceOnUse" x1="894.10" y1="0" x2="1037.85" y2="0"><stop offset="0.0185" stop-color="#0f0" stop-opacity="0.0000"/><stop offset="0.1296" stop-color="#0f0" stop-opacity="0.0040"/><stop offset="0.2222" stop-color="#0f0" stop-opacity="0.0120"/><stop offset="0.2778" stop-color="#0f0" stop-opacity="0.0260"/><stop offset="0.3333" stop-color="#0f0" stop-opacity="0.0450"/><stop offset="0.3593" stop-color="#0f0" stop-opacity="0.0650"/><stop offset="0.3889" stop-color="#0f0" stop-opacity="0.1000"/><stop offset="0.4111" stop-color="#0f0" stop-opacity="0.1600"/><stop offset="0.4315" stop-color="#0f0" stop-opacity="0.2600"/><stop offset="0.4444" stop-color="#0f0" stop-opacity="0.3600"/><stop offset="0.4556" stop-color="#0f0" stop-opacity="0.4600"/><stop offset="0.4667" stop-color="#0f0" stop-opacity="0.5900"/><stop offset="0.4778" stop-color="#0f0" stop-opacity="0.6900"/><stop offset="0.4889" stop-color="#0f0" stop-opacity="0.7400"/><stop offset="0.5030" stop-color="#0f0" stop-opacity="0.7500"/><stop offset="0.5185" stop-color="#0f0" stop-opacity="0.7400"/><stop offset="0.5296" stop-color="#0f0" stop-opacity="0.7000"/><stop offset="0.5407" stop-color="#0f0" stop-opacity="0.6000"/><stop offset="0.5537" stop-color="#0f0" stop-opacity="0.4800"/><stop offset="0.5667" stop-color="#0f0" stop-opacity="0.3500"/><stop offset="0.5815" stop-color="#0f0" stop-opacity="0.2500"/><stop offset="0.6000" stop-color="#0f0" stop-opacity="0.1600"/><stop offset="0.6222" stop-color="#0f0" stop-opacity="0.1000"/><stop offset="0.6519" stop-color="#0f0" stop-opacity="0.0650"/><stop offset="0.6852" stop-color="#0f0" stop-opacity="0.0450"/><stop offset="0.7296" stop-color="#0f0" stop-opacity="0.0260"/><stop offset="0.7889" stop-color="#0f0" stop-opacity="0.0120"/><stop offset="0.8889" stop-color="#0f0" stop-opacity="0.0040"/><stop offset="1.0000" stop-color="#0f0" stop-opacity="0.0000"/></linearGradient><linearGradient id="hgb" gradientUnits="userSpaceOnUse" x1="699.76" y1="0" x2="1232.19" y2="0"><stop offset="0.0000" stop-color="#00f" stop-opacity="0.0186"/><stop offset="0.0050" stop-color="#00f" stop-opacity="0.0180"/><stop offset="0.0100" stop-color="#00f" stop-opacity="0.0133"/><stop offset="0.0150" stop-color="#00f" stop-opacity="0.0115"/><stop offset="0.0200" stop-color="#00f" stop-opacity="0.0116"/><stop offset="0.0250" stop-color="#00f" stop-opacity="0.0137"/><stop offset="0.0300" stop-color="#00f" stop-opacity="0.0133"/><stop offset="0.0350" stop-color="#00f" stop-opacity="0.0134"/><stop offset="0.0400" stop-color="#00f" stop-opacity="0.0131"/><stop offset="0.0450" stop-color="#00f" stop-opacity="0.0121"/><stop offset="0.0500" stop-color="#00f" stop-opacity="0.0128"/><stop offset="0.0550" stop-color="#00f" stop-opacity="0.0153"/><stop offset="0.0600" stop-color="#00f" stop-opacity="0.0189"/><stop offset="0.0650" stop-color="#00f" stop-opacity="0.0181"/><stop offset="0.0700" stop-color="#00f" stop-opacity="0.0159"/><stop offset="0.0750" stop-color="#00f" stop-opacity="0.0129"/><stop offset="0.0800" stop-color="#00f" stop-opacity="0.0109"/><stop offset="0.0850" stop-color="#00f" stop-opacity="0.0121"/><stop offset="0.0900" stop-color="#00f" stop-opacity="0.0124"/><stop offset="0.0950" stop-color="#00f" stop-opacity="0.0120"/><stop offset="0.1000" stop-color="#00f" stop-opacity="0.0105"/><stop offset="0.1050" stop-color="#00f" stop-opacity="0.0139"/><stop offset="0.1100" stop-color="#00f" stop-opacity="0.0162"/><stop offset="0.1150" stop-color="#00f" stop-opacity="0.0147"/><stop offset="0.1200" stop-color="#00f" stop-opacity="0.0116"/><stop offset="0.1250" stop-color="#00f" stop-opacity="0.0121"/><stop offset="0.1300" stop-color="#00f" stop-opacity="0.0136"/><stop offset="0.1350" stop-color="#00f" stop-opacity="0.0132"/><stop offset="0.1400" stop-color="#00f" stop-opacity="0.0119"/><stop offset="0.1450" stop-color="#00f" stop-opacity="0.0131"/><stop offset="0.1500" stop-color="#00f" stop-opacity="0.0166"/><stop offset="0.1550" stop-color="#00f" stop-opacity="0.0158"/><stop offset="0.1600" stop-color="#00f" stop-opacity="0.0130"/><stop offset="0.1650" stop-color="#00f" stop-opacity="0.0101"/><stop offset="0.1700" stop-color="#00f" stop-opacity="0.0087"/><stop offset="0.1750" stop-color="#00f" stop-opacity="0.0077"/><stop offset="0.1800" stop-color="#00f" stop-opacity="0.0080"/><stop offset="0.1850" stop-color="#00f" stop-opacity="0.0119"/><stop offset="0.1900" stop-color="#00f" stop-opacity="0.0135"/><stop offset="0.1950" stop-color="#00f" stop-opacity="0.0124"/><stop offset="0.2000" stop-color="#00f" stop-opacity="0.0113"/><stop offset="0.2050" stop-color="#00f" stop-opacity="0.0118"/><stop offset="0.2100" stop-color="#00f" stop-opacity="0.0113"/><stop offset="0.2150" stop-color="#00f" stop-opacity="0.0094"/><stop offset="0.2200" stop-color="#00f" stop-opacity="0.0095"/><stop offset="0.2250" stop-color="#00f" stop-opacity="0.0105"/><stop offset="0.2300" stop-color="#00f" stop-opacity="0.0110"/><stop offset="0.2350" stop-color="#00f" stop-opacity="0.0095"/><stop offset="0.2400" stop-color="#00f" stop-opacity="0.0093"/><stop offset="0.2450" stop-color="#00f" stop-opacity="0.0111"/><stop offset="0.2500" stop-color="#00f" stop-opacity="0.0148"/><stop offset="0.2550" stop-color="#00f" stop-opacity="0.0162"/><stop offset="0.2600" stop-color="#00f" stop-opacity="0.0164"/><stop offset="0.2650" stop-color="#00f" stop-opacity="0.0170"/><stop offset="0.2700" stop-color="#00f" stop-opacity="0.0147"/><stop offset="0.2750" stop-color="#00f" stop-opacity="0.0135"/><stop offset="0.2800" stop-color="#00f" stop-opacity="0.0106"/><stop offset="0.2850" stop-color="#00f" stop-opacity="0.0102"/><stop offset="0.2900" stop-color="#00f" stop-opacity="0.0077"/><stop offset="0.2950" stop-color="#00f" stop-opacity="0.0103"/><stop offset="0.3000" stop-color="#00f" stop-opacity="0.0133"/><stop offset="0.3050" stop-color="#00f" stop-opacity="0.0152"/><stop offset="0.3100" stop-color="#00f" stop-opacity="0.0154"/><stop offset="0.3150" stop-color="#00f" stop-opacity="0.0140"/><stop offset="0.3200" stop-color="#00f" stop-opacity="0.0135"/><stop offset="0.3250" stop-color="#00f" stop-opacity="0.0120"/><stop offset="0.3300" stop-color="#00f" stop-opacity="0.0116"/><stop offset="0.3350" stop-color="#00f" stop-opacity="0.0115"/><stop offset="0.3400" stop-color="#00f" stop-opacity="0.0138"/><stop offset="0.3450" stop-color="#00f" stop-opacity="0.0144"/><stop offset="0.3500" stop-color="#00f" stop-opacity="0.0138"/><stop offset="0.3550" stop-color="#00f" stop-opacity="0.0123"/><stop offset="0.3600" stop-color="#00f" stop-opacity="0.0148"/><stop offset="0.3650" stop-color="#00f" stop-opacity="0.0150"/><stop offset="0.3700" stop-color="#00f" stop-opacity="0.0154"/><stop offset="0.3750" stop-color="#00f" stop-opacity="0.0143"/><stop offset="0.3800" stop-color="#00f" stop-opacity="0.0140"/><stop offset="0.3850" stop-color="#00f" stop-opacity="0.0117"/><stop offset="0.3900" stop-color="#00f" stop-opacity="0.0119"/><stop offset="0.3950" stop-color="#00f" stop-opacity="0.0112"/><stop offset="0.4000" stop-color="#00f" stop-opacity="0.0119"/><stop offset="0.4050" stop-color="#00f" stop-opacity="0.0117"/><stop offset="0.4100" stop-color="#00f" stop-opacity="0.0123"/><stop offset="0.4150" stop-color="#00f" stop-opacity="0.0117"/><stop offset="0.4200" stop-color="#00f" stop-opacity="0.0126"/><stop offset="0.4250" stop-color="#00f" stop-opacity="0.0138"/><stop offset="0.4300" stop-color="#00f" stop-opacity="0.0123"/><stop offset="0.4350" stop-color="#00f" stop-opacity="0.0079"/><stop offset="0.4400" stop-color="#00f" stop-opacity="0.0062"/><stop offset="0.4450" stop-color="#00f" stop-opacity="0.0072"/><stop offset="0.4500" stop-color="#00f" stop-opacity="0.0097"/><stop offset="0.4550" stop-color="#00f" stop-opacity="0.0098"/><stop offset="0.4600" stop-color="#00f" stop-opacity="0.0106"/><stop offset="0.4650" stop-color="#00f" stop-opacity="0.0110"/><stop offset="0.4700" stop-color="#00f" stop-opacity="0.0115"/><stop offset="0.4750" stop-color="#00f" stop-opacity="0.0120"/><stop offset="0.4800" stop-color="#00f" stop-opacity="0.0119"/><stop offset="0.4850" stop-color="#00f" stop-opacity="0.0112"/><stop offset="0.4900" stop-color="#00f" stop-opacity="0.0129"/><stop offset="0.4950" stop-color="#00f" stop-opacity="0.0155"/><stop offset="0.5000" stop-color="#00f" stop-opacity="0.0140"/><stop offset="0.5050" stop-color="#00f" stop-opacity="0.0111"/><stop offset="0.5100" stop-color="#00f" stop-opacity="0.0112"/><stop offset="0.5150" stop-color="#00f" stop-opacity="0.0139"/><stop offset="0.5200" stop-color="#00f" stop-opacity="0.0144"/><stop offset="0.5250" stop-color="#00f" stop-opacity="0.0129"/><stop offset="0.5300" stop-color="#00f" stop-opacity="0.0107"/><stop offset="0.5350" stop-color="#00f" stop-opacity="0.0111"/><stop offset="0.5400" stop-color="#00f" stop-opacity="0.0125"/><stop offset="0.5450" stop-color="#00f" stop-opacity="0.0126"/><stop offset="0.5500" stop-color="#00f" stop-opacity="0.0115"/><stop offset="0.5550" stop-color="#00f" stop-opacity="0.0108"/><stop offset="0.5600" stop-color="#00f" stop-opacity="0.0120"/><stop offset="0.5650" stop-color="#00f" stop-opacity="0.0119"/><stop offset="0.5700" stop-color="#00f" stop-opacity="0.0124"/><stop offset="0.5750" stop-color="#00f" stop-opacity="0.0129"/><stop offset="0.5800" stop-color="#00f" stop-opacity="0.0142"/><stop offset="0.5850" stop-color="#00f" stop-opacity="0.0128"/><stop offset="0.5900" stop-color="#00f" stop-opacity="0.0128"/><stop offset="0.5950" stop-color="#00f" stop-opacity="0.0124"/><stop offset="0.6000" stop-color="#00f" stop-opacity="0.0130"/><stop offset="0.6050" stop-color="#00f" stop-opacity="0.0113"/><stop offset="0.6100" stop-color="#00f" stop-opacity="0.0098"/><stop offset="0.6150" stop-color="#00f" stop-opacity="0.0092"/><stop offset="0.6200" stop-color="#00f" stop-opacity="0.0110"/><stop offset="0.6250" stop-color="#00f" stop-opacity="0.0127"/><stop offset="0.6300" stop-color="#00f" stop-opacity="0.0127"/><stop offset="0.6350" stop-color="#00f" stop-opacity="0.0119"/><stop offset="0.6400" stop-color="#00f" stop-opacity="0.0109"/><stop offset="0.6450" stop-color="#00f" stop-opacity="0.0104"/><stop offset="0.6500" stop-color="#00f" stop-opacity="0.0132"/><stop offset="0.6550" stop-color="#00f" stop-opacity="0.0156"/><stop offset="0.6600" stop-color="#00f" stop-opacity="0.0149"/><stop offset="0.6650" stop-color="#00f" stop-opacity="0.0130"/><stop offset="0.6700" stop-color="#00f" stop-opacity="0.0121"/><stop offset="0.6750" stop-color="#00f" stop-opacity="0.0118"/><stop offset="0.6800" stop-color="#00f" stop-opacity="0.0122"/><stop offset="0.6850" stop-color="#00f" stop-opacity="0.0126"/><stop offset="0.6900" stop-color="#00f" stop-opacity="0.0108"/><stop offset="0.6950" stop-color="#00f" stop-opacity="0.0086"/><stop offset="0.7000" stop-color="#00f" stop-opacity="0.0095"/><stop offset="0.7050" stop-color="#00f" stop-opacity="0.0118"/><stop offset="0.7100" stop-color="#00f" stop-opacity="0.0141"/><stop offset="0.7150" stop-color="#00f" stop-opacity="0.0137"/><stop offset="0.7200" stop-color="#00f" stop-opacity="0.0137"/><stop offset="0.7250" stop-color="#00f" stop-opacity="0.0133"/><stop offset="0.7300" stop-color="#00f" stop-opacity="0.0139"/><stop offset="0.7350" stop-color="#00f" stop-opacity="0.0138"/><stop offset="0.7400" stop-color="#00f" stop-opacity="0.0142"/><stop offset="0.7450" stop-color="#00f" stop-opacity="0.0134"/><stop offset="0.7500" stop-color="#00f" stop-opacity="0.0132"/><stop offset="0.7550" stop-color="#00f" stop-opacity="0.0121"/><stop offset="0.7600" stop-color="#00f" stop-opacity="0.0123"/><stop offset="0.7650" stop-color="#00f" stop-opacity="0.0116"/><stop offset="0.7700" stop-color="#00f" stop-opacity="0.0134"/><stop offset="0.7750" stop-color="#00f" stop-opacity="0.0127"/><stop offset="0.7800" stop-color="#00f" stop-opacity="0.0123"/><stop offset="0.7850" stop-color="#00f" stop-opacity="0.0120"/><stop offset="0.7900" stop-color="#00f" stop-opacity="0.0139"/><stop offset="0.7950" stop-color="#00f" stop-opacity="0.0135"/><stop offset="0.8000" stop-color="#00f" stop-opacity="0.0131"/><stop offset="0.8050" stop-color="#00f" stop-opacity="0.0121"/><stop offset="0.8100" stop-color="#00f" stop-opacity="0.0114"/><stop offset="0.8150" stop-color="#00f" stop-opacity="0.0139"/><stop offset="0.8200" stop-color="#00f" stop-opacity="0.0157"/><stop offset="0.8250" stop-color="#00f" stop-opacity="0.0145"/><stop offset="0.8300" stop-color="#00f" stop-opacity="0.0126"/><stop offset="0.8350" stop-color="#00f" stop-opacity="0.0126"/><stop offset="0.8400" stop-color="#00f" stop-opacity="0.0138"/><stop offset="0.8450" stop-color="#00f" stop-opacity="0.0138"/><stop offset="0.8500" stop-color="#00f" stop-opacity="0.0145"/><stop offset="0.8550" stop-color="#00f" stop-opacity="0.0130"/><stop offset="0.8600" stop-color="#00f" stop-opacity="0.0115"/><stop offset="0.8650" stop-color="#00f" stop-opacity="0.0121"/><stop offset="0.8700" stop-color="#00f" stop-opacity="0.0110"/><stop offset="0.8750" stop-color="#00f" stop-opacity="0.0096"/><stop offset="0.8800" stop-color="#00f" stop-opacity="0.0098"/><stop offset="0.8850" stop-color="#00f" stop-opacity="0.0133"/><stop offset="0.8900" stop-color="#00f" stop-opacity="0.0160"/><stop offset="0.8950" stop-color="#00f" stop-opacity="0.0181"/><stop offset="0.9000" stop-color="#00f" stop-opacity="0.0182"/><stop offset="0.9050" stop-color="#00f" stop-opacity="0.0165"/><stop offset="0.9100" stop-color="#00f" stop-opacity="0.0139"/><stop offset="0.9150" stop-color="#00f" stop-opacity="0.0109"/><stop offset="0.9200" stop-color="#00f" stop-opacity="0.0096"/><stop offset="0.9250" stop-color="#00f" stop-opacity="0.0090"/><stop offset="0.9300" stop-color="#00f" stop-opacity="0.0118"/><stop offset="0.9350" stop-color="#00f" stop-opacity="0.0143"/><stop offset="0.9400" stop-color="#00f" stop-opacity="0.0150"/><stop offset="0.9450" stop-color="#00f" stop-opacity="0.0135"/><stop offset="0.9500" stop-color="#00f" stop-opacity="0.0109"/><stop offset="0.9550" stop-color="#00f" stop-opacity="0.0111"/><stop offset="0.9600" stop-color="#00f" stop-opacity="0.0127"/><stop offset="0.9650" stop-color="#00f" stop-opacity="0.0154"/><stop offset="0.9700" stop-color="#00f" stop-opacity="0.0147"/><stop offset="0.9750" stop-color="#00f" stop-opacity="0.0164"/><stop offset="0.9800" stop-color="#00f" stop-opacity="0.0186"/><stop offset="0.9850" stop-color="#00f" stop-opacity="0.0192"/><stop offset="0.9900" stop-color="#00f" stop-opacity="0.0156"/><stop offset="0.9950" stop-color="#00f" stop-opacity="0.0135"/><stop offset="1.0000" stop-color="#00f" stop-opacity="0.0138"/></linearGradient><linearGradient id="hvn" gradientUnits="userSpaceOnUse" x1="0" y1="47.81" x2="0" y2="580.24"><stop offset="0.0000" stop-color="#fff" stop-opacity="0.0700"/><stop offset="0.0089" stop-color="#fff" stop-opacity="0.0738"/><stop offset="0.0179" stop-color="#fff" stop-opacity="0.0775"/><stop offset="0.0268" stop-color="#fff" stop-opacity="0.0813"/><stop offset="0.0357" stop-color="#fff" stop-opacity="0.0850"/><stop offset="0.0446" stop-color="#fff" stop-opacity="0.1082"/><stop offset="0.0536" stop-color="#fff" stop-opacity="0.1314"/><stop offset="0.0625" stop-color="#fff" stop-opacity="0.1556"/><stop offset="0.0714" stop-color="#fff" stop-opacity="0.1837"/><stop offset="0.0804" stop-color="#fff" stop-opacity="0.2119"/><stop offset="0.0893" stop-color="#fff" stop-opacity="0.2400"/><stop offset="0.0982" stop-color="#fff" stop-opacity="0.2450"/><stop offset="0.1071" stop-color="#fff" stop-opacity="0.2500"/><stop offset="0.1161" stop-color="#fff" stop-opacity="0.2550"/><stop offset="0.1250" stop-color="#fff" stop-opacity="0.2600"/><stop offset="0.1339" stop-color="#fff" stop-opacity="0.2650"/><stop offset="0.1429" stop-color="#fff" stop-opacity="0.2700"/><stop offset="0.1518" stop-color="#fff" stop-opacity="0.2879"/><stop offset="0.1607" stop-color="#fff" stop-opacity="0.3057"/><stop offset="0.1696" stop-color="#fff" stop-opacity="0.3204"/><stop offset="0.1786" stop-color="#fff" stop-opacity="0.3223"/><stop offset="0.1875" stop-color="#fff" stop-opacity="0.3242"/><stop offset="0.1964" stop-color="#fff" stop-opacity="0.3262"/><stop offset="0.2054" stop-color="#fff" stop-opacity="0.3281"/><stop offset="0.2143" stop-color="#fff" stop-opacity="0.3300"/><stop offset="0.2232" stop-color="#fff" stop-opacity="0.3253"/><stop offset="0.2321" stop-color="#fff" stop-opacity="0.3206"/><stop offset="0.2411" stop-color="#fff" stop-opacity="0.3159"/><stop offset="0.2500" stop-color="#fff" stop-opacity="0.3112"/><stop offset="0.2589" stop-color="#fff" stop-opacity="0.3066"/><stop offset="0.2679" stop-color="#fff" stop-opacity="0.3019"/><stop offset="0.2768" stop-color="#fff" stop-opacity="0.2979"/><stop offset="0.2857" stop-color="#fff" stop-opacity="0.2943"/><stop offset="0.2946" stop-color="#fff" stop-opacity="0.2907"/><stop offset="0.3036" stop-color="#fff" stop-opacity="0.2871"/><stop offset="0.3125" stop-color="#fff" stop-opacity="0.2836"/><stop offset="0.3214" stop-color="#fff" stop-opacity="0.2800"/><stop offset="0.3304" stop-color="#fff" stop-opacity="0.2650"/><stop offset="0.3393" stop-color="#fff" stop-opacity="0.2500"/><stop offset="0.3482" stop-color="#fff" stop-opacity="0.2350"/><stop offset="0.3571" stop-color="#fff" stop-opacity="0.2200"/><stop offset="0.3661" stop-color="#fff" stop-opacity="0.2025"/><stop offset="0.3750" stop-color="#fff" stop-opacity="0.1850"/><stop offset="0.3839" stop-color="#fff" stop-opacity="0.1675"/><stop offset="0.3929" stop-color="#fff" stop-opacity="0.1500"/><stop offset="0.4018" stop-color="#fff" stop-opacity="0.1350"/><stop offset="0.4107" stop-color="#fff" stop-opacity="0.1200"/><stop offset="0.4196" stop-color="#fff" stop-opacity="0.1050"/><stop offset="0.4286" stop-color="#fff" stop-opacity="0.0900"/><stop offset="0.4375" stop-color="#fff" stop-opacity="0.0800"/><stop offset="0.4464" stop-color="#fff" stop-opacity="0.0700"/><stop offset="0.4554" stop-color="#fff" stop-opacity="0.0600"/><stop offset="0.4643" stop-color="#fff" stop-opacity="0.0500"/><stop offset="0.4732" stop-color="#fff" stop-opacity="0.0450"/><stop offset="0.4821" stop-color="#fff" stop-opacity="0.0400"/><stop offset="0.4911" stop-color="#fff" stop-opacity="0.0350"/><stop offset="0.5000" stop-color="#fff" stop-opacity="0.0300"/><stop offset="0.5089" stop-color="#fff" stop-opacity="0.0262"/><stop offset="0.5179" stop-color="#fff" stop-opacity="0.0225"/><stop offset="0.5268" stop-color="#fff" stop-opacity="0.0187"/><stop offset="0.5357" stop-color="#fff" stop-opacity="0.0150"/><stop offset="0.5446" stop-color="#fff" stop-opacity="0.0125"/><stop offset="0.5536" stop-color="#fff" stop-opacity="0.0100"/><stop offset="0.5625" stop-color="#fff" stop-opacity="0.0075"/><stop offset="0.5714" stop-color="#fff" stop-opacity="0.0050"/><stop offset="0.5804" stop-color="#fff" stop-opacity="0.0037"/><stop offset="0.5893" stop-color="#fff" stop-opacity="0.0025"/><stop offset="0.5982" stop-color="#fff" stop-opacity="0.0013"/><stop offset="0.6071" stop-color="#fff" stop-opacity="0.0000"/><stop offset="0.6161" stop-color="#fff" stop-opacity="0.0000"/><stop offset="0.6250" stop-color="#fff" stop-opacity="0.0000"/><stop offset="0.6339" stop-color="#fff" stop-opacity="0.0000"/><stop offset="0.6429" stop-color="#fff" stop-opacity="0.0000"/><stop offset="0.6518" stop-color="#fff" stop-opacity="0.0000"/><stop offset="0.6607" stop-color="#fff" stop-opacity="0.0000"/><stop offset="0.6696" stop-color="#fff" stop-opacity="0.0000"/><stop offset="0.6786" stop-color="#fff" stop-opacity="0.0000"/><stop offset="0.6875" stop-color="#fff" stop-opacity="0.0000"/><stop offset="0.6964" stop-color="#fff" stop-opacity="0.0000"/><stop offset="0.7054" stop-color="#fff" stop-opacity="0.0000"/><stop offset="0.7143" stop-color="#fff" stop-opacity="0.0000"/><stop offset="0.7232" stop-color="#fff" stop-opacity="0.0000"/><stop offset="0.7321" stop-color="#fff" stop-opacity="0.0000"/><stop offset="0.7411" stop-color="#fff" stop-opacity="0.0000"/><stop offset="0.7500" stop-color="#fff" stop-opacity="0.0000"/><stop offset="0.7589" stop-color="#fff" stop-opacity="0.0000"/><stop offset="0.7679" stop-color="#fff" stop-opacity="0.0000"/><stop offset="0.7768" stop-color="#fff" stop-opacity="0.0000"/><stop offset="0.7857" stop-color="#fff" stop-opacity="0.0000"/><stop offset="0.7946" stop-color="#fff" stop-opacity="0.0000"/><stop offset="0.8036" stop-color="#fff" stop-opacity="0.0000"/><stop offset="0.8125" stop-color="#fff" stop-opacity="0.0000"/><stop offset="0.8214" stop-color="#fff" stop-opacity="0.0000"/><stop offset="0.8304" stop-color="#fff" stop-opacity="0.0000"/><stop offset="0.8393" stop-color="#fff" stop-opacity="0.0000"/><stop offset="0.8482" stop-color="#fff" stop-opacity="0.0000"/><stop offset="0.8571" stop-color="#fff" stop-opacity="0.0000"/><stop offset="0.8661" stop-color="#fff" stop-opacity="0.0000"/><stop offset="0.8750" stop-color="#fff" stop-opacity="0.0000"/><stop offset="0.8839" stop-color="#fff" stop-opacity="0.0000"/><stop offset="0.8929" stop-color="#fff" stop-opacity="0.0000"/><stop offset="0.9018" stop-color="#fff" stop-opacity="0.0000"/><stop offset="0.9107" stop-color="#fff" stop-opacity="0.0000"/><stop offset="0.9196" stop-color="#fff" stop-opacity="0.0000"/><stop offset="0.9286" stop-color="#fff" stop-opacity="0.0000"/><stop offset="0.9375" stop-color="#fff" stop-opacity="0.0000"/><stop offset="0.9464" stop-color="#fff" stop-opacity="0.0000"/><stop offset="0.9554" stop-color="#fff" stop-opacity="0.0000"/><stop offset="0.9643" stop-color="#fff" stop-opacity="0.0000"/><stop offset="0.9732" stop-color="#fff" stop-opacity="0.0000"/><stop offset="0.9821" stop-color="#fff" stop-opacity="0.0000"/><stop offset="0.9911" stop-color="#fff" stop-opacity="0.0000"/><stop offset="1.0000" stop-color="#fff" stop-opacity="0.0000"/></linearGradient><linearGradient id="hvw" gradientUnits="userSpaceOnUse" x1="0" y1="47.81" x2="0" y2="580.24"><stop offset="0.0000" stop-color="#fff" stop-opacity="0.0323"/><stop offset="0.0089" stop-color="#fff" stop-opacity="0.0416"/><stop offset="0.0179" stop-color="#fff" stop-opacity="0.0519"/><stop offset="0.0268" stop-color="#fff" stop-opacity="0.0584"/><stop offset="0.0357" stop-color="#fff" stop-opacity="0.0615"/><stop offset="0.0446" stop-color="#fff" stop-opacity="0.0693"/><stop offset="0.0536" stop-color="#fff" stop-opacity="0.0886"/><stop offset="0.0625" stop-color="#fff" stop-opacity="0.1208"/><stop offset="0.0714" stop-color="#fff" stop-opacity="0.1754"/><stop offset="0.0804" stop-color="#fff" stop-opacity="0.2567"/><stop offset="0.0893" stop-color="#fff" stop-opacity="0.3375"/><stop offset="0.0982" stop-color="#fff" stop-opacity="0.3821"/><stop offset="0.1071" stop-color="#fff" stop-opacity="0.3875"/><stop offset="0.1161" stop-color="#fff" stop-opacity="0.3743"/><stop offset="0.1250" stop-color="#fff" stop-opacity="0.3708"/><stop offset="0.1339" stop-color="#fff" stop-opacity="0.4064"/><stop offset="0.1429" stop-color="#fff" stop-opacity="0.4732"/><stop offset="0.1518" stop-color="#fff" stop-opacity="0.5388"/><stop offset="0.1607" stop-color="#fff" stop-opacity="0.5945"/><stop offset="0.1696" stop-color="#fff" stop-opacity="0.6574"/><stop offset="0.1786" stop-color="#fff" stop-opacity="0.7351"/><stop offset="0.1875" stop-color="#fff" stop-opacity="0.8115"/><stop offset="0.1964" stop-color="#fff" stop-opacity="0.8525"/><stop offset="0.2054" stop-color="#fff" stop-opacity="0.8430"/><stop offset="0.2143" stop-color="#fff" stop-opacity="0.8286"/><stop offset="0.2232" stop-color="#fff" stop-opacity="0.8518"/><stop offset="0.2321" stop-color="#fff" stop-opacity="0.8882"/><stop offset="0.2411" stop-color="#fff" stop-opacity="0.9055"/><stop offset="0.2500" stop-color="#fff" stop-opacity="0.9188"/><stop offset="0.2589" stop-color="#fff" stop-opacity="0.9496"/><stop offset="0.2679" stop-color="#fff" stop-opacity="0.9878"/><stop offset="0.2768" stop-color="#fff" stop-opacity="1.0000"/><stop offset="0.2857" stop-color="#fff" stop-opacity="1.0000"/><stop offset="0.2946" stop-color="#fff" stop-opacity="0.9659"/><stop offset="0.3036" stop-color="#fff" stop-opacity="0.9371"/><stop offset="0.3125" stop-color="#fff" stop-opacity="0.9365"/><stop offset="0.3214" stop-color="#fff" stop-opacity="0.9432"/><stop offset="0.3304" stop-color="#fff" stop-opacity="0.9345"/><stop offset="0.3393" stop-color="#fff" stop-opacity="0.9110"/><stop offset="0.3482" stop-color="#fff" stop-opacity="0.8779"/><stop offset="0.3571" stop-color="#fff" stop-opacity="0.8402"/><stop offset="0.3661" stop-color="#fff" stop-opacity="0.8042"/><stop offset="0.3750" stop-color="#fff" stop-opacity="0.7696"/><stop offset="0.3839" stop-color="#fff" stop-opacity="0.7334"/><stop offset="0.3929" stop-color="#fff" stop-opacity="0.6989"/><stop offset="0.4018" stop-color="#fff" stop-opacity="0.6704"/><stop offset="0.4107" stop-color="#fff" stop-opacity="0.6398"/><stop offset="0.4196" stop-color="#fff" stop-opacity="0.6008"/><stop offset="0.4286" stop-color="#fff" stop-opacity="0.5567"/><stop offset="0.4375" stop-color="#fff" stop-opacity="0.5066"/><stop offset="0.4464" stop-color="#fff" stop-opacity="0.4507"/><stop offset="0.4554" stop-color="#fff" stop-opacity="0.3979"/><stop offset="0.4643" stop-color="#fff" stop-opacity="0.3550"/><stop offset="0.4732" stop-color="#fff" stop-opacity="0.3218"/><stop offset="0.4821" stop-color="#fff" stop-opacity="0.2963"/><stop offset="0.4911" stop-color="#fff" stop-opacity="0.2704"/><stop offset="0.5000" stop-color="#fff" stop-opacity="0.2394"/><stop offset="0.5089" stop-color="#fff" stop-opacity="0.2087"/><stop offset="0.5179" stop-color="#fff" stop-opacity="0.1818"/><stop offset="0.5268" stop-color="#fff" stop-opacity="0.1579"/><stop offset="0.5357" stop-color="#fff" stop-opacity="0.1366"/><stop offset="0.5446" stop-color="#fff" stop-opacity="0.1176"/><stop offset="0.5536" stop-color="#fff" stop-opacity="0.1010"/><stop offset="0.5625" stop-color="#fff" stop-opacity="0.0873"/><stop offset="0.5714" stop-color="#fff" stop-opacity="0.0756"/><stop offset="0.5804" stop-color="#fff" stop-opacity="0.0644"/><stop offset="0.5893" stop-color="#fff" stop-opacity="0.0535"/><stop offset="0.5982" stop-color="#fff" stop-opacity="0.0441"/><stop offset="0.6071" stop-color="#fff" stop-opacity="0.0365"/><stop offset="0.6161" stop-color="#fff" stop-opacity="0.0302"/><stop offset="0.6250" stop-color="#fff" stop-opacity="0.0248"/><stop offset="0.6339" stop-color="#fff" stop-opacity="0.0200"/><stop offset="0.6429" stop-color="#fff" stop-opacity="0.0158"/><stop offset="0.6518" stop-color="#fff" stop-opacity="0.0126"/><stop offset="0.6607" stop-color="#fff" stop-opacity="0.0104"/><stop offset="0.6696" stop-color="#fff" stop-opacity="0.0088"/><stop offset="0.6786" stop-color="#fff" stop-opacity="0.0072"/><stop offset="0.6875" stop-color="#fff" stop-opacity="0.0057"/><stop offset="0.6964" stop-color="#fff" stop-opacity="0.0044"/><stop offset="0.7054" stop-color="#fff" stop-opacity="0.0033"/><stop offset="0.7143" stop-color="#fff" stop-opacity="0.0026"/><stop offset="0.7232" stop-color="#fff" stop-opacity="0.0021"/><stop offset="0.7321" stop-color="#fff" stop-opacity="0.0017"/><stop offset="0.7411" stop-color="#fff" stop-opacity="0.0014"/><stop offset="0.7500" stop-color="#fff" stop-opacity="0.0011"/><stop offset="0.7589" stop-color="#fff" stop-opacity="0.0008"/><stop offset="0.7679" stop-color="#fff" stop-opacity="0.0006"/><stop offset="0.7768" stop-color="#fff" stop-opacity="0.0005"/><stop offset="0.7857" stop-color="#fff" stop-opacity="0.0004"/><stop offset="0.7946" stop-color="#fff" stop-opacity="0.0003"/><stop offset="0.8036" stop-color="#fff" stop-opacity="0.0003"/><stop offset="0.8125" stop-color="#fff" stop-opacity="0.0002"/><stop offset="0.8214" stop-color="#fff" stop-opacity="0.0002"/><stop offset="0.8304" stop-color="#fff" stop-opacity="0.0002"/><stop offset="0.8393" stop-color="#fff" stop-opacity="0.0001"/><stop offset="0.8482" stop-color="#fff" stop-opacity="0.0001"/><stop offset="0.8571" stop-color="#fff" stop-opacity="0.0001"/><stop offset="0.8661" stop-color="#fff" stop-opacity="0.0001"/><stop offset="0.8750" stop-color="#fff" stop-opacity="0.0000"/><stop offset="0.8839" stop-color="#fff" stop-opacity="0.0000"/><stop offset="0.8929" stop-color="#fff" stop-opacity="0.0000"/><stop offset="0.9018" stop-color="#fff" stop-opacity="0.0000"/><stop offset="0.9107" stop-color="#fff" stop-opacity="0.0000"/><stop offset="0.9196" stop-color="#fff" stop-opacity="0.0000"/><stop offset="0.9286" stop-color="#fff" stop-opacity="0.0000"/><stop offset="0.9375" stop-color="#fff" stop-opacity="0.0000"/><stop offset="0.9464" stop-color="#fff" stop-opacity="0.0000"/><stop offset="0.9554" stop-color="#fff" stop-opacity="0.0000"/><stop offset="0.9643" stop-color="#fff" stop-opacity="0.0000"/><stop offset="0.9732" stop-color="#fff" stop-opacity="0.0000"/><stop offset="0.9821" stop-color="#fff" stop-opacity="0.0000"/><stop offset="0.9911" stop-color="#fff" stop-opacity="0.0000"/><stop offset="1.0000" stop-color="#fff" stop-opacity="0.0000"/></linearGradient><linearGradient id="hvb" gradientUnits="userSpaceOnUse" x1="0" y1="47.81" x2="0" y2="580.24"><stop offset="0.0000" stop-color="#fff" stop-opacity="0.0047"/><stop offset="0.0179" stop-color="#fff" stop-opacity="0.0081"/><stop offset="0.0357" stop-color="#fff" stop-opacity="0.0136"/><stop offset="0.0536" stop-color="#fff" stop-opacity="0.0223"/><stop offset="0.0714" stop-color="#fff" stop-opacity="0.0353"/><stop offset="0.0893" stop-color="#fff" stop-opacity="0.0543"/><stop offset="0.1071" stop-color="#fff" stop-opacity="0.0811"/><stop offset="0.1250" stop-color="#fff" stop-opacity="0.1176"/><stop offset="0.1429" stop-color="#fff" stop-opacity="0.1656"/><stop offset="0.1607" stop-color="#fff" stop-opacity="0.2262"/><stop offset="0.1786" stop-color="#fff" stop-opacity="0.3000"/><stop offset="0.1964" stop-color="#fff" stop-opacity="0.3863"/><stop offset="0.2143" stop-color="#fff" stop-opacity="0.4827"/><stop offset="0.2321" stop-color="#fff" stop-opacity="0.5856"/><stop offset="0.2500" stop-color="#fff" stop-opacity="0.6896"/><stop offset="0.2679" stop-color="#fff" stop-opacity="0.7884"/><stop offset="0.2857" stop-color="#fff" stop-opacity="0.8748"/><stop offset="0.3036" stop-color="#fff" stop-opacity="0.9423"/><stop offset="0.3214" stop-color="#fff" stop-opacity="0.9852"/><stop offset="0.3393" stop-color="#fff" stop-opacity="1.0000"/><stop offset="0.3571" stop-color="#fff" stop-opacity="1.0000"/><stop offset="0.3750" stop-color="#fff" stop-opacity="1.0000"/><stop offset="0.3929" stop-color="#fff" stop-opacity="1.0000"/><stop offset="0.4107" stop-color="#fff" stop-opacity="1.0000"/><stop offset="0.4286" stop-color="#fff" stop-opacity="0.9976"/><stop offset="0.4464" stop-color="#fff" stop-opacity="0.9713"/><stop offset="0.4643" stop-color="#fff" stop-opacity="0.9179"/><stop offset="0.4821" stop-color="#fff" stop-opacity="0.8421"/><stop offset="0.5000" stop-color="#fff" stop-opacity="0.7499"/><stop offset="0.5179" stop-color="#fff" stop-opacity="0.6483"/><stop offset="0.5357" stop-color="#fff" stop-opacity="0.5440"/><stop offset="0.5536" stop-color="#fff" stop-opacity="0.4431"/><stop offset="0.5714" stop-color="#fff" stop-opacity="0.3504"/><stop offset="0.5893" stop-color="#fff" stop-opacity="0.2689"/><stop offset="0.6071" stop-color="#fff" stop-opacity="0.2004"/><stop offset="0.6250" stop-color="#fff" stop-opacity="0.1449"/><stop offset="0.6429" stop-color="#fff" stop-opacity="0.1017"/><stop offset="0.6607" stop-color="#fff" stop-opacity="0.0693"/><stop offset="0.6786" stop-color="#fff" stop-opacity="0.0459"/><stop offset="0.6964" stop-color="#fff" stop-opacity="0.0295"/><stop offset="0.7143" stop-color="#fff" stop-opacity="0.0184"/><stop offset="0.7321" stop-color="#fff" stop-opacity="0.0111"/><stop offset="0.7500" stop-color="#fff" stop-opacity="0.0065"/><stop offset="0.7679" stop-color="#fff" stop-opacity="0.0037"/><stop offset="0.7857" stop-color="#fff" stop-opacity="0.0021"/><stop offset="0.8036" stop-color="#fff" stop-opacity="0.0011"/><stop offset="0.8214" stop-color="#fff" stop-opacity="0.0006"/><stop offset="0.8393" stop-color="#fff" stop-opacity="0.0003"/><stop offset="0.8571" stop-color="#fff" stop-opacity="0.0001"/><stop offset="0.8750" stop-color="#fff" stop-opacity="0.0001"/><stop offset="0.8929" stop-color="#fff" stop-opacity="0.0000"/><stop offset="0.9107" stop-color="#fff" stop-opacity="0.0000"/><stop offset="0.9286" stop-color="#fff" stop-opacity="0.0000"/><stop offset="0.9464" stop-color="#fff" stop-opacity="0.0000"/><stop offset="0.9643" stop-color="#fff" stop-opacity="0.0000"/><stop offset="0.9821" stop-color="#fff" stop-opacity="0.0000"/><stop offset="1.0000" stop-color="#fff" stop-opacity="0.0000"/></linearGradient><mask id="hmn" maskUnits="userSpaceOnUse" x="699.76" y="47.81" width="532.43" height="532.43"><rect x="699.76" y="47.81" width="532.43" height="532.43" fill="url(#hvn)"/></mask><mask id="hmw" maskUnits="userSpaceOnUse" x="699.76" y="47.81" width="532.43" height="532.43"><rect x="699.76" y="47.81" width="532.43" height="532.43" fill="url(#hvw)"/></mask><mask id="hmb" maskUnits="userSpaceOnUse" x="699.76" y="47.81" width="532.43" height="532.43"><rect x="699.76" y="47.81" width="532.43" height="532.43" fill="url(#hvb)"/></mask><filter id="hcm" filterUnits="userSpaceOnUse" x="699.76" y="47.81" width="532.43" height="532.43" color-interpolation-filters="sRGB"><feColorMatrix type="matrix" values="1 1 1 0 0 1 1 1 0 0 1 1 1 0 0 0 0 0 0 1"/><feComponentTransfer><feFuncR type="table" tableValues="1 0 1"/><feFuncG type="table" tableValues="1 0 0"/><feFuncB type="table" tableValues="1 1 0"/></feComponentTransfer></filter></defs><g filter="url(#hcm)"><rect x="699.76" y="47.81" width="532.43" height="532.43" fill="#000"/><rect x="699.76" y="47.81" width="532.43" height="532.43" fill="url(#hgb)" mask="url(#hmb)" style="mix-blend-mode:screen"/><rect x="699.76" y="47.81" width="532.43" height="532.43" fill="url(#hgw)" mask="url(#hmw)" style="mix-blend-mode:screen"/><rect x="699.76" y="47.81" width="532.43" height="532.43" fill="url(#hgn)" mask="url(#hmn)" style="mix-blend-mode:screen"/></g>
<rect x="699.76" y="47.81" width="532.43" height="532.43" fill="none" stroke="#000" stroke-width="0.75"/>
<path d="M753 580.24H1178.95M753 580.24v5.98M859.49 580.24v5.98M965.98 580.24v5.98M1072.46 580.24v5.98M1178.95 580.24v5.98M699.76 523.19V47.81M699.76 523.19h-5.98M699.76 428.12h-5.98M699.76 333.04h-5.98M699.76 237.96h-5.98M699.76 142.89h-5.98M699.76 47.81h-5.98" fill="none" stroke="#000" stroke-width="0.75"/>
<g class="tk">
<text x="753" y="602">-400</text>
<text x="859.49" y="602">-200</text>
<text x="965.98" y="602">0</text>
<text x="1072.46" y="602">200</text>
<text x="1178.95" y="602">400</text>
<text transform="translate(685.1 523.19) rotate(-90)">75</text>
<text transform="translate(685.1 428.12) rotate(-90)">80</text>
<text transform="translate(685.1 333.04) rotate(-90)">85</text>
<text transform="translate(685.1 237.96) rotate(-90)">90</text>
<text transform="translate(685.1 142.89) rotate(-90)">95</text>
<text transform="translate(685.1 47.81) rotate(-90)">100</text>
</g>
<text class="tt" x="965.98" y="31.8">Density heat map for the top hits</text>
<text class="lb" x="965.98" y="626.1">Distance to peak summit</text>
<text class="lb" transform="translate(662 314.02) rotate(-90)">Motif score</text>
<path d="M924.18 580.24V47.81" stroke="#006400" stroke-width="1.5" stroke-dasharray="6 6" stroke-linecap="round" fill="none" clip-path="url(#c10)"/>
<path d="M1007.77 580.24V47.81" stroke="#006400" stroke-width="1.5" stroke-dasharray="6 6" stroke-linecap="round" fill="none" clip-path="url(#c10)"/>
<path d="M699.76 333.04H1232.19" stroke="#CD2020" stroke-width="1.5" stroke-dasharray="6 6" stroke-linecap="round" fill="none" clip-path="url(#c10)"/>
</g>
<g id="p3">
<path d="M79.3 1200.3 80.3 1200.3 81.3 1200.3 82.3 1200.3 83.3 1200.3 84.3 1200.3 85.3 1200.3 86.3 1200.3 87.3 1200.3 88.3 1200.3 89.3 1200.3 90.3 1200.3 91.3 1200.3 92.3 1200.3 93.3 1200.3 94.3 1200.3 95.3 1200.3 96.3 1200.3 97.3 1200.3 98.3 1200.3 99.3 1200.3 100.3 1200.3 101.3 1200.3 102.3 1200.3 103.3 1200.3 104.3 1200.3 105.3 1200.3 106.3 1200.3 107.3 1200.3 108.3 1200.3 109.3 1200.3 110.3 1200.3 111.3 1200.3 112.3 1200.3 113.3 1200.3 114.3 1200.3 115.3 1200.3 116.3 1200.3 117.3 1200.3 118.3 1200.3 119.3 1200.3 120.3 1200.3 121.3 1200.3 122.3 1200.3 123.3 1200.3 124.3 1200.3 125.3 1200.3 126.3 1200.3 127.3 1200.3 128.3 1200.3 129.3 1200.3 130.3 1200.3 131.3 1200.3 132.3 1200.3 133.3 1200.3 134.3 1200.3 135.3 1200.3 136.3 1200.3 137.3 1200.3 138.3 1200.3 139.3 1200.3 140.3 1200.3 141.3 1200.3 142.3 1200.3 143.3 1200.3 144.3 1200.3 145.3 1200.3 146.3 1200.3 147.3 1200.3 148.3 1200.3 149.3 1200.3 150.3 1200.3 151.3 1200.3 152.3 1200.3 153.3 1200.2 154.3 1200.2 155.3 1200.2 156.3 1200.2 157.3 1200.2 158.3 1200.2 159.3 1200.2 160.3 1200.2 161.3 1200.2 162.3 1200.2 163.3 1200.2 164.3 1200.2 165.3 1200.2 166.3 1200.2 167.3 1200.2 168.3 1200.2 169.3 1200.2 170.3 1200.2 171.3 1200.1 172.3 1200.1 173.3 1200.1 174.3 1200.1 175.3 1200.1 176.3 1200.1 177.3 1200.1 178.3 1200.1 179.3 1200.1 180.3 1200.1 181.3 1200.1 182.3 1200.1 183.3 1200.1 184.3 1200.1 185.3 1200.0 186.3 1200.0 187.3 1200.0 188.3 1200.0 189.3 1200.0 190.3 1200.0 191.3 1199.9 192.3 1199.9 193.3 1199.9 194.3 1199.9 195.3 1199.9 196.3 1199.8 197.3 1199.8 198.3 1199.8 199.3 1199.8 200.3 1199.7 201.3 1199.7 202.3 1199.7 203.3 1199.6 204.3 1199.6 205.3 1199.5 206.3 1199.5 207.3 1199.4 208.3 1199.4 209.3 1199.3 210.3 1199.3 211.3 1199.2 212.3 1199.1 213.3 1199.0 214.3 1199.0 215.3 1198.9 216.3 1198.8 217.3 1198.7 218.3 1198.7 219.3 1198.6 220.3 1198.5 221.3 1198.5 222.3 1198.4 223.3 1198.3 224.3 1198.2 225.3 1198.2 226.3 1198.1 227.3 1197.9 228.3 1197.8 229.3 1197.7 230.3 1197.5 231.3 1197.3 232.3 1197.1 233.3 1196.9 234.3 1196.6 235.3 1196.4 236.3 1196.1 237.3 1195.8 238.3 1195.5 239.3 1195.2 240.3 1194.9 241.3 1194.6 242.3 1194.3 243.3 1194.0 244.3 1193.8 245.3 1193.5 246.3 1193.2 247.3 1192.9 248.3 1192.6 249.3 1192.3 250.3 1192.0 251.3 1191.7 252.3 1191.4 253.3 1191.1 254.3 1190.8 255.3 1190.4 256.3 1190.0 257.3 1189.4 258.3 1188.7 259.3 1188.0 260.3 1187.2 261.3 1186.3 262.3 1185.5 263.3 1184.7 264.3 1183.9 265.3 1183.1 266.3 1182.2 267.3 1181.4 268.3 1180.5 269.3 1179.6 270.3 1178.6 271.3 1177.7 272.3 1176.7 273.3 1175.7 274.3 1174.7 275.3 1173.6 276.3 1172.5 277.3 1171.3 278.3 1170.0 279.3 1168.7 280.3 1167.3 281.3 1165.9 282.3 1164.4 283.3 1162.7 284.3 1161.0 285.3 1159.2 286.3 1157.3 287.3 1155.4 288.3 1153.4 289.3 1151.5 290.3 1149.6 291.3 1147.7 292.3 1146.0 293.3 1144.3 294.3 1142.7 295.3 1141.0 296.3 1139.3 297.3 1137.6 298.3 1135.6 299.3 1133.5 300.3 1131.3 301.3 1128.9 302.3 1126.4 303.3 1123.8 304.3 1121.1 305.3 1118.3 306.3 1115.5 307.3 1112.6 308.3 1109.7 309.3 1106.7 310.3 1103.6 311.3 1100.5 312.3 1097.3 313.3 1094.0 314.3 1090.6 315.3 1087.1 316.3 1083.6 317.3 1079.9 318.3 1076.2 319.3 1072.5 320.3 1068.7 321.3 1064.9 322.3 1060.9 323.3 1056.6 324.3 1052.1 325.3 1047.2 326.3 1042.1 327.3 1036.9 328.3 1032.0 329.3 1027.0 330.3 1022.3 331.3 1018.4 332.3 1015.5 333.3 1013.3 334.3 1011.2 335.3 1008.6 336.3 1005.9 337.3 1003.1 338.3 1000.0 339.3 996.4 340.3 992.2 341.3 987.4 342.3 982.2 343.3 977.0 344.3 971.7 345.3 966.2 346.3 960.6 347.3 954.6 348.3 948.2 349.3 940.9 350.3 932.7 351.3 924.1 352.3 915.5 353.3 907.4 354.3 900.1 355.3 893.1 356.3 886.3 357.3 880.0 358.3 874.1 359.3 869.0 360.3 864.0 361.3 859.0 362.3 854.0 363.3 849.0 364.3 844.0 365.3 839.0 366.3 834.0 367.3 829.0 368.3 825.2 369.3 822.3 370.3 819.6 371.3 817.5 372.3 816.1 373.3 814.8 374.3 813.2 375.3 810.9 376.3 807.5 377.3 803.5 378.3 799.5 379.3 795.5 380.3 791.4 381.3 787.2 382.3 783.2 383.3 779.5 384.3 776.2 385.3 773.2 386.3 770.4 387.3 767.5 388.3 764.5 389.3 761.5 390.3 758.5 391.3 755.5 392.3 752.1 393.3 748.0 394.3 743.6 395.3 739.5 396.3 735.9 397.3 732.5 398.3 729.3 399.3 726.3 400.3 723.8 401.3 721.6 402.3 719.7 403.3 718.0 404.3 716.6 405.3 715.4 406.3 714.5 407.3 714.1 408.3 714.3 409.3 715.4 410.3 717.3 411.3 720.8 412.3 724.7 413.3 728.9 414.3 733.2 415.3 737.8 416.3 741.6 417.3 742.3 418.3 741.0 419.3 738.7 420.3 734.8 421.3 729.4 422.3 723.7 423.3 718.7 424.3 714.1 425.3 710.2 426.3 707.7 427.3 707.0 428.3 707.3 429.3 708.6 430.3 711.5 431.3 715.1 432.3 719.6 433.3 725.2 434.3 731.4 435.3 737.8 436.3 744.3 437.3 751.0 438.3 757.7 439.3 764.3 440.3 770.2 441.3 775.4 442.3 780.0 443.3 783.9 444.3 786.3 445.3 786.9 446.3 787.0 447.3 787.3 448.3 787.9 449.3 789.1 450.3 792.2 451.3 797.2 452.3 803.6 453.3 810.8 454.3 818.3 455.3 825.6 456.3 832.5 457.3 839.1 458.3 845.0 459.3 847.5 460.3 846.7 461.3 843.3 462.3 838.8 463.3 834.1 464.3 829.6 465.3 826.1 466.3 824.5 467.3 824.9 468.3 827.0 469.3 832.1 470.3 839.4 471.3 849.2 472.3 859.2 473.3 869.2 474.3 879.2 475.3 889.2 476.3 898.6 477.3 907.6 478.3 916.8 479.3 926.2 480.3 935.3 481.3 943.3 482.3 949.4 483.3 954.8 484.3 960.1 485.3 965.4 486.3 970.8 487.3 976.1 488.3 981.4 489.3 986.8 490.3 993.4 491.3 1001.4 492.3 1009.7 493.3 1018.2 494.3 1026.8 495.3 1035.1 496.3 1042.9 497.3 1050.2 498.3 1056.9 499.3 1061.3 500.3 1063.5 501.3 1063.3 502.3 1062.4 503.3 1061.1 504.3 1059.2 505.3 1057.0 506.3 1055.0 507.3 1053.4 508.3 1052.2 509.3 1051.5 510.3 1051.1 511.3 1051.2 512.3 1051.8 513.3 1052.8 514.3 1054.9 515.3 1057.4 516.3 1061.3 517.3 1068.1 518.3 1077.1 519.3 1086.1 520.3 1095.1 521.3 1104.1 522.3 1113.1 523.3 1122.1 524.3 1131.1 525.3 1139.2 526.3 1145.5 527.3 1150.4 528.3 1154.2 529.3 1157.6 530.3 1160.7 531.3 1163.5 532.3 1166.0 533.3 1168.4 534.3 1170.7 535.3 1172.9 536.3 1174.9 537.3 1176.6 538.3 1177.9 539.3 1179.0 540.3 1179.7 541.3 1180.0 542.3 1179.9 543.3 1179.8 544.3 1179.7 545.3 1179.6 546.3 1179.7 547.3 1180.0 548.3 1180.6 549.3 1181.4 550.3 1182.2 551.3 1183.0 552.3 1183.9 553.3 1184.9 554.3 1185.9 555.3 1186.9 556.3 1187.9 557.3 1189.0 558.3 1190.2 559.3 1191.5 560.3 1192.8 561.3 1194.1 562.3 1195.3 563.3 1196.5 564.3 1197.5 565.3 1198.5 566.3 1199.3 567.3 1199.8 568.3 1200.0 569.3 1200.1 570.3 1200.1 571.3 1200.2 572.3 1200.1 572.8 1200.3Z" fill="#F5DEB3" stroke="#000" stroke-width="1.1" stroke-linejoin="round"/>
<rect x="59.76" y="687.81" width="532.43" height="532.43" fill="none" stroke="#000" stroke-width="0.75"/>
<path d="M142.85 1220.24H558.67M142.85 1220.24v5.98M226.01 1220.24v5.98M309.18 1220.24v5.98M392.34 1220.24v5.98M475.5 1220.24v5.98M558.67 1220.24v5.98M59.76 1200.52V690.66M59.76 1200.52h-5.98M59.76 1115.54h-5.98M59.76 1030.57h-5.98M59.76 945.59h-5.98M59.76 860.61h-5.98M59.76 775.64h-5.98M59.76 690.66h-5.98" fill="none" stroke="#000" stroke-width="0.75"/>
<g class="tk">
<text x="142.85" y="1242">75</text>
<text x="226.01" y="1242">80</text>
<text x="309.18" y="1242">85</text>
<text x="392.34" y="1242">90</text>
<text x="475.5" y="1242">95</text>
<text x="558.67" y="1242">100</text>
<text transform="translate(45.1 1200.52) rotate(-90)">0.00</text>
<text transform="translate(45.1 1115.54) rotate(-90)">0.02</text>
<text transform="translate(45.1 1030.57) rotate(-90)">0.04</text>
<text transform="translate(45.1 945.59) rotate(-90)">0.06</text>
<text transform="translate(45.1 860.61) rotate(-90)">0.08</text>
<text transform="translate(45.1 775.64) rotate(-90)">0.10</text>
<text transform="translate(45.1 690.66) rotate(-90)">0.12</text>
</g>
<text class="tt" x="325.98" y="671.8">Motif score threshold: 85.000</text>
<text class="lb" x="325.98" y="1266.1">Motif score</text>
<text class="lb" transform="translate(22 954.02) rotate(-90)">Density</text>
<path d="M309.18 1220.24V687.81" stroke="#CD2020" stroke-width="1.5" stroke-dasharray="6 6" stroke-linecap="round" fill="none" clip-path="url(#c01)"/>
</g>
<g id="p4">
<path d="M719.3 1200.3 720.3 1199.1 721.2 1197.6 722.2 1196.4 723.2 1195.5 724.1 1195.3 725.1 1195.1 726.1 1195.0 727.1 1195.5 728.0 1195.6 729.0 1195.3 730.0 1195.3 730.9 1195.5 731.9 1195.4 732.9 1195.1 733.8 1195.0 734.8 1195.4 735.8 1195.5 736.8 1195.3 737.7 1195.2 738.7 1195.7 739.7 1195.6 740.6 1195.6 741.6 1195.9 742.6 1195.5 743.5 1194.9 744.5 1194.7 745.5 1194.8 746.5 1195.3 747.4 1195.3 748.4 1195.3 749.4 1195.3 750.3 1195.1 751.3 1195.0 752.3 1194.8 753.2 1194.7 754.2 1195.1 755.2 1195.8 756.2 1196.0 757.1 1195.6 758.1 1195.5 759.1 1195.4 760.0 1195.3 761.0 1194.9 762.0 1194.4 762.9 1194.6 763.9 1195.4 764.9 1196.0 765.9 1195.6 766.8 1195.4 767.8 1195.7 768.8 1195.6 769.7 1195.3 770.7 1195.3 771.7 1195.2 772.6 1194.9 773.6 1194.8 774.6 1195.1 775.6 1195.4 776.5 1195.5 777.5 1195.0 778.5 1194.6 779.4 1195.1 780.4 1195.6 781.4 1195.2 782.3 1194.7 783.3 1194.6 784.3 1194.7 785.3 1194.8 786.2 1195.0 787.2 1195.4 788.2 1195.4 789.1 1195.4 790.1 1195.9 791.1 1195.8 792.0 1195.4 793.0 1195.4 794.0 1195.5 795.0 1195.1 795.9 1194.9 796.9 1195.4 797.9 1195.7 798.8 1195.4 799.8 1195.1 800.8 1195.1 801.7 1195.1 802.7 1195.4 803.7 1195.9 804.7 1196.1 805.6 1195.9 806.6 1195.8 807.6 1195.7 808.5 1195.5 809.5 1195.3 810.5 1195.3 811.4 1195.7 812.4 1196.2 813.4 1196.0 814.4 1195.5 815.3 1195.2 816.3 1195.3 817.3 1195.6 818.2 1195.5 819.2 1195.3 820.2 1195.4 821.1 1195.7 822.1 1195.9 823.1 1196.1 824.1 1196.0 825.0 1195.7 826.0 1195.5 827.0 1195.8 827.9 1196.0 828.9 1195.8 829.9 1195.4 830.8 1195.5 831.8 1195.6 832.8 1195.4 833.8 1195.7 834.7 1196.0 835.7 1195.7 836.7 1195.5 837.6 1195.8 838.6 1195.8 839.6 1195.8 840.5 1196.0 841.5 1196.0 842.5 1196.0 843.5 1196.1 844.4 1195.8 845.4 1195.5 846.4 1195.5 847.3 1195.5 848.3 1195.6 849.3 1195.2 850.2 1195.1 851.2 1195.3 852.2 1195.1 853.2 1195.1 854.1 1195.5 855.1 1195.7 856.1 1195.7 857.0 1195.5 858.0 1195.2 859.0 1195.2 859.9 1195.4 860.9 1195.5 861.9 1195.5 862.9 1195.4 863.8 1195.3 864.8 1195.4 865.8 1195.3 866.7 1195.6 867.7 1196.2 868.7 1196.5 869.6 1196.3 870.6 1195.8 871.6 1196.1 872.6 1196.5 873.5 1196.2 874.5 1195.9 875.5 1196.2 876.4 1196.3 877.4 1195.9 878.4 1196.1 879.3 1196.3 880.3 1196.0 881.3 1195.9 882.3 1195.7 883.2 1195.5 884.2 1195.7 885.2 1195.9 886.1 1196.1 887.1 1196.1 888.1 1195.9 889.0 1196.0 890.0 1196.3 891.0 1196.1 892.0 1195.8 892.9 1195.9 893.9 1196.0 894.9 1196.0 895.8 1196.2 896.8 1196.2 897.8 1195.7 898.7 1195.0 899.7 1195.0 900.7 1195.4 901.7 1195.5 902.6 1195.6 903.6 1195.3 904.6 1195.0 905.5 1194.9 906.5 1194.3 907.5 1194.1 908.4 1194.4 909.4 1194.0 910.4 1194.0 911.4 1194.1 912.3 1193.5 913.3 1193.0 914.3 1193.0 915.2 1192.5 916.2 1192.1 917.2 1192.4 918.1 1192.5 919.1 1192.4 920.1 1192.1 921.1 1191.6 922.0 1191.4 923.0 1191.2 924.0 1190.9 924.9 1190.7 925.9 1190.4 926.9 1190.0 927.8 1189.5 928.8 1188.9 929.8 1188.1 930.8 1187.3 931.7 1186.5 932.7 1185.6 933.7 1184.5 934.6 1183.5 935.6 1182.6 936.6 1181.9 937.5 1181.4 938.5 1180.3 939.5 1177.9 940.5 1175.1 941.4 1172.7 942.4 1170.8 943.4 1169.0 944.3 1166.8 945.3 1163.8 946.3 1160.3 947.2 1156.7 948.2 1152.9 949.2 1148.3 950.2 1142.6 951.1 1136.2 952.1 1129.4 953.1 1121.1 954.0 1109.8 955.0 1096.6 956.0 1082.4 956.9 1066.6 957.9 1042.6 958.9 996.8 960.9 881.6 961.5 830.0 962.0 790.0 963.0 755.0 963.4 740.9 964.3 760.0 965.4 776.7 966.5 755.0 967.8 720.0 968.4 707.3 969.2 725.0 970.2 790.0 970.9 830.0 971.5 881.6 973.4 989.4 974.4 1015.4 975.4 1040.4 976.3 1062.0 977.3 1079.1 978.3 1093.9 979.3 1106.1 980.2 1116.5 981.2 1124.8 982.2 1131.4 983.1 1137.1 984.1 1142.4 985.1 1147.2 986.0 1151.7 987.0 1155.9 988.0 1160.0 989.0 1163.5 989.9 1166.3 990.9 1168.7 991.9 1170.9 992.8 1173.3 993.8 1175.7 994.8 1177.8 995.7 1179.3 996.7 1180.6 997.7 1181.7 998.7 1182.7 999.6 1183.8 1000.6 1185.0 1001.6 1185.9 1002.5 1186.3 1003.5 1186.5 1004.5 1186.7 1005.4 1187.0 1006.4 1187.3 1007.4 1187.8 1008.4 1188.2 1009.3 1188.7 1010.3 1189.2 1011.3 1189.5 1012.2 1190.0 1013.2 1191.0 1014.2 1192.0 1015.1 1192.3 1016.1 1192.7 1017.1 1193.0 1018.1 1192.7 1019.0 1192.6 1020.0 1192.9 1021.0 1193.4 1021.9 1194.1 1022.9 1194.2 1023.9 1193.9 1024.8 1194.4 1025.8 1195.0 1026.8 1194.7 1027.8 1194.4 1028.7 1194.8 1029.7 1195.1 1030.7 1195.0 1031.6 1194.7 1032.6 1194.8 1033.6 1195.3 1034.5 1195.2 1035.5 1195.2 1036.5 1195.9 1037.5 1196.1 1038.4 1195.9 1039.4 1195.9 1040.4 1195.9 1041.3 1195.7 1042.3 1195.6 1043.3 1195.7 1044.2 1195.7 1045.2 1195.7 1046.2 1195.6 1047.2 1195.8 1048.1 1196.2 1049.1 1196.3 1050.1 1195.8 1051.0 1195.4 1052.0 1195.5 1053.0 1195.5 1053.9 1195.7 1054.9 1196.1 1055.9 1196.5 1056.9 1196.5 1057.8 1196.4 1058.8 1196.8 1059.8 1196.7 1060.7 1195.6 1061.7 1194.8 1062.7 1195.1 1063.6 1195.0 1064.6 1194.6 1065.6 1194.9 1066.6 1195.0 1067.5 1195.0 1068.5 1195.4 1069.5 1195.5 1070.4 1195.2 1071.4 1195.1 1072.4 1194.9 1073.3 1194.9 1074.3 1195.2 1075.3 1195.3 1076.3 1194.8 1077.2 1194.6 1078.2 1194.9 1079.2 1194.9 1080.1 1195.3 1081.1 1195.8 1082.1 1195.4 1083.0 1194.7 1084.0 1194.9 1085.0 1195.4 1086.0 1195.5 1086.9 1195.6 1087.9 1195.7 1088.9 1195.4 1089.8 1195.1 1090.8 1194.6 1091.8 1194.1 1092.7 1194.5 1093.7 1195.1 1094.7 1195.4 1095.7 1195.4 1096.6 1195.4 1097.6 1195.5 1098.6 1195.5 1099.5 1195.2 1100.5 1195.0 1101.5 1195.0 1102.4 1195.4 1103.4 1195.6 1104.4 1195.7 1105.4 1196.0 1106.3 1195.9 1107.3 1195.6 1108.3 1195.4 1109.2 1195.1 1110.2 1195.3 1111.2 1195.2 1112.1 1195.1 1113.1 1195.4 1114.1 1195.4 1115.1 1195.3 1116.0 1195.4 1117.0 1195.7 1118.0 1195.7 1118.9 1195.0 1119.9 1194.7 1120.9 1195.1 1121.8 1195.4 1122.8 1195.1 1123.8 1195.0 1124.8 1194.9 1125.7 1194.4 1126.7 1194.4 1127.7 1194.7 1128.6 1194.9 1129.6 1194.8 1130.6 1194.6 1131.5 1194.6 1132.5 1194.6 1133.5 1194.8 1134.5 1194.8 1135.4 1194.7 1136.4 1194.9 1137.4 1195.2 1138.3 1195.2 1139.3 1195.2 1140.3 1195.1 1141.2 1194.9 1142.2 1195.1 1143.2 1195.2 1144.2 1195.1 1145.1 1194.8 1146.1 1194.9 1147.1 1195.4 1148.0 1195.6 1149.0 1195.1 1150.0 1194.9 1150.9 1195.0 1151.9 1195.2 1152.9 1195.3 1153.9 1194.9 1154.8 1194.2 1155.8 1194.2 1156.8 1194.5 1157.7 1194.6 1158.7 1194.6 1159.7 1194.7 1160.6 1195.3 1161.6 1195.1 1162.6 1194.3 1163.6 1194.4 1164.5 1194.9 1165.5 1194.9 1166.5 1194.6 1167.4 1194.3 1168.4 1194.5 1169.4 1195.1 1170.3 1195.3 1171.3 1194.9 1172.3 1194.6 1173.3 1194.7 1174.2 1194.9 1175.2 1195.0 1176.2 1194.8 1177.1 1194.7 1178.1 1194.6 1179.1 1194.6 1180.0 1195.0 1181.0 1195.1 1182.0 1194.7 1183.0 1194.6 1183.9 1194.7 1184.9 1195.1 1185.9 1195.1 1186.8 1194.9 1187.8 1194.9 1188.8 1194.7 1189.7 1194.4 1190.7 1194.4 1191.7 1194.5 1192.7 1194.6 1193.6 1194.6 1194.6 1194.6 1195.6 1194.9 1196.5 1194.9 1197.5 1194.4 1198.5 1194.2 1199.4 1194.8 1200.4 1195.0 1201.4 1194.5 1202.4 1194.2 1203.3 1194.7 1204.3 1194.8 1205.3 1194.4 1206.2 1194.5 1207.2 1194.7 1208.2 1194.7 1209.1 1195.1 1210.1 1195.9 1211.1 1197.7 1212.1 1199.7 1212.6 1200.3Z" fill="#F5DEB3" stroke="#000" stroke-width="1.1" stroke-linejoin="round"/>
<rect x="699.76" y="687.81" width="532.43" height="532.43" fill="none" stroke="#000" stroke-width="0.75"/>
<path d="M767.49 1220.24H1163.47M767.49 1220.24v5.98M866.49 1220.24v5.98M965.48 1220.24v5.98M1064.47 1220.24v5.98M1163.47 1220.24v5.98M699.76 1200.52V752.25M699.76 1200.52h-5.98M699.76 1088.45h-5.98M699.76 976.38h-5.98M699.76 864.31h-5.98M699.76 752.25h-5.98" fill="none" stroke="#000" stroke-width="0.75"/>
<g class="tk">
<text x="767.49" y="1242">-400</text>
<text x="866.49" y="1242">-200</text>
<text x="965.48" y="1242">0</text>
<text x="1064.47" y="1242">200</text>
<text x="1163.47" y="1242">400</text>
<text transform="translate(685.1 1200.52) rotate(-90)">0.000</text>
<text transform="translate(685.1 1088.45) rotate(-90)">0.005</text>
<text transform="translate(685.1 976.38) rotate(-90)">0.010</text>
<text transform="translate(685.1 864.31) rotate(-90)">0.015</text>
<text transform="translate(685.1 752.25) rotate(-90)">0.020</text>
</g>
<text class="tt" x="965.98" y="671.8">Enrichment zone: 78.50</text>
<text class="lb" x="965.98" y="1266.1">Distance to peak summit</text>
<text class="lb" transform="translate(662 954.02) rotate(-90)">Density</text>
<path d="M926.62 1220.24V687.81" stroke="#006400" stroke-width="1.5" stroke-dasharray="6 6" stroke-linecap="round" fill="none" clip-path="url(#c11)"/>
<path d="M1004.34 1220.24V687.81" stroke="#006400" stroke-width="1.5" stroke-dasharray="6 6" stroke-linecap="round" fill="none" clip-path="url(#c11)"/>
<path d="M1016.9 703.45H1041.4" stroke="#006400" stroke-width="1.125" stroke-dasharray="1.125 3.375" stroke-linecap="round" fill="none"/>
<path d="M1016.9 718.95H1041.4" stroke="#CD2020" stroke-width="1.125" stroke-dasharray="1.125 3.375" stroke-linecap="round" fill="none"/>
<circle cx="1029.1" cy="734.45" r="2.8" fill="#00f"/>
<g class="lg"><text x="1052.5" y="707.5">enrichment zone = 78.5</text><text x="1052.5" y="723.05">motif score threshold = 85.000</text><text x="1052.5" y="738.6">centrality p-val = -93.0286</text></g>
</g>
</svg></body></html>
